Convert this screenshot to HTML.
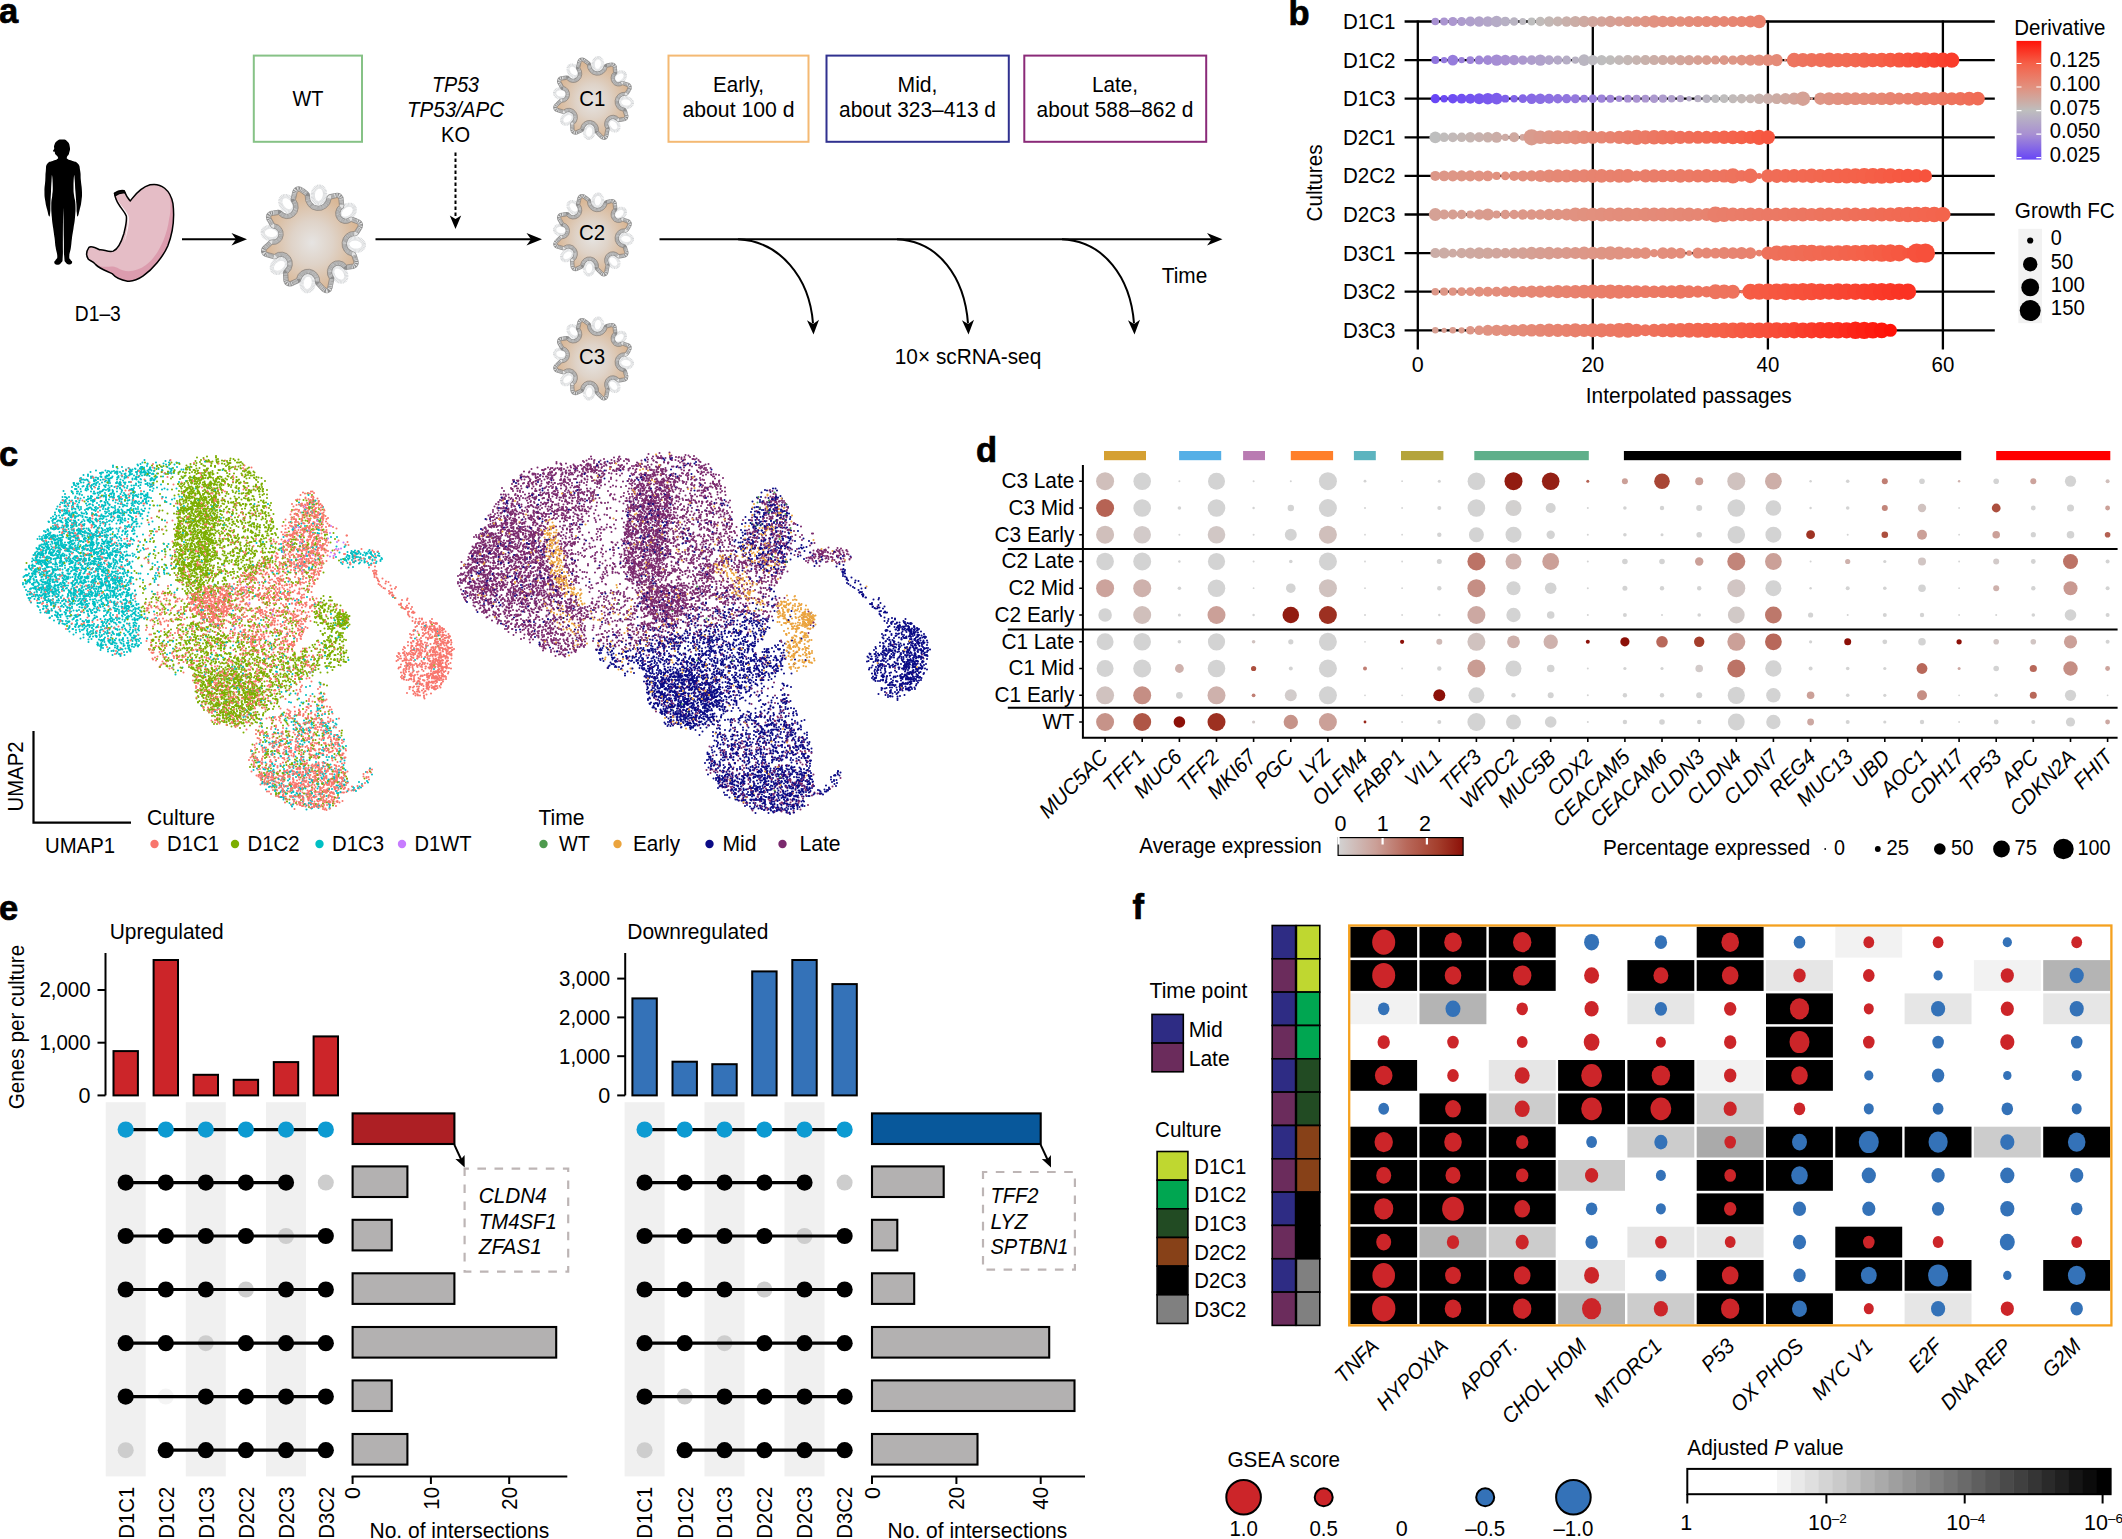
<!DOCTYPE html>
<html><head><meta charset="utf-8"><title>Figure</title>
<style>
html,body{margin:0;padding:0;background:#fff;overflow:hidden;}
svg{display:block;font-family:"Liberation Sans",sans-serif;}
text{fill:#000;}
.t{font-size:21px;}
.i{font-style:italic;}
.b{font-weight:bold;}
</style></head><body>
<svg width="2122" height="1539" viewBox="0 0 2122 1539">
<defs>
<radialGradient id="og1" cx="50%" cy="53%" r="50%"><stop offset="0" stop-color="#e6e4e2"/><stop offset="0.45" stop-color="#dfd3c8"/><stop offset="1" stop-color="#d9b796"/></radialGradient>
<linearGradient id="dg" x1="0" y1="0" x2="0" y2="1"><stop offset="0.000" stop-color="#ff1208"/><stop offset="0.190" stop-color="#f56048"/><stop offset="0.389" stop-color="#e2907e"/><stop offset="0.587" stop-color="#bebebe"/><stop offset="0.785" stop-color="#a890d2"/><stop offset="1.000" stop-color="#6846f6"/></linearGradient>
<linearGradient id="eg" x1="0" y1="0" x2="1" y2="0"><stop offset="0.00" stop-color="#d3d3d3"/><stop offset="0.30" stop-color="#cba098"/><stop offset="0.55" stop-color="#b8685a"/><stop offset="0.80" stop-color="#a43e2c"/><stop offset="1.00" stop-color="#8c1008"/></linearGradient>
</defs>
<text x="-1.0" y="22.5" class="b" stroke="#000" stroke-width="0.7" font-size="34.5">a</text>
<path d="M235 70 C254.7 70.5 256.8 67.3 272 82 C287.2 96.7 288.3 101 292 125 C295.7 149 291.3 153.1 286 172 C280.7 190.9 274.7 185.1 272 196 C269.3 206.9 265.3 204.5 276 213 C286.7 221.5 291.7 218.7 312 228 C332.3 237.3 337.1 228.8 352 248 C366.9 267.2 362.4 267.5 368 300 C373.6 332.5 369.5 330 373 370 C376.5 410 379.9 410 381 450 C382.1 490 381.5 484 377 520 C372.5 556 371.2 555.1 364 585 C356.8 614.9 355.6 626.7 350 632 C344.4 637.3 345.7 629.5 343 605 C340.3 580.5 342.7 581.3 340 540 C337.3 498.7 336.2 495.3 333 450 C329.8 404.7 330.7 400.7 328 370 C325.3 339.3 325.4 321.7 323 335 C320.6 348.3 319 381.3 319 420 C319 458.7 319.3 446.7 323 480 C326.7 513.3 331.1 502.3 333 545 C334.9 587.7 333.7 593.3 330 640 C326.3 686.7 324.9 680 319 720 C313.1 760 313.1 752.7 308 790 C302.9 827.3 305.3 824 300 860 C294.7 896 289.1 901 288 925 C286.9 949 290.4 938 296 950 C301.6 962 310.6 960.4 309 970 C307.4 979.6 302.5 985.5 290 986 C277.5 986.5 272.4 986.9 262 972 C251.6 957.1 254.7 975.9 251 930 C247.3 884.1 249.6 884.8 248 800 C246.4 715.2 246.3 662.1 245 612 C243.7 561.9 244.1 561.9 243 612 C241.9 662.1 241.8 715.2 241 800 C240.2 884.8 242.9 884.1 240 930 C237.1 975.9 241.2 956.5 230 972 C218.8 987.5 211.9 988 198 988 C184.1 988 180.1 982.1 178 972 C175.9 961.9 184.1 962.5 190 950 C195.9 937.5 200.5 949 200 925 C199.5 901 193.3 896 188 860 C182.7 824 184.8 827.3 180 790 C175.2 752.7 175.3 760 170 720 C164.7 680 163.7 686.7 160 640 C156.3 593.3 155.2 587.7 156 545 C156.8 502.3 160.1 513.3 163 480 C165.9 446.7 167.3 458.7 167 420 C166.7 381.3 164.4 348.3 162 335 C159.6 321.7 160.1 339.3 158 370 C155.9 400.7 156.1 404.7 154 450 C151.9 495.3 151.6 498.7 150 540 C148.4 581.3 150.7 580.5 148 605 C145.3 629.5 145.9 637.3 140 632 C134.1 626.7 133.5 614.9 126 585 C118.5 555.1 117.3 556 112 520 C106.7 484 106 490 106 450 C106 410 109.3 410 112 370 C114.7 330 112 332.5 116 300 C120 267.5 113.7 267.2 127 248 C140.3 228.8 146.5 237.3 166 228 C185.5 218.7 190.1 221.5 200 213 C209.9 204.5 206.7 205.3 203 196 C199.3 186.7 192.1 187.6 186 178 C179.9 168.4 184.8 166.1 180 160 C175.2 153.9 168.8 160.9 168 155 C167.2 149.1 174.3 149.5 177 138 C179.7 126.5 172.4 127.5 178 112 C183.6 96.5 182.8 91.2 198 80 C213.2 68.8 215.3 69.5 235 70Z" fill="#000" transform="translate(30,130) scale(0.13641)"/>
<g transform="translate(30,130) scale(0.13641)">
<path d="M620,462 C640,448 670,442 690,445 C700,470 715,500 735,520 C760,490 800,425 880,402 C960,385 1030,440 1048,540 C1060,640 1045,760 1010,850 C975,930 900,1020 830,1070 C790,1098 750,1112 715,1108 C670,1100 630,1085 605,1055 C570,1035 520,1025 480,985 C460,960 440,960 428,948 C412,925 412,890 432,860 C450,848 480,862 510,878 C540,872 570,898 610,888 C650,870 670,820 688,760 C700,710 712,670 706,630 C690,590 650,560 632,510 C625,495 620,478 620,462 Z" fill="#e5bdc6" stroke="none"/>
<path d="M428,948 C460,960 470,985 520,1000 C570,1010 600,990 640,1010 C700,1050 780,1040 850,990 C930,930 1000,800 1020,650 C1040,560 1030,480 1005,440 C1040,470 1055,560 1050,680 C1040,800 1000,900 930,980 C860,1060 770,1115 700,1105 C660,1100 625,1080 605,1055 C570,1035 520,1025 480,985 C460,960 440,960 428,948 Z" fill="#dc9cae"/>
<path d="M640,500 C660,560 715,590 725,640 C730,700 705,780 690,830 C705,760 722,690 712,640 C700,600 655,560 640,500 Z" fill="#fff" opacity="0.85"/>
<path d="M620,462 C640,448 670,442 690,445 C700,470 715,500 735,520 C760,490 800,425 880,402 C960,385 1030,440 1048,540 C1060,640 1045,760 1010,850 C975,930 900,1020 830,1070 C790,1098 750,1112 715,1108 C670,1100 630,1085 605,1055 C570,1035 520,1025 480,985 C460,960 440,960 428,948 C412,925 412,890 432,860 C450,848 480,862 510,878 C540,872 570,898 610,888 C650,870 670,820 688,760 C700,710 712,670 706,630 C690,590 650,560 632,510 C625,495 620,478 620,462 Z" fill="none" stroke="#000" stroke-width="11" stroke-linejoin="round"/>
<path d="M618,466 C640,450 668,444 692,447 L697,462 C672,458 646,466 626,482 Z" fill="#111" stroke="#000" stroke-width="8"/>
</g>
<text x="97.8" y="321.0" text-anchor="middle" textLength="46.0" lengthAdjust="spacingAndGlyphs" font-size="21.5">D1–3</text>
<path d="M182 239.3 H241" stroke="#000" stroke-width="2" fill="none"/><path d="M247 239.3 L231.5 245.6 L236 239.3 L231.5 233.1 Z" fill="#000"/>
<path d="M375.5 239.3 H536" stroke="#000" stroke-width="2" fill="none"/><path d="M542 239.3 L526.5 245.6 L531 239.3 L526.5 233.1 Z" fill="#000"/>
<path d="M659.5 239.3 H1216.5" stroke="#000" stroke-width="2" fill="none"/><path d="M1222.5 239.3 L1207 245.6 L1211.5 239.3 L1207 233.1 Z" fill="#000"/>
<rect x="253.8" y="55.6" width="108.2" height="86.2" fill="none" stroke="#86c286" stroke-width="2"/>
<text x="308.0" y="106.2" text-anchor="middle" textLength="31.0" lengthAdjust="spacingAndGlyphs" font-size="21.5">WT</text>
<rect x="668.5" y="55.6" width="140" height="86.2" fill="none" stroke="#f4b973" stroke-width="2"/>
<rect x="826.5" y="55.6" width="182.3" height="86.2" fill="none" stroke="#30318f" stroke-width="2"/>
<rect x="1024.3" y="55.6" width="181.9" height="86.2" fill="none" stroke="#8a2a78" stroke-width="2"/>
<text x="738.5" y="91.5" text-anchor="middle" textLength="51.0" lengthAdjust="spacingAndGlyphs" font-size="21.5">Early,</text>
<text x="738.5" y="116.6" text-anchor="middle" textLength="112.0" lengthAdjust="spacingAndGlyphs" font-size="21.5">about 100 d</text>
<text x="917.5" y="91.5" text-anchor="middle" textLength="40.0" lengthAdjust="spacingAndGlyphs" font-size="21.5">Mid,</text>
<text x="917.5" y="116.6" text-anchor="middle" textLength="157.0" lengthAdjust="spacingAndGlyphs" font-size="21.5">about 323–413 d</text>
<text x="1115.0" y="91.5" text-anchor="middle" textLength="46.0" lengthAdjust="spacingAndGlyphs" font-size="21.5">Late,</text>
<text x="1115.0" y="116.6" text-anchor="middle" textLength="157.0" lengthAdjust="spacingAndGlyphs" font-size="21.5">about 588–862 d</text>
<text x="455.5" y="91.5" text-anchor="middle" textLength="47.0" lengthAdjust="spacingAndGlyphs" class="i" font-size="21.5">TP53</text>
<text x="455.5" y="116.6" text-anchor="middle" textLength="97.0" lengthAdjust="spacingAndGlyphs" class="i" font-size="21.5">TP53/APC</text>
<text x="455.5" y="141.8" text-anchor="middle" textLength="29.0" lengthAdjust="spacingAndGlyphs" font-size="21.5">KO</text>
<path d="M455.5 152.5 V218" stroke="#000" stroke-width="2" stroke-dasharray="3.6 2.4" fill="none"/>
<path d="M455.5 229 L449.8 215.5 L455.5 219 L461.2 215.5 Z" fill="#000"/>
<ellipse cx="355.6" cy="244.6" rx="8.3" ry="6.1" transform="rotate(7.5 355.6 244.6)" fill="#fff" stroke="#d6d8da" stroke-width="4.3" stroke-dasharray="0.8 0.45"/>
<ellipse cx="339.3" cy="274" rx="8.3" ry="6.1" transform="rotate(52.5 339.3 274)" fill="#fff" stroke="#d6d8da" stroke-width="4.3" stroke-dasharray="0.8 0.45"/>
<ellipse cx="307.7" cy="282.8" rx="8.3" ry="6.1" transform="rotate(97.5 307.7 282.8)" fill="#fff" stroke="#d6d8da" stroke-width="4.3" stroke-dasharray="0.8 0.45"/>
<ellipse cx="279.4" cy="265.8" rx="8.3" ry="6.1" transform="rotate(142.5 279.4 265.8)" fill="#fff" stroke="#d6d8da" stroke-width="4.3" stroke-dasharray="0.8 0.45"/>
<ellipse cx="271" cy="233" rx="8.3" ry="6.1" transform="rotate(187.5 271 233)" fill="#fff" stroke="#d6d8da" stroke-width="4.3" stroke-dasharray="0.8 0.45"/>
<ellipse cx="287.3" cy="203.6" rx="8.3" ry="6.1" transform="rotate(232.5 287.3 203.6)" fill="#fff" stroke="#d6d8da" stroke-width="4.3" stroke-dasharray="0.8 0.45"/>
<ellipse cx="318.9" cy="194.8" rx="8.3" ry="6.1" transform="rotate(277.5 318.9 194.8)" fill="#fff" stroke="#d6d8da" stroke-width="4.3" stroke-dasharray="0.8 0.45"/>
<ellipse cx="347.2" cy="211.8" rx="8.3" ry="6.1" transform="rotate(322.5 347.2 211.8)" fill="#fff" stroke="#d6d8da" stroke-width="4.3" stroke-dasharray="0.8 0.45"/>
<path d="M357 227.6 L354.6 231.4 A11.9 12.4 0 0 0 351.9 256 L353.3 260.3 Q355.2 264.3 350.9 264.3 L346.5 265 A10.8 11.3 0 0 0 329.4 278.8 L328.1 285.3 Q327.6 290.8 324.2 286.5 L319.8 281.9 A11.8 12.2 0 0 0 296.5 278.7 L292 280.7 Q287.9 283.2 288.1 278.2 L287.8 273.2 A11.3 11.7 0 0 0 274.3 254.4 L268.8 252.8 Q263.5 251.8 267.8 248.5 L272.2 244.4 A9.9 10.3 0 0 0 274.4 223.8 L271.9 219.4 Q269 215.4 273.8 215.3 L278.6 214.6 A11.1 11.5 0 0 0 295.5 199.6 L296.7 194.3 Q297.4 189.1 301.1 192.5 L305.2 195.6 A13.1 13.6 0 0 0 331.2 198.9 L335.3 198 Q339.1 196.4 338.9 200.9 L339.4 205.3 A9.9 10.2 0 0 0 351.3 221.6 L355.5 223.2 Q359.9 224.1 357 227.6Z" fill="none" stroke="#8e8e8e" stroke-width="9.8" stroke-linejoin="round"/>
<path d="M357 227.6 L354.6 231.4 A11.9 12.4 0 0 0 351.9 256 L353.3 260.3 Q355.2 264.3 350.9 264.3 L346.5 265 A10.8 11.3 0 0 0 329.4 278.8 L328.1 285.3 Q327.6 290.8 324.2 286.5 L319.8 281.9 A11.8 12.2 0 0 0 296.5 278.7 L292 280.7 Q287.9 283.2 288.1 278.2 L287.8 273.2 A11.3 11.7 0 0 0 274.3 254.4 L268.8 252.8 Q263.5 251.8 267.8 248.5 L272.2 244.4 A9.9 10.3 0 0 0 274.4 223.8 L271.9 219.4 Q269 215.4 273.8 215.3 L278.6 214.6 A11.1 11.5 0 0 0 295.5 199.6 L296.7 194.3 Q297.4 189.1 301.1 192.5 L305.2 195.6 A13.1 13.6 0 0 0 331.2 198.9 L335.3 198 Q339.1 196.4 338.9 200.9 L339.4 205.3 A9.9 10.2 0 0 0 351.3 221.6 L355.5 223.2 Q359.9 224.1 357 227.6Z" fill="none" stroke="#e2e2e2" stroke-width="8.5" stroke-dasharray="0.5 0.6" stroke-linejoin="round"/>
<path d="M357 227.6 L354.6 231.4 A11.9 12.4 0 0 0 351.9 256 L353.3 260.3 Q355.2 264.3 350.9 264.3 L346.5 265 A10.8 11.3 0 0 0 329.4 278.8 L328.1 285.3 Q327.6 290.8 324.2 286.5 L319.8 281.9 A11.8 12.2 0 0 0 296.5 278.7 L292 280.7 Q287.9 283.2 288.1 278.2 L287.8 273.2 A11.3 11.7 0 0 0 274.3 254.4 L268.8 252.8 Q263.5 251.8 267.8 248.5 L272.2 244.4 A9.9 10.3 0 0 0 274.4 223.8 L271.9 219.4 Q269 215.4 273.8 215.3 L278.6 214.6 A11.1 11.5 0 0 0 295.5 199.6 L296.7 194.3 Q297.4 189.1 301.1 192.5 L305.2 195.6 A13.1 13.6 0 0 0 331.2 198.9 L335.3 198 Q339.1 196.4 338.9 200.9 L339.4 205.3 A9.9 10.2 0 0 0 351.3 221.6 L355.5 223.2 Q359.9 224.1 357 227.6Z" fill="url(#og1)" stroke="#8f857c" stroke-width="0.8" stroke-linejoin="round"/>
<ellipse cx="626" cy="102.5" rx="6.4" ry="4.7" transform="rotate(7.5 626 102.5)" fill="#fff" stroke="#d6d8da" stroke-width="3.3" stroke-dasharray="0.8 0.45"/>
<ellipse cx="613.5" cy="125.1" rx="6.4" ry="4.7" transform="rotate(52.5 613.5 125.1)" fill="#fff" stroke="#d6d8da" stroke-width="3.3" stroke-dasharray="0.8 0.45"/>
<ellipse cx="589.2" cy="131.9" rx="6.4" ry="4.7" transform="rotate(97.5 589.2 131.9)" fill="#fff" stroke="#d6d8da" stroke-width="3.3" stroke-dasharray="0.8 0.45"/>
<ellipse cx="567.5" cy="118.8" rx="6.4" ry="4.7" transform="rotate(142.5 567.5 118.8)" fill="#fff" stroke="#d6d8da" stroke-width="3.3" stroke-dasharray="0.8 0.45"/>
<ellipse cx="561" cy="93.5" rx="6.4" ry="4.7" transform="rotate(187.5 561 93.5)" fill="#fff" stroke="#d6d8da" stroke-width="3.3" stroke-dasharray="0.8 0.45"/>
<ellipse cx="573.5" cy="70.9" rx="6.4" ry="4.7" transform="rotate(232.5 573.5 70.9)" fill="#fff" stroke="#d6d8da" stroke-width="3.3" stroke-dasharray="0.8 0.45"/>
<ellipse cx="597.8" cy="64.1" rx="6.4" ry="4.7" transform="rotate(277.5 597.8 64.1)" fill="#fff" stroke="#d6d8da" stroke-width="3.3" stroke-dasharray="0.8 0.45"/>
<ellipse cx="619.5" cy="77.2" rx="6.4" ry="4.7" transform="rotate(322.5 619.5 77.2)" fill="#fff" stroke="#d6d8da" stroke-width="3.3" stroke-dasharray="0.8 0.45"/>
<path d="M627.1 89.4 L625.3 92.3 A9.2 9.5 0 0 0 623.2 111.2 L624.2 114.5 Q625.8 117.6 622.4 117.6 L619 118.1 A8.3 8.7 0 0 0 605.9 128.7 L604.9 133.8 Q604.5 138 601.9 134.7 L598.5 131.1 A9 9.4 0 0 0 580.5 128.7 L577.1 130.2 Q574 132.1 574.1 128.3 L573.9 124.5 A8.7 9 0 0 0 563.5 110 L559.3 108.8 Q555.2 108 558.5 105.5 L561.9 102.3 A7.6 8 0 0 0 563.6 86.5 L561.7 83.1 Q559.4 80 563.1 79.9 L566.8 79.4 A8.5 8.9 0 0 0 579.8 67.8 L580.7 63.8 Q581.3 59.7 584.1 62.4 L587.3 64.8 A10.1 10.5 0 0 0 607.2 67.3 L610.4 66.6 Q613.4 65.4 613.2 68.8 L613.5 72.3 A7.6 7.9 0 0 0 622.7 84.8 L626 86 Q629.4 86.7 627.1 89.4Z" fill="none" stroke="#8e8e8e" stroke-width="7.7" stroke-linejoin="round"/>
<path d="M627.1 89.4 L625.3 92.3 A9.2 9.5 0 0 0 623.2 111.2 L624.2 114.5 Q625.8 117.6 622.4 117.6 L619 118.1 A8.3 8.7 0 0 0 605.9 128.7 L604.9 133.8 Q604.5 138 601.9 134.7 L598.5 131.1 A9 9.4 0 0 0 580.5 128.7 L577.1 130.2 Q574 132.1 574.1 128.3 L573.9 124.5 A8.7 9 0 0 0 563.5 110 L559.3 108.8 Q555.2 108 558.5 105.5 L561.9 102.3 A7.6 8 0 0 0 563.6 86.5 L561.7 83.1 Q559.4 80 563.1 79.9 L566.8 79.4 A8.5 8.9 0 0 0 579.8 67.8 L580.7 63.8 Q581.3 59.7 584.1 62.4 L587.3 64.8 A10.1 10.5 0 0 0 607.2 67.3 L610.4 66.6 Q613.4 65.4 613.2 68.8 L613.5 72.3 A7.6 7.9 0 0 0 622.7 84.8 L626 86 Q629.4 86.7 627.1 89.4Z" fill="none" stroke="#e2e2e2" stroke-width="6.4" stroke-dasharray="0.5 0.6" stroke-linejoin="round"/>
<path d="M627.1 89.4 L625.3 92.3 A9.2 9.5 0 0 0 623.2 111.2 L624.2 114.5 Q625.8 117.6 622.4 117.6 L619 118.1 A8.3 8.7 0 0 0 605.9 128.7 L604.9 133.8 Q604.5 138 601.9 134.7 L598.5 131.1 A9 9.4 0 0 0 580.5 128.7 L577.1 130.2 Q574 132.1 574.1 128.3 L573.9 124.5 A8.7 9 0 0 0 563.5 110 L559.3 108.8 Q555.2 108 558.5 105.5 L561.9 102.3 A7.6 8 0 0 0 563.6 86.5 L561.7 83.1 Q559.4 80 563.1 79.9 L566.8 79.4 A8.5 8.9 0 0 0 579.8 67.8 L580.7 63.8 Q581.3 59.7 584.1 62.4 L587.3 64.8 A10.1 10.5 0 0 0 607.2 67.3 L610.4 66.6 Q613.4 65.4 613.2 68.8 L613.5 72.3 A7.6 7.9 0 0 0 622.7 84.8 L626 86 Q629.4 86.7 627.1 89.4Z" fill="url(#og1)" stroke="#8f857c" stroke-width="0.8" stroke-linejoin="round"/>
<text x="592.2" y="106.2" text-anchor="middle" textLength="26.1" lengthAdjust="spacingAndGlyphs" font-size="21.5">C1</text>
<ellipse cx="626" cy="239" rx="6.4" ry="4.7" transform="rotate(7.5 626 239)" fill="#fff" stroke="#d6d8da" stroke-width="3.3" stroke-dasharray="0.8 0.45"/>
<ellipse cx="613.5" cy="261.6" rx="6.4" ry="4.7" transform="rotate(52.5 613.5 261.6)" fill="#fff" stroke="#d6d8da" stroke-width="3.3" stroke-dasharray="0.8 0.45"/>
<ellipse cx="589.2" cy="268.4" rx="6.4" ry="4.7" transform="rotate(97.5 589.2 268.4)" fill="#fff" stroke="#d6d8da" stroke-width="3.3" stroke-dasharray="0.8 0.45"/>
<ellipse cx="567.5" cy="255.3" rx="6.4" ry="4.7" transform="rotate(142.5 567.5 255.3)" fill="#fff" stroke="#d6d8da" stroke-width="3.3" stroke-dasharray="0.8 0.45"/>
<ellipse cx="561" cy="230" rx="6.4" ry="4.7" transform="rotate(187.5 561 230)" fill="#fff" stroke="#d6d8da" stroke-width="3.3" stroke-dasharray="0.8 0.45"/>
<ellipse cx="573.5" cy="207.4" rx="6.4" ry="4.7" transform="rotate(232.5 573.5 207.4)" fill="#fff" stroke="#d6d8da" stroke-width="3.3" stroke-dasharray="0.8 0.45"/>
<ellipse cx="597.8" cy="200.6" rx="6.4" ry="4.7" transform="rotate(277.5 597.8 200.6)" fill="#fff" stroke="#d6d8da" stroke-width="3.3" stroke-dasharray="0.8 0.45"/>
<ellipse cx="619.5" cy="213.7" rx="6.4" ry="4.7" transform="rotate(322.5 619.5 213.7)" fill="#fff" stroke="#d6d8da" stroke-width="3.3" stroke-dasharray="0.8 0.45"/>
<path d="M627.1 225.9 L625.3 228.8 A9.2 9.5 0 0 0 623.2 247.7 L624.2 251 Q625.8 254.1 622.4 254.1 L619 254.6 A8.3 8.7 0 0 0 605.9 265.2 L604.9 270.3 Q604.5 274.5 601.9 271.2 L598.5 267.6 A9 9.4 0 0 0 580.5 265.2 L577.1 266.7 Q574 268.6 574.1 264.8 L573.9 261 A8.7 9 0 0 0 563.5 246.5 L559.3 245.3 Q555.2 244.5 558.5 242 L561.9 238.8 A7.6 8 0 0 0 563.6 223 L561.7 219.6 Q559.4 216.5 563.1 216.4 L566.8 215.9 A8.5 8.9 0 0 0 579.8 204.3 L580.7 200.3 Q581.3 196.2 584.1 198.9 L587.3 201.3 A10.1 10.5 0 0 0 607.2 203.8 L610.4 203.1 Q613.4 201.9 613.2 205.3 L613.5 208.8 A7.6 7.9 0 0 0 622.7 221.3 L626 222.5 Q629.4 223.2 627.1 225.9Z" fill="none" stroke="#8e8e8e" stroke-width="7.7" stroke-linejoin="round"/>
<path d="M627.1 225.9 L625.3 228.8 A9.2 9.5 0 0 0 623.2 247.7 L624.2 251 Q625.8 254.1 622.4 254.1 L619 254.6 A8.3 8.7 0 0 0 605.9 265.2 L604.9 270.3 Q604.5 274.5 601.9 271.2 L598.5 267.6 A9 9.4 0 0 0 580.5 265.2 L577.1 266.7 Q574 268.6 574.1 264.8 L573.9 261 A8.7 9 0 0 0 563.5 246.5 L559.3 245.3 Q555.2 244.5 558.5 242 L561.9 238.8 A7.6 8 0 0 0 563.6 223 L561.7 219.6 Q559.4 216.5 563.1 216.4 L566.8 215.9 A8.5 8.9 0 0 0 579.8 204.3 L580.7 200.3 Q581.3 196.2 584.1 198.9 L587.3 201.3 A10.1 10.5 0 0 0 607.2 203.8 L610.4 203.1 Q613.4 201.9 613.2 205.3 L613.5 208.8 A7.6 7.9 0 0 0 622.7 221.3 L626 222.5 Q629.4 223.2 627.1 225.9Z" fill="none" stroke="#e2e2e2" stroke-width="6.4" stroke-dasharray="0.5 0.6" stroke-linejoin="round"/>
<path d="M627.1 225.9 L625.3 228.8 A9.2 9.5 0 0 0 623.2 247.7 L624.2 251 Q625.8 254.1 622.4 254.1 L619 254.6 A8.3 8.7 0 0 0 605.9 265.2 L604.9 270.3 Q604.5 274.5 601.9 271.2 L598.5 267.6 A9 9.4 0 0 0 580.5 265.2 L577.1 266.7 Q574 268.6 574.1 264.8 L573.9 261 A8.7 9 0 0 0 563.5 246.5 L559.3 245.3 Q555.2 244.5 558.5 242 L561.9 238.8 A7.6 8 0 0 0 563.6 223 L561.7 219.6 Q559.4 216.5 563.1 216.4 L566.8 215.9 A8.5 8.9 0 0 0 579.8 204.3 L580.7 200.3 Q581.3 196.2 584.1 198.9 L587.3 201.3 A10.1 10.5 0 0 0 607.2 203.8 L610.4 203.1 Q613.4 201.9 613.2 205.3 L613.5 208.8 A7.6 7.9 0 0 0 622.7 221.3 L626 222.5 Q629.4 223.2 627.1 225.9Z" fill="url(#og1)" stroke="#8f857c" stroke-width="0.8" stroke-linejoin="round"/>
<text x="592.0" y="240.3" text-anchor="middle" textLength="26.1" lengthAdjust="spacingAndGlyphs" font-size="21.5">C2</text>
<ellipse cx="626" cy="363" rx="6.4" ry="4.7" transform="rotate(7.5 626 363)" fill="#fff" stroke="#d6d8da" stroke-width="3.3" stroke-dasharray="0.8 0.45"/>
<ellipse cx="613.5" cy="385.6" rx="6.4" ry="4.7" transform="rotate(52.5 613.5 385.6)" fill="#fff" stroke="#d6d8da" stroke-width="3.3" stroke-dasharray="0.8 0.45"/>
<ellipse cx="589.2" cy="392.4" rx="6.4" ry="4.7" transform="rotate(97.5 589.2 392.4)" fill="#fff" stroke="#d6d8da" stroke-width="3.3" stroke-dasharray="0.8 0.45"/>
<ellipse cx="567.5" cy="379.3" rx="6.4" ry="4.7" transform="rotate(142.5 567.5 379.3)" fill="#fff" stroke="#d6d8da" stroke-width="3.3" stroke-dasharray="0.8 0.45"/>
<ellipse cx="561" cy="354" rx="6.4" ry="4.7" transform="rotate(187.5 561 354)" fill="#fff" stroke="#d6d8da" stroke-width="3.3" stroke-dasharray="0.8 0.45"/>
<ellipse cx="573.5" cy="331.4" rx="6.4" ry="4.7" transform="rotate(232.5 573.5 331.4)" fill="#fff" stroke="#d6d8da" stroke-width="3.3" stroke-dasharray="0.8 0.45"/>
<ellipse cx="597.8" cy="324.6" rx="6.4" ry="4.7" transform="rotate(277.5 597.8 324.6)" fill="#fff" stroke="#d6d8da" stroke-width="3.3" stroke-dasharray="0.8 0.45"/>
<ellipse cx="619.5" cy="337.7" rx="6.4" ry="4.7" transform="rotate(322.5 619.5 337.7)" fill="#fff" stroke="#d6d8da" stroke-width="3.3" stroke-dasharray="0.8 0.45"/>
<path d="M627.1 349.9 L625.3 352.8 A9.2 9.5 0 0 0 623.2 371.7 L624.2 375 Q625.8 378.1 622.4 378.1 L619 378.6 A8.3 8.7 0 0 0 605.9 389.2 L604.9 394.3 Q604.5 398.5 601.9 395.2 L598.5 391.6 A9 9.4 0 0 0 580.5 389.2 L577.1 390.7 Q574 392.6 574.1 388.8 L573.9 385 A8.7 9 0 0 0 563.5 370.5 L559.3 369.3 Q555.2 368.5 558.5 366 L561.9 362.8 A7.6 8 0 0 0 563.6 347 L561.7 343.6 Q559.4 340.5 563.1 340.4 L566.8 339.9 A8.5 8.9 0 0 0 579.8 328.3 L580.7 324.3 Q581.3 320.2 584.1 322.9 L587.3 325.3 A10.1 10.5 0 0 0 607.2 327.8 L610.4 327.1 Q613.4 325.9 613.2 329.3 L613.5 332.8 A7.6 7.9 0 0 0 622.7 345.3 L626 346.5 Q629.4 347.2 627.1 349.9Z" fill="none" stroke="#8e8e8e" stroke-width="7.7" stroke-linejoin="round"/>
<path d="M627.1 349.9 L625.3 352.8 A9.2 9.5 0 0 0 623.2 371.7 L624.2 375 Q625.8 378.1 622.4 378.1 L619 378.6 A8.3 8.7 0 0 0 605.9 389.2 L604.9 394.3 Q604.5 398.5 601.9 395.2 L598.5 391.6 A9 9.4 0 0 0 580.5 389.2 L577.1 390.7 Q574 392.6 574.1 388.8 L573.9 385 A8.7 9 0 0 0 563.5 370.5 L559.3 369.3 Q555.2 368.5 558.5 366 L561.9 362.8 A7.6 8 0 0 0 563.6 347 L561.7 343.6 Q559.4 340.5 563.1 340.4 L566.8 339.9 A8.5 8.9 0 0 0 579.8 328.3 L580.7 324.3 Q581.3 320.2 584.1 322.9 L587.3 325.3 A10.1 10.5 0 0 0 607.2 327.8 L610.4 327.1 Q613.4 325.9 613.2 329.3 L613.5 332.8 A7.6 7.9 0 0 0 622.7 345.3 L626 346.5 Q629.4 347.2 627.1 349.9Z" fill="none" stroke="#e2e2e2" stroke-width="6.4" stroke-dasharray="0.5 0.6" stroke-linejoin="round"/>
<path d="M627.1 349.9 L625.3 352.8 A9.2 9.5 0 0 0 623.2 371.7 L624.2 375 Q625.8 378.1 622.4 378.1 L619 378.6 A8.3 8.7 0 0 0 605.9 389.2 L604.9 394.3 Q604.5 398.5 601.9 395.2 L598.5 391.6 A9 9.4 0 0 0 580.5 389.2 L577.1 390.7 Q574 392.6 574.1 388.8 L573.9 385 A8.7 9 0 0 0 563.5 370.5 L559.3 369.3 Q555.2 368.5 558.5 366 L561.9 362.8 A7.6 8 0 0 0 563.6 347 L561.7 343.6 Q559.4 340.5 563.1 340.4 L566.8 339.9 A8.5 8.9 0 0 0 579.8 328.3 L580.7 324.3 Q581.3 320.2 584.1 322.9 L587.3 325.3 A10.1 10.5 0 0 0 607.2 327.8 L610.4 327.1 Q613.4 325.9 613.2 329.3 L613.5 332.8 A7.6 7.9 0 0 0 622.7 345.3 L626 346.5 Q629.4 347.2 627.1 349.9Z" fill="url(#og1)" stroke="#8f857c" stroke-width="0.8" stroke-linejoin="round"/>
<text x="592.0" y="363.8" text-anchor="middle" textLength="26.1" lengthAdjust="spacingAndGlyphs" font-size="21.5">C3</text>
<path d="M738 239.3 C780 241.3 809.5 277.3 813 323.3" stroke="#000" stroke-width="2" fill="none"/>
<path d="M813.5 334.5 L807 320.2 L813.1 324 L819 319.8 Z" fill="#000"/>
<path d="M897 239.3 C939 241.3 964.5 277.3 968 323.3" stroke="#000" stroke-width="2" fill="none"/>
<path d="M968.5 334.5 L962 320.2 L968.1 324 L974 319.8 Z" fill="#000"/>
<path d="M1062 239.3 C1104 241.3 1130.5 277.3 1134 323.3" stroke="#000" stroke-width="2" fill="none"/>
<path d="M1134.5 334.5 L1128 320.2 L1134.1 324 L1140 319.8 Z" fill="#000"/>
<text x="1184.5" y="282.8" text-anchor="middle" textLength="45.5" lengthAdjust="spacingAndGlyphs" font-size="21.5">Time</text>
<text x="968.0" y="364.0" text-anchor="middle" textLength="146.5" lengthAdjust="spacingAndGlyphs" font-size="21.5">10× scRNA-seq</text>
<text x="1288.5" y="24.5" class="b" stroke="#000" stroke-width="0.7" font-size="34.5">b</text>
<path d="M1404.6 21.5 H1994.8" stroke="#000" stroke-width="2.3"/>
<text x="1395.5" y="28.9" text-anchor="end" textLength="52.5" lengthAdjust="spacingAndGlyphs" font-size="21.5">D1C1</text>
<path d="M1404.6 60.1 H1994.8" stroke="#000" stroke-width="2.3"/>
<text x="1395.5" y="67.5" text-anchor="end" textLength="52.5" lengthAdjust="spacingAndGlyphs" font-size="21.5">D1C2</text>
<path d="M1404.6 98.7 H1994.8" stroke="#000" stroke-width="2.3"/>
<text x="1395.5" y="106.1" text-anchor="end" textLength="52.5" lengthAdjust="spacingAndGlyphs" font-size="21.5">D1C3</text>
<path d="M1404.6 137.3 H1994.8" stroke="#000" stroke-width="2.3"/>
<text x="1395.5" y="144.7" text-anchor="end" textLength="52.5" lengthAdjust="spacingAndGlyphs" font-size="21.5">D2C1</text>
<path d="M1404.6 175.9 H1994.8" stroke="#000" stroke-width="2.3"/>
<text x="1395.5" y="183.3" text-anchor="end" textLength="52.5" lengthAdjust="spacingAndGlyphs" font-size="21.5">D2C2</text>
<path d="M1404.6 214.5 H1994.8" stroke="#000" stroke-width="2.3"/>
<text x="1395.5" y="221.9" text-anchor="end" textLength="52.5" lengthAdjust="spacingAndGlyphs" font-size="21.5">D2C3</text>
<path d="M1404.6 253.1 H1994.8" stroke="#000" stroke-width="2.3"/>
<text x="1395.5" y="260.5" text-anchor="end" textLength="52.5" lengthAdjust="spacingAndGlyphs" font-size="21.5">D3C1</text>
<path d="M1404.6 291.7 H1994.8" stroke="#000" stroke-width="2.3"/>
<text x="1395.5" y="299.1" text-anchor="end" textLength="52.5" lengthAdjust="spacingAndGlyphs" font-size="21.5">D3C2</text>
<path d="M1404.6 330.3 H1994.8" stroke="#000" stroke-width="2.3"/>
<text x="1395.5" y="337.7" text-anchor="end" textLength="52.5" lengthAdjust="spacingAndGlyphs" font-size="21.5">D3C3</text>
<path d="M1417.8 20.4 V349.6" stroke="#000" stroke-width="2.3"/>
<text x="1417.8" y="371.8" text-anchor="middle" font-size="21.5">0</text>
<path d="M1592.8 20.4 V349.6" stroke="#000" stroke-width="2.3"/>
<text x="1592.8" y="371.8" text-anchor="middle" textLength="22.7" lengthAdjust="spacingAndGlyphs" font-size="21.5">20</text>
<path d="M1767.9 20.4 V349.6" stroke="#000" stroke-width="2.3"/>
<text x="1767.9" y="371.8" text-anchor="middle" textLength="22.7" lengthAdjust="spacingAndGlyphs" font-size="21.5">40</text>
<path d="M1942.9 20.4 V349.6" stroke="#000" stroke-width="2.3"/>
<text x="1942.9" y="371.8" text-anchor="middle" textLength="22.7" lengthAdjust="spacingAndGlyphs" font-size="21.5">60</text>
<circle cx="1435.3" cy="21.5" r="3.8" fill="#a890d2"/>
<circle cx="1444.1" cy="21.5" r="4" fill="#aa94d0"/>
<circle cx="1452.8" cy="21.5" r="4.6" fill="#ac97cf"/>
<circle cx="1461.6" cy="21.5" r="4.5" fill="#ad9bcd"/>
<circle cx="1470.3" cy="21.5" r="5.1" fill="#af9fcc"/>
<circle cx="1479.1" cy="21.5" r="5.2" fill="#b1a2ca"/>
<circle cx="1487.8" cy="21.5" r="5.3" fill="#b3a6c8"/>
<circle cx="1496.6" cy="21.5" r="5.8" fill="#b5abc6"/>
<circle cx="1505.3" cy="21.5" r="4.8" fill="#b7b0c4"/>
<circle cx="1514.1" cy="21.5" r="4.3" fill="#b9b4c2"/>
<circle cx="1522.8" cy="21.5" r="3.5" fill="#bcb9c0"/>
<circle cx="1531.6" cy="21.5" r="4" fill="#bebebe"/>
<circle cx="1540.3" cy="21.5" r="4.7" fill="#c1bbb9"/>
<circle cx="1549.1" cy="21.5" r="5.2" fill="#c3b7b4"/>
<circle cx="1557.8" cy="21.5" r="5" fill="#c6b4b0"/>
<circle cx="1566.6" cy="21.5" r="5.2" fill="#c9b0ab"/>
<circle cx="1575.3" cy="21.5" r="5.5" fill="#cbada6"/>
<circle cx="1584.1" cy="21.5" r="5.7" fill="#cea9a1"/>
<circle cx="1592.8" cy="21.5" r="5.5" fill="#d1a69d"/>
<circle cx="1601.6" cy="21.5" r="5.3" fill="#d3a399"/>
<circle cx="1610.3" cy="21.5" r="5.7" fill="#d5a095"/>
<circle cx="1619.1" cy="21.5" r="5.1" fill="#d89d91"/>
<circle cx="1627.8" cy="21.5" r="5.6" fill="#da9b8d"/>
<circle cx="1636.6" cy="21.5" r="5.3" fill="#dc9889"/>
<circle cx="1645.4" cy="21.5" r="5.7" fill="#de9585"/>
<circle cx="1654.1" cy="21.5" r="6.2" fill="#e19281"/>
<circle cx="1662.9" cy="21.5" r="5.8" fill="#e2907f"/>
<circle cx="1671.6" cy="21.5" r="5.6" fill="#e28f7d"/>
<circle cx="1680.4" cy="21.5" r="5.3" fill="#e38e7b"/>
<circle cx="1689.1" cy="21.5" r="5.5" fill="#e48c7a"/>
<circle cx="1697.9" cy="21.5" r="5.6" fill="#e48b78"/>
<circle cx="1706.6" cy="21.5" r="5.5" fill="#e58976"/>
<circle cx="1715.4" cy="21.5" r="5.7" fill="#e58875"/>
<circle cx="1724.1" cy="21.5" r="5.4" fill="#e68673"/>
<circle cx="1732.9" cy="21.5" r="5.5" fill="#e68572"/>
<circle cx="1741.6" cy="21.5" r="5.6" fill="#e78470"/>
<circle cx="1750.4" cy="21.5" r="5.9" fill="#e8826e"/>
<circle cx="1759.1" cy="21.5" r="6.8" fill="#e8816d"/>
<circle cx="1435.3" cy="60.1" r="4" fill="#9075df"/>
<circle cx="1444.1" cy="60.1" r="3.2" fill="#9378de"/>
<circle cx="1452.8" cy="60.1" r="5.4" fill="#967cdc"/>
<circle cx="1461.6" cy="60.1" r="3.2" fill="#997fda"/>
<circle cx="1470.3" cy="60.1" r="3.9" fill="#9c82d9"/>
<circle cx="1479.1" cy="60.1" r="4.5" fill="#9f86d7"/>
<circle cx="1487.8" cy="60.1" r="4.8" fill="#a289d5"/>
<circle cx="1496.6" cy="60.1" r="5.7" fill="#a58dd4"/>
<circle cx="1505.3" cy="60.1" r="5.3" fill="#a890d2"/>
<circle cx="1514.1" cy="60.1" r="5.1" fill="#aa94d0"/>
<circle cx="1522.8" cy="60.1" r="4.7" fill="#ac98ce"/>
<circle cx="1531.6" cy="60.1" r="4.9" fill="#ae9dcc"/>
<circle cx="1540.3" cy="60.1" r="5.7" fill="#b0a1cb"/>
<circle cx="1549.1" cy="60.1" r="4.8" fill="#b2a5c9"/>
<circle cx="1557.8" cy="60.1" r="4.6" fill="#b4a9c7"/>
<circle cx="1566.6" cy="60.1" r="4.5" fill="#b6aec5"/>
<circle cx="1575.3" cy="60.1" r="3.7" fill="#b8b2c3"/>
<circle cx="1584.1" cy="60.1" r="5.8" fill="#bab6c1"/>
<circle cx="1592.8" cy="60.1" r="5.2" fill="#bcbac0"/>
<circle cx="1601.6" cy="60.1" r="5.2" fill="#bebdbe"/>
<circle cx="1610.3" cy="60.1" r="4.9" fill="#bfbcbb"/>
<circle cx="1619.1" cy="60.1" r="4.9" fill="#c2b9b8"/>
<circle cx="1627.8" cy="60.1" r="5.1" fill="#c4b7b4"/>
<circle cx="1636.6" cy="60.1" r="4.8" fill="#c6b4b0"/>
<circle cx="1645.4" cy="60.1" r="5" fill="#c8b1ab"/>
<circle cx="1654.1" cy="60.1" r="5" fill="#cbaea7"/>
<circle cx="1662.9" cy="60.1" r="5" fill="#cdaba3"/>
<circle cx="1671.6" cy="60.1" r="4.9" fill="#cfa89f"/>
<circle cx="1680.4" cy="60.1" r="5.2" fill="#d2a59b"/>
<circle cx="1689.1" cy="60.1" r="5.2" fill="#d4a297"/>
<circle cx="1697.9" cy="60.1" r="4.8" fill="#d69f92"/>
<circle cx="1706.6" cy="60.1" r="4.9" fill="#d89d8f"/>
<circle cx="1715.4" cy="60.1" r="4.5" fill="#da9a8c"/>
<circle cx="1724.1" cy="60.1" r="4.8" fill="#dc9889"/>
<circle cx="1732.9" cy="60.1" r="4.7" fill="#dd9686"/>
<circle cx="1741.6" cy="60.1" r="5.3" fill="#df9483"/>
<circle cx="1750.4" cy="60.1" r="5.6" fill="#e19180"/>
<circle cx="1759.1" cy="60.1" r="5.7" fill="#e28f7d"/>
<circle cx="1767.9" cy="60.1" r="5.9" fill="#e38d7b"/>
<circle cx="1776.6" cy="60.1" r="6.1" fill="#e48b78"/>
<circle cx="1785.4" cy="60.1" r="1.4" fill="#e58875"/>
<circle cx="1794.1" cy="60.1" r="7.3" fill="#ed7560"/>
<circle cx="1802.9" cy="60.1" r="7.1" fill="#ed735e"/>
<circle cx="1811.6" cy="60.1" r="7.1" fill="#ee715b"/>
<circle cx="1820.4" cy="60.1" r="7.1" fill="#ef6f59"/>
<circle cx="1829.1" cy="60.1" r="7.6" fill="#f06d57"/>
<circle cx="1837.9" cy="60.1" r="7.2" fill="#f06c55"/>
<circle cx="1846.6" cy="60.1" r="7.3" fill="#f16a53"/>
<circle cx="1855.4" cy="60.1" r="7.4" fill="#f26851"/>
<circle cx="1864.2" cy="60.1" r="7.7" fill="#f3654e"/>
<circle cx="1872.9" cy="60.1" r="7.2" fill="#f4624b"/>
<circle cx="1881.7" cy="60.1" r="7.4" fill="#f56048"/>
<circle cx="1890.4" cy="60.1" r="7.4" fill="#f65b44"/>
<circle cx="1899.2" cy="60.1" r="7.5" fill="#f65740"/>
<circle cx="1907.9" cy="60.1" r="7.5" fill="#f7523d"/>
<circle cx="1916.7" cy="60.1" r="7.8" fill="#f74e39"/>
<circle cx="1925.4" cy="60.1" r="7.8" fill="#f84a36"/>
<circle cx="1934.2" cy="60.1" r="7.7" fill="#f84532"/>
<circle cx="1942.9" cy="60.1" r="7.5" fill="#f9412e"/>
<circle cx="1951.7" cy="60.1" r="7.7" fill="#fa3c2b"/>
<circle cx="1435.3" cy="98.7" r="4.6" fill="#6846f6"/>
<circle cx="1444.1" cy="98.7" r="3.7" fill="#6b49f4"/>
<circle cx="1452.8" cy="98.7" r="4.8" fill="#6e4df3"/>
<circle cx="1461.6" cy="98.7" r="4.9" fill="#7150f1"/>
<circle cx="1470.3" cy="98.7" r="5" fill="#7353f0"/>
<circle cx="1479.1" cy="98.7" r="5.5" fill="#7656ee"/>
<circle cx="1487.8" cy="98.7" r="5.8" fill="#7959ed"/>
<circle cx="1496.6" cy="98.7" r="5.9" fill="#7c5deb"/>
<circle cx="1505.3" cy="98.7" r="3.9" fill="#7e60e9"/>
<circle cx="1514.1" cy="98.7" r="3.7" fill="#8163e8"/>
<circle cx="1522.8" cy="98.7" r="4.4" fill="#8466e6"/>
<circle cx="1531.6" cy="98.7" r="5.2" fill="#8769e5"/>
<circle cx="1540.3" cy="98.7" r="5.3" fill="#896de3"/>
<circle cx="1549.1" cy="98.7" r="5" fill="#8c70e2"/>
<circle cx="1557.8" cy="98.7" r="4.7" fill="#8f73e0"/>
<circle cx="1566.6" cy="98.7" r="4.6" fill="#9176df"/>
<circle cx="1575.3" cy="98.7" r="4.5" fill="#9479dd"/>
<circle cx="1584.1" cy="98.7" r="3.9" fill="#977cdc"/>
<circle cx="1592.8" cy="98.7" r="4.3" fill="#997fda"/>
<circle cx="1601.6" cy="98.7" r="4.1" fill="#9c82d9"/>
<circle cx="1610.3" cy="98.7" r="4" fill="#9f85d7"/>
<circle cx="1619.1" cy="98.7" r="3.3" fill="#a38ad5"/>
<circle cx="1627.8" cy="98.7" r="3.9" fill="#a78fd3"/>
<circle cx="1636.6" cy="98.7" r="4" fill="#a992d1"/>
<circle cx="1645.4" cy="98.7" r="3.9" fill="#ab96d0"/>
<circle cx="1654.1" cy="98.7" r="4.3" fill="#ac99ce"/>
<circle cx="1662.9" cy="98.7" r="4.1" fill="#ae9ccd"/>
<circle cx="1671.6" cy="98.7" r="3.8" fill="#af9fcb"/>
<circle cx="1680.4" cy="98.7" r="3.6" fill="#b1a2ca"/>
<circle cx="1689.1" cy="98.7" r="2.7" fill="#b4a9c7"/>
<circle cx="1697.9" cy="98.7" r="3.6" fill="#b7afc4"/>
<circle cx="1706.6" cy="98.7" r="4.3" fill="#bab6c2"/>
<circle cx="1715.4" cy="98.7" r="4.3" fill="#bdbcbf"/>
<circle cx="1724.1" cy="98.7" r="4.4" fill="#bfbdbd"/>
<circle cx="1732.9" cy="98.7" r="4.5" fill="#c1bab9"/>
<circle cx="1741.6" cy="98.7" r="4.7" fill="#c3b8b5"/>
<circle cx="1750.4" cy="98.7" r="4.5" fill="#c5b5b1"/>
<circle cx="1759.1" cy="98.7" r="5.3" fill="#c7b2ad"/>
<circle cx="1767.9" cy="98.7" r="5.4" fill="#caafaa"/>
<circle cx="1776.6" cy="98.7" r="5.4" fill="#ccaca4"/>
<circle cx="1785.4" cy="98.7" r="5.7" fill="#cfa89f"/>
<circle cx="1794.1" cy="98.7" r="6.1" fill="#d2a49a"/>
<circle cx="1802.9" cy="98.7" r="7.2" fill="#d5a195"/>
<circle cx="1811.6" cy="98.7" r="1.4" fill="#d99b8d"/>
<circle cx="1820.4" cy="98.7" r="6.2" fill="#de9686"/>
<circle cx="1829.1" cy="98.7" r="6.5" fill="#df9383"/>
<circle cx="1837.9" cy="98.7" r="6.3" fill="#e19180"/>
<circle cx="1846.6" cy="98.7" r="6.5" fill="#e28f7d"/>
<circle cx="1855.4" cy="98.7" r="6.4" fill="#e38d7b"/>
<circle cx="1864.2" cy="98.7" r="6.3" fill="#e48b78"/>
<circle cx="1872.9" cy="98.7" r="6.4" fill="#e58976"/>
<circle cx="1881.7" cy="98.7" r="6.3" fill="#e68773"/>
<circle cx="1890.4" cy="98.7" r="6.6" fill="#e78471"/>
<circle cx="1899.2" cy="98.7" r="6.1" fill="#e8826e"/>
<circle cx="1907.9" cy="98.7" r="6" fill="#e97f6b"/>
<circle cx="1916.7" cy="98.7" r="6.7" fill="#ea7d69"/>
<circle cx="1925.4" cy="98.7" r="6.6" fill="#eb7a66"/>
<circle cx="1934.2" cy="98.7" r="6.5" fill="#ec7863"/>
<circle cx="1942.9" cy="98.7" r="6.9" fill="#ec7660"/>
<circle cx="1951.7" cy="98.7" r="6.5" fill="#ed735d"/>
<circle cx="1960.4" cy="98.7" r="6.8" fill="#ee715b"/>
<circle cx="1969.2" cy="98.7" r="7" fill="#ef6e58"/>
<circle cx="1977.9" cy="98.7" r="6.9" fill="#f06c55"/>
<circle cx="1435.3" cy="137.3" r="5.9" fill="#bebebe"/>
<circle cx="1444.1" cy="137.3" r="4.8" fill="#c0bcbb"/>
<circle cx="1452.8" cy="137.3" r="4.9" fill="#c2b9b8"/>
<circle cx="1461.6" cy="137.3" r="4.8" fill="#c3b7b4"/>
<circle cx="1470.3" cy="137.3" r="5.2" fill="#c5b5b1"/>
<circle cx="1479.1" cy="137.3" r="5" fill="#c7b2ae"/>
<circle cx="1487.8" cy="137.3" r="5.2" fill="#c9b0aa"/>
<circle cx="1496.6" cy="137.3" r="5.5" fill="#cbada7"/>
<circle cx="1505.3" cy="137.3" r="3.6" fill="#cdaba4"/>
<circle cx="1514.1" cy="137.3" r="5" fill="#cfa9a0"/>
<circle cx="1522.8" cy="137.3" r="3.4" fill="#d1a69d"/>
<circle cx="1531.6" cy="137.3" r="8.1" fill="#d99b8d"/>
<circle cx="1540.3" cy="137.3" r="6.8" fill="#db988a"/>
<circle cx="1549.1" cy="137.3" r="7" fill="#dd9686"/>
<circle cx="1557.8" cy="137.3" r="7" fill="#e09382"/>
<circle cx="1566.6" cy="137.3" r="6.8" fill="#e2917f"/>
<circle cx="1575.3" cy="137.3" r="7.1" fill="#e38e7c"/>
<circle cx="1584.1" cy="137.3" r="6.8" fill="#e48b78"/>
<circle cx="1592.8" cy="137.3" r="6.5" fill="#e58875"/>
<circle cx="1601.6" cy="137.3" r="6.3" fill="#e68673"/>
<circle cx="1610.3" cy="137.3" r="6.3" fill="#e78370"/>
<circle cx="1619.1" cy="137.3" r="6.6" fill="#e8816d"/>
<circle cx="1627.8" cy="137.3" r="7.1" fill="#e97e6a"/>
<circle cx="1636.6" cy="137.3" r="7.6" fill="#ea7c67"/>
<circle cx="1645.4" cy="137.3" r="7.1" fill="#eb7a65"/>
<circle cx="1654.1" cy="137.3" r="7.3" fill="#ec7762"/>
<circle cx="1662.9" cy="137.3" r="7.2" fill="#ed755f"/>
<circle cx="1671.6" cy="137.3" r="7.1" fill="#ee735d"/>
<circle cx="1680.4" cy="137.3" r="6.6" fill="#ee705b"/>
<circle cx="1689.1" cy="137.3" r="6.5" fill="#ef6e58"/>
<circle cx="1697.9" cy="137.3" r="6.5" fill="#f06c56"/>
<circle cx="1706.6" cy="137.3" r="6.5" fill="#f16a53"/>
<circle cx="1715.4" cy="137.3" r="6.5" fill="#f26851"/>
<circle cx="1724.1" cy="137.3" r="6.7" fill="#f3654e"/>
<circle cx="1732.9" cy="137.3" r="6.9" fill="#f4634c"/>
<circle cx="1741.6" cy="137.3" r="6.9" fill="#f56149"/>
<circle cx="1750.4" cy="137.3" r="6.6" fill="#f55e46"/>
<circle cx="1759.1" cy="137.3" r="7.6" fill="#f65a43"/>
<circle cx="1767.9" cy="137.3" r="7" fill="#f65640"/>
<circle cx="1435.3" cy="175.9" r="5" fill="#dc9788"/>
<circle cx="1444.1" cy="175.9" r="5.4" fill="#dd9687"/>
<circle cx="1452.8" cy="175.9" r="5.6" fill="#de9686"/>
<circle cx="1461.6" cy="175.9" r="5.6" fill="#de9584"/>
<circle cx="1470.3" cy="175.9" r="5.6" fill="#df9483"/>
<circle cx="1479.1" cy="175.9" r="5.5" fill="#e09382"/>
<circle cx="1487.8" cy="175.9" r="5.4" fill="#e19281"/>
<circle cx="1496.6" cy="175.9" r="4.1" fill="#e1917f"/>
<circle cx="1505.3" cy="175.9" r="4.3" fill="#e2907e"/>
<circle cx="1514.1" cy="175.9" r="5" fill="#e28f7d"/>
<circle cx="1522.8" cy="175.9" r="5.5" fill="#e38e7c"/>
<circle cx="1531.6" cy="175.9" r="5.6" fill="#e38d7a"/>
<circle cx="1540.3" cy="175.9" r="6" fill="#e48b79"/>
<circle cx="1549.1" cy="175.9" r="6.5" fill="#e48a77"/>
<circle cx="1557.8" cy="175.9" r="6.6" fill="#e58875"/>
<circle cx="1566.6" cy="175.9" r="6.5" fill="#e68774"/>
<circle cx="1575.3" cy="175.9" r="6.6" fill="#e68572"/>
<circle cx="1584.1" cy="175.9" r="6.6" fill="#e78471"/>
<circle cx="1592.8" cy="175.9" r="7" fill="#e7836f"/>
<circle cx="1601.6" cy="175.9" r="6.9" fill="#e8826e"/>
<circle cx="1610.3" cy="175.9" r="6.5" fill="#e8816d"/>
<circle cx="1619.1" cy="175.9" r="6.9" fill="#e8806c"/>
<circle cx="1627.8" cy="175.9" r="6.9" fill="#e97f6b"/>
<circle cx="1636.6" cy="175.9" r="5.5" fill="#e97f6b"/>
<circle cx="1645.4" cy="175.9" r="6.6" fill="#e97e6a"/>
<circle cx="1654.1" cy="175.9" r="6.7" fill="#e97d69"/>
<circle cx="1662.9" cy="175.9" r="6.4" fill="#ea7c68"/>
<circle cx="1671.6" cy="175.9" r="6.3" fill="#ea7c67"/>
<circle cx="1680.4" cy="175.9" r="6.8" fill="#ea7b66"/>
<circle cx="1689.1" cy="175.9" r="6.6" fill="#eb7a65"/>
<circle cx="1697.9" cy="175.9" r="6.5" fill="#eb7863"/>
<circle cx="1706.6" cy="175.9" r="6.8" fill="#ec7762"/>
<circle cx="1715.4" cy="175.9" r="6.4" fill="#ec7660"/>
<circle cx="1724.1" cy="175.9" r="6.7" fill="#ed745f"/>
<circle cx="1732.9" cy="175.9" r="7.7" fill="#ee735d"/>
<circle cx="1741.6" cy="175.9" r="5.9" fill="#ee715c"/>
<circle cx="1750.4" cy="175.9" r="7.3" fill="#ef705a"/>
<circle cx="1759.1" cy="175.9" r="3" fill="#ef6f59"/>
<circle cx="1767.9" cy="175.9" r="6.7" fill="#f06d57"/>
<circle cx="1776.6" cy="175.9" r="7" fill="#f06c56"/>
<circle cx="1785.4" cy="175.9" r="6.8" fill="#f16b55"/>
<circle cx="1794.1" cy="175.9" r="6.9" fill="#f16a53"/>
<circle cx="1802.9" cy="175.9" r="6.8" fill="#f26952"/>
<circle cx="1811.6" cy="175.9" r="7.3" fill="#f26851"/>
<circle cx="1820.4" cy="175.9" r="7" fill="#f2674f"/>
<circle cx="1829.1" cy="175.9" r="7.2" fill="#f3654e"/>
<circle cx="1837.9" cy="175.9" r="7.4" fill="#f3644d"/>
<circle cx="1846.6" cy="175.9" r="7.7" fill="#f4634b"/>
<circle cx="1855.4" cy="175.9" r="7.6" fill="#f4624a"/>
<circle cx="1864.2" cy="175.9" r="8" fill="#f56149"/>
<circle cx="1872.9" cy="175.9" r="7.9" fill="#f55f47"/>
<circle cx="1881.7" cy="175.9" r="7.8" fill="#f55d46"/>
<circle cx="1890.4" cy="175.9" r="7.6" fill="#f65b44"/>
<circle cx="1899.2" cy="175.9" r="7.1" fill="#f65942"/>
<circle cx="1907.9" cy="175.9" r="7.2" fill="#f65741"/>
<circle cx="1916.7" cy="175.9" r="6.9" fill="#f6553f"/>
<circle cx="1925.4" cy="175.9" r="6.6" fill="#f7533d"/>
<circle cx="1435.3" cy="214.5" r="6.4" fill="#d5a195"/>
<circle cx="1444.1" cy="214.5" r="5" fill="#d6a094"/>
<circle cx="1452.8" cy="214.5" r="4.9" fill="#d69f92"/>
<circle cx="1461.6" cy="214.5" r="4.7" fill="#d79e91"/>
<circle cx="1470.3" cy="214.5" r="4" fill="#d89d90"/>
<circle cx="1479.1" cy="214.5" r="5.3" fill="#d99c8f"/>
<circle cx="1487.8" cy="214.5" r="6" fill="#d99b8d"/>
<circle cx="1496.6" cy="214.5" r="4" fill="#da9a8c"/>
<circle cx="1505.3" cy="214.5" r="4.7" fill="#db998b"/>
<circle cx="1514.1" cy="214.5" r="4.7" fill="#dc988a"/>
<circle cx="1522.8" cy="214.5" r="5.2" fill="#dc9788"/>
<circle cx="1531.6" cy="214.5" r="5.2" fill="#dd9687"/>
<circle cx="1540.3" cy="214.5" r="5.3" fill="#de9686"/>
<circle cx="1549.1" cy="214.5" r="5.7" fill="#de9584"/>
<circle cx="1557.8" cy="214.5" r="5.7" fill="#df9483"/>
<circle cx="1566.6" cy="214.5" r="5.9" fill="#e09382"/>
<circle cx="1575.3" cy="214.5" r="7" fill="#e19281"/>
<circle cx="1584.1" cy="214.5" r="7.1" fill="#e1917f"/>
<circle cx="1592.8" cy="214.5" r="6.8" fill="#e2907e"/>
<circle cx="1601.6" cy="214.5" r="6.9" fill="#e28f7d"/>
<circle cx="1610.3" cy="214.5" r="6.9" fill="#e38e7c"/>
<circle cx="1619.1" cy="214.5" r="6.9" fill="#e38d7b"/>
<circle cx="1627.8" cy="214.5" r="7" fill="#e38d7a"/>
<circle cx="1636.6" cy="214.5" r="6.8" fill="#e48c79"/>
<circle cx="1645.4" cy="214.5" r="6.9" fill="#e48b78"/>
<circle cx="1654.1" cy="214.5" r="6.9" fill="#e48a78"/>
<circle cx="1662.9" cy="214.5" r="7.1" fill="#e58977"/>
<circle cx="1671.6" cy="214.5" r="7" fill="#e58976"/>
<circle cx="1680.4" cy="214.5" r="7.1" fill="#e58875"/>
<circle cx="1689.1" cy="214.5" r="7" fill="#e58774"/>
<circle cx="1697.9" cy="214.5" r="6.4" fill="#e68673"/>
<circle cx="1706.6" cy="214.5" r="6.5" fill="#e7836f"/>
<circle cx="1715.4" cy="214.5" r="8" fill="#e97f6b"/>
<circle cx="1724.1" cy="214.5" r="7.6" fill="#e97e6a"/>
<circle cx="1732.9" cy="214.5" r="6.9" fill="#ea7d69"/>
<circle cx="1741.6" cy="214.5" r="6.8" fill="#ea7c68"/>
<circle cx="1750.4" cy="214.5" r="7" fill="#ea7b67"/>
<circle cx="1759.1" cy="214.5" r="6.7" fill="#eb7a66"/>
<circle cx="1767.9" cy="214.5" r="6.8" fill="#eb7965"/>
<circle cx="1776.6" cy="214.5" r="6.7" fill="#eb7964"/>
<circle cx="1785.4" cy="214.5" r="7" fill="#ec7863"/>
<circle cx="1794.1" cy="214.5" r="7.1" fill="#ec7762"/>
<circle cx="1802.9" cy="214.5" r="7.1" fill="#ec7661"/>
<circle cx="1811.6" cy="214.5" r="6.6" fill="#ed7560"/>
<circle cx="1820.4" cy="214.5" r="6.9" fill="#ed745e"/>
<circle cx="1829.1" cy="214.5" r="6.9" fill="#ee735d"/>
<circle cx="1837.9" cy="214.5" r="6.5" fill="#ee725c"/>
<circle cx="1846.6" cy="214.5" r="6.9" fill="#ee715b"/>
<circle cx="1855.4" cy="214.5" r="6.9" fill="#ef6f59"/>
<circle cx="1864.2" cy="214.5" r="6.6" fill="#ef6e58"/>
<circle cx="1872.9" cy="214.5" r="7.2" fill="#f06d57"/>
<circle cx="1881.7" cy="214.5" r="7" fill="#f06c55"/>
<circle cx="1890.4" cy="214.5" r="7.1" fill="#f16b54"/>
<circle cx="1899.2" cy="214.5" r="7.6" fill="#f16a53"/>
<circle cx="1907.9" cy="214.5" r="7.8" fill="#f26852"/>
<circle cx="1916.7" cy="214.5" r="7.7" fill="#f26750"/>
<circle cx="1925.4" cy="214.5" r="7.8" fill="#f3664f"/>
<circle cx="1934.2" cy="214.5" r="7.8" fill="#f3654e"/>
<circle cx="1942.9" cy="214.5" r="7.6" fill="#f3644c"/>
<circle cx="1435.3" cy="253.1" r="5" fill="#cbada7"/>
<circle cx="1444.1" cy="253.1" r="5.5" fill="#ccaca5"/>
<circle cx="1452.8" cy="253.1" r="4.3" fill="#cdaba4"/>
<circle cx="1461.6" cy="253.1" r="5.1" fill="#ceaaa2"/>
<circle cx="1470.3" cy="253.1" r="5.6" fill="#cfa9a1"/>
<circle cx="1479.1" cy="253.1" r="5.8" fill="#cfa89f"/>
<circle cx="1487.8" cy="253.1" r="5.7" fill="#d0a79d"/>
<circle cx="1496.6" cy="253.1" r="5.4" fill="#d1a59c"/>
<circle cx="1505.3" cy="253.1" r="5.1" fill="#d2a49a"/>
<circle cx="1514.1" cy="253.1" r="5.5" fill="#d3a398"/>
<circle cx="1522.8" cy="253.1" r="5.8" fill="#d4a196"/>
<circle cx="1531.6" cy="253.1" r="6.3" fill="#d6a094"/>
<circle cx="1540.3" cy="253.1" r="6.2" fill="#d79e92"/>
<circle cx="1549.1" cy="253.1" r="6.3" fill="#d89d90"/>
<circle cx="1557.8" cy="253.1" r="5.8" fill="#d99b8e"/>
<circle cx="1566.6" cy="253.1" r="6" fill="#da9a8c"/>
<circle cx="1575.3" cy="253.1" r="6" fill="#db988a"/>
<circle cx="1584.1" cy="253.1" r="6.5" fill="#dd9788"/>
<circle cx="1592.8" cy="253.1" r="6.3" fill="#de9686"/>
<circle cx="1601.6" cy="253.1" r="6.4" fill="#de9584"/>
<circle cx="1610.3" cy="253.1" r="6.8" fill="#df9483"/>
<circle cx="1619.1" cy="253.1" r="6.5" fill="#e09382"/>
<circle cx="1627.8" cy="253.1" r="5.8" fill="#e19281"/>
<circle cx="1636.6" cy="253.1" r="5.7" fill="#e1917f"/>
<circle cx="1645.4" cy="253.1" r="5.8" fill="#e2907e"/>
<circle cx="1654.1" cy="253.1" r="4.2" fill="#e28f7d"/>
<circle cx="1662.9" cy="253.1" r="5.9" fill="#e38e7c"/>
<circle cx="1671.6" cy="253.1" r="5.8" fill="#e38d7b"/>
<circle cx="1680.4" cy="253.1" r="5.4" fill="#e48c7a"/>
<circle cx="1689.1" cy="253.1" r="2.9" fill="#e48b78"/>
<circle cx="1697.9" cy="253.1" r="5.5" fill="#e58a77"/>
<circle cx="1706.6" cy="253.1" r="5.5" fill="#e58875"/>
<circle cx="1715.4" cy="253.1" r="5.4" fill="#e68774"/>
<circle cx="1724.1" cy="253.1" r="6" fill="#e68672"/>
<circle cx="1732.9" cy="253.1" r="5.9" fill="#e78471"/>
<circle cx="1741.6" cy="253.1" r="6.1" fill="#e78370"/>
<circle cx="1750.4" cy="253.1" r="5.8" fill="#e8826e"/>
<circle cx="1759.1" cy="253.1" r="3.3" fill="#e8816d"/>
<circle cx="1767.9" cy="253.1" r="6.6" fill="#ee715b"/>
<circle cx="1776.6" cy="253.1" r="7.6" fill="#ef705a"/>
<circle cx="1785.4" cy="253.1" r="7.8" fill="#ef6e58"/>
<circle cx="1794.1" cy="253.1" r="8.2" fill="#f06d57"/>
<circle cx="1802.9" cy="253.1" r="8.3" fill="#f06c55"/>
<circle cx="1811.6" cy="253.1" r="8.4" fill="#f16a53"/>
<circle cx="1820.4" cy="253.1" r="7.9" fill="#f26952"/>
<circle cx="1829.1" cy="253.1" r="7.8" fill="#f26750"/>
<circle cx="1837.9" cy="253.1" r="7.9" fill="#f3664e"/>
<circle cx="1846.6" cy="253.1" r="8" fill="#f3644d"/>
<circle cx="1855.4" cy="253.1" r="8.1" fill="#f4634b"/>
<circle cx="1864.2" cy="253.1" r="8.3" fill="#f56149"/>
<circle cx="1872.9" cy="253.1" r="8.5" fill="#f55f47"/>
<circle cx="1881.7" cy="253.1" r="8.7" fill="#f55d45"/>
<circle cx="1890.4" cy="253.1" r="8.8" fill="#f65a43"/>
<circle cx="1899.2" cy="253.1" r="8.4" fill="#f65841"/>
<circle cx="1907.9" cy="253.1" r="5.4" fill="#f6553f"/>
<circle cx="1916.7" cy="253.1" r="9.6" fill="#f7523d"/>
<circle cx="1925.4" cy="253.1" r="9.6" fill="#f7503b"/>
<circle cx="1435.3" cy="291.7" r="3.8" fill="#dc9788"/>
<circle cx="1444.1" cy="291.7" r="4.1" fill="#dd9686"/>
<circle cx="1452.8" cy="291.7" r="4.1" fill="#df9484"/>
<circle cx="1461.6" cy="291.7" r="4.4" fill="#e09382"/>
<circle cx="1470.3" cy="291.7" r="4.4" fill="#e19180"/>
<circle cx="1479.1" cy="291.7" r="5" fill="#e2907e"/>
<circle cx="1487.8" cy="291.7" r="5" fill="#e38e7c"/>
<circle cx="1496.6" cy="291.7" r="5" fill="#e38d7b"/>
<circle cx="1505.3" cy="291.7" r="5.4" fill="#e48b79"/>
<circle cx="1514.1" cy="291.7" r="5.9" fill="#e48a77"/>
<circle cx="1522.8" cy="291.7" r="5.6" fill="#e58875"/>
<circle cx="1531.6" cy="291.7" r="6.2" fill="#e58774"/>
<circle cx="1540.3" cy="291.7" r="6.1" fill="#e68673"/>
<circle cx="1549.1" cy="291.7" r="6.2" fill="#e68571"/>
<circle cx="1557.8" cy="291.7" r="6.6" fill="#e78470"/>
<circle cx="1566.6" cy="291.7" r="6.5" fill="#e7836f"/>
<circle cx="1575.3" cy="291.7" r="6.7" fill="#e8816e"/>
<circle cx="1584.1" cy="291.7" r="6.9" fill="#e8806c"/>
<circle cx="1592.8" cy="291.7" r="7.2" fill="#e97f6b"/>
<circle cx="1601.6" cy="291.7" r="6.9" fill="#e97e6a"/>
<circle cx="1610.3" cy="291.7" r="7.3" fill="#ea7d68"/>
<circle cx="1619.1" cy="291.7" r="7" fill="#ea7c68"/>
<circle cx="1627.8" cy="291.7" r="6.8" fill="#ea7b67"/>
<circle cx="1636.6" cy="291.7" r="6.5" fill="#eb7a66"/>
<circle cx="1645.4" cy="291.7" r="6.4" fill="#eb7a65"/>
<circle cx="1654.1" cy="291.7" r="6.3" fill="#eb7964"/>
<circle cx="1662.9" cy="291.7" r="6.4" fill="#eb7863"/>
<circle cx="1671.6" cy="291.7" r="6.5" fill="#ec7762"/>
<circle cx="1680.4" cy="291.7" r="7" fill="#ec7761"/>
<circle cx="1689.1" cy="291.7" r="6.4" fill="#ec7661"/>
<circle cx="1697.9" cy="291.7" r="6.1" fill="#ed7560"/>
<circle cx="1706.6" cy="291.7" r="5.8" fill="#ed745f"/>
<circle cx="1715.4" cy="291.7" r="7.5" fill="#ed745e"/>
<circle cx="1724.1" cy="291.7" r="7.3" fill="#ee735d"/>
<circle cx="1732.9" cy="291.7" r="7" fill="#ee725c"/>
<circle cx="1741.6" cy="291.7" r="1.7" fill="#ee715b"/>
<circle cx="1750.4" cy="291.7" r="8" fill="#f55d45"/>
<circle cx="1759.1" cy="291.7" r="8.1" fill="#f65b44"/>
<circle cx="1767.9" cy="291.7" r="8.3" fill="#f65942"/>
<circle cx="1776.6" cy="291.7" r="8.2" fill="#f65740"/>
<circle cx="1785.4" cy="291.7" r="8.5" fill="#f6553f"/>
<circle cx="1794.1" cy="291.7" r="8.3" fill="#f7533d"/>
<circle cx="1802.9" cy="291.7" r="8.7" fill="#f7513b"/>
<circle cx="1811.6" cy="291.7" r="8.6" fill="#f74f3a"/>
<circle cx="1820.4" cy="291.7" r="8.3" fill="#f84c38"/>
<circle cx="1829.1" cy="291.7" r="8" fill="#f84a36"/>
<circle cx="1837.9" cy="291.7" r="8.4" fill="#f84734"/>
<circle cx="1846.6" cy="291.7" r="8.2" fill="#f84532"/>
<circle cx="1855.4" cy="291.7" r="8.3" fill="#f9422f"/>
<circle cx="1864.2" cy="291.7" r="8.3" fill="#f93f2d"/>
<circle cx="1872.9" cy="291.7" r="8.7" fill="#fa3d2b"/>
<circle cx="1881.7" cy="291.7" r="8.7" fill="#fa3a29"/>
<circle cx="1890.4" cy="291.7" r="8.6" fill="#fa3827"/>
<circle cx="1899.2" cy="291.7" r="8.3" fill="#fa3525"/>
<circle cx="1907.9" cy="291.7" r="8.3" fill="#fb3223"/>
<circle cx="1435.3" cy="330.3" r="3.2" fill="#d69f92"/>
<circle cx="1444.1" cy="330.3" r="2.6" fill="#d89d90"/>
<circle cx="1452.8" cy="330.3" r="3.3" fill="#da9b8d"/>
<circle cx="1461.6" cy="330.3" r="3.1" fill="#db998a"/>
<circle cx="1470.3" cy="330.3" r="4.3" fill="#dd9687"/>
<circle cx="1479.1" cy="330.3" r="4.8" fill="#df9484"/>
<circle cx="1487.8" cy="330.3" r="5.5" fill="#e09281"/>
<circle cx="1496.6" cy="330.3" r="5.6" fill="#e2907e"/>
<circle cx="1505.3" cy="330.3" r="5.9" fill="#e38e7c"/>
<circle cx="1514.1" cy="330.3" r="5.9" fill="#e38c7a"/>
<circle cx="1522.8" cy="330.3" r="6.2" fill="#e48b78"/>
<circle cx="1531.6" cy="330.3" r="6.3" fill="#e58976"/>
<circle cx="1540.3" cy="330.3" r="6.5" fill="#e58774"/>
<circle cx="1549.1" cy="330.3" r="6.7" fill="#e68572"/>
<circle cx="1557.8" cy="330.3" r="6.6" fill="#e78470"/>
<circle cx="1566.6" cy="330.3" r="6.6" fill="#e8826e"/>
<circle cx="1575.3" cy="330.3" r="7.1" fill="#e8806c"/>
<circle cx="1584.1" cy="330.3" r="6.6" fill="#e97f6a"/>
<circle cx="1592.8" cy="330.3" r="7" fill="#ea7d68"/>
<circle cx="1601.6" cy="330.3" r="7.1" fill="#ea7b66"/>
<circle cx="1610.3" cy="330.3" r="6.8" fill="#eb7965"/>
<circle cx="1619.1" cy="330.3" r="7.4" fill="#ec7863"/>
<circle cx="1627.8" cy="330.3" r="7.5" fill="#ec7661"/>
<circle cx="1636.6" cy="330.3" r="6.6" fill="#ed745f"/>
<circle cx="1645.4" cy="330.3" r="6" fill="#ee725d"/>
<circle cx="1654.1" cy="330.3" r="6.6" fill="#ee715b"/>
<circle cx="1662.9" cy="330.3" r="6.9" fill="#ef6f59"/>
<circle cx="1671.6" cy="330.3" r="7.2" fill="#f06d57"/>
<circle cx="1680.4" cy="330.3" r="7.2" fill="#f06c55"/>
<circle cx="1689.1" cy="330.3" r="7.5" fill="#f16953"/>
<circle cx="1697.9" cy="330.3" r="7.5" fill="#f26750"/>
<circle cx="1706.6" cy="330.3" r="7.6" fill="#f3654e"/>
<circle cx="1715.4" cy="330.3" r="7.5" fill="#f4634b"/>
<circle cx="1724.1" cy="330.3" r="7.9" fill="#f56149"/>
<circle cx="1732.9" cy="330.3" r="7.9" fill="#f55e46"/>
<circle cx="1741.6" cy="330.3" r="8.1" fill="#f65a43"/>
<circle cx="1750.4" cy="330.3" r="7.9" fill="#f65741"/>
<circle cx="1759.1" cy="330.3" r="7.9" fill="#f7533e"/>
<circle cx="1767.9" cy="330.3" r="8.1" fill="#f7503b"/>
<circle cx="1776.6" cy="330.3" r="8.1" fill="#f84c37"/>
<circle cx="1785.4" cy="330.3" r="7.9" fill="#f84834"/>
<circle cx="1794.1" cy="330.3" r="8.2" fill="#f94431"/>
<circle cx="1802.9" cy="330.3" r="7.9" fill="#f93f2d"/>
<circle cx="1811.6" cy="330.3" r="8.1" fill="#fa3b2a"/>
<circle cx="1820.4" cy="330.3" r="8.2" fill="#fa3727"/>
<circle cx="1829.1" cy="330.3" r="8.3" fill="#fb3323"/>
<circle cx="1837.9" cy="330.3" r="8.3" fill="#fb2f20"/>
<circle cx="1846.6" cy="330.3" r="8.1" fill="#fc2a1c"/>
<circle cx="1855.4" cy="330.3" r="8.7" fill="#fc2518"/>
<circle cx="1864.2" cy="330.3" r="8.6" fill="#fd2114"/>
<circle cx="1872.9" cy="330.3" r="8.3" fill="#fe1c10"/>
<circle cx="1881.7" cy="330.3" r="7.9" fill="#fe170c"/>
<circle cx="1890.4" cy="330.3" r="6.5" fill="#ff1208"/>
<text x="1688.8" y="402.6" text-anchor="middle" textLength="206.0" lengthAdjust="spacingAndGlyphs" font-size="21.5">Interpolated passages</text>
<text text-anchor="middle" textLength="77.0" lengthAdjust="spacingAndGlyphs" font-size="21.5" transform="translate(1321.5,183.0) rotate(-90)">Cultures</text>
<text x="2014.3" y="35.4" textLength="91.0" lengthAdjust="spacingAndGlyphs" font-size="21.5">Derivative</text>
<rect x="2016.5" y="40.9" width="24.8" height="118.7" fill="url(#dg)"/>
<path d="M2016.5 63.5 h5 M2036.3 63.5 h5" stroke="#fff" stroke-width="1.2"/>
<text x="2049.7" y="67.4" textLength="50.5" lengthAdjust="spacingAndGlyphs" font-size="21.5">0.125</text>
<path d="M2016.5 87 h5 M2036.3 87 h5" stroke="#fff" stroke-width="1.2"/>
<text x="2049.7" y="91.0" textLength="50.5" lengthAdjust="spacingAndGlyphs" font-size="21.5">0.100</text>
<path d="M2016.5 110.6 h5 M2036.3 110.6 h5" stroke="#fff" stroke-width="1.2"/>
<text x="2049.7" y="114.5" textLength="50.5" lengthAdjust="spacingAndGlyphs" font-size="21.5">0.075</text>
<path d="M2016.5 134.1 h5 M2036.3 134.1 h5" stroke="#fff" stroke-width="1.2"/>
<text x="2049.7" y="138.0" textLength="50.5" lengthAdjust="spacingAndGlyphs" font-size="21.5">0.050</text>
<path d="M2016.5 157.7 h5 M2036.3 157.7 h5" stroke="#fff" stroke-width="1.2"/>
<text x="2049.7" y="161.6" textLength="50.5" lengthAdjust="spacingAndGlyphs" font-size="21.5">0.025</text>
<text x="2014.8" y="218.4" textLength="100.0" lengthAdjust="spacingAndGlyphs" font-size="21.5">Growth FC</text>
<rect x="2018.3" y="228.8" width="23.7" height="94.4" fill="#f2f2f2"/>
<circle cx="2030.2" cy="240.5" r="3.1" fill="#000"/>
<text x="2050.8" y="244.8" textLength="11.0" lengthAdjust="spacingAndGlyphs" font-size="21.5">0</text>
<circle cx="2030.2" cy="264.2" r="7.2" fill="#000"/>
<text x="2050.8" y="268.5" textLength="22.5" lengthAdjust="spacingAndGlyphs" font-size="21.5">50</text>
<circle cx="2030.2" cy="287.4" r="8.9" fill="#000"/>
<text x="2050.8" y="291.7" textLength="34.0" lengthAdjust="spacingAndGlyphs" font-size="21.5">100</text>
<circle cx="2030.2" cy="310.6" r="10.5" fill="#000"/>
<text x="2050.8" y="314.9" textLength="34.0" lengthAdjust="spacingAndGlyphs" font-size="21.5">150</text>
<text x="-1.0" y="466.0" class="b" stroke="#000" stroke-width="0.7" font-size="34.5">c</text>
<g transform="scale(0.5)" fill="none" stroke-width="4.1" stroke-linecap="round">
<path stroke="#00bfc4" d="M71 1105h0m-1 5h0m1 6h0m-4 4h0m-3 3h0m1 6h0m-1 2h0m-5 0h0m9 1h0m-15 7h0m-2 0h0m16 4h0m-2 4h0m6 6h0m-11 0h0m1 2h0m-5 7h0m-4 1h0m18 2h0m-19 2h0m0 0h0m15 2h0m1 1h0m-18 4h0m21 1h0m-4 1h0m2 1h0m-6 0h0m-2 1h0m-8 2h0m10 6h0m-3 2h0m5 0h0m-10 1h0m17 1h0m10 35h0m-1-5h0m6-2h0m5-6h0m-4 0h0m-12-6h0m1 0h0m5-1h0m5-2h0m4-3h0m-2-4h0m-10-1h0m15-1h0m-11-2h0m-7-1h0m15-1h0m-16-1h0m19 0h0m-1-1h0m-5-1h0m-4-3h0m12-1h0m-2-1h0m1-1h0m-22-3h0m15-2h0m-8 0h0m7 0h0m-4-1h0m4-5h0m-7-1h0m15-2h0m-21-5h0m20-7h0m-4-4h0m-9-2h0m9 0h0m-5 0h0m0-5h0m5-1h0m-12-3h0m14 0h0m-19-2h0m18-1h0m4-2h0m-12-8h0m-6 0h0m18 0h0m-19-2h0m17 0h0m-13-1h0m1 0h0m1-2h0m-7 0h0m16 0h0m-8-1h0m9-1h0m-13 0h0m15-3h0m0-1h0m-13-1h0m-3-6h0m-1-2h0m8-1h0m-6 0h0m14-1h0m-1-4h0m-15-2h0m5 0h0m-6-1h0m20-1h0m-8-1h0m-8-3h0m12-1h0m-8-3h0m9 0h0m-12-11h0m4 0h0m7-1h0m2-1h0m-9-2h0m-5-1h0m11 0h0m1-10h0m19-38h0m-4 8h0m2 5h0m3 0h0m7 3h0m-13 1h0m-8 1h0m18 6h0m-3 2h0m4 2h0m-1 1h0m-4 2h0m1 1h0m5 0h0m-6 1h0m5 0h0m1 0h0m-9 1h0m11 5h0m-22 3h0m1 4h0m6 0h0m5 0h0m6 1h0m-11 1h0m2 0h0m5 1h0m-11 4h0m15 1h0m-6 2h0m-6 2h0m-6 1h0m19 1h0m-5 2h0m-1 0h0m-9 2h0m16 3h0m-19 4h0m8 4h0m-1 5h0m-7 1h0m3 1h0m11 0h0m-10 3h0m13 2h0m-18 5h0m10 1h0m-7 4h0m11 2h0m-13 2h0m12 3h0m0 9h0m-4 0h0m11 1h0m-4 1h0m-17 3h0m8 5h0m-3 2h0m15 0h0m-7 3h0m3 1h0m-11 2h0m-2 3h0m2 0h0m4 2h0m-5 2h0m-1 0h0m11 7h0m-1 1h0m7 0h0m-15 0h0m-2 1h0m10 1h0m-6 0h0m4 2h0m9 0h0m-19 2h0m12 0h0m-9 1h0m5 1h0m-4 2h0m13 0h0m2 0h0m-4 1h0m-2 0h0m9 3h0m-12 0h0m5 1h0m-7 0h0m2 3h0m10 0h0m-7 1h0m7 0h0m-18 2h0m7 6h0m0 1h0m-4 1h0m12 1h0m-8 3h0m10 1h0m-4 0h0m-11 0h0m7 1h0m-6 2h0m9 1h0m8 10h0m-21 7h0m18 1h0m-6 3h0m3 2h0m-9 0h0m12 3h0m-16 0h0m8 6h0m10 6h0m21 16h0m-1-7h0m5-8h0m-23-8h0m15-3h0m-2-4h0m3-1h0m-12-3h0m7 0h0m1-3h0m3-5h0m-3 0h0m8-5h0m-18-3h0m18-3h0m-1-1h0m1-1h0m-8-5h0m-5-3h0m1-2h0m-6-2h0m13-2h0m2-3h0m-1-3h0m2-6h0m2 0h0m-14-5h0m4-5h0m-7-3h0m6-2h0m-8 0h0m8-1h0m-4-1h0m6-6h0m-3 0h0m7-1h0m0-1h0m6-2h0m-11-4h0m0 0h0m-10-1h0m0 0h0m18-2h0m-13-2h0m17-3h0m1-1h0m-6-4h0m-17 0h0m4-6h0m-4-1h0m4-2h0m1 0h0m14-1h0m-12-1h0m16-1h0m-17 0h0m-1-1h0m-4-1h0m7 0h0m5-1h0m10 0h0m-23-1h0m3 0h0m11-1h0m-12-4h0m-1-2h0m7-3h0m-7-1h0m19-1h0m-14-3h0m12-4h0m-3-1h0m-2-1h0m-3 0h0m0 0h0m8 0h0m-18-1h0m18 0h0m4-3h0m-12-1h0m-3 0h0m16 0h0m-3-1h0m-11 0h0m1-1h0m12 0h0m-17 0h0m14-2h0m-12 0h0m-3-1h0m9-1h0m8 0h0m-17-2h0m0-2h0m6-1h0m9-1h0m3 0h0m-1-3h0m-20-2h0m19-1h0m-3 0h0m-4-3h0m5-4h0m1-3h0m1-1h0m-15-1h0m12-2h0m-7-1h0m-3-1h0m16-3h0m-6-1h0m-10-3h0m0-1h0m8-1h0m-7-1h0m4-1h0m10 0h0m-6 0h0m-13-7h0m-2-1h0m11-1h0m0-3h0m4-1h0m-11-7h0m13-1h0m-11 0h0m5-3h0m-3-5h0m4 0h0m-1-1h0m-11 0h0m8-2h0m6-2h0m-3-4h0m5-1h0m-1-2h0m-7-7h0m-2-2h0m4-1h0m3-3h0m28-41h0m5 3h0m-6 2h0m-4 6h0m-9 3h0m-4 4h0m6 4h0m1 0h0m2 0h0m-7 9h0m9 9h0m-5 0h0m9 5h0m-7 1h0m6 3h0m-12 4h0m0 4h0m16 1h0m-3 6h0m-13 6h0m6 0h0m1 7h0m-3 1h0m15 0h0m2 5h0m-18 3h0m15 1h0m-2 2h0m-18 1h0m8 1h0m-7 5h0m19 0h0m-20 3h0m16 3h0m-16 2h0m13 1h0m4 3h0m5 0h0m-22 1h0m3 2h0m1 0h0m7 1h0m-1 1h0m2 5h0m-1 0h0m-7 0h0m2 1h0m-4 6h0m14 1h0m3 0h0m-2 1h0m-12 3h0m16 8h0m-10 0h0m-10 1h0m19 1h0m-19 0h0m21 0h0m-19 3h0m5 1h0m1 2h0m7 5h0m7 2h0m-13 3h0m13 0h0m-6 0h0m-10 1h0m-1 0h0m-3 3h0m9 1h0m-10 0h0m17 1h0m-19 4h0m23 0h0m-2 0h0m-11 1h0m-3 6h0m1 6h0m5 1h0m-7 3h0m12 2h0m-8 2h0m7 2h0m-10 2h0m-3 2h0m14 5h0m-6 0h0m8 0h0m-10 6h0m13 1h0m-13 1h0m-8 8h0m-1 3h0m18 3h0m-5 3h0m-10 1h0m3 1h0m6 1h0m8 1h0m-2 1h0m-11 0h0m-4 2h0m13 1h0m-15 1h0m7 3h0m-6 0h0m-3 5h0m0 2h0m21 0h0m-6 0h0m-1 2h0m-10 0h0m-2 1h0m21 0h0m-11 1h0m0 0h0m9 5h0m-5 0h0m-3 1h0m-12 0h0m22 1h0m-3 1h0m-20 6h0m10 6h0m8 2h0m-2 6h0m-6 3h0m-7 5h0m14 0h0m-16 1h0m9 1h0m-2 2h0m15 2h0m-13 2h0m12 4h0m-21 8h0m7 2h0m0 5h0m15 10h0m10 9h0m9-11h0m-12-5h0m3 0h0m10-2h0m-1-4h0m-4 0h0m2-6h0m-5-2h0m-7-1h0m3-2h0m4-1h0m-7-10h0m15-2h0m2-2h0m1 0h0m-12-4h0m11-1h0m-5-5h0m-2-3h0m-7-2h0m10-1h0m-6-2h0m9-1h0m-18 0h0m1 0h0m-1-2h0m20-6h0m-4-2h0m3-3h0m-3-1h0m-16-1h0m0-2h0m2-2h0m12-6h0m-14-4h0m4 0h0m8-3h0m0-1h0m9 0h0m-1-2h0m1-5h0m-16-4h0m11-7h0m-17-1h0m20 0h0m-2-1h0m-15 0h0m5-8h0m-2-2h0m16 0h0m-11-5h0m-1-3h0m9-2h0m-16-4h0m-4-2h0m2 0h0m5-6h0m0-1h0m13-2h0m-8 0h0m2-1h0m6-1h0m3 0h0m-10-2h0m9-5h0m-2-3h0m-5-5h0m-5-1h0m1 0h0m-5-1h0m8-1h0m6 0h0m-11-1h0m14-2h0m-2 0h0m0-2h0m-15-4h0m-5-1h0m7-1h0m15 0h0m-20-1h0m13 0h0m1-3h0m-10-2h0m1-1h0m-4-1h0m9-2h0m6-3h0m-2-2h0m-14-1h0m-1-7h0m7 0h0m9-3h0m-11 0h0m11-1h0m-6-1h0m10-1h0m-5 0h0m-5 0h0m8-1h0m-12-1h0m-6-1h0m13 0h0m-3-3h0m0-2h0m-7-4h0m-5 0h0m20-8h0m-11-7h0m4-1h0m-6-1h0m16-1h0m-7-10h0m-10-2h0m-6 0h0m4-3h0m19-2h0m-18-4h0m10-1h0m8-1h0m-1-1h0m-16-4h0m4-2h0m-6-2h0m10-6h0m4-1h0m-4-3h0m-4 0h0m3-1h0m-13-1h0m14-2h0m0-1h0m8-5h0m-8-4h0m-11-3h0m5-1h0m-1-3h0m-1-3h0m8-1h0m-4-4h0m-1 0h0m10 0h0m1-6h0m0-2h0m3 0h0m-6-7h0m-9-1h0m0-3h0m24-3h0m1 7h0m2 1h0m-7 3h0m16 4h0m-2 2h0m-14 1h0m19 1h0m-3 5h0m0 0h0m-4 1h0m3 3h0m-13 3h0m-2 1h0m16 2h0m-7 2h0m-5 1h0m-5 3h0m17 4h0m-10 3h0m10 6h0m-18 7h0m17 4h0m-2 1h0m-3 0h0m-14 3h0m15 0h0m-11 2h0m-3 3h0m7 2h0m12 12h0m-18 8h0m-2 0h0m8 2h0m-6 0h0m11 2h0m6 1h0m-14 9h0m1 0h0m5 1h0m-8 0h0m20 2h0m-5 2h0m-6 6h0m1 0h0m-5 2h0m0 2h0m-1 1h0m13 1h0m-19 1h0m12 9h0m3 2h0m1 0h0m-1 2h0m-11 0h0m-2 4h0m20 3h0m-11 1h0m-10 0h0m20 1h0m1 1h0m-15 0h0m3 3h0m-3 3h0m-7 2h0m2 1h0m20 1h0m-18 1h0m7 1h0m-10 1h0m6 3h0m-5 1h0m13 2h0m-8 5h0m0 6h0m-5 3h0m4 2h0m4 2h0m-7 0h0m15 3h0m-1 1h0m-17 0h0m4 2h0m7 1h0m9 0h0m2 2h0m-19 1h0m8 7h0m-7 4h0m5 5h0m8 0h0m4 1h0m-2 3h0m-12 1h0m1 1h0m2 1h0m8 0h0m-5 4h0m9 1h0m-9 0h0m8 1h0m-12 1h0m1 0h0m-3 1h0m1 1h0m1 2h0m-9 1h0m21 2h0m-4 1h0m-7 1h0m-1 0h0m-7 5h0m19 1h0m-6 0h0m2 3h0m-1 4h0m3 4h0m1 2h0m2 0h0m-12 2h0m3 3h0m-6 6h0m1 2h0m14 9h0m-1 3h0m-6 6h0m-15 1h0m8 5h0m10 1h0m-6 11h0m1 2h0m-12 2h0m20 0h0m-22 1h0m21 1h0m-11 3h0m3 0h0m10 2h0m-23 2h0m18 1h0m-10 1h0m-8 1h0m1 0h0m20 1h0m-20 5h0m17 3h0m-2 3h0m-6 3h0m-1 0h0m4 1h0m-9 6h0m15 1h0m-10 0h0m11 1h0m-6 0h0m-3 1h0m3 5h0m-4 0h0m23 14h0m13-2h0m-3-4h0m-19-5h0m3-3h0m11-5h0m3-4h0m-8-1h0m0-2h0m-8-3h0m13 0h0m-5-1h0m-8 0h0m6-10h0m5-2h0m6 0h0m-8-2h0m9-6h0m-6-5h0m4-6h0m6-4h0m-16-2h0m-2-1h0m16-5h0m2 0h0m-16-1h0m12-1h0m-9-5h0m5-9h0m7-1h0m-18-1h0m9-2h0m8-4h0m-20-1h0m14-4h0m3 0h0m-18-1h0m12-1h0m7-1h0m-12-1h0m13-6h0m-4-3h0m-15 0h0m1-1h0m7-3h0m-4-5h0m-1-4h0m6-1h0m-7-4h0m6-1h0m1-1h0m-6-3h0m15-1h0m-5-4h0m1 0h0m-5 0h0m6-2h0m6-1h0m-7-3h0m-5-1h0m0 0h0m-4 0h0m4-1h0m1-1h0m0 0h0m7-1h0m-3-2h0m-1 0h0m-5-1h0m10-1h0m-12-5h0m5-4h0m-4-1h0m11 0h0m-4 0h0m4-2h0m-13-8h0m-4-2h0m2 0h0m0-1h0m-1-1h0m10 0h0m6-2h0m-18-2h0m17-1h0m-1-2h0m-6-1h0m4-1h0m-4 0h0m0-3h0m-8-2h0m1-1h0m12 0h0m-16-3h0m8-1h0m8 0h0m-15-1h0m7-3h0m8-1h0m0-1h0m-2-2h0m5-1h0m-2-1h0m1-1h0m1-1h0m-9 0h0m-5-6h0m3-1h0m9-5h0m-17-3h0m7-1h0m1-2h0m-3-1h0m0 0h0m4-4h0m0 0h0m8-1h0m6 0h0m-10-1h0m0-2h0m-3-7h0m-4-5h0m-1-2h0m15-16h0m1-1h0m-15-5h0m13-1h0m-12-1h0m-3-4h0m7-1h0m3-2h0m-3-1h0m7 0h0m-5-2h0m2-3h0m-1-4h0m0-4h0m-11-3h0m20-7h0m-21-3h0m20-1h0m-15-5h0m15-1h0m-4-9h0m-8 0h0m0-1h0m-7-1h0m0-2h0m16-6h0m1 0h0m-13-1h0m-3-6h0m14 0h0m-2 0h0m-13-4h0m-1-1h0m16-2h0m-18-2h0m4 0h0m2-1h0m13-1h0m2-3h0m-16-6h0m1 0h0m-6-4h0m17-8h0m-7-3h0m26 8h0m11 3h0m-23 2h0m20 1h0m1 4h0m-20 10h0m5 2h0m15 3h0m-10 1h0m-3 0h0m-6 5h0m13 2h0m-8 0h0m-7 3h0m0 2h0m8 9h0m3 5h0m1 5h0m-8 2h0m-1 1h0m13 2h0m-6 1h0m-7 2h0m5 6h0m6 2h0m4 8h0m-3 1h0m-3 4h0m1 0h0m7 0h0m-15 6h0m-5 4h0m10 2h0m7 1h0m-16 1h0m8 2h0m-7 1h0m0 2h0m21 6h0m-13 2h0m4 1h0m1 1h0m-4 3h0m4 5h0m0 0h0m-10 1h0m7 1h0m2 9h0m8 3h0m0 3h0m-11 8h0m6 2h0m-3 1h0m2 1h0m-5 2h0m-7 0h0m10 2h0m-14 4h0m9 5h0m-7 2h0m3 3h0m1 1h0m6 1h0m-1 1h0m-6 2h0m-2 0h0m11 5h0m-2 1h0m7 4h0m-15 0h0m14 5h0m-8 2h0m-5 7h0m11 5h0m-14 11h0m1 0h0m-2 1h0m0 1h0m-1 2h0m19 3h0m-19 1h0m21 1h0m-17 1h0m17 3h0m-15 4h0m1 3h0m-6 0h0m-1 6h0m8 5h0m5 5h0m1 2h0m-12 2h0m9 4h0m1 2h0m7 3h0m-1 2h0m-15 0h0m7 2h0m3 5h0m4 0h0m-8 2h0m3 0h0m6 1h0m-7 0h0m-2 1h0m0 1h0m4 3h0m-8 1h0m15 0h0m-5 1h0m-4 0h0m-8 1h0m5 1h0m4 12h0m4 0h0m-1 1h0m0 1h0m-10 1h0m-4 6h0m18 6h0m-15 4h0m16 4h0m-4 5h0m-8 3h0m15 12h0m-18 0h0m2 4h0m-4 4h0m16 4h0m-10 0h0m-2 1h0m11 3h0m-1 1h0m-6 1h0m-8 1h0m6 12h0m-8 2h0m35-19h0m-5-2h0m-1-2h0m-6 0h0m9-2h0m9-1h0m-9-3h0m-8-1h0m8-3h0m7-2h0m-8-5h0m1-7h0m-2-4h0m-4-7h0m5-2h0m-3-2h0m4-3h0m-3-2h0m8-8h0m2-3h0m-4-2h0m-4-1h0m8-1h0m-9-1h0m-6-1h0m2-2h0m-3-4h0m16-1h0m-14-9h0m7-2h0m-8-23h0m16-40h0m-9-33h0m-3-5h0m-4-2h0m16-6h0m-15-22h0m20-10h0m-17-2h0m-5-5h0m1 0h0m2-4h0m-1 0h0m-1-11h0m3-3h0m2-18h0m2-8h0m-1-1h0m16-6h0m-9-3h0m4-2h0m3-3h0m-7 0h0m-7-1h0m4-9h0m-1-1h0m-8-1h0m0 0h0m6-1h0m-6 0h0m16-1h0m0-2h0m-14-1h0m-3-7h0m15-3h0m-12-5h0m4-1h0m5-7h0m-7-5h0m1-1h0m-3-6h0m-4-3h0m10 0h0m10-3h0m-7-4h0m-6-3h0m13-1h0m-14 0h0m14-3h0m-2 0h0m-1-6h0m14-1h0m-7 8h0m21 1h0m-8 3h0m-3 0h0m-10 4h0m2 2h0m-2 0h0m9 1h0m9 1h0m-2 1h0m-8 0h0m0 1h0m3 3h0m6 5h0m3 4h0m-7 0h0m-2 6h0m2 2h0m2 0h0m4 8h0m-7 3h0m-12 3h0m3 9h0m1 5h0m-3 1h0m8 4h0m-5 3h0m8 5h0m-1 7h0m7 46h0m-5 15h0m10 16h0m-14 19h0m0 7h0m13 10h0m-14 18h0m-2 129h0m22-107h0m-4-24h0m16-1h0m0-4h0m-12-3h0m2-4h0m12-31h0m0-62h0m-5-47h0m4-47h0m-15 0h0m10-13h0m11 0h0m-21-3h0m-2-6h0m28-4h0m13 4h0m-15 5h0m1 7h0m3 1h0m7 2h0m-6 1h0m16 3h0m-19 2h0m-4 0h0m5 62h0m15 10h0m-5 86h0m-5 178h0m-6 24h0m5 29h0m30-16h0m6-65h0m-11-134h0m7-18h0m-17-57h0m7-21h0m9-4h0m6-3h0m-15-62h0m12-20h0m11 126h0m-3 40h0m1 108h0m30 150h0m-9-9h0m2-17h0m15-14h0m-11-33h0m7-37h0m-8-38h0m-4-25h0m13-154h0m-14-37h0m9-19h0m14 34h0m15 120h0m-12 80h0m14 80h0m0 5h0m-10 15h0m-3 8h0m-2 22h0m19 62h0m-2 0h0m-17 8h0m25 22h0m15-25h0m-8-3h0m7-50h0m-11-4h0m11-13h0m-9-3h0m5-1h0m-8-27h0m1-47h0m16-20h0m-15-11h0m3-7h0m-2-39h0m0-9h0m23-134h0m10 142h0m-9 4h0m-6 52h0m5 33h0m11 6h0m-10 90h0m6 12h0m9 4h0m-11 38h0m32 147h0m2-2h0m-2-10h0m-1-3h0m-14-35h0m5-1h0m-9-8h0m18-70h0m-10-352h0m-8-39h0m31-39h0m-8 124h0m4 103h0m0 46h0m12 18h0m-16 18h0m9 0h0m4 87h0m8 61h0m-1 0h0m-20 5h0m8 2h0m15 11h0m-20 1h0m15 2h0m-5 1h0m-8 20h0m2 1h0m9 18h0m-6 9h0m9 4h0m-17 0h0m16 3h0m1 7h0m0 13h0m3 1h0m-10 3h0m5 4h0m6 9h0m9 15h0m4 0h0m-1 0h0m-10-7h0m8-3h0m2-3h0m-10-7h0m15-15h0m-5 0h0m2-2h0m0-1h0m2-9h0m7-2h0m-3-1h0m-3-6h0m3-35h0m-9-21h0m11-25h0m-8-30h0m-4-56h0m8-60h0m-3-199h0m-2-8h0m3-30h0m31-69h0m-17 39h0m6 11h0m1 33h0m8 15h0m-3 27h0m-2 7h0m6 63h0m-15 169h0m-1 18h0m1 18h0m16 23h0m-8 10h0m-1 0h0m5 6h0m-18 65h0m15 4h0m-14 2h0m22 17h0m-4 5h0m4 12h0m-23 12h0m3 6h0m-3 10h0m10 6h0m8 4h0m3 3h0m-7 0h0m9 15h0m-16 5h0m1 3h0m29 6h0m0-8h0m9-2h0m0-3h0m-22-1h0m6-2h0m1-26h0m-4 0h0m-3 0h0m10-4h0m-4-21h0m10-2h0m1-1h0m-5-1h0m-6-4h0m-5-20h0m-1-4h0m7-6h0m8-12h0m-12-33h0m3-6h0m11-7h0m6-1h0m-21-1h0m21-8h0m-9 0h0m-6-5h0m14-19h0m-22-11h0m7-6h0m13-33h0m-18-26h0m17-1h0m-18-187h0m4-27h0m8-37h0m-9-7h0m4-4h0m11-11h0m-5-11h0m-14-7h0m22-31h0m-21-12h0m34 28h0m4 4h0m-5 7h0m1 8h0m3 2h0m-12 6h0m5 54h0m10 84h0m-2 27h0m4 55h0m-18 102h0m20 12h0m-11 9h0m10 2h0m-9 5h0m3 2h0m-2 9h0m8 3h0m-3 9h0m-17 10h0m22 3h0m1 10h0m-1 33h0m-19 3h0m17 2h0m-12 10h0m4 4h0m11 33h0m0 5h0m-23 11h0m13 5h0m9 16h0m-5 15h0m-4 17h0m-13 0h0m35 1h0m-1-9h0m10-48h0m-16-5h0m17-6h0m-18-2h0m12-8h0m-9-9h0m-5-31h0m18-9h0m2-20h0m-7-2h0m7-16h0m-14 0h0m-3-3h0m19-2h0m-22-1h0m8 0h0m-7-18h0m13-156h0m-1-44h0m0-154h0m-14-10h0m43 27h0m-2 3h0m-10 11h0m14 9h0m-7 4h0m3 2h0m4 2h0m2 4h0m-1 129h0m-22 23h0m1 160h0m2 32h0m4 27h0m-1 6h0m7 14h0m-4 6h0m6 7h0m-8 11h0m-2 7h0m10 8h0m-9 8h0m5 3h0m-10 4h0m4 5h0m29-2h0m12-10h0m-21-244h0m0-185h0m3-6h0m6-5h0m1-7h0m-8-1h0m14-2h0m-14-2h0m7-1h0m7-2h0m-8-1h0m11-1h0m-6-6h0m27 2h0m-17 12h0m0 10h0m23 2h0m-1 1h0m-10 416h0m-10 31h0m22-26h0m9-426h0m-1-8h0m-3 0h0m-3-3h0m40 82h0m23 160h0m21-93h0m0 59h0m-3 21h0m53-63h0m-4 13h0m-5 64h0m25-71h0m1-10h0"/>
<path stroke="#7cae00" d="M73 1112h0m29-57h0m0 23h0m10 13h0m22 161h0m0-182h0m10-86h0m9 68h0m11 197h0m12-112h0m11-10h0m-1-99h0m16-26h0m-5 55h0m2 17h0m10 136h0m30-42h0m-14-100h0m16 197h0m42-35h0m0-15h0m3-2h0m-6-40h0m6-8h0m-13-6h0m10-28h0m-7-14h0m2-2h0m0-11h0m-4-5h0m16-174h0m19 16h0m-18 8h0m4 91h0m9 22h0m-14 19h0m18 1h0m2 34h0m-5 18h0m-4 5h0m5 18h0m-18 22h0m15 18h0m-11 1h0m-1 7h0m-1 2h0m8 18h0m-4 14h0m12 2h0m-13 10h0m15 16h0m2 0h0m-5 15h0m5 13h0m-12 3h0m37 35h0m-5-18h0m-9-7h0m1-9h0m11-11h0m-15-9h0m3-7h0m14-7h0m-19-18h0m4-18h0m9-5h0m2-7h0m-3-3h0m-15 0h0m0 0h0m10-5h0m-7-8h0m12-14h0m2-1h0m5 0h0m-1-39h0m-3-38h0m3-17h0m-1-31h0m-9-2h0m7-6h0m-17-20h0m11-12h0m5-17h0m-10-16h0m6-26h0m-4-9h0m3-12h0m-12-3h0m4-2h0m26-11h0m14 20h0m-21 3h0m6 9h0m17 15h0m-15 7h0m14 3h0m-1 7h0m-8 2h0m10 11h0m-4 4h0m0 1h0m-1 16h0m-1 5h0m4 1h0m0 13h0m-1 5h0m1 6h0m-1 1h0m-3 2h0m5 1h0m-3 0h0m-7 1h0m9 6h0m2 2h0m-5 1h0m-3 4h0m1 1h0m-1 2h0m6 3h0m-1 1h0m-5 7h0m0 0h0m-2 2h0m0 3h0m-1 1h0m5 8h0m-13 0h0m18 1h0m-13 12h0m-2 6h0m10 1h0m6 2h0m-11 3h0m4 6h0m7 0h0m-11 5h0m2 1h0m8 0h0m-1 1h0m2 2h0m0 1h0m-3 6h0m1 2h0m2 11h0m-4 1h0m2 2h0m-21 15h0m15 18h0m-12 6h0m12 10h0m-3 3h0m10 17h0m-17 8h0m14 0h0m-4 0h0m3 17h0m5 14h0m-6 10h0m5 6h0m-1 15h0m-4 2h0m-6 0h0m7 8h0m1 3h0m2 0h0m-20 2h0m-1 6h0m9 0h0m13 4h0m24 10h0m-21-1h0m13-9h0m1-3h0m-11-3h0m-2 0h0m10-1h0m2-18h0m1-3h0m-10-1h0m9-1h0m-13-6h0m12-1h0m1-1h0m-2-2h0m8-7h0m-8-9h0m-5-7h0m5-3h0m-12-1h0m12-3h0m-7-1h0m16-1h0m-6-3h0m-13-3h0m20-1h0m-8-12h0m-12-7h0m0-1h0m7-5h0m10-14h0m-16-6h0m12-15h0m0-1h0m-10-8h0m17-9h0m-15 0h0m6-3h0m9 0h0m-3-3h0m-13-1h0m12-3h0m-12-1h0m9 0h0m-4-1h0m12-5h0m-11-1h0m-2-1h0m-6 0h0m4-1h0m14-1h0m-17-2h0m2-1h0m-6-4h0m5-1h0m16-1h0m-15-1h0m-5-1h0m6-1h0m-8-1h0m7-1h0m15 0h0m-13-4h0m3 0h0m5-2h0m-11-2h0m13 0h0m-11-3h0m-1-5h0m-2-2h0m6-1h0m4-1h0m-12-2h0m7-4h0m10-1h0m1-2h0m-16-2h0m5 0h0m-5-1h0m-1 0h0m-2 0h0m0-2h0m1-1h0m14 0h0m-4 0h0m-3 0h0m2-1h0m0-2h0m-12-2h0m9-1h0m6-1h0m-12-1h0m19-1h0m-1-1h0m-20 0h0m14-1h0m7-1h0m-18-5h0m-1-3h0m16-1h0m2-2h0m-18 0h0m6-1h0m5-4h0m-3 0h0m-7-1h0m17-1h0m2 0h0m-12 0h0m2-1h0m-2-1h0m4 0h0m7-3h0m-21 0h0m18-2h0m-9-1h0m-3 0h0m-1 0h0m11-4h0m1 0h0m-17-5h0m7 0h0m-8-2h0m5-2h0m-5-3h0m16 0h0m6-2h0m-22-1h0m22 0h0m-4-3h0m-1 0h0m-2-4h0m5-1h0m-11 0h0m7-6h0m-9-1h0m12-1h0m-18-1h0m22-2h0m-16-1h0m2-1h0m-9-1h0m17-1h0m-15-1h0m20 0h0m-15-1h0m3 0h0m6 0h0m-12-2h0m2-1h0m-5-4h0m15-2h0m-3-4h0m-2-4h0m-11-1h0m12-3h0m6 0h0m-9-3h0m12 0h0m-3-2h0m-10-2h0m8-4h0m4-2h0m-12-1h0m3-1h0m12-1h0m-1-1h0m-9-1h0m4-3h0m-7-1h0m-8 0h0m2-7h0m10-5h0m9-1h0m-18-5h0m15-3h0m-8-8h0m0-6h0m7-1h0m-4-3h0m1-1h0m5-1h0m13-18h0m8 5h0m-2 4h0m-7 2h0m-5 2h0m15 0h0m4 3h0m-20 9h0m17 6h0m-8 0h0m2 0h0m-5 2h0m-4 4h0m16 1h0m-4 2h0m6 2h0m-19 0h0m16 0h0m-7 1h0m0 0h0m-4 0h0m9 2h0m-3 0h0m-9 2h0m10 4h0m-11 2h0m10 5h0m-7 0h0m2 1h0m-1 1h0m2 4h0m1 2h0m0 1h0m-12 4h0m2 0h0m5 1h0m9 2h0m-10 2h0m-6 2h0m17 2h0m-17 1h0m10 1h0m11 0h0m-14 2h0m16 0h0m-19 5h0m3 1h0m7 0h0m-1 2h0m8 1h0m-17 0h0m18 2h0m-10 2h0m4 0h0m-16 1h0m1 3h0m0 1h0m21 2h0m1 1h0m0 0h0m-23 1h0m12 1h0m-12 0h0m9 1h0m0 1h0m9 0h0m-2 1h0m7 3h0m-19 1h0m7 0h0m1 3h0m7 0h0m0 6h0m-5 2h0m3 0h0m-3 1h0m-11 0h0m10 1h0m9 0h0m-8 1h0m-12 1h0m7 0h0m5 1h0m-6 2h0m0 2h0m-5 2h0m7 0h0m7 3h0m4 3h0m-15 0h0m5 3h0m7 3h0m-11 1h0m9 0h0m-15 1h0m21 0h0m-10 0h0m2 1h0m-8 2h0m13 0h0m-15 1h0m7 5h0m-10 0h0m21 1h0m0 0h0m-20 1h0m13 1h0m1 2h0m-16 2h0m3 1h0m9 1h0m7 1h0m-6 3h0m2 2h0m-4 0h0m4 0h0m-1 3h0m-8 0h0m17 0h0m-10 1h0m-5 1h0m-2 1h0m17 0h0m-3 1h0m-3 1h0m-3 0h0m7 1h0m-17 2h0m2 1h0m-3 4h0m14 1h0m-5 0h0m9 1h0m2 2h0m-9 1h0m-1 1h0m2 2h0m-9 0h0m3 0h0m-7 5h0m8 1h0m-10 3h0m12 0h0m4 2h0m-16 1h0m7 2h0m-1 1h0m3 0h0m14 2h0m-11 0h0m11 0h0m-17 1h0m7 1h0m8 3h0m-5 1h0m6 2h0m-18 0h0m18 0h0m-14 1h0m-8 2h0m16 3h0m4 0h0m-12 1h0m1 2h0m14 2h0m-14 0h0m8 5h0m-7 1h0m2 0h0m5 4h0m-10 1h0m13 0h0m-5 1h0m8 4h0m-9 4h0m5 0h0m4 0h0m-18 2h0m-2 1h0m6 6h0m10 1h0m-19 1h0m12 2h0m-1 4h0m-4 2h0m2 0h0m-6 1h0m13 1h0m-16 1h0m3 2h0m12 3h0m-5 4h0m1 15h0m9 3h0m-1 6h0m-18 4h0m21 6h0m-2 22h0m-3 0h0m-12 13h0m18 1h0m-12 2h0m-7 2h0m4 1h0m14 0h0m-14 2h0m5 1h0m-6 2h0m-6 0h0m0 1h0m-1 17h0m18 3h0m4 1h0m-13 11h0m6 3h0m-15 2h0m16 3h0m-2 1h0m7 3h0m2 3h0m-14 3h0m-9 6h0m12 0h0m6 4h0m-5 3h0m7 2h0m-18 5h0m13 1h0m-9 1h0m-1 0h0m15 2h0m-14 6h0m13 4h0m-11 0h0m-1 1h0m13 7h0m-1 7h0m0 1h0m-8 0h0m-4 2h0m3 1h0m13 6h0m-2 0h0m-9 2h0m-3 5h0m14 5h0m-11 2h0m11 10h0m18 30h0m-7-19h0m7-5h0m2-8h0m0-2h0m4-1h0m-10 0h0m-10 0h0m20-1h0m-14-1h0m6-1h0m-4-1h0m5-4h0m-10-2h0m0 0h0m14 0h0m-9 0h0m-11-9h0m1 0h0m20-3h0m0-1h0m-10-3h0m-4 0h0m-6-1h0m4-3h0m16-1h0m-6-2h0m2-1h0m-14 0h0m3 0h0m1-1h0m-4-2h0m7-1h0m13-1h0m-10-1h0m-5-2h0m6 0h0m-4-6h0m2 0h0m-8-1h0m6-2h0m1-5h0m-2-8h0m6 0h0m-10-1h0m-4 0h0m17-2h0m-9-2h0m-7-1h0m13-3h0m-11-6h0m9-3h0m9 0h0m-15-5h0m8-1h0m-11-1h0m16-3h0m-14-12h0m-2 0h0m3-12h0m11 0h0m-5-2h0m-1 0h0m-7-1h0m9-1h0m-4-2h0m12-1h0m1-8h0m-7-1h0m-5-2h0m4 0h0m5-1h0m-6-1h0m-14-4h0m2-9h0m11-1h0m-12-2h0m22-7h0m-1-1h0m-16-7h0m6-4h0m-2-4h0m2-6h0m2-7h0m3-8h0m-5-12h0m11-8h0m-22-4h0m13-3h0m6-2h0m2-3h0m-4-1h0m-3-1h0m3 0h0m-15-2h0m16-3h0m0-1h0m-12-7h0m10-3h0m1-2h0m-15-9h0m19 0h0m-6-1h0m-13-1h0m7-1h0m-3 0h0m14-1h0m-11-1h0m4-1h0m-8-5h0m1-2h0m0-3h0m-6-10h0m0-1h0m4-3h0m12-2h0m4-2h0m-8 0h0m-7-2h0m8-3h0m-12 0h0m9-3h0m-5 0h0m4-1h0m-1 0h0m3-2h0m-4-3h0m-8-1h0m21-2h0m-9 0h0m-8-1h0m7 0h0m-9-1h0m15-2h0m5-1h0m-1 0h0m-13 0h0m-1-2h0m3-2h0m7-6h0m-4 0h0m10 0h0m-21-2h0m0 0h0m0-1h0m8-1h0m6-1h0m-10-2h0m-3-1h0m6 0h0m-9-4h0m20-4h0m-17-1h0m12 0h0m-2-1h0m6 0h0m4-2h0m-22-2h0m4-2h0m8-1h0m1-3h0m4-3h0m0 0h0m-14-1h0m8-5h0m-1-1h0m5-1h0m-15-1h0m4-2h0m0-1h0m-5-1h0m14-1h0m3-1h0m-15-2h0m19 0h0m-18 0h0m0-1h0m15-1h0m4-1h0m-14-1h0m-2-3h0m15-1h0m-16-1h0m15-1h0m-8-1h0m6 0h0m2 0h0m-1-2h0m-14-2h0m10 0h0m8-1h0m0-1h0m-6 0h0m-12-3h0m9 0h0m-12-1h0m6 0h0m-1 0h0m9-1h0m-9 0h0m12-1h0m-17-3h0m5-4h0m2-4h0m7-2h0m-5-2h0m8 0h0m-17-1h0m0-1h0m13-1h0m7-1h0m-6-1h0m-14 0h0m12-3h0m9-2h0m-11-3h0m4-1h0m-11-3h0m15 0h0m2-1h0m-5-1h0m-15-1h0m14-1h0m-15 0h0m18-2h0m-13-5h0m7 0h0m-4-1h0m4-1h0m-9 0h0m16 0h0m-12-1h0m13-2h0m-7-2h0m-1-1h0m-10-8h0m11-1h0m-13-6h0m12-4h0m-10-1h0m14-2h0m-16-1h0m4 0h0m-5-1h0m6-3h0m8-13h0m-8-1h0m-3 0h0m6-3h0m-3-7h0m19 6h0m11 2h0m10 1h0m-19 3h0m11 14h0m6 3h0m3 10h0m-19 2h0m18 5h0m-10 3h0m5 1h0m-11 1h0m5 4h0m-11 1h0m11 2h0m-9 6h0m8 2h0m-6 2h0m0 2h0m-4 2h0m7 5h0m12 2h0m-15 7h0m-4 2h0m5 2h0m13 0h0m-15 1h0m10 3h0m-3 5h0m-8 2h0m0 6h0m6 2h0m1 6h0m-7 2h0m-1 3h0m2 1h0m12 1h0m6 3h0m-1 2h0m-12 1h0m-8 0h0m6 1h0m-6 4h0m15 3h0m5 1h0m-17 1h0m17 8h0m-9 4h0m11 5h0m-15 9h0m8 1h0m-2 0h0m-5 4h0m3 3h0m1 11h0m5 7h0m-4 6h0m-12 0h0m6 8h0m5 12h0m-4 6h0m-4 4h0m6 1h0m-7 8h0m13 7h0m2 0h0m0 5h0m-5 2h0m-11 12h0m2 1h0m3 0h0m14 6h0m-5 14h0m-8 5h0m7 3h0m-14 4h0m5 12h0m-3 1h0m6 1h0m0 12h0m-2 7h0m3 3h0m2 7h0m0 2h0m5 18h0m-3 2h0m-8 5h0m-5 0h0m4 2h0m8 4h0m3 2h0m-7 7h0m9 0h0m-11 5h0m3 0h0m8 10h0m-1 11h0m0 1h0m-1 1h0m7 0h0m-17 4h0m15 1h0m-1 1h0m-13 7h0m-1 4h0m15 2h0m-4 2h0m-6 2h0m-5 2h0m14 1h0m-10 3h0m-7 1h0m15 0h0m2 0h0m1 0h0m-21 3h0m4 4h0m7 3h0m-5 6h0m5 5h0m7 0h0m-11 1h0m-3 3h0m17 0h0m-12 4h0m10 0h0m-17 0h0m-1 3h0m11 0h0m-1 1h0m6 1h0m-4 0h0m6 5h0m3 0h0m-6 7h0m-16 1h0m20 6h0m3 1h0m-12 2h0m-8 0h0m-2 2h0m17 1h0m-3 0h0m-8 1h0m-6 1h0m2 5h0m1 1h0m1 0h0m9 1h0m6 5h0m-6 1h0m-4 0h0m5 1h0m-6 1h0m13 0h0m-2 0h0m-18 4h0m1 0h0m18 3h0m-7 1h0m8 2h0m-15 1h0m10 0h0m0 7h0m-9 0h0m13 1h0m-19 3h0m39 1h0m-9-4h0m15-1h0m-8-1h0m-1-2h0m4-5h0m0-3h0m4 0h0m-2-2h0m-9-1h0m-3-2h0m-4-1h0m-2-3h0m16-1h0m-12-5h0m16-1h0m-20 0h0m0 0h0m19-6h0m-7 0h0m2-2h0m1-1h0m-8-1h0m-6-1h0m4-2h0m11 0h0m-13 0h0m9 0h0m-11-1h0m3 0h0m10 0h0m-3-4h0m8 0h0m-11-3h0m11-7h0m-16-1h0m-3-3h0m15-7h0m6-2h0m-6 0h0m-4 0h0m-7-2h0m5-2h0m12-2h0m-19-3h0m-1 0h0m0-1h0m-3-1h0m16 0h0m6-2h0m0-1h0m-11-2h0m0-1h0m6-1h0m-17-1h0m14-1h0m4-1h0m4-1h0m-4-1h0m-2-3h0m6-2h0m-19 0h0m9-3h0m1-2h0m-13 0h0m11-2h0m9-7h0m3-2h0m-1-2h0m-5-1h0m0-1h0m4-1h0m-4-2h0m-3 0h0m0 0h0m-5-2h0m1 0h0m-2-2h0m-6-2h0m19-1h0m-9-2h0m2-3h0m-9-5h0m9-10h0m-9-2h0m0-1h0m14-3h0m3-3h0m-19-8h0m16-4h0m-9-6h0m0-5h0m6-18h0m7-1h0m-18-1h0m0-1h0m2-15h0m4 0h0m-9-1h0m17-11h0m-6-3h0m4-3h0m-11 0h0m0-1h0m-4-12h0m2-6h0m15-2h0m-9-2h0m-9-12h0m3-4h0m-3 0h0m18-3h0m-10-13h0m-5-12h0m1-1h0m4 0h0m14-5h0m-6-10h0m4-8h0m-13-1h0m9-2h0m-13-11h0m-4 0h0m20-1h0m-10-7h0m9-2h0m-19-6h0m13-3h0m-3-3h0m-9-3h0m7-3h0m13-1h0m-21-1h0m15-1h0m-2-1h0m1-3h0m5 0h0m-14-1h0m-2-1h0m0 0h0m17-1h0m-10-4h0m-8-4h0m10-1h0m5-8h0m-6-5h0m-8 0h0m15-5h0m-16-6h0m7-8h0m-1 0h0m5-20h0m2 0h0m5-2h0m-13-1h0m3 0h0m6-3h0m0-2h0m2-2h0m4-11h0m-7-1h0m-5-2h0m7-8h0m-11-2h0m-5-2h0m16 0h0m-15-2h0m-2-2h0m23-1h0m-7-2h0m1-5h0m-7-1h0m-9-6h0m17-14h0m-16-1h0m8-4h0m-7-1h0m17-8h0m-16-4h0m17-2h0m-16-2h0m24 10h0m-4 4h0m17 4h0m-3 2h0m-4 2h0m-1 2h0m-1 2h0m6 2h0m3 1h0m3 0h0m-11 7h0m-1 1h0m10 2h0m-7 10h0m-5 6h0m4 3h0m-2 1h0m8 4h0m6 1h0m-6 3h0m4 0h0m1 1h0m-7 1h0m-11 1h0m11 0h0m3 1h0m-7 4h0m5 8h0m3 1h0m-3 0h0m5 7h0m-1 1h0m-19 1h0m9 7h0m-8 8h0m10 4h0m9 5h0m-20 7h0m15 4h0m2 6h0m-11 4h0m9 3h0m-5 2h0m11 1h0m-14 2h0m13 1h0m-15 11h0m10 1h0m-1 0h0m-15 12h0m14 4h0m4 5h0m-1 8h0m-7 3h0m3 12h0m-7 1h0m-3 4h0m18 1h0m-12 4h0m11 4h0m-10 1h0m8 1h0m-16 1h0m21 2h0m-8 0h0m4 10h0m-7 4h0m-1 6h0m-5 4h0m-4 2h0m12 3h0m4 9h0m-18 4h0m19 4h0m-13 17h0m5 6h0m-7 7h0m3 1h0m-7 7h0m0 23h0m21 7h0m-2 7h0m0 1h0m-14 11h0m3 19h0m10 3h0m-2 12h0m-4 0h0m-5 2h0m3 5h0m0 7h0m7 6h0m4 2h0m-8 4h0m2 0h0m-13 12h0m17 3h0m3 1h0m-11 1h0m0 4h0m12 1h0m-10 3h0m8 2h0m-1 3h0m-2 0h0m2 1h0m1 0h0m2 1h0m-6 0h0m6 1h0m-21 6h0m0 0h0m14 1h0m5 5h0m0 4h0m-3 2h0m-6 1h0m3 0h0m-2 1h0m5 0h0m-9 1h0m2 2h0m-9 2h0m1 0h0m7 0h0m5 1h0m-2 3h0m-5 0h0m-2 1h0m15 0h0m-17 1h0m15 1h0m-2 1h0m1 2h0m-14 2h0m10 2h0m3 1h0m3 0h0m1 3h0m-17 2h0m14 1h0m-4 2h0m-10 1h0m17 0h0m-13 2h0m-4 1h0m13 0h0m-12 1h0m1 0h0m-6 3h0m14 2h0m8 5h0m-14 1h0m-1 2h0m-6 3h0m15 1h0m7 1h0m-22 0h0m1 2h0m5 1h0m13 0h0m-14 1h0m-4 4h0m5 1h0m-3 2h0m16 4h0m-11 1h0m-9 4h0m42 92h0m-3-4h0m-9-23h0m-3-14h0m-2-18h0m16-42h0m-10-3h0m-2-4h0m10-2h0m-5-1h0m-10-5h0m8 0h0m-3-2h0m17-1h0m1-3h0m-16-2h0m-5-13h0m6-1h0m-8 0h0m8-1h0m0-2h0m1 0h0m-2 0h0m1-2h0m3-3h0m1-4h0m-10-2h0m-2-3h0m13-2h0m-11-2h0m14 0h0m-10-1h0m5 0h0m-11-1h0m3-1h0m18-2h0m-19 0h0m14-1h0m-7-4h0m11-2h0m-8 0h0m-11-3h0m19-2h0m-11 0h0m-7-1h0m-1-1h0m6-1h0m-7-1h0m3-1h0m-3-3h0m16-1h0m-2-3h0m-6-2h0m6 0h0m-4-3h0m-4-9h0m11-1h0m2-3h0m-18-5h0m16-2h0m-12-5h0m17-5h0m-12-1h0m-8-6h0m11-3h0m-1-6h0m-8-11h0m-1-3h0m-2 0h0m7-30h0m15-1h0m-21-30h0m-2-1h0m6-1h0m1-5h0m-6-30h0m3-4h0m4-2h0m15-36h0m-16-7h0m11-1h0m-13-1h0m17-20h0m-10-1h0m3-4h0m8-3h0m-3-4h0m-16-1h0m2-2h0m0-4h0m-5-2h0m20-1h0m-13-3h0m-7-7h0m15-1h0m2-5h0m3 0h0m-2-9h0m-16-1h0m15 0h0m2-6h0m-7-1h0m-3-1h0m5-5h0m0-4h0m-6-2h0m1-3h0m-6-3h0m0-5h0m4-9h0m14-2h0m-18-7h0m17-7h0m-10-1h0m-7-2h0m15 0h0m-14-7h0m-2 0h0m19-1h0m-9-8h0m9 0h0m1 0h0m-18-4h0m-1-2h0m12-4h0m5-4h0m0-8h0m-14-1h0m7-5h0m-2-1h0m8-1h0m-5 0h0m-12-1h0m9-9h0m-3-4h0m-1-1h0m11-3h0m-15-1h0m5-1h0m-9-3h0m38 55h0m0 14h0m-12 6h0m17 2h0m-15 2h0m5 1h0m2 0h0m5 7h0m2 5h0m-2 1h0m-11 2h0m8 3h0m-11 6h0m8 0h0m-2 5h0m5 2h0m-6 5h0m10 1h0m-13 8h0m10 0h0m-14 1h0m13 6h0m-8 1h0m18 3h0m-5 7h0m-3 10h0m-6 0h0m8 0h0m-6 1h0m-10 12h0m1 3h0m21 3h0m-20 2h0m0 4h0m-1 3h0m0 31h0m15 9h0m-7 4h0m6 0h0m-5 1h0m-6 1h0m4 7h0m-8 2h0m-1 8h0m17 1h0m-5 10h0m2 13h0m1 10h0m6 2h0m-12 19h0m-2 2h0m-2 9h0m8 2h0m2 1h0m7 0h0m-19 20h0m19 0h0m-3 4h0m-4 4h0m-12 17h0m13 3h0m0 10h0m-14 5h0m14 8h0m-4 5h0m-7 8h0m1 4h0m14 1h0m-9 10h0m12 0h0m-2 6h0m-20 3h0m12 2h0m-2 5h0m11 1h0m-19 3h0m12 6h0m3 8h0m-4 10h0m1 0h0m-11 4h0m-4 0h0m9 7h0m6 18h0m3 5h0m-12 15h0m-4 10h0m4 3h0m2 30h0m8 3h0m-8 1h0m13 11h0m-8 16h0m1 7h0m-14 9h0m6 17h0m2 1h0m-5 3h0m41 30h0m2-10h0m-22-1h0m6-20h0m11-10h0m-3-22h0m7-4h0m-1-5h0m-13-18h0m14-21h0m-18-10h0m17-14h0m-11-30h0m7-7h0m-13-23h0m11-9h0m-6-5h0m2-13h0m2-1h0m-2 0h0m-2-1h0m-4-1h0m8-5h0m-6 0h0m14-4h0m-15-3h0m9-6h0m-5 0h0m-8-18h0m15 0h0m6 0h0m-6-4h0m-2-3h0m-9-11h0m8-4h0m-9-10h0m5-5h0m-2-10h0m-7-9h0m19-2h0m-13-7h0m1-1h0m2-8h0m0 0h0m12-4h0m1-18h0m-2-4h0m-4-1h0m2-11h0m1-1h0m-1-8h0m-12-15h0m17-13h0m-15-1h0m-2-18h0m12-4h0m3-8h0m-16-9h0m-1-10h0m17-7h0m-8-13h0m5-2h0m-1-13h0m-7-5h0m8-13h0m-14-9h0m18-5h0m-20-12h0m40-30h0m-11 55h0m-1 1h0m8 2h0m-2 2h0m-4 7h0m-1 31h0m-5 19h0m5 19h0m-2 21h0m9 57h0m7 0h0m-15 0h0m12 2h0m-14 0h0m6 1h0m5 4h0m1 2h0m-8 0h0m1 6h0m-1 6h0m1 28h0m6 26h0m-11 1h0m5 0h0m-4 2h0m16 1h0m-20 5h0m14 2h0m0 9h0m4 2h0m-9 1h0m12 2h0m-20 6h0m6 5h0m14 2h0m-22 6h0m17 8h0m-14 3h0m0 0h0m3 2h0m-3 16h0m16 9h0m-2 32h0m-8 6h0m11 10h0m-20 16h0m1 5h0m1 25h0m21 9h0m-23 20h0m8 6h0m8 5h0m-13 1h0m17 17h0m-16 32h0m-1 16h0m23 1h0m18-12h0m-12-33h0m11-12h0m-15-16h0m5-4h0m11-6h0m-1-8h0m-15-9h0m4-21h0m-2-2h0m4-11h0m-2-6h0m2-11h0m7-5h0m-5-7h0m-6-30h0m15-73h0m-4-10h0m-2-1h0m-6-1h0m-3-4h0m-6-1h0m1-2h0m4-7h0m18-6h0m-13-3h0m9-4h0m-12-57h0m5 0h0m1-3h0m-8-11h0m11-40h0m-2-5h0m1-7h0m5-12h0m-2-8h0m-18-12h0m7-16h0m0-13h0m7-12h0m-5-3h0m6-11h0m-9-26h0m12-2h0m-17-3h0m13-2h0m4-7h0m-3-3h0m-4-1h0m10-4h0m-8-36h0m-6-1h0m17-10h0m1 25h0m-1 1h0m14 2h0m-13 3h0m22 9h0m-11 11h0m4 2h0m-1 0h0m-6 15h0m7 23h0m-9 5h0m15 2h0m-20 8h0m1 11h0m9 4h0m1 7h0m9 9h0m1 0h0m-8 2h0m-9 31h0m7 48h0m0 2h0m-5 3h0m1 9h0m1 2h0m6 1h0m-6 2h0m9 9h0m-14 8h0m17 24h0m-10 13h0m-2 1h0m11 5h0m-15 2h0m-3 5h0m14 5h0m5 2h0m-11 9h0m4 3h0m-9 5h0m7 2h0m-3 2h0m1 4h0m-7 1h0m8 4h0m-5 4h0m11 50h0m-13 8h0m4 44h0m9 9h0m0 0h0m-13 19h0m-3 16h0m17 9h0m-18 0h0m1 7h0m12 2h0m-10 12h0m-3 25h0m19 1h0m-20 3h0m10 21h0m-3 0h0m-5 4h0m5 17h0m-7 4h0m18 12h0m24 13h0m-9-20h0m-1-9h0m-8-13h0m11-6h0m-1-3h0m10-3h0m-9-20h0m5-21h0m-7-18h0m8-2h0m-8-30h0m-7-14h0m8-24h0m-10-41h0m7-42h0m10-5h0m-7-8h0m-4 0h0m8-14h0m-3-5h0m-5 0h0m12-10h0m-2 0h0m5-7h0m-11-2h0m4-1h0m-10-2h0m8 0h0m-11-1h0m16-1h0m-14 0h0m20-3h0m-10-7h0m-4-2h0m-1-3h0m4-3h0m3-7h0m-1-6h0m-6-5h0m8 0h0m2-2h0m-4-4h0m-10-3h0m-2-4h0m21-7h0m-1-9h0m-15-1h0m-7 0h0m9-7h0m13-4h0m-20-3h0m14-8h0m-3 0h0m-7-124h0m-5 0h0m39 41h0m-14 91h0m6 11h0m1 8h0m3 0h0m-6 1h0m2 0h0m-1 1h0m10 3h0m-8 1h0m2 0h0m10 0h0m-15 1h0m-4 0h0m4 0h0m-3 1h0m17 1h0m-17 0h0m12 1h0m-3 1h0m-9 0h0m14 3h0m-1 0h0m-12 1h0m1 0h0m-1 1h0m19 1h0m-15 2h0m13 0h0m-6 1h0m-1 1h0m-4 4h0m-2 1h0m6 3h0m-11 6h0m7 3h0m-3 5h0m6 3h0m-7 1h0m6 8h0m3 8h0m-7 3h0m-4 3h0m6 3h0m10 5h0m-4 2h0m-13 11h0m12 5h0m4 1h0m-13 0h0m6 137h0m-1 10h0m2 63h0m-2 11h0m-8 19h0m13 7h0m-6 6h0m14-332h0m1-6h0m93-43h0"/>
<path stroke="#f8766d" d="M66 1136h0m18 72h0m7-19h0m-1-13h0m-7-22h0m-6-9h0m3-6h0m-8-26h0m10-13h0m4-18h0m6 0h0m24-28h0m-9 21h0m12 25h0m-18 16h0m1 9h0m1 22h0m8 46h0m-3 14h0m32 26h0m0-10h0m-1-12h0m-11-14h0m9 0h0m-13-15h0m18-3h0m-5-13h0m2-52h0m-13-41h0m15-6h0m-17-1h0m18-26h0m-12-4h0m-10-22h0m12-10h0m21 67h0m3 1h0m-8 2h0m19 50h0m-21 38h0m8 11h0m11 50h0m-21 24h0m27-58h0m10-9h0m-6-8h0m15-6h0m-15-18h0m6-9h0m-8-30h0m-2-12h0m5-12h0m13-15h0m-6-15h0m2-18h0m5-7h0m1-1h0m-11-57h0m29-13h0m-9 36h0m-4 29h0m0 17h0m16 32h0m-9 30h0m-3 9h0m13 9h0m-16 133h0m-3 8h0m13 0h0m30-9h0m-19-6h0m16-13h0m-12-15h0m-5-6h0m13-58h0m-12 0h0m18-14h0m-2-41h0m-4-15h0m-6-7h0m17-113h0m4 7h0m17 8h0m-1 7h0m-4 2h0m-1 55h0m-4 13h0m8 25h0m0 6h0m-3 0h0m-14 44h0m2 2h0m12 88h0m-16 74h0m29-19h0m12-281h0m0-14h0m24-54h0m-5 44h0m-4 73h0m12 144h0m-7 23h0m-8 4h0m10 23h0m5 10h0m-10 20h0m4 11h0m-10 2h0m9 3h0m0 6h0m-3 9h0m11 15h0m9 19h0m2-3h0m2-2h0m2-6h0m2-9h0m-12-1h0m4-9h0m5-1h0m4-3h0m-3-12h0m9-13h0m-13-30h0m12-4h0m0-15h0m-9-1h0m-12-10h0m3-2h0m15-22h0m-6-4h0m-9-2h0m-1-122h0m4-40h0m17-69h0m-5-8h0m-6-2h0m18 2h0m5 23h0m10 57h0m-1 36h0m-7 39h0m-5 15h0m-2 74h0m13 8h0m-15 3h0m5 15h0m11 8h0m-3 12h0m-17 14h0m21 0h0m-21 2h0m20 14h0m-16 5h0m11 31h0m8 10h0m-12 0h0m1 1h0m-8 7h0m17 7h0m10 18h0m5-24h0m-4-7h0m-3-2h0m11-7h0m2-2h0m3-23h0m-17-6h0m0-24h0m17-15h0m-17 0h0m1-7h0m16-6h0m-9-1h0m8-4h0m1-2h0m-6-1h0m7-9h0m-17-6h0m15-13h0m-11-46h0m6-21h0m-11-5h0m9-17h0m4-45h0m-2-5h0m5-2h0m-11-55h0m25 29h0m5 16h0m-12 4h0m20 58h0m-15 4h0m14 45h0m-5 3h0m-6 9h0m-1 6h0m4 13h0m-2 3h0m0 0h0m10 5h0m-7 0h0m-7 0h0m-7 5h0m4 7h0m-4 2h0m15 1h0m-5 1h0m2 0h0m9 2h0m-6 1h0m1 3h0m-1 2h0m4 3h0m-4 1h0m-6 2h0m1 9h0m-1 0h0m12 1h0m-11 0h0m-2 1h0m1 1h0m-7 4h0m18 6h0m-10 13h0m8 5h0m-6 5h0m4 18h0m5 21h0m-19 1h0m9 0h0m9 31h0m-10 8h0m1 13h0m-4 14h0m1 8h0m0 21h0m12 10h0m-2 4h0m4 7h0m23 29h0m-12-21h0m7-6h0m3-23h0m-7-1h0m-7-4h0m-5-10h0m21-11h0m-14-3h0m6-9h0m1-26h0m-6-15h0m-8-2h0m7-4h0m0-4h0m5-20h0m-6-9h0m-3-8h0m3-6h0m4-12h0m11-3h0m-8-5h0m5-1h0m-4-2h0m-9-2h0m13 0h0m-1-1h0m4-1h0m-1-2h0m-6 0h0m3-1h0m-16-2h0m0-2h0m-1-1h0m17-3h0m-3 0h0m-2-2h0m-13-1h0m15 0h0m-13-1h0m20 0h0m-11-2h0m12-2h0m-3-2h0m-14 0h0m15-1h0m-11-1h0m9 0h0m1-2h0m-10 0h0m-10-4h0m21-1h0m-20 0h0m20-1h0m2-2h0m-7 0h0m-16-1h0m4-1h0m19-4h0m-17-1h0m13-1h0m-18-2h0m18-3h0m-19-1h0m3-3h0m5-1h0m12-1h0m-1-1h0m-6-1h0m-6-4h0m9-1h0m-4-1h0m-11-3h0m13-1h0m-3-1h0m-2-16h0m5-1h0m1-12h0m-11-32h0m14 0h0m-18-52h0m2-9h0m3-28h0m6-97h0m-11-5h0m26 37h0m15 6h0m1 5h0m-17 20h0m15 12h0m6 26h0m-5 37h0m-1 15h0m5 94h0m-1 0h0m-5 2h0m-15 0h0m10 1h0m-4 2h0m4 1h0m4 3h0m-1 1h0m5 1h0m-10 2h0m4 3h0m10 0h0m-22 0h0m15 3h0m-6 1h0m-3 4h0m13 2h0m-15 1h0m12 0h0m2 0h0m-8 3h0m13 1h0m-23 1h0m12 2h0m-7 1h0m12 2h0m-14 3h0m18 3h0m-17 0h0m-2 0h0m10 0h0m-11 0h0m14 3h0m7 1h0m1 1h0m-8 0h0m6 3h0m-2 0h0m-3 0h0m-3 1h0m-1 1h0m0 1h0m0 0h0m3 0h0m-5 1h0m1 2h0m-5 0h0m15 3h0m-8 2h0m-8 4h0m1 2h0m8 0h0m-5 1h0m12 1h0m-10 6h0m-7 0h0m0 1h0m-4 0h0m3 3h0m3 1h0m0 7h0m4 13h0m10 3h0m-3 1h0m-14 3h0m-1 4h0m18 8h0m-4 12h0m7 42h0m-7 0h0m-8 1h0m-6 6h0m-2 14h0m3 0h0m7 3h0m-1 25h0m-7 4h0m15 1h0m-9 12h0m13 0h0m-19 9h0m10 2h0m-10 16h0m33 5h0m-5-10h0m1-1h0m2-2h0m3-6h0m-10-14h0m8-10h0m12-29h0m-7-4h0m-15 0h0m22-7h0m-3-3h0m-12-16h0m15-8h0m-19-13h0m-1-3h0m9-17h0m0-17h0m9-8h0m-10 0h0m12-7h0m-17-6h0m7-13h0m-2-3h0m2-2h0m-11-1h0m19-6h0m3-3h0m-4-1h0m-16-15h0m5-1h0m11 0h0m2-2h0m-16-2h0m18-3h0m-19-3h0m-2-3h0m3-2h0m2-5h0m-2-3h0m1 0h0m-1-1h0m-3-1h0m0 0h0m12-4h0m-10-3h0m10-6h0m-11-11h0m20-7h0m-12-32h0m5-35h0m-4-23h0m-6-38h0m-3-91h0m26 9h0m4 15h0m-3 63h0m4 5h0m0 42h0m1 28h0m-4 0h0m12 17h0m-4 18h0m3 8h0m4 0h0m-20 3h0m4 1h0m12 5h0m-18 1h0m21 5h0m-21 2h0m15 5h0m-1 6h0m-12 3h0m6 2h0m-5 2h0m19 3h0m-8 1h0m-2 2h0m6 2h0m0 2h0m-11 10h0m-3 1h0m-3 0h0m12 3h0m-13 3h0m7 8h0m13 0h0m-7 3h0m-3 14h0m-6 5h0m15 5h0m-15 8h0m-4 3h0m8 9h0m-5 5h0m13 3h0m-5 3h0m11 4h0m-13 0h0m-6 1h0m19 4h0m0 4h0m-15 13h0m4 0h0m-5 6h0m2 11h0m5 23h0m1 10h0m-2 4h0m9 3h0m-20 5h0m19 3h0m-20 8h0m11 2h0m7 4h0m0 5h0m-18 5h0m20 3h0m3 0h0m0 2h0m-2 12h0m-17 16h0m10 1h0m3 0h0m-16 6h0m8 10h0m9 4h0m27 120h0m-12-13h0m5 0h0m2-13h0m5-3h0m-8-1h0m-9-1h0m-1-1h0m9-10h0m-11-1h0m19-4h0m-16-1h0m17-16h0m1-4h0m-1 0h0m-2-4h0m-14-2h0m12-9h0m-6-5h0m11-12h0m-10-1h0m9-2h0m-6-8h0m-15-45h0m13 0h0m5-6h0m-5-5h0m1-6h0m-4-1h0m-9-7h0m1-1h0m9-2h0m-4-11h0m-7-2h0m13-3h0m-6-1h0m12-3h0m-5-14h0m9-1h0m-10-16h0m-7-2h0m0-27h0m17-7h0m-19 0h0m0-1h0m4 0h0m-7-5h0m1-3h0m8-4h0m8-2h0m-2-1h0m-15 0h0m3-5h0m14-3h0m5 0h0m-10-5h0m-11-1h0m9-3h0m6-1h0m-2-5h0m8-1h0m-20-1h0m10-3h0m-9 0h0m-4-9h0m18-9h0m-2-4h0m3-2h0m2-1h0m-5-1h0m-9-6h0m9-1h0m3-20h0m-6-5h0m-2-2h0m5-3h0m-14-5h0m12-2h0m7-2h0m-6-7h0m-11-10h0m5 0h0m-4-5h0m4-8h0m7-7h0m-9 0h0m-5-4h0m-2-1h0m9-3h0m-5 0h0m9-1h0m6-1h0m-5-4h0m4-22h0m-7-93h0m-7-32h0m25 36h0m9 21h0m-3 43h0m5 32h0m7 1h0m-22 15h0m11 2h0m-7 4h0m-1 3h0m10 5h0m-8 4h0m15 4h0m1 3h0m-6 7h0m7 5h0m-12 2h0m8 6h0m-9 5h0m-1 4h0m5 1h0m-2 8h0m10 1h0m-14 1h0m6 2h0m-6 1h0m14 0h0m1 0h0m-4 3h0m-17 10h0m3 16h0m7 2h0m4 3h0m6 13h0m-8 9h0m-14 2h0m8 2h0m4 11h0m-12 9h0m8 8h0m7 5h0m6 9h0m0 0h0m-6 12h0m-10 8h0m14 2h0m-17 3h0m-1 1h0m17 3h0m-8 44h0m-3 2h0m16 9h0m-11 3h0m-11 24h0m2 11h0m19 15h0m-2 2h0m-3 9h0m-2 9h0m-4 23h0m11 10h0m-5 0h0m-6 2h0m10 4h0m-19 8h0m13 8h0m2 1h0m-9 0h0m-3 18h0m17 1h0m-9 1h0m0 2h0m-10 4h0m2 1h0m9 7h0m-9 2h0m14 2h0m-9 1h0m-1 4h0m1 0h0m-6 2h0m15 3h0m-1 3h0m-12 2h0m-6 1h0m17 3h0m-13 0h0m15 0h0m-13 2h0m38 30h0m-4-2h0m0-4h0m-16-1h0m14-2h0m-7-3h0m6-3h0m3-2h0m-14-1h0m0 0h0m11-4h0m-3-3h0m-8-9h0m4-6h0m11-2h0m-13-1h0m-4-1h0m15-1h0m-1-7h0m4-3h0m-11-1h0m11-1h0m-2 0h0m-13-10h0m7 0h0m11-9h0m-4-4h0m0 0h0m0-10h0m-15-8h0m1 0h0m17-5h0m-14-2h0m2-6h0m-3-4h0m18-11h0m-23-6h0m10-22h0m-3-4h0m14-14h0m2-8h0m-23-19h0m12-7h0m8-12h0m-14-2h0m11-7h0m-15-10h0m-1-4h0m1-10h0m-1-16h0m9-9h0m-4-1h0m5-1h0m2-9h0m10-8h0m-6-1h0m5-6h0m-8-2h0m1-9h0m7-3h0m1-2h0m-4-7h0m3-2h0m-16-6h0m17-1h0m-15-4h0m-6-1h0m17-2h0m-9-5h0m-7-4h0m6-1h0m14-9h0m-21-7h0m9-2h0m4-5h0m-4-1h0m1 0h0m9-1h0m1-1h0m-17-1h0m-4 0h0m15-1h0m0-7h0m4 0h0m-6-3h0m4-15h0m2-2h0m-4-8h0m-9-9h0m6-1h0m-7-6h0m2-1h0m-7-1h0m3-6h0m5-2h0m-1-1h0m15-15h0m-18-2h0m11-2h0m-10-1h0m7-7h0m1-3h0m6 0h0m-13-4h0m-5-8h0m2-1h0m11-14h0m0-9h0m6-2h0m-7-3h0m9-2h0m-22-1h0m18-1h0m0-44h0m24-40h0m-4 20h0m-4 19h0m3 6h0m-12 1h0m15 5h0m-13 1h0m2 1h0m12 12h0m1 1h0m-9 2h0m1 0h0m1 1h0m-3 6h0m2 0h0m-6 4h0m6 1h0m-9 3h0m3 8h0m18 3h0m-10 1h0m-12 0h0m5 5h0m15 2h0m1 0h0m-19 3h0m17 6h0m-13 0h0m-4 2h0m19 0h0m-7 3h0m5 5h0m3 4h0m-20 0h0m4 2h0m-3 0h0m15 1h0m-6 2h0m-6 1h0m15 1h0m-6 2h0m-4 2h0m2 6h0m0 4h0m-14 11h0m2 1h0m7 9h0m6 4h0m8 7h0m-1 10h0m-22 1h0m1 1h0m-1 1h0m0 9h0m9 0h0m11 5h0m-3 1h0m3 1h0m-5 2h0m-1 9h0m5 3h0m-7 3h0m-1 4h0m0 5h0m0 3h0m-1 3h0m-8 5h0m5 4h0m6 17h0m-4 2h0m9 16h0m-10 3h0m-2 3h0m-2 1h0m2 1h0m7 0h0m-13 1h0m10 2h0m-10 4h0m9 23h0m11 10h0m-8 6h0m7 3h0m-4 12h0m-12 6h0m11 1h0m2 9h0m4 20h0m-1 3h0m-5 33h0m-8 13h0m12 7h0m-5 0h0m10 19h0m-20 1h0m17 1h0m-9 1h0m-9 6h0m18 1h0m-16 8h0m4 0h0m9 3h0m-11 5h0m15 3h0m-6 3h0m0 3h0m-12 6h0m3 2h0m6 5h0m-5 1h0m4 2h0m3 11h0m-2 6h0m-9 6h0m16 3h0m-10 4h0m-8 1h0m12 4h0m-10 1h0m18 3h0m-21 2h0m10 2h0m0 2h0m8 3h0m-7 4h0m11 1h0m-5 3h0m-4 1h0m0 1h0m0 0h0m3 1h0m-2 4h0m7 1h0m-16 0h0m1 3h0m-3 3h0m20 4h0m-1 3h0m-18 2h0m0 1h0m16 0h0m-14 1h0m4 5h0m13 10h0m-5 0h0m17 4h0m-10-3h0m10-2h0m6 0h0m-10-6h0m11-4h0m1-2h0m-13-1h0m12-1h0m2-2h0m-7-1h0m2-2h0m8-1h0m-13-1h0m5 0h0m0-6h0m7 0h0m-9-8h0m10-2h0m-16-4h0m16-5h0m-1-4h0m-17 0h0m4-1h0m4-2h0m-9-2h0m13-3h0m-2-2h0m-14-2h0m13-1h0m-8 0h0m7-3h0m-1 0h0m6-1h0m-2-3h0m-9-1h0m16 0h0m-1-1h0m-5-1h0m-7-4h0m3-3h0m-4-1h0m-3-5h0m-1-8h0m1 0h0m15 0h0m-18-5h0m16-2h0m0-5h0m3 0h0m0-4h0m-5-1h0m-6-3h0m-10 0h0m4-1h0m16-6h0m-17-7h0m7-4h0m5 0h0m0-8h0m-1-1h0m-4 0h0m-5-2h0m11-3h0m-4-3h0m9-3h0m-3-1h0m-19-5h0m7-3h0m2-1h0m7-11h0m6 0h0m-22-6h0m22-2h0m-11-3h0m-11-1h0m17-7h0m-2-2h0m6-2h0m-4-3h0m1-11h0m3-6h0m-20-9h0m-1-4h0m4-8h0m9-14h0m6-1h0m-9-25h0m-8 0h0m16-1h0m-14-14h0m6-3h0m-8-35h0m-1-1h0m-1-6h0m6-6h0m2-7h0m7-2h0m-4-2h0m0-11h0m-8-6h0m16-4h0m-2-9h0m-13-9h0m17 0h0m-10-2h0m-8-5h0m-2-6h0m1-8h0m2-4h0m4-1h0m9-9h0m2-8h0m-1-9h0m-6-7h0m2-8h0m-9-1h0m0-1h0m7-2h0m10-4h0m-17 0h0m-1-6h0m11-1h0m-6-1h0m-2-2h0m13-5h0m1 0h0m-15-1h0m-3 0h0m4-1h0m10 0h0m-4-5h0m3-7h0m-15 0h0m17-1h0m-6-2h0m1-2h0m-9-3h0m9 0h0m6 0h0m-16-1h0m3-4h0m2-1h0m4-2h0m-12-4h0m6-1h0m-6-6h0m6-1h0m8-2h0m2-1h0m4-1h0m-15 0h0m-3 0h0m20-4h0m-4-1h0m-11-2h0m12-5h0m2-3h0m-3-7h0m-6-1h0m6-1h0m1 0h0m-2-9h0m1-4h0m2-1h0m0-3h0m-17 0h0m11-8h0m5-1h0m-9-8h0m8-2h0m-9-1h0m11-2h0m-18-4h0m4-1h0m5 0h0m-7-1h0m6-1h0m5 0h0m3 0h0m-16-1h0m12-2h0m1 0h0m7-2h0m-2 0h0m-1-1h0m-2-5h0m6-4h0m-13-7h0m10 0h0m8-1h0m7 11h0m-9 3h0m12 2h0m-8 1h0m2 5h0m-1 9h0m11 3h0m-1 1h0m-14 0h0m1 1h0m8 2h0m-7 3h0m-5 0h0m18 0h0m-4 3h0m-6 1h0m0 1h0m-5 1h0m17 0h0m-8 2h0m-7 1h0m-2 8h0m0 2h0m2 1h0m5 1h0m12 1h0m-6 1h0m-11 0h0m7 4h0m8 7h0m-9 7h0m-1 4h0m-1 1h0m-3 1h0m13 1h0m-5 2h0m7 1h0m-12 0h0m7 6h0m-16 2h0m10 2h0m-9 0h0m22 1h0m-6 2h0m5 0h0m-18 0h0m13 1h0m-7 0h0m-1 0h0m5 4h0m5 0h0m-8 3h0m1 2h0m-3 5h0m9 5h0m-11 2h0m10 1h0m-12 4h0m6 1h0m-9 3h0m15 2h0m-7 1h0m6 0h0m6 1h0m-17 0h0m1 1h0m-5 2h0m17 7h0m-5 1h0m-6 2h0m-5 1h0m2 1h0m1 3h0m-2 4h0m1 17h0m1 3h0m-5 5h0m1 21h0m8 3h0m3 7h0m-12 6h0m6 7h0m8 12h0m-3 3h0m2 52h0m-6 14h0m15 2h0m-7 10h0m-13 1h0m4 22h0m-6 9h0m16 32h0m-1 13h0m5 18h0m-7 16h0m-4 2h0m-3 6h0m1 2h0m7 5h0m-5 0h0m14 11h0m-7 2h0m-8 1h0m7 4h0m-8 1h0m15 17h0m-3 8h0m-18 5h0m10 1h0m-5 0h0m10 12h0m-2 7h0m8 2h0m-16 7h0m5 0h0m2 11h0m0 2h0m1 3h0m-2 0h0m10 1h0m-13 1h0m0 1h0m-2 3h0m6 2h0m2 0h0m4 5h0m-17 0h0m13 1h0m-11 3h0m8 3h0m-4 5h0m5 1h0m8 2h0m-12 2h0m-8 8h0m15 6h0m0 2h0m1 2h0m-12 0h0m11 2h0m4 5h0m-13 4h0m-5 5h0m3 1h0m17 1h0m-9 2h0m-3 2h0m1 2h0m-6 5h0m-5 0h0m13 1h0m6 2h0m-12 0h0m-2 3h0m12 0h0m-4 1h0m9 4h0m5-1h0m-3-7h0m12-5h0m6-2h0m-14-1h0m1-4h0m16-2h0m-12-1h0m11-1h0m-11 0h0m0-1h0m-9-3h0m12-5h0m2 0h0m5 0h0m-13-3h0m-1-3h0m15-5h0m2 0h0m-7-2h0m3-3h0m-8-1h0m10-1h0m-4-1h0m-6-2h0m-7 0h0m9-4h0m11 0h0m-7-1h0m-15-2h0m-1-1h0m21-1h0m2 0h0m-11-7h0m-12 0h0m5-4h0m-1-1h0m15 0h0m-1-3h0m-10-2h0m-6-5h0m5-1h0m14-2h0m-14-2h0m10-7h0m-11-11h0m7-6h0m5-3h0m-3-6h0m0-5h0m-14-3h0m-1-1h0m13-11h0m-2-4h0m-10-2h0m5-2h0m-1-7h0m7-5h0m1-13h0m0-4h0m4-11h0m-15-3h0m10-10h0m-11-26h0m-1-94h0m20-10h0m-17-42h0m1-12h0m-1-125h0m18-5h0m-21-3h0m2-17h0m3 0h0m-1-16h0m-2-1h0m2-9h0m6-2h0m-9-31h0m24 36h0m21 14h0m-17 10h0m13 27h0m-4 16h0m-13 93h0m13 6h0m-4 10h0m-4 204h0m1 25h0m-1 13h0m-6 5h0m12 0h0m3 3h0m-13 16h0m7 1h0m11 1h0m-18 1h0m11 5h0m-6 4h0m10 15h0m-5 1h0m-6 5h0m4 3h0m-7 5h0m11 4h0m-12 2h0m4 3h0m-4 5h0m9 0h0m-9 1h0m12 1h0m-6 0h0m14 2h0m-15 7h0m4 5h0m-2 3h0m-7 1h0m1 1h0m2 4h0m-3 3h0m19 2h0m-11 1h0m3 17h0m-10 2h0m32-23h0m0-1h0m3 0h0m-13-2h0m21-1h0m-14-4h0m-8-8h0m4-440h0m11-3h0m4-19h0m0 0h0m7 14h0m18 1h0m2 427h0m-15 3h0m10 6h0m-4 0h0m5 5h0m25-386h0m-6-5h0m1-5h0m7-6h0m-16-3h0m-1-7h0m3-1h0m-3 0h0m4 0h0m-3-5h0m2-29h0m21 51h0m9 8h0m3 14h0m-5 2h0m35 199h0m-6-27h0m-1-3h0m-5-2h0m6-7h0m-6-2h0m9-4h0m-1-9h0m3-6h0m-20-4h0m17-3h0m3-1h0m-17-4h0m16 0h0m-2-4h0m-12-2h0m8-9h0m4-3h0m-2-2h0m5-79h0m-1-1h0m-10-7h0m-10-33h0m24 42h0m6 2h0m4 5h0m3 2h0m-12 5h0m11 30h0m-1 1h0m10 6h0m-14 3h0m0 6h0m3 6h0m-4 3h0m11 2h0m2 3h0m-19 1h0m7 0h0m2 1h0m7 0h0m-10 4h0m14 3h0m-9 1h0m2 1h0m-7 0h0m9 4h0m-13 1h0m12 2h0m5 9h0m-4 10h0m-15 1h0m5 2h0m14 1h0m2 12h0m-19 0h0m12 7h0m-9 1h0m8 0h0m8 5h0m-18 2h0m9 1h0m-11 1h0m12 2h0m9 1h0m-3 0h0m4 0h0m-6 4h0m-12 7h0m5 1h0m9 4h0m0 10h0m1 2h0m12 3h0m1-11h0m-5-2h0m9-4h0m-6-5h0m16-1h0m-20-1h0m14 0h0m-17-3h0m20-2h0m-3-1h0m-8-3h0m-3-1h0m9-1h0m-15-1h0m14-4h0m4-1h0m-17 0h0m4-2h0m4-1h0m4 0h0m1 0h0m8-1h0m-8-1h0m8-1h0m-5 0h0m-13-8h0m19-1h0m-6-3h0m-13-1h0m-3-1h0m10 0h0m1 0h0m10 0h0m0-1h0m-13-4h0m1-2h0m11-3h0m-18-1h0m18 0h0m-2 0h0m-2-2h0m2-3h0m-9-3h0m-10-4h0m0 0h0m5-8h0m14-1h0m-8-4h0m-10-1h0m11 0h0m-10-4h0m14-1h0m-4-1h0m-8-3h0m-1-5h0m13-6h0m7-1h0m-11 0h0m-7-3h0m12-9h0m-6-3h0m-6-1h0m16 0h0m-10-1h0m7-1h0m2-3h0m1-1h0m-9-1h0m1-1h0m-1-6h0m9 0h0m0 0h0m-1-3h0m-16-3h0m0-2h0m20 1h0m10 9h0m5 5h0m-11 0h0m11 2h0m-10 1h0m11 3h0m-14 1h0m12 1h0m-7 0h0m2 2h0m-8 2h0m8 0h0m6 1h0m-1 0h0m7 0h0m-10 3h0m1 0h0m11 2h0m-2 0h0m-14 1h0m3 1h0m9 2h0m-18 1h0m15 3h0m-4 5h0m-4 0h0m12 1h0m-14 2h0m-2 1h0m13 1h0m-1 2h0m5 6h0m-15 3h0m0 0h0m9 1h0m-11 2h0m17 0h0m1 1h0m-13 0h0m-1 1h0m9 1h0m-15 0h0m15 1h0m-2 1h0m1 0h0m1 2h0m-2 2h0m3 1h0m2 1h0m3 0h0m-10 2h0m-10 5h0m15 1h0m-15 0h0m13 3h0m-3 1h0m0 2h0m5 0h0m-10 1h0m4 1h0m-12 0h0m14 3h0m3 0h0m-10 1h0m-6 1h0m0 1h0m18 2h0m-5 1h0m7 0h0m0 2h0m-12 3h0m1 1h0m5 0h0m-8 0h0m6 0h0m-2 2h0m0 1h0m10 1h0m-9 0h0m9 1h0m1 0h0m-2 3h0m-5 0h0m8 1h0m-18 1h0m12 2h0m2 0h0m-6 1h0m-5 4h0m-8 2h0m22 0h0m-12 1h0m9 2h0m-12 1h0m8 5h0m-7 0h0m-2 1h0m5 3h0m17-18h0m10-21h0m-5-9h0m-6-2h0m2-3h0m1 0h0m2-2h0m-8-10h0m15 0h0m-2-2h0m2-1h0m-10-8h0m11 0h0m-16-2h0m20 0h0m-11-1h0m-4-6h0m9-2h0m1-4h0m-5-1h0m4-3h0m0-1h0m-13-4h0m11-3h0m-3-5h0m-9-10h0"/>
<path stroke="#c77cff" d="M470 1256h0m3-43h0m25-58h0m-6 18h0m51 47h0m21-32h0m34-133h0m-12 2h0m-10 162h0m32-154h0m54 40h0m-6-28h0m6-25h0"/>
<path stroke="#00bfc4" d="M46 1166h0m1-12h0m20-44h0m-2 7h0m-7 15h0m0 1h0m3 5h0m9 2h0m-7 0h0m6 1h0m2 2h0m0 2h0m-7 2h0m-10 3h0m-2 0h0m4 0h0m9 0h0m-11 1h0m-1 0h0m-4 1h0m11 6h0m-3 2h0m2 2h0m-2 0h0m-2 2h0m5 1h0m-7 2h0m11 1h0m5 6h0m-7 3h0m-6 6h0m4 6h0m-5 1h0m2 6h0m4 0h0m8 2h0m18 19h0m5-4h0m-17-1h0m20 0h0m-16-6h0m15-1h0m0-4h0m-16-2h0m-2-1h0m15-4h0m-2-2h0m-12 0h0m7-1h0m6 0h0m-11-1h0m3-5h0m-8-1h0m-1-2h0m0 0h0m10-2h0m7-1h0m-18-5h0m21 0h0m-21-1h0m14 0h0m8-1h0m-11-3h0m-5 0h0m17-3h0m-19-1h0m-1 0h0m8-6h0m9-2h0m-20-3h0m11 0h0m10-3h0m0 0h0m0-4h0m-19-4h0m14-1h0m-8-2h0m6-2h0m-11-2h0m19-5h0m-2-2h0m-10 0h0m13 0h0m-13 0h0m8-2h0m-2-2h0m-3 0h0m-4-2h0m-3-1h0m4 0h0m-8-1h0m11 0h0m-13-3h0m18-3h0m3 0h0m-21 0h0m9 0h0m-7 0h0m12-1h0m-11-1h0m11-2h0m1 0h0m-13 0h0m11-1h0m2-3h0m5-3h0m-10 0h0m-4-8h0m-5 0h0m20-2h0m2-1h0m-16-2h0m13-3h0m2-1h0m0-1h0m-5 0h0m4-2h0m-9-4h0m8-5h0m3-1h0m-2-1h0m-6-2h0m1-9h0m7-2h0m20-47h0m-2 5h0m-3 11h0m8 2h0m-13 10h0m9 2h0m-4 3h0m-4 0h0m13 10h0m-17 1h0m-6 2h0m1 3h0m4 3h0m-1 1h0m0 2h0m7 2h0m8 1h0m-5 0h0m0 0h0m-8 1h0m2 3h0m-3 0h0m-1 1h0m19 1h0m-5 1h0m-7 1h0m2 0h0m2 1h0m-7 4h0m9 1h0m-3 0h0m-5 2h0m11 2h0m-20 1h0m23 1h0m-16 2h0m-7 0h0m15 0h0m-15 1h0m2 1h0m16 0h0m5 1h0m-8 1h0m-8 1h0m-3 2h0m9 1h0m5 2h0m-15 0h0m16 0h0m3 2h0m-15 0h0m-5 2h0m6 1h0m0 0h0m15 0h0m-3 2h0m-2 0h0m0 0h0m-9 1h0m-7 3h0m19 0h0m-3 2h0m-4 1h0m-8 0h0m10 0h0m-10 2h0m-6 4h0m16 3h0m-6 2h0m8 1h0m-3 4h0m-9 1h0m-4 0h0m-2 0h0m10 6h0m13 9h0m-17 0h0m9 1h0m-2 1h0m-5 2h0m9 4h0m1 1h0m-17 1h0m11 5h0m7 0h0m-17 2h0m1 2h0m18 2h0m-3 1h0m-17 0h0m1 1h0m-2 0h0m5 4h0m10 1h0m-1 1h0m7 1h0m-18 0h0m3 1h0m1 3h0m3 0h0m-7 1h0m-3 2h0m12 0h0m6 2h0m-9 4h0m12 0h0m-3 2h0m3 4h0m1 3h0m-11 6h0m-4 1h0m7 3h0m-14 8h0m0 3h0m2 1h0m13 0h0m4 2h0m-1 7h0m-15 4h0m20 8h0m20 8h0m-9-3h0m9-6h0m-7-1h0m-11-8h0m22-3h0m-22-1h0m10-4h0m9 0h0m-19-4h0m19-4h0m-5-2h0m-4-5h0m-3-3h0m13 0h0m1-1h0m-13 0h0m11-4h0m-2-3h0m4-8h0m-17-1h0m17-3h0m1-2h0m-5-1h0m-10-4h0m-4-2h0m8-2h0m2-1h0m-10-2h0m4-3h0m1-1h0m14-4h0m-12-7h0m-3 0h0m9-2h0m-1-2h0m-7-1h0m4-1h0m-10-2h0m1 0h0m2-1h0m11-3h0m-1-5h0m-11-3h0m5-3h0m13-2h0m-23-2h0m10-1h0m-5-4h0m13-4h0m4-1h0m-3-2h0m-17 0h0m-2-3h0m15 0h0m-5 0h0m8-3h0m-15-2h0m10-1h0m6-3h0m3-4h0m-1-1h0m-3-6h0m5-2h0m-16 0h0m-1-2h0m-3 0h0m7 0h0m-7-2h0m5-2h0m-7-5h0m2-1h0m20-1h0m-22-1h0m20-5h0m-1 0h0m-19 0h0m3-1h0m0-5h0m4-3h0m10-1h0m2 0h0m-8-3h0m-5-3h0m4-1h0m-4-1h0m6-4h0m2-1h0m-2-1h0m-8-1h0m10-2h0m-3-2h0m-7-2h0m11 0h0m-2-2h0m-12-2h0m0 0h0m3-4h0m12-1h0m6-1h0m-2-2h0m-1-2h0m-16 0h0m19-1h0m-6-1h0m-9-2h0m6-1h0m3-3h0m-12-2h0m5-10h0m-10-2h0m0 0h0m15-2h0m-10-1h0m14 0h0m-8-3h0m8-2h0m-14-1h0m0-6h0m2-12h0m16 0h0m24-32h0m-7 7h0m-12 9h0m13 12h0m-7 5h0m8 0h0m-3 4h0m0 2h0m-3 8h0m-10 8h0m0 2h0m9 2h0m-11 3h0m10 1h0m3 0h0m-12 1h0m-1 2h0m4 1h0m3 1h0m0 5h0m-2 2h0m-4 0h0m18 0h0m-9 2h0m7 4h0m-11 1h0m15 0h0m-15 4h0m7 4h0m-6 3h0m2 2h0m-4 1h0m10 2h0m-7 1h0m-8 2h0m3 2h0m19 5h0m-18 4h0m17 2h0m-8 1h0m-12 1h0m15 1h0m-12 4h0m1 1h0m16 1h0m0 0h0m-10 3h0m2 2h0m-2 2h0m-9 1h0m13 1h0m-15 6h0m17 2h0m-10 1h0m-1 1h0m8 3h0m-4 1h0m0 3h0m2 5h0m7 1h0m-2 1h0m-12 7h0m14 0h0m-11 0h0m3 2h0m-3 0h0m0 1h0m7 2h0m-3 3h0m-5 0h0m3 1h0m-9 4h0m17 3h0m3 3h0m-16 2h0m14 1h0m-10 1h0m1 0h0m-2 1h0m14 0h0m-10 0h0m-2 1h0m-5 1h0m0 1h0m10 7h0m8 0h0m-7 2h0m-1 1h0m5 3h0m-13 1h0m11 1h0m-5 2h0m-6 1h0m9 0h0m-13 4h0m15 3h0m2 1h0m3 1h0m-10 1h0m-7 0h0m-1 2h0m15 2h0m-10 2h0m11 1h0m-5 5h0m3 1h0m-14 0h0m1 0h0m2 1h0m14 3h0m-8 3h0m-8 0h0m1 0h0m10 0h0m-12 3h0m18 0h0m-12 2h0m-10 6h0m18 2h0m-12 1h0m-5 1h0m15 1h0m2 1h0m-1 1h0m1 3h0m-9 1h0m9 5h0m2 0h0m-7 5h0m-11 1h0m5 9h0m8 0h0m-11 1h0m3 3h0m3 7h0m6 10h0m-3 1h0m-8 1h0m8 0h0m-1 1h0m-6 0h0m16 15h0m-6 8h0m16 2h0m6-1h0m-4-4h0m1-1h0m11-2h0m-10-2h0m-4-2h0m3-3h0m-6-3h0m13-9h0m-11-1h0m-7 0h0m7-2h0m-8 0h0m20-1h0m-14-4h0m-6-1h0m17-2h0m-7 0h0m13-16h0m-23 0h0m6-3h0m16-9h0m-1-2h0m-1 0h0m-1-2h0m-14-1h0m17 0h0m-16-6h0m16-4h0m-10-4h0m-9-1h0m0 0h0m-1 0h0m3-1h0m0-1h0m4 0h0m5-1h0m2-1h0m-6-1h0m13 0h0m-5-2h0m-3-1h0m-15 0h0m15-2h0m-3-4h0m-8-1h0m4-2h0m7 0h0m-5-1h0m1-1h0m-10-1h0m14 0h0m0-1h0m-8-1h0m13-1h0m-5 0h0m-5 0h0m5-5h0m-1-1h0m9-1h0m-14 0h0m7-1h0m3-1h0m-17 0h0m-1-2h0m22-1h0m-16-1h0m-3-1h0m-1-1h0m13-1h0m-7-1h0m8-1h0m-10 0h0m-6-6h0m10-2h0m-9-1h0m21-1h0m-20 0h0m15-6h0m-7-1h0m-3-5h0m13-2h0m-15-1h0m-4 0h0m7-1h0m11-2h0m-19-1h0m15-1h0m3 0h0m-19-1h0m4 0h0m6 0h0m2-2h0m-11-1h0m9-1h0m13 0h0m-1-1h0m-11-1h0m-6-5h0m5-2h0m10-2h0m-1-2h0m1-4h0m-13-1h0m-3-7h0m-4 0h0m18-1h0m-7 0h0m3-1h0m-10-1h0m13-1h0m-2-6h0m0-1h0m-7-1h0m-8-1h0m10-1h0m7 0h0m-17-1h0m13-2h0m-1-2h0m4 0h0m-15-2h0m18 0h0m1 0h0m-11-4h0m0-7h0m11-5h0m2-2h0m1-2h0m-6-2h0m-16-1h0m17 0h0m0-3h0m1 0h0m-7 0h0m-1-1h0m5-1h0m-8-2h0m15-2h0m-11-1h0m1-1h0m-2-1h0m0 0h0m-5-1h0m15-5h0m-16-2h0m16-8h0m-11-4h0m8-5h0m-1-2h0m1-5h0m0 0h0m-1-2h0m4 0h0m0-1h0m-16-1h0m3-2h0m0 0h0m8-5h0m5-6h0m-16-6h0m11-3h0m-2-3h0m6-2h0m-4-3h0m5-3h0m0-5h0m-19-2h0m17-4h0m24-15h0m-19 0h0m22 4h0m-12 3h0m9 7h0m1 1h0m-16 0h0m0 2h0m10 1h0m-5 1h0m3 5h0m-11 1h0m-1 4h0m6 3h0m12 0h0m-2 6h0m-2 1h0m-10 5h0m4 1h0m-3 4h0m11 1h0m4 3h0m-18 1h0m2 0h0m-2 1h0m18 5h0m3 3h0m-4 2h0m-13 4h0m5 3h0m7 10h0m-18 5h0m11 1h0m0 2h0m4 1h0m-1 1h0m3 0h0m-9 0h0m2 4h0m-3 1h0m14 1h0m-20 1h0m13 4h0m-5 3h0m13 10h0m-21 3h0m4 4h0m-5 6h0m13 2h0m6 0h0m-13 0h0m12 2h0m-15 5h0m9 0h0m-7 7h0m-2 4h0m19 1h0m-11 1h0m2 5h0m0 1h0m3 2h0m-6 1h0m-1 0h0m7 1h0m6 2h0m-17 0h0m15 2h0m-8 1h0m-6 6h0m15 3h0m-16 1h0m4 0h0m-7 1h0m5 2h0m12 1h0m-9 4h0m6 0h0m1 2h0m-12 1h0m10 6h0m-13 3h0m-2 1h0m1 1h0m22 0h0m-21 1h0m11 1h0m3 1h0m-11 6h0m-2 2h0m16 1h0m-6 0h0m-9 1h0m2 1h0m15 0h0m-21 0h0m5 3h0m14 0h0m-1 1h0m4 0h0m-16 2h0m17 3h0m-5 3h0m-8 3h0m9 1h0m1 2h0m-12 2h0m14 3h0m-17 2h0m2 9h0m15 4h0m-22 0h0m11 1h0m9 2h0m0 2h0m-9 2h0m-8 7h0m8 3h0m4 0h0m-4 0h0m10 2h0m1 0h0m-8 3h0m-11 1h0m-2 3h0m2 2h0m4 2h0m9 1h0m-15 2h0m19 6h0m-18 4h0m15 10h0m5 0h0m-8 3h0m-10 3h0m18 1h0m-6 1h0m-6 2h0m-8 0h0m6 7h0m0 4h0m4 5h0m-1 2h0m-10 2h0m11 6h0m-1 0h0m5 0h0m-13 9h0m7 0h0m1 5h0m-2 6h0m32 7h0m-6-5h0m8-6h0m0-4h0m-16-7h0m-2-3h0m22-1h0m-10-1h0m-9-1h0m14-9h0m-17-4h0m2 0h0m6-3h0m-6-4h0m0-11h0m9-3h0m-3-3h0m-9-1h0m18-1h0m-9-1h0m-5-1h0m3-2h0m-2-3h0m17-9h0m-21-1h0m16-1h0m-3 0h0m4-4h0m-14-1h0m9-7h0m0-4h0m-2-1h0m-6-4h0m-4-5h0m4-2h0m14-2h0m-19-1h0m12 0h0m-7-1h0m17-1h0m-10-1h0m5-1h0m-6-2h0m2-1h0m-1-2h0m-3 0h0m11 0h0m-12 0h0m-6-1h0m12-5h0m3-1h0m-2 0h0m-11 0h0m0-2h0m-1-3h0m12-1h0m-3-3h0m-10 0h0m-1-3h0m1 0h0m12-1h0m6 0h0m2-1h0m-8-2h0m-6-2h0m12-1h0m-20-2h0m6-2h0m-2-3h0m16-1h0m-20-1h0m0-1h0m15-9h0m-4-2h0m-10-1h0m3-4h0m2-2h0m9-3h0m-4-1h0m12-3h0m-12-2h0m12 0h0m-21-7h0m16-2h0m-2 0h0m-15-1h0m5 0h0m-1-4h0m17-1h0m-9-1h0m0-7h0m-11-1h0m10-7h0m11-1h0m-18-2h0m-2 0h0m-3-1h0m5-8h0m9-6h0m-14-7h0m0-2h0m21-1h0m-4-3h0m-8 0h0m14-1h0m-19-1h0m13-8h0m-15-5h0m2-1h0m7-1h0m-3-7h0m12-2h0m-14-2h0m-4-2h0m5-1h0m13-3h0m-18-1h0m20 0h0m-1-3h0m-20-3h0m9-1h0m13-1h0m-23-7h0m15-2h0m-5-4h0m1-5h0m12 0h0m-14-1h0m-5-1h0m3-6h0m2-3h0m-8-3h0m8-2h0m9-3h0m-5-3h0m-6-2h0m-6-10h0m0-1h0m1-3h0m0-7h0m12-5h0m5 0h0m0-3h0m-2 0h0m-9 0h0m11-6h0m9-3h0m13 2h0m4 4h0m-3 3h0m-15 4h0m8 0h0m-8 4h0m1 2h0m5 1h0m3 1h0m6 9h0m-18 0h0m1 2h0m9 2h0m-1 7h0m11 4h0m2 8h0m-12 2h0m-4 2h0m7 0h0m6 9h0m-16 6h0m11 1h0m9 0h0m-8 0h0m-14 1h0m4 1h0m17 7h0m-2 2h0m-5 2h0m-13 7h0m15 3h0m3 2h0m3 2h0m-12 7h0m7 9h0m-1 2h0m-6 11h0m-9 14h0m13 5h0m-7 5h0m1 1h0m4 2h0m-7 2h0m13 0h0m-15 2h0m9 9h0m-12 1h0m1 2h0m12 3h0m6 2h0m-20 0h0m16 0h0m-15 4h0m6 1h0m-1 2h0m-6 1h0m19 7h0m-4 4h0m7 3h0m1 3h0m-23 0h0m7 1h0m2 3h0m0 3h0m5 7h0m-6 3h0m15 1h0m-3 1h0m3 0h0m-19 2h0m-4 2h0m21 0h0m-17 2h0m17 1h0m-3 2h0m-5 8h0m-2 0h0m7 4h0m-7 1h0m8 1h0m-18 1h0m13 5h0m-10 2h0m-4 2h0m22 1h0m-17 0h0m-4 1h0m17 0h0m-1 1h0m-5 2h0m10 1h0m-15 6h0m1 0h0m5 1h0m-12 2h0m22 3h0m-11 1h0m-7 1h0m17 1h0m-7 3h0m-12 1h0m16 1h0m-14 0h0m9 3h0m3 1h0m-12 5h0m5 7h0m-6 1h0m11 2h0m8 0h0m-18 0h0m13 0h0m-8 7h0m-3 10h0m-2 5h0m13 8h0m-8 8h0m5 5h0m-14 9h0m13 1h0m-9 13h0m-4 0h0m18 2h0m-11 3h0m-8 4h0m35-17h0m3-1h0m-7-10h0m5-1h0m-6-5h0m7-4h0m-11-10h0m5-1h0m5 0h0m2-7h0m-10-1h0m-1 0h0m3-10h0m5-1h0m-6 0h0m0-13h0m2-4h0m11 0h0m-11 0h0m0-4h0m6-1h0m-7-2h0m-6-3h0m3-1h0m-1-1h0m5-8h0m-2-11h0m1-11h0m16-21h0m-9-13h0m-12-24h0m11-19h0m-11-16h0m3-7h0m1-20h0m4-8h0m2-6h0m-3-8h0m-8 0h0m9-1h0m12-1h0m-19-1h0m-2-1h0m17-3h0m3-4h0m-16-2h0m5 0h0m-6-3h0m0-5h0m8-12h0m-5-3h0m3 0h0m13-2h0m-20-4h0m10-3h0m-3-3h0m-3 0h0m7-2h0m8-1h0m-20-3h0m5-1h0m-3-3h0m-2-1h0m0 0h0m-1-2h0m4-2h0m4-9h0m10-2h0m-4 0h0m-13-6h0m17 0h0m-1-1h0m-16-1h0m7-3h0m1-1h0m6-1h0m2-4h0m6-4h0m-15 0h0m2 0h0m0 0h0m8-1h0m-6-2h0m7-1h0m-18-1h0m15-2h0m4-3h0m-8-3h0m-1-2h0m10-4h0m15 10h0m-12 2h0m7 4h0m8 0h0m-14 1h0m19 0h0m-17 2h0m0 1h0m9 1h0m-9 1h0m16 1h0m-18 2h0m12 8h0m8 1h0m-19 2h0m1 1h0m4 4h0m-4 2h0m13 5h0m1 9h0m-13 7h0m1 1h0m9 6h0m-10 4h0m1 4h0m1 3h0m-6 15h0m9 3h0m-2 7h0m14 26h0m-1 12h0m-8 37h0m5 20h0m4 33h0m0 4h0m1 24h0m-21 49h0m19 62h0m18-16h0m-14-47h0m4-96h0m13-11h0m1-31h0m5-4h0m-11-54h0m6-38h0m-6-23h0m11 0h0m-13-10h0m-8-15h0m-2 0h0m5-16h0m15-9h0m-5-2h0m11-2h0m20 1h0m-4 8h0m-13 9h0m-5 1h0m12 2h0m-5 1h0m15 17h0m1 29h0m-15 6h0m14 23h0m-21 66h0m0 59h0m17 33h0m-18 40h0m21 4h0m-11 59h0m0 14h0m10 44h0m22-58h0m-5-24h0m8-63h0m-13-112h0m0-72h0m4-50h0m-5-23h0m19 16h0m5 22h0m-5 63h0m4 122h0m16 25h0m-14 66h0m10 158h0m23-34h0m-1-68h0m-9-52h0m12-32h0m-5-37h0m7-19h0m-18-136h0m17-15h0m-18-95h0m30 97h0m3 126h0m-5 39h0m10 15h0m-11 22h0m-3 48h0m0 18h0m12 27h0m3 30h0m-3 29h0m-9 43h0m21-21h0m20-17h0m-3-4h0m-19-16h0m16-21h0m-4 0h0m5-140h0m-13-8h0m22-88h0m3 85h0m-4 76h0m4 60h0m10 31h0m6 65h0m0 8h0m-3 2h0m27 135h0m-2-8h0m-9-31h0m11 0h0m-1-34h0m-5-3h0m5-34h0m-2-52h0m5-2h0m-9-18h0m-11-1h0m8-78h0m-5-18h0m0-4h0m12-41h0m-4-75h0m8-81h0m10 35h0m13 213h0m-7 59h0m-10 81h0m6 13h0m-9 10h0m21 7h0m-5 4h0m4 2h0m-6 1h0m-12 16h0m14 3h0m2 13h0m-9 1h0m-8 7h0m16 2h0m-10 3h0m2 20h0m12 8h0m19 2h0m-1-1h0m1-10h0m-17-1h0m20 0h0m-13-2h0m7-7h0m-9-5h0m11-27h0m-7-19h0m11-11h0m-19-12h0m21-6h0m-9-1h0m-2-98h0m-7-9h0m-2-41h0m8-20h0m-2-118h0m1-12h0m-7-37h0m6-50h0m4-2h0m-2-7h0m34-37h0m-11 8h0m1 1h0m13 12h0m-16 48h0m-3 1h0m-4 22h0m16 3h0m-15 17h0m2 45h0m-3 115h0m3 15h0m8 105h0m5 2h0m6 5h0m-5 6h0m5 11h0m-2 4h0m-3 6h0m2 6h0m-14 1h0m15 10h0m-14 2h0m8 8h0m-1 21h0m5 19h0m-7 3h0m-9 3h0m8 0h0m6 4h0m-10 16h0m11 4h0m6 1h0m-14 6h0m0 2h0m8 3h0m-10 0h0m8 6h0m-5 2h0m3 5h0m-10 7h0m44 11h0m-14-9h0m-2-12h0m6-8h0m-13-1h0m22-4h0m-11-6h0m8-5h0m-17-6h0m7-4h0m-3-1h0m13-3h0m-3-11h0m5-3h0m-10-4h0m-3-3h0m15-2h0m-15-31h0m10-20h0m-15-2h0m11-1h0m5-3h0m-1-17h0m1-1h0m-19-8h0m23-3h0m-12-2h0m1-2h0m7-4h0m-16-36h0m9-15h0m0-16h0m9-29h0m1-26h0m-18-63h0m10-62h0m4-56h0m0-3h0m-18-3h0m8-35h0m-8-5h0m1-17h0m7-13h0m-4-37h0m7-6h0m6-3h0m4-2h0m-2-6h0m-2-18h0m9 15h0m20 9h0m-21 11h0m15 3h0m1 9h0m0 6h0m-3 24h0m-6 10h0m1 17h0m-2 5h0m6 10h0m-12 24h0m3 207h0m11 25h0m3 22h0m5 12h0m-2 1h0m-20 38h0m-1 7h0m17 1h0m4 4h0m-19 5h0m12 16h0m9 9h0m-9 6h0m-1 22h0m8 2h0m-14 19h0m5 2h0m7 5h0m2 12h0m-11 0h0m10 9h0m2 9h0m-1 2h0m-10 9h0m-11 10h0m20 1h0m9 4h0m11-14h0m-10-12h0m-4-24h0m7-8h0m4-5h0m-12-3h0m9-12h0m-6-21h0m16-20h0m-14-10h0m8-1h0m-4-1h0m-8 0h0m6-4h0m11-2h0m-14-1h0m2-1h0m11-9h0m-6-119h0m-10-14h0m20-61h0m25-140h0m-5 7h0m2 3h0m-18 157h0m-1 172h0m1 21h0m3 4h0m3 1h0m8 4h0m-12 7h0m9 7h0m-5 9h0m-4 5h0m13 14h0m-1 16h0m-10 2h0m13 1h0m-3 22h0m7 1h0m-7 6h0m-12 2h0m19 11h0m11-2h0m0-446h0m12-7h0m-22-10h0m9-2h0m11-1h0m-9-1h0m-2-1h0m5 0h0m-12 0h0m10-1h0m5-3h0m-1-2h0m-3-1h0m9-1h0m-12 0h0m33-4h0m-10 5h0m13 1h0m-21 1h0m14 0h0m0 0h0m7 1h0m-10 0h0m-11 0h0m0 7h0m7 2h0m2 1h0m-7 3h0m13 5h0m2 4h0m-14 438h0m28-442h0m9-4h0m0-2h0m-16-1h0m18-3h0m-13-8h0m8-1h0m-3-3h0m82 143h0m-7 30h0m23 16h0m-4-38h0m19 83h0"/>
<path stroke="#7cae00" d="M88 1150h0m41-24h0m6-54h0m26 34h0m-14 96h0m38 65h0m-14-158h0m7-25h0m-9-81h0m27 164h0m24 89h0m-2-265h0m16-57h0m18 60h0m-2 6h0m-2 27h0m8 114h0m-6 31h0m36 4h0m-17-34h0m8-51h0m-13-71h0m3-36h0m19-46h0m19 64h0m2 9h0m1 0h0m-6 56h0m3 9h0m2 8h0m1 16h0m-1 8h0m-10 16h0m10 64h0m-4 16h0m-4 5h0m10 3h0m0 32h0m-3 13h0m2 42h0m-3 1h0m15 34h0m9-16h0m-3-10h0m4-2h0m-10-8h0m10-2h0m-1-5h0m-5-5h0m-5-12h0m10-4h0m-14-8h0m-1-36h0m6-6h0m13-19h0m-20-2h0m4-3h0m15-65h0m-8-12h0m-7-13h0m14-3h0m-4-16h0m-9-52h0m17-8h0m-16-6h0m1-10h0m-6-48h0m18-15h0m-16-1h0m7-3h0m-9-11h0m8 0h0m5-1h0m-8-2h0m35-4h0m5 2h0m-19 0h0m6 8h0m-1 18h0m11 14h0m-2 34h0m-6 10h0m10 9h0m0 1h0m-10 5h0m7 9h0m2 2h0m2 8h0m0 0h0m-9 3h0m4 6h0m5 4h0m-5 4h0m4 3h0m-1 3h0m-7 0h0m8 2h0m1 5h0m-4 2h0m-5 2h0m-3 6h0m7 2h0m2 2h0m-2 8h0m4 9h0m-8 2h0m8 3h0m-8 1h0m3 0h0m-1 6h0m3 5h0m3 0h0m-5 4h0m5 14h0m-9 4h0m3 4h0m3 11h0m-15 22h0m-2 3h0m5 1h0m-4 20h0m1 2h0m17 29h0m1 1h0m-2 12h0m-14 8h0m-4 3h0m-1 2h0m7 17h0m9 7h0m-2 5h0m-2 6h0m4 12h0m1 6h0m-3 28h0m32-11h0m0-6h0m-3-7h0m0-9h0m-15-1h0m16-2h0m-20-9h0m9-3h0m-2-2h0m-8-9h0m1 0h0m11-4h0m-9-3h0m13-16h0m-15-3h0m18-9h0m-19-2h0m20-29h0m-12-2h0m4-4h0m0-28h0m5-4h0m4-7h0m-7-4h0m3 0h0m-3-2h0m-9 0h0m14-2h0m3-1h0m-2-1h0m-3-3h0m-15-1h0m16 0h0m-18-1h0m18-1h0m-12-3h0m-1-1h0m5 0h0m-9-2h0m15 0h0m-2-1h0m5-1h0m-12-4h0m-5 0h0m1-1h0m4-3h0m0-3h0m-3 0h0m15 0h0m-14-4h0m13-3h0m-3-1h0m1-1h0m4-1h0m-8 0h0m-8 0h0m14-1h0m-10 0h0m1-1h0m-6 0h0m13-2h0m-9-1h0m-4-1h0m19-1h0m-22-5h0m4-3h0m16 0h0m-19-5h0m18 0h0m-19 0h0m5-1h0m4-1h0m-5 0h0m7-2h0m11-2h0m-17-3h0m17-3h0m-8-4h0m-14-1h0m0 0h0m21-1h0m-8-3h0m6-8h0m-8-1h0m4 0h0m-10-2h0m4-4h0m-3-4h0m-2-1h0m10-4h0m9 0h0m-17-1h0m6 0h0m9-3h0m-15-2h0m-6-2h0m11 0h0m-8-1h0m9-1h0m-5-1h0m11-1h0m3 0h0m-1-3h0m3-1h0m-7-4h0m-3-2h0m5 0h0m-11-3h0m2 0h0m8-2h0m-10 0h0m7 0h0m2-3h0m7-4h0m-2-1h0m-21-1h0m8-2h0m-8-1h0m13-2h0m-8-2h0m-3-1h0m3 0h0m-1 0h0m4-2h0m11-1h0m-4 0h0m-2 0h0m-9-2h0m6 0h0m8-1h0m3-1h0m-6-2h0m7-5h0m-15 0h0m15-4h0m-14-2h0m-4-2h0m1-1h0m13-4h0m1-5h0m-15-2h0m5-3h0m-2 0h0m16-2h0m-10-3h0m1-3h0m6-2h0m-3-4h0m6-3h0m-7-1h0m3-5h0m-19-3h0m18-2h0m-12-1h0m-3-2h0m8-2h0m-1-5h0m-10-3h0m20-3h0m-6-1h0m-2-2h0m0-1h0m11-2h0m-10-3h0m8-3h0m8 12h0m7 1h0m-1 1h0m9 12h0m3 2h0m-20 0h0m10 1h0m8 0h0m-15 2h0m6 3h0m-1 1h0m5 1h0m-6 2h0m0 0h0m-4 1h0m15 2h0m2 1h0m-14 5h0m4 0h0m-4 1h0m-7 1h0m-1 1h0m3 3h0m-1 3h0m12 2h0m-9 1h0m10 2h0m2 3h0m-16 2h0m17 1h0m-6 3h0m2 0h0m0 2h0m6 1h0m-8 0h0m-8 0h0m7 0h0m-6 0h0m1 2h0m7 2h0m-6 1h0m-7 0h0m13 1h0m8 0h0m-12 0h0m11 1h0m-9 1h0m1 0h0m7 0h0m-5 1h0m-14 0h0m10 1h0m-3 1h0m10 1h0m-1 0h0m-7 0h0m7 0h0m3 0h0m-8 1h0m-11 2h0m15 1h0m-4 0h0m-12 2h0m17 2h0m-2 2h0m3 2h0m-18 1h0m1 0h0m13 0h0m6 5h0m-11 3h0m12 2h0m-3 0h0m5 1h0m-22 1h0m4 0h0m12 3h0m-10 1h0m4 0h0m4 0h0m-15 5h0m17 0h0m5 2h0m-17 0h0m5 0h0m4 2h0m-4 1h0m-1 0h0m-6 1h0m8 1h0m9 0h0m2 1h0m-9 4h0m-8 1h0m13 1h0m-2 2h0m-10 0h0m6 2h0m7 0h0m-17 0h0m21 1h0m-9 0h0m-6 7h0m11 1h0m-16 1h0m11 1h0m8 1h0m-11 0h0m-6 1h0m10 2h0m-4 5h0m-11 0h0m9 1h0m-9 1h0m21 2h0m-3 1h0m-13 0h0m18 1h0m-2 1h0m-21 1h0m10 1h0m11 0h0m-5 2h0m-9 2h0m6 0h0m4 3h0m-17 1h0m13 0h0m7 3h0m-20 0h0m17 0h0m-4 0h0m-6 2h0m14 2h0m-2 1h0m-14 3h0m9 0h0m-9 2h0m-5 0h0m1 1h0m18 4h0m-16 1h0m-2 3h0m19 1h0m-13 7h0m9 0h0m-6 0h0m4 1h0m3 0h0m-5 1h0m6 0h0m-12 1h0m10 1h0m-10 1h0m5 0h0m5 1h0m-7 1h0m-8 2h0m21 0h0m-4 1h0m-12 4h0m0 6h0m3 4h0m9 1h0m-8 5h0m-5 0h0m12 1h0m-15 1h0m12 2h0m-12 0h0m19 0h0m-4 3h0m-15 3h0m11 3h0m-3 0h0m8 0h0m-6 1h0m-2 0h0m-3 1h0m2 1h0m9 1h0m-6 4h0m11 2h0m-17 1h0m5 3h0m10 1h0m-15 2h0m-4 2h0m9 2h0m8 7h0m-1 1h0m-10 28h0m7 13h0m6 1h0m-13 2h0m1 1h0m4 2h0m1 3h0m8 3h0m-13 1h0m9 1h0m3 1h0m-16 2h0m-5 0h0m6 3h0m-6 3h0m1 1h0m21 1h0m-16 0h0m1 5h0m1 9h0m7 2h0m-9 5h0m11 1h0m1 5h0m-17 10h0m18 5h0m-11 3h0m13 4h0m-5 8h0m0 5h0m3 1h0m-6 1h0m-11 1h0m15 3h0m-12 1h0m0 8h0m8 3h0m4 1h0m5 1h0m1 1h0m-14 2h0m13 2h0m-6 3h0m-8 0h0m5 0h0m9 3h0m-17 2h0m16 3h0m1 1h0m1 7h0m-11 4h0m-1 1h0m2 0h0m9 4h0m-12 0h0m7 3h0m-4 6h0m2 8h0m-3 3h0m8 7h0m24 36h0m2-15h0m-3-2h0m-8-10h0m-4 0h0m11-1h0m2 0h0m-20 0h0m21-1h0m-6 0h0m1 0h0m-7-1h0m5-3h0m-11-8h0m14 0h0m-14-2h0m3-2h0m-4 0h0m12 0h0m0-1h0m0-5h0m-10-1h0m5-2h0m0-1h0m-4-1h0m10-3h0m-7-1h0m10 0h0m4-2h0m-12 0h0m2 0h0m2-1h0m2-2h0m-9-1h0m-2 0h0m-2-2h0m17-4h0m-10-4h0m1 0h0m-9-1h0m7 0h0m3-2h0m-10 0h0m8-2h0m0-3h0m-10 0h0m15-1h0m3-1h0m-6 0h0m-5-1h0m9 0h0m7-1h0m-2-2h0m-10-1h0m-11-2h0m22 0h0m-19-1h0m10 0h0m8-4h0m-7-1h0m0-2h0m-5-1h0m7-1h0m1-6h0m-4-11h0m6-5h0m4-4h0m0-8h0m-9-4h0m-9-4h0m9-4h0m1-4h0m-1 0h0m2-3h0m-11-5h0m17-2h0m-1-3h0m-19-1h0m8 0h0m-9-1h0m6-6h0m2-4h0m12-6h0m-17-3h0m15-8h0m-7-4h0m7-4h0m-18-9h0m20-5h0m-13-4h0m10-2h0m-3 0h0m0-1h0m-7-5h0m3-5h0m12-7h0m-20-2h0m5-12h0m8-2h0m2-1h0m4-1h0m-10-5h0m3-1h0m0-4h0m2-1h0m-15-1h0m-2-7h0m0-6h0m4-3h0m0 0h0m6-1h0m2-3h0m7-1h0m-12-2h0m-4-2h0m2 0h0m11-5h0m-10 0h0m-1-1h0m1-1h0m10 0h0m-12-1h0m-1-3h0m15-4h0m2-6h0m-5 0h0m-15-2h0m11-1h0m-5-6h0m-3 0h0m3-2h0m-3-1h0m-3 0h0m2 0h0m5-5h0m9 0h0m2-1h0m1 0h0m-19-1h0m17-1h0m5 0h0m-11-1h0m-7-6h0m3-1h0m0-3h0m-5-4h0m0-4h0m15-1h0m-7-1h0m-5-2h0m4 0h0m11-1h0m-16 0h0m17 0h0m-2-2h0m-7-1h0m-3-1h0m7 0h0m3-2h0m-13-1h0m10 0h0m-14-1h0m12-1h0m-3 0h0m-5-1h0m-1-3h0m-3-2h0m19-1h0m-1 0h0m-20-1h0m12 0h0m-6-2h0m-6-1h0m2-2h0m5 0h0m-3-1h0m-1-1h0m20-2h0m-16-5h0m7 0h0m-6 0h0m-7 0h0m8-1h0m12 0h0m-2-1h0m0-3h0m3 0h0m-3-2h0m2-1h0m-1 0h0m-11-1h0m1 0h0m-5 0h0m3-4h0m-2-2h0m12-1h0m-7-1h0m-5 0h0m4-6h0m-2-1h0m-2 0h0m7-2h0m-8-1h0m-3 0h0m6 0h0m-3-3h0m18-5h0m-23 0h0m12-3h0m9-1h0m-21 0h0m20-1h0m-1-2h0m-11-1h0m10-1h0m2-1h0m-18 0h0m12-1h0m6-1h0m0-3h0m-4-1h0m3-1h0m1-5h0m-18 0h0m3-2h0m16-1h0m-19 0h0m20-1h0m-3 0h0m2 0h0m-1-4h0m-10-3h0m-3-1h0m-3-3h0m3 0h0m-1 0h0m17-1h0m-8-2h0m4-2h0m-7-2h0m-1 0h0m4-2h0m-2-4h0m1-2h0m-14 0h0m14 0h0m6-1h0m-18-1h0m14 0h0m-5-1h0m-10-2h0m22-1h0m-22 0h0m22-1h0m-15-5h0m10-1h0m-10 0h0m3-2h0m0-3h0m1-1h0m-1-1h0m0 0h0m6 0h0m2-1h0m-8-2h0m6 0h0m-15-3h0m1-2h0m2-2h0m3-2h0m14-5h0m-8-1h0m1-4h0m-7-4h0m18 2h0m2 2h0m8 0h0m5 1h0m3 4h0m-12 8h0m-3 0h0m13 1h0m4 5h0m-19 0h0m1 8h0m0 1h0m15 2h0m-19 1h0m1 1h0m13 0h0m2 2h0m-5 8h0m-4 1h0m8 0h0m-13 0h0m1 5h0m9 6h0m10 3h0m-6 16h0m-15 1h0m12 0h0m-2 0h0m-10 2h0m4 3h0m-1 1h0m18 6h0m-22 0h0m20 2h0m-5 8h0m-12 2h0m4 9h0m-6 3h0m9 4h0m4 1h0m3 4h0m-8 2h0m5 2h0m-7 0h0m5 6h0m2 10h0m-2 1h0m11 1h0m-15 1h0m10 2h0m2 7h0m-11 3h0m-3 0h0m-6 1h0m9 4h0m8 6h0m-2 1h0m2 1h0m-3 8h0m6 9h0m-19 0h0m1 0h0m20 4h0m-19 1h0m3 1h0m14 1h0m2 4h0m-4 0h0m5 1h0m-19 4h0m12 0h0m-4 1h0m-8 6h0m13 4h0m3 5h0m-9 0h0m-10 6h0m-1 2h0m17 7h0m3 3h0m2 7h0m-17 9h0m-1 3h0m-4 7h0m19 9h0m0 2h0m-12 6h0m7 5h0m-13 6h0m5 6h0m5 6h0m-5 6h0m-4 0h0m15 7h0m-2 2h0m0 5h0m-11 9h0m5 6h0m-5 4h0m12 2h0m-6 3h0m9 3h0m-15 2h0m15 1h0m-16 2h0m4 2h0m14 3h0m2 0h0m-19 1h0m14 0h0m-13 6h0m5 0h0m0 4h0m7 2h0m-7 13h0m-7 3h0m12 6h0m-15 4h0m0 2h0m16 2h0m-5 7h0m-10 3h0m7 6h0m9 1h0m-13 3h0m-1 0h0m-1 4h0m5 0h0m10 1h0m5 0h0m-15 0h0m9 2h0m4 0h0m3 9h0m-8 3h0m-4 3h0m-9 1h0m16 1h0m-6 1h0m2 1h0m-11 2h0m1 3h0m17 1h0m-21 1h0m22 0h0m-14 1h0m0 0h0m14 4h0m-4 0h0m-3 2h0m-3 1h0m-4 0h0m8 1h0m0 2h0m3 2h0m-8 1h0m1 1h0m-12 1h0m0 0h0m12 1h0m-1 1h0m-7 0h0m0 2h0m1 1h0m0 3h0m-4 1h0m16 2h0m-2 0h0m3 1h0m-13 0h0m16 1h0m-20 2h0m22 0h0m-8 3h0m6 4h0m1 2h0m-6 2h0m-8 0h0m9 2h0m-5 1h0m8 1h0m2 4h0m-9 0h0m-5 1h0m13 5h0m-7 0h0m3 5h0m-14 0h0m28 12h0m12-2h0m-6 0h0m7-3h0m-6-1h0m-3-5h0m-10-2h0m4-1h0m4 0h0m3-1h0m-8-1h0m-3-2h0m19-1h0m-3-2h0m2-1h0m4-1h0m-22-1h0m9-1h0m-10-1h0m14-1h0m-7-1h0m5-2h0m6-1h0m-18-1h0m6-3h0m6-3h0m-2-1h0m8-1h0m-16-5h0m9-3h0m9-2h0m-4 0h0m-10-1h0m-1-1h0m7-3h0m-9-1h0m4-2h0m12 0h0m-10 0h0m-4-3h0m8-3h0m-2 0h0m11-2h0m-22-2h0m10-1h0m-7 0h0m19-1h0m-16 0h0m14 0h0m-18 0h0m3 0h0m-2-4h0m9-2h0m5-5h0m3-1h0m-7-3h0m-10-2h0m9 0h0m3-1h0m6-1h0m-8-5h0m1-1h0m-1-1h0m5-1h0m-3-1h0m-5-2h0m-10-2h0m18 0h0m3-1h0m-17-1h0m2 0h0m2-1h0m-2 0h0m11-1h0m-2 0h0m3-3h0m-9-5h0m14-4h0m-9-1h0m-12-3h0m7-1h0m14-7h0m-14-1h0m12 0h0m-2-5h0m-1 0h0m-1 0h0m2 0h0m-6-2h0m-7-1h0m-3-6h0m17-13h0m-4-10h0m3-2h0m2-1h0m-1-8h0m-20-3h0m16-31h0m-9-6h0m6-3h0m-9-1h0m19-9h0m-10-20h0m2-1h0m1-44h0m-16-4h0m19 0h0m-13-2h0m6-3h0m2-18h0m-12-2h0m14-2h0m4-2h0m-9-11h0m1-2h0m6-4h0m-13-2h0m5-1h0m1-1h0m3-5h0m4-1h0m-17-6h0m7-5h0m13-1h0m-5-1h0m3-2h0m-2-5h0m5 0h0m-22-5h0m1-3h0m4-5h0m0-7h0m16-2h0m-13-4h0m6-2h0m-5-4h0m11 0h0m-9-1h0m-10-2h0m7-2h0m-7-2h0m0-1h0m16-16h0m-15-2h0m1 0h0m20-12h0m-12-2h0m-11-1h0m5-6h0m10 0h0m7-2h0m-9-2h0m-12-5h0m16-5h0m-8-2h0m6-6h0m-8-5h0m3-5h0m7-2h0m-11-7h0m11-2h0m-5-7h0m0 0h0m-5-12h0m-5-1h0m13-1h0m-12-7h0m2 0h0m13-1h0m-4-4h0m-3-3h0m14 18h0m1 1h0m9 12h0m-7 1h0m12 0h0m-4 1h0m-4 12h0m-7 2h0m7 8h0m11 7h0m-7 0h0m8 2h0m-13 4h0m8 0h0m-7 10h0m3 1h0m4 1h0m8 1h0m-1 9h0m-16 0h0m5 0h0m-11 1h0m13 0h0m-2 3h0m12 3h0m-19 3h0m17 3h0m-16 4h0m15 2h0m0 6h0m1 4h0m1 13h0m-2 1h0m-14 6h0m4 6h0m-3 10h0m8 0h0m8 1h0m-19 1h0m19 9h0m-3 0h0m-1 1h0m-7 4h0m7 2h0m-18 0h0m8 1h0m-7 4h0m11 1h0m5 1h0m-5 0h0m-11 0h0m-2 1h0m12 2h0m11 1h0m-18 0h0m7 6h0m1 0h0m9 0h0m-12 2h0m-4 3h0m14 3h0m-18 3h0m13 1h0m6 3h0m-8 6h0m-7 4h0m10 1h0m7 3h0m-13 3h0m3 1h0m8 4h0m1 5h0m-1 1h0m-18 1h0m6 0h0m14 10h0m-4 4h0m-4 17h0m6 1h0m-16 2h0m-1 8h0m3 5h0m13 21h0m-14 9h0m-2 1h0m12 12h0m1 2h0m0 7h0m-8 10h0m8 9h0m0 0h0m-12 1h0m9 3h0m2 11h0m-2 1h0m-10 2h0m2 4h0m6 5h0m9 4h0m-3 5h0m-4 3h0m-13 0h0m22 5h0m-18 1h0m0 1h0m3 0h0m11 2h0m-8 3h0m6 1h0m-13 1h0m15 3h0m-6 4h0m0 1h0m-7 2h0m-2 3h0m7 5h0m9 5h0m1 3h0m-7 0h0m-9 1h0m2 2h0m-6 6h0m2 1h0m17 0h0m-15 1h0m-4 0h0m10 3h0m-4 3h0m-1 0h0m3 1h0m2 1h0m-4 4h0m3 1h0m5 2h0m3 4h0m-13 1h0m16 1h0m-14 2h0m8 0h0m8 2h0m-7 2h0m6 1h0m-7 1h0m-8 6h0m8 1h0m2 1h0m-7 2h0m-7 5h0m7 1h0m7 2h0m-13 0h0m9 3h0m5 1h0m-1 3h0m5 1h0m-19 0h0m14 3h0m0 0h0m3 2h0m-11 1h0m-5 2h0m-4 2h0m18 1h0m-8 0h0m-10 0h0m1 4h0m10 9h0m12 7h0m-16 19h0m15 37h0m22 57h0m-6-25h0m-11 0h0m10-2h0m3-1h0m-13-18h0m4-8h0m3-7h0m6-28h0m-3-9h0m7-14h0m-10-2h0m-7-6h0m6-3h0m-6-5h0m6-2h0m-7-12h0m18-2h0m-18-3h0m20-3h0m-14-2h0m-6-2h0m1 0h0m16-1h0m-5-5h0m4-1h0m-14-1h0m2-2h0m-1 0h0m1-2h0m2-1h0m-1 0h0m3-1h0m-3 0h0m3 0h0m-4-4h0m0-4h0m17-1h0m-17-1h0m10-1h0m-4-3h0m3 0h0m-14-1h0m18-3h0m1-1h0m-19-6h0m11-6h0m3-2h0m5-1h0m-16-2h0m10-3h0m-8 0h0m16-1h0m-11-2h0m8-3h0m-1-2h0m-10-1h0m7-3h0m5-3h0m-7-3h0m0-3h0m-4-1h0m-8-4h0m4-5h0m16-1h0m-15-3h0m4-4h0m-8-3h0m21-2h0m-3-5h0m-8-2h0m-3-1h0m11-1h0m3 0h0m-2 0h0m-19-5h0m0-14h0m-1-7h0m-1-11h0m10-8h0m4-3h0m9-11h0m-11-4h0m11-31h0m0-7h0m-5-2h0m-5-7h0m-11-15h0m21-8h0m-17 0h0m-1-1h0m-4-6h0m2-7h0m11-15h0m-6-2h0m-7-4h0m10 0h0m-1-2h0m8-1h0m-12-20h0m-1 0h0m17-2h0m-17-4h0m14-11h0m-1-1h0m-3-8h0m1 0h0m-15-6h0m7-3h0m6-3h0m-14-4h0m2-1h0m-1-1h0m15-9h0m-1-2h0m-3 0h0m-3-1h0m-8-5h0m20-13h0m-7-2h0m-13-1h0m13-4h0m7-1h0m-2-5h0m-9-3h0m12-4h0m-12-1h0m-7-2h0m20-10h0m-8-12h0m7-6h0m-8-2h0m-11-2h0m19-1h0m-13-5h0m-1-4h0m11-1h0m-14-23h0m-2-2h0m23 19h0m4 34h0m-6 10h0m0 10h0m1 11h0m0 0h0m14 12h0m-9 3h0m9 1h0m-10 1h0m4 6h0m-9 0h0m10 2h0m-7 2h0m12 3h0m2 0h0m-3 4h0m-8 2h0m9 5h0m-6 3h0m-8 18h0m13 3h0m-13 1h0m22 2h0m0 2h0m-19 0h0m17 6h0m-2 2h0m-18 11h0m5 4h0m5 5h0m6 0h0m-16 9h0m6 3h0m14 41h0m-11 7h0m-4 3h0m14 12h0m-17 8h0m4 2h0m-4 20h0m12 15h0m-10 4h0m4 5h0m12 5h0m-3 7h0m-1 5h0m5 8h0m-10 6h0m8 6h0m3 3h0m-11 3h0m-9 12h0m16 5h0m-6 0h0m6 6h0m-18 3h0m-1 2h0m6 2h0m6 2h0m2 0h0m-4 2h0m5 9h0m-3 3h0m1 1h0m-6 4h0m11 0h0m-6 13h0m-11 2h0m17 2h0m-1 7h0m-12 7h0m-5 6h0m6 5h0m10 0h0m7 3h0m-20 4h0m19 1h0m-20 1h0m3 11h0m1 0h0m12 8h0m-8 0h0m-3 2h0m9 27h0m5 5h0m-16 12h0m17 2h0m-3 7h0m-14 9h0m15 2h0m1 18h0m-13 6h0m-1 35h0m12 1h0m3 13h0m1 23h0m7 6h0m13 0h0m-2-26h0m-14-11h0m10-3h0m-9-41h0m14-17h0m-11-15h0m14-2h0m-1-7h0m3-16h0m-4-6h0m-2-2h0m-15-33h0m1-3h0m0-5h0m-3-1h0m9-3h0m-8-7h0m2-1h0m4-4h0m12-7h0m-2-4h0m-8-3h0m-3-3h0m10-14h0m7 0h0m-3 0h0m-15-1h0m16-2h0m-6 0h0m1-8h0m4-14h0m-5-2h0m-12-8h0m18 0h0m-13-3h0m12-1h0m-4-23h0m-6-5h0m4-3h0m-12-22h0m12-31h0m6-1h0m3-3h0m-23-17h0m20-9h0m1-29h0m-10-9h0m0-2h0m11-10h0m-1-12h0m-18-3h0m11 0h0m-14-3h0m11-4h0m5-2h0m7-7h0m-9-2h0m-8-16h0m16-1h0m-17 0h0m11-5h0m-16-24h0m31-25h0m15 3h0m-7 4h0m-13 11h0m15 4h0m-4 7h0m-5 5h0m4 0h0m-12 8h0m5 3h0m0 2h0m7 4h0m-8 7h0m8 9h0m4 7h0m-11 26h0m17 13h0m-18 1h0m17 4h0m-5 1h0m-16 52h0m19 16h0m-14 5h0m-3 56h0m11 12h0m1 9h0m-9 1h0m15 3h0m1 1h0m2 2h0m-23 7h0m11 3h0m5 2h0m-5 1h0m7 1h0m-15 0h0m17 4h0m-17 2h0m1 1h0m15 3h0m1 6h0m-19 7h0m21 0h0m1 1h0m-19 5h0m10 0h0m-11 13h0m19 49h0m-1 37h0m2 38h0m-15 25h0m11 2h0m-15 1h0m-1 40h0m6 8h0m14 13h0m19 24h0m-11-4h0m-2-31h0m-4-24h0m9-18h0m-10-3h0m3-6h0m16-13h0m4-1h0m-14-11h0m8-3h0m1-28h0m-15-12h0m19-18h0m-9-4h0m0-36h0m-13-44h0m7-9h0m7-1h0m-11-2h0m3-1h0m7 0h0m5-1h0m5-6h0m-14-5h0m14-2h0m-16-4h0m3-7h0m-3-4h0m3-12h0m-5-1h0m2-81h0m-5-18h0m15-24h0m6-26h0m-16-1h0m9-8h0m-8-5h0m3-14h0m2-4h0m-11-9h0m20-7h0m-6-9h0m-3-4h0m-7-1h0m9-2h0m-7-15h0m-5-6h0m12-6h0m5-1h0m-1-30h0m2-2h0m-13 0h0m4-4h0m-5-1h0m13-20h0m6-4h0m-1 0h0m3 8h0m18 10h0m-14 4h0m-1 0h0m14 37h0m-15 6h0m3 8h0m-1 15h0m-3 0h0m-3 16h0m16 21h0m-11 8h0m-2 11h0m13 52h0m-4 8h0m9 4h0m-2 3h0m-3 2h0m1 1h0m-5 2h0m-9 7h0m13 2h0m-11 2h0m8 5h0m4 1h0m-10 0h0m-2 2h0m9 1h0m3 0h0m4 3h0m-2 7h0m0 21h0m-20 22h0m9 7h0m-4 0h0m10 7h0m-3 1h0m-13 9h0m4 1h0m15 1h0m-5 1h0m-12 11h0m7 2h0m4 8h0m-6 2h0m-5 4h0m15 22h0m2 29h0m3 5h0m-3 0h0m-13 4h0m11 18h0m-3 9h0m5 7h0m-16 8h0m8 18h0m-4 16h0m-4 12h0m12 22h0m-3 28h0m-6 11h0m1 7h0m5 4h0m4 24h0m-2 10h0m9 3h0m-2 12h0m21-6h0m-12-2h0m13-2h0m-16-18h0m7-8h0m6-20h0m-12-66h0m8-34h0m-3-34h0m10-89h0m-5 0h0m-11-1h0m1 0h0m-2-7h0m20-6h0m-2 0h0m-14-2h0m5-6h0m-3-2h0m4-1h0m1-3h0m-11 0h0m13-1h0m2-3h0m4-3h0m-15-3h0m-5-1h0m10-2h0m6-1h0m-1-5h0m-5-2h0m-9-2h0m12 0h0m-14-1h0m14 0h0m-6-1h0m-2-1h0m4-6h0m6-1h0m-14-7h0m14-5h0m-5-4h0m-10 0h0m20-1h0m-3 0h0m-9-9h0m-9-3h0m22-3h0m-14-4h0m12-1h0m-6-1h0m-9-2h0m9-12h0m3 0h0m2-2h0m-10-1h0m4-5h0m-11-2h0m19-3h0m-16-1h0m5-6h0m7-100h0m-16-2h0m12-14h0m9-7h0m-3-12h0m25 159h0m-12 2h0m-5 0h0m12 3h0m-12 1h0m11 0h0m-12 0h0m4 3h0m5 1h0m10 0h0m-5 1h0m-3 3h0m10 0h0m-17 0h0m8 1h0m-9 0h0m9 2h0m-8 1h0m13 1h0m-2 0h0m5 1h0m-13 2h0m-4 0h0m-4 4h0m12 6h0m4 1h0m-17 8h0m14 0h0m-5 1h0m-1 2h0m-3 2h0m4 4h0m7 4h0m4 1h0m-20 0h0m1 1h0m13 2h0m0 13h0m-5 1h0m12 4h0m-6 2h0m-7 1h0m9 2h0m-2 0h0m1 7h0m-1 6h0m-5 1h0m-7 2h0m14 1h0m-11 1h0m14 0h0m-11 7h0m1 184h0m1 1h0m6 34h0m3 3h0m-16 37h0m21-357h0m2-1h0m41 311h0m-11 14h0m109-287h0m17 38h0m9-59h0m15 29h0m-3 15h0"/>
<path stroke="#f8766d" d="M95 1219h0m-9-13h0m-12-5h0m15-3h0m-6-2h0m-6-20h0m13-25h0m-2-9h0m4-61h0m18-31h0m4 1h0m-5 5h0m-7 22h0m0 102h0m8 33h0m-7 8h0m29 37h0m1-142h0m3-50h0m-11-2h0m10-54h0m-9-9h0m35-42h0m4 42h0m-20 13h0m4 31h0m0 2h0m12 2h0m3 2h0m-16 7h0m15 0h0m-18 1h0m6 8h0m14 3h0m2 37h0m0 12h0m-16 56h0m4 9h0m-5 10h0m13 54h0m5-2h0m7-11h0m1-54h0m8-8h0m-6-25h0m13-5h0m-7-5h0m-13-10h0m12-78h0m7-52h0m-6-43h0m13 101h0m12 14h0m-6 26h0m1 18h0m11 36h0m-3 15h0m-14 2h0m0 23h0m-1 26h0m-2 24h0m9 2h0m10 52h0m18 8h0m-9-15h0m-7-10h0m12-21h0m4-21h0m2-5h0m-3-21h0m4-4h0m0-27h0m-18-23h0m1-11h0m17-54h0m-11-2h0m3-55h0m2-9h0m-2-26h0m31-61h0m-14 14h0m14 44h0m-16 12h0m3 18h0m18 29h0m-9 23h0m-13 57h0m21 33h0m-18 1h0m3 9h0m-3 30h0m13 41h0m19 21h0m-5-12h0m6-230h0m10-20h0m-10-55h0m12 7h0m17 11h0m-17 37h0m7 90h0m-4 1h0m-3 19h0m7 2h0m1 7h0m2 43h0m-8 39h0m12 7h0m-6 2h0m-4 4h0m-2 14h0m18 2h0m-8 4h0m-7 14h0m9 37h0m-3 6h0m6 2h0m1 5h0m-4 0h0m28 23h0m-2-1h0m4-4h0m-16-30h0m16-1h0m-21 0h0m13 0h0m-7-10h0m-5-8h0m9-12h0m7-4h0m-11-20h0m8-1h0m-4-8h0m3-10h0m-12-14h0m8-2h0m-6-14h0m15-4h0m-13-15h0m-2-33h0m15-23h0m4-69h0m11-4h0m7 20h0m2 10h0m-4 34h0m8 19h0m-9 65h0m-1 4h0m1 37h0m-6 8h0m3 5h0m11 15h0m0 2h0m-7 6h0m-14 8h0m11 2h0m-8 5h0m20 16h0m-14 8h0m-1 2h0m13 7h0m-9 2h0m-4 20h0m-5 1h0m39-7h0m-11-6h0m-2-9h0m15-20h0m-13-5h0m-4-12h0m-1-3h0m5-7h0m0-19h0m-7-15h0m5-6h0m-3-9h0m0-5h0m21-6h0m-9-10h0m7 0h0m-6-7h0m3-42h0m-12-44h0m16-4h0m-19-26h0m0-28h0m-1-11h0m12-1h0m-14-27h0m6-23h0m-3-20h0m25-39h0m12 20h0m4 29h0m-15 16h0m15 25h0m-9 13h0m-3 48h0m13 17h0m-5 90h0m-5 4h0m-5 2h0m6 2h0m6 2h0m-12 1h0m-3 0h0m3 2h0m-2 1h0m11 1h0m3 1h0m-12 1h0m9 1h0m-11 0h0m-2 2h0m5 6h0m9 1h0m0 1h0m-6 2h0m-2 0h0m-3 1h0m15 0h0m0 3h0m-19 1h0m12 0h0m-7 1h0m11 1h0m-3 1h0m-3 1h0m5 5h0m5 1h0m-2 2h0m0 3h0m3 6h0m-19 3h0m16 4h0m-9 0h0m8 0h0m-17 5h0m1 1h0m6 38h0m-8 10h0m11 1h0m7 13h0m-7 20h0m5 1h0m-13 14h0m13 13h0m-4 4h0m-1 15h0m28 59h0m7-1h0m-7-16h0m3-3h0m5-1h0m-15-5h0m8-15h0m2-2h0m-15-1h0m13-14h0m-13-2h0m13-6h0m-2-10h0m-3-11h0m-5-15h0m-3-3h0m19-3h0m-11-15h0m4-29h0m-4-3h0m-2-5h0m11-26h0m-3-6h0m-6-5h0m5-1h0m-16-1h0m0-1h0m17 0h0m-2 0h0m3-2h0m5-3h0m-21-1h0m21-8h0m-3 0h0m-2-4h0m-1-5h0m-10-2h0m10 0h0m-1-1h0m-8-3h0m5-1h0m3-1h0m2-1h0m-4-2h0m-8-2h0m-6-1h0m14-1h0m-7-1h0m5-5h0m11 0h0m-3-2h0m-18-2h0m17-1h0m-19-1h0m13-2h0m6-1h0m-10-3h0m-5-2h0m-3-2h0m2-1h0m12-2h0m-10-1h0m3-4h0m-4-19h0m18-1h0m-4-19h0m-15-9h0m-2-19h0m4-19h0m11-33h0m-12-3h0m1-3h0m0-12h0m12-49h0m-4 0h0m7-10h0m-12-6h0m-3-29h0m37-21h0m-13 6h0m0 52h0m1 9h0m7 11h0m-13 2h0m4 42h0m-2 47h0m11 7h0m4 35h0m-17 15h0m19 26h0m-10 4h0m2 2h0m1 0h0m1 0h0m-5 5h0m-1 2h0m5 3h0m-12 0h0m16 1h0m2 0h0m1 2h0m-3 1h0m-11 1h0m8 2h0m2 0h0m3 0h0m3 1h0m-16 2h0m14 1h0m0 2h0m-9 0h0m3 1h0m4 0h0m-3 2h0m3 2h0m-13 1h0m12 2h0m-5 2h0m5 0h0m1 3h0m-11 1h0m2 4h0m-3 2h0m-5 0h0m11 0h0m0 1h0m9 0h0m-5 1h0m-15 5h0m2 3h0m1 2h0m0 4h0m1 2h0m12 7h0m-5 0h0m-5 2h0m3 0h0m-6 1h0m-2 2h0m13 3h0m0 10h0m-13 5h0m7 8h0m-8 6h0m13 2h0m-4 0h0m-8 32h0m11 7h0m-9 7h0m11 6h0m-1 6h0m-12 3h0m15 3h0m-5 2h0m-3 15h0m8 6h0m6 4h0m-16 3h0m0 1h0m-5 7h0m13 2h0m-8 18h0m11 2h0m4 15h0m-15 3h0m14 7h0m-19 5h0m3 4h0m3 3h0m32 7h0m4-3h0m4-4h0m-16-2h0m1-1h0m6-2h0m6-1h0m0-7h0m-15-3h0m-4-15h0m-1-7h0m21-3h0m-13 0h0m-6 0h0m7-1h0m-4-1h0m14 0h0m-13-3h0m12-5h0m-10-1h0m-3 0h0m6-1h0m1-4h0m-11-5h0m1-10h0m13-1h0m-14-1h0m9-4h0m-6-10h0m-1-1h0m4-8h0m0-9h0m-5-2h0m8-2h0m-3-14h0m-6-1h0m-1-44h0m1-2h0m5 0h0m-2-9h0m17-1h0m-19-22h0m16-1h0m-9-5h0m3-2h0m2 0h0m-10-9h0m-4-4h0m6-7h0m8-1h0m-5-6h0m8 0h0m1-11h0m-2-2h0m-15-2h0m-1-5h0m18 0h0m5-1h0m-23-1h0m4 0h0m17 0h0m-6-2h0m5-2h0m-1 0h0m-14-6h0m11-1h0m-7-1h0m11-4h0m-9-16h0m-11-9h0m10-41h0m0-20h0m-5 0h0m14-1h0m-18-13h0m21-40h0m-5-25h0m-7-43h0m0-11h0m4-17h0m19 4h0m5 37h0m-1 15h0m-3 117h0m7 42h0m-13 2h0m9 0h0m9 4h0m-14 3h0m3 4h0m12 15h0m-14 6h0m-7 3h0m7 4h0m-2 1h0m8 2h0m-2 1h0m6 13h0m-8 1h0m6 3h0m-5 5h0m-10 4h0m7 4h0m-2 9h0m-7 2h0m16 4h0m-11 10h0m18 3h0m-13 6h0m-2 3h0m3 4h0m0 4h0m-2 6h0m14 1h0m-16 17h0m-5 5h0m3 8h0m-5 1h0m19 1h0m-6 1h0m-1 0h0m-6 0h0m-4 10h0m20 14h0m-15 1h0m10 4h0m3 0h0m0 1h0m-14 7h0m2 3h0m-7 4h0m19 6h0m-20 3h0m13 1h0m5 0h0m0 4h0m-13 4h0m-1 19h0m13 4h0m-9 2h0m13 1h0m-21 15h0m1 3h0m-1 1h0m2 11h0m13 1h0m-15 7h0m12 8h0m11 3h0m-10 12h0m9 41h0m-1 15h0m20 54h0m0-13h0m2-1h0m0-3h0m1-1h0m-7-1h0m-7-17h0m13-7h0m1-1h0m-16-1h0m12-1h0m-9-7h0m15-3h0m-21-3h0m2-2h0m11-4h0m-5-17h0m7-2h0m-2-8h0m-6-9h0m8-1h0m3-3h0m-2-24h0m-11-11h0m1-4h0m15-27h0m-7-8h0m-2-6h0m-4-2h0m4-3h0m-9-16h0m2 0h0m7-7h0m-6-5h0m16-12h0m-13-1h0m-1-17h0m13-15h0m-18-3h0m4-1h0m-5-10h0m7-2h0m5-6h0m-11-4h0m2-1h0m0-5h0m14-2h0m-10-3h0m-9-1h0m22 0h0m-12-9h0m-8-2h0m-1-7h0m6-11h0m14-5h0m-19-3h0m9-7h0m-3 0h0m11-4h0m-10-4h0m4-16h0m6-1h0m-7-5h0m-3-2h0m-2-3h0m7 0h0m-14-7h0m1-2h0m4-4h0m16-4h0m-20-1h0m18-7h0m-14-7h0m-6-2h0m21-2h0m-6-5h0m-13-3h0m16-4h0m-15 0h0m5 0h0m7-1h0m1-6h0m-1-2h0m8-8h0m-2-9h0m-18-23h0m5-14h0m-3-48h0m2-6h0m37 59h0m-6 34h0m-5 11h0m13 0h0m-10 4h0m0 3h0m-1 0h0m11 3h0m-4 4h0m-3 0h0m-5 13h0m-8 5h0m18 3h0m-11 2h0m4 7h0m5 2h0m2 3h0m-12 5h0m-1 2h0m13 3h0m-19 0h0m18 1h0m4 6h0m-18 1h0m1 9h0m-1 2h0m18 0h0m-17 1h0m13 0h0m-14 17h0m-2 4h0m-3 7h0m22 2h0m-16 0h0m11 4h0m-9 3h0m8 2h0m-4 2h0m9 2h0m-20 3h0m21 4h0m1 8h0m-2 0h0m-20 8h0m0 5h0m20 8h0m-13 3h0m10 10h0m-13 2h0m-1 11h0m5 2h0m9 8h0m-15 8h0m9 1h0m1 3h0m-11 9h0m21 15h0m-9 0h0m-8 4h0m8 3h0m6 16h0m-11 0h0m12 6h0m-16 3h0m3 11h0m3 34h0m4 5h0m-1 18h0m5 10h0m-12 0h0m10 7h0m1 9h0m-14 11h0m15 1h0m-16 1h0m14 11h0m-11 2h0m7 10h0m-1 3h0m-10 12h0m17 7h0m-9 6h0m-4 2h0m-1 2h0m-5 1h0m14 2h0m-11 2h0m-2 2h0m17 1h0m-2 0h0m-15 2h0m22 1h0m-13 3h0m-2 2h0m6 20h0m33 11h0m-17-5h0m-2-2h0m10-1h0m-9-3h0m12-5h0m-3-4h0m-8-3h0m2-2h0m8-1h0m5 0h0m-20-2h0m9 0h0m5-1h0m-3-3h0m4-5h0m-4-3h0m0-1h0m3-6h0m1-2h0m2-1h0m4-8h0m1-24h0m-4-14h0m-13-1h0m-2-2h0m-2-1h0m14 0h0m6-5h0m-17 0h0m2-3h0m8-2h0m5-4h0m-13-5h0m12-2h0m-3 0h0m-15-2h0m13-8h0m-9-1h0m8-1h0m0-3h0m1-7h0m-14-2h0m0-3h0m0-12h0m8-2h0m-2-3h0m9-94h0m-3-1h0m8-13h0m-7-20h0m-1-7h0m1-2h0m-3-2h0m-2 0h0m15-6h0m-12-2h0m-1-3h0m10-1h0m-2-1h0m-17-2h0m2-1h0m10-3h0m4-2h0m-14-10h0m9-1h0m9-9h0m-4-4h0m2-6h0m0-2h0m-1-9h0m-11-2h0m-4 0h0m3-7h0m1 0h0m7-2h0m0-1h0m6-13h0m-10-1h0m-9-6h0m3-2h0m17-3h0m-3-4h0m-13 0h0m-2-2h0m13-1h0m-4-1h0m2-2h0m-13-1h0m5-1h0m1-4h0m-4-2h0m14-7h0m5-1h0m-1-2h0m-12-7h0m4-1h0m2-2h0m-12-1h0m2-1h0m4-3h0m4-2h0m6-5h0m-2-1h0m-9-8h0m10-8h0m-9-3h0m5-14h0m5-1h0m0-2h0m0 0h0m-16-1h0m19-8h0m-3-1h0m-5 0h0m9-8h0m-8-8h0m3-2h0m4-8h0m-3-2h0m-5-2h0m4-4h0m-7-1h0m8-6h0m21-58h0m2 19h0m-6 1h0m10 0h0m-10 14h0m4 5h0m0 2h0m0 3h0m-2 5h0m-5 4h0m-8 3h0m12 1h0m8 3h0m-8 1h0m2 0h0m-2 5h0m4 3h0m-9 1h0m-5 0h0m1 1h0m1 1h0m12 5h0m-15 2h0m14 1h0m4 0h0m-18 9h0m7 2h0m-1 1h0m5 3h0m-7 0h0m17 3h0m-11 0h0m10 1h0m-10 0h0m-4 2h0m1 0h0m8 7h0m-7 1h0m12 1h0m-2 4h0m-18 6h0m-1 2h0m18 5h0m1 5h0m-17 0h0m11 2h0m9 3h0m-2 6h0m-18 15h0m0 2h0m20 2h0m-4 5h0m-11 3h0m-5 11h0m7 3h0m1 13h0m-9 0h0m16 2h0m-18 3h0m8 5h0m15 3h0m-4 12h0m-16 1h0m-2 4h0m5 1h0m8 1h0m7 2h0m-4 2h0m-3 2h0m-10 2h0m18 4h0m-6 0h0m5 5h0m-3 1h0m4 4h0m-6 2h0m4 4h0m2 2h0m-19 0h0m-3 9h0m22 0h0m0 2h0m-12 1h0m3 3h0m1 1h0m4 3h0m-10 6h0m4 2h0m-9 2h0m7 2h0m-2 7h0m-8 1h0m0 3h0m14 11h0m-11 29h0m16 7h0m-4 4h0m-9 22h0m16 45h0m-17 4h0m-1 3h0m19 1h0m-21 3h0m18 0h0m-17 1h0m1 1h0m-2 5h0m9 0h0m-10 14h0m15 4h0m-3 5h0m5 14h0m4 4h0m-7 5h0m5 3h0m-5 13h0m8 1h0m-5 1h0m-11 0h0m4 6h0m5 21h0m-15 4h0m3 3h0m18 2h0m-10 6h0m-9 0h0m6 5h0m13 7h0m-11 4h0m3 7h0m7 1h0m-2 1h0m-10 1h0m8 1h0m-17 2h0m17 2h0m-10 1h0m6 0h0m9 3h0m-1 3h0m2 10h0m-16 1h0m9 1h0m0 0h0m7 2h0m-6 8h0m-5 0h0m-1 4h0m-5 2h0m39 7h0m-15-4h0m-2 0h0m13-1h0m-16-5h0m5 0h0m-1-8h0m11 0h0m-10-1h0m0-4h0m-2-1h0m18-1h0m-3 0h0m-5-4h0m-9-2h0m12-1h0m-13-6h0m-3-6h0m18-1h0m-1 0h0m-2-3h0m1-4h0m-7-1h0m-6-11h0m17-2h0m-15-1h0m-2 0h0m11 0h0m7-6h0m-15-11h0m16-1h0m-17-2h0m8-8h0m-11-1h0m-1-1h0m8-16h0m6-7h0m6-1h0m-8-3h0m-9-2h0m5-9h0m4-1h0m9-4h0m-5 0h0m-14-12h0m9-4h0m-12-1h0m12-2h0m-10-3h0m9-7h0m6-1h0m-5-1h0m3-13h0m-16-2h0m7-2h0m6-8h0m0-6h0m10-51h0m-22-9h0m3-2h0m16-7h0m0 0h0m-13-2h0m9-12h0m-2-2h0m-10-4h0m7 0h0m4-4h0m-1-7h0m-12 0h0m11-12h0m-7-5h0m-4-24h0m-2-8h0m7-3h0m-2-1h0m-5-1h0m1-7h0m1-5h0m8-10h0m-10-17h0m20-5h0m0-3h0m-9-5h0m-1-2h0m3-1h0m7-5h0m-16-5h0m14-16h0m-10-13h0m-8 0h0m20-6h0m-14-2h0m0-5h0m14-1h0m-16-4h0m19-1h0m-14-3h0m-6-1h0m16-2h0m4-4h0m-20-1h0m9-2h0m-3-5h0m-7 0h0m4-1h0m2 0h0m9-1h0m-15 0h0m9-1h0m11 0h0m-13-1h0m4-3h0m-9-2h0m9-1h0m-11 0h0m2-1h0m5 0h0m-3-3h0m5-3h0m12-5h0m-4-3h0m3-1h0m-22-3h0m6 0h0m-5 0h0m19-4h0m-7-5h0m-7-7h0m9-5h0m-13-6h0m19 0h0m-1-3h0m-14-2h0m14-2h0m-9-3h0m6-1h0m-5-4h0m7-2h0m-4-2h0m8-6h0m-20-10h0m12-1h0m-7-6h0m-2-1h0m5-1h0m3-4h0m-13 0h0m21-1h0m-6-2h0m-2-5h0m2-1h0m-4-1h0m-5-1h0m8-4h0m-11-3h0m12 0h0m5-7h0m-10-3h0m0-2h0m11-12h0m4 15h0m1 2h0m10 2h0m4 6h0m-9 1h0m7 1h0m5 1h0m1 2h0m-8 2h0m-5 1h0m-2 3h0m-1 1h0m7 6h0m2 0h0m9 4h0m-2 4h0m-17 0h0m5 1h0m14 1h0m-1 2h0m0 2h0m-12 1h0m11 3h0m-16 1h0m14 0h0m-12 9h0m5 4h0m-7 1h0m14 8h0m-6 3h0m0 2h0m-9 3h0m16 1h0m-15 1h0m4 5h0m-9 3h0m2 2h0m10 1h0m11 2h0m-23 0h0m21 4h0m-11 6h0m-8 1h0m0 4h0m8 2h0m2 2h0m10 1h0m-15 1h0m12 6h0m2 5h0m-21 1h0m6 0h0m14 2h0m-12 1h0m5 2h0m-4 2h0m-5 1h0m16 4h0m-5 7h0m2 0h0m-13 4h0m-1 0h0m11 2h0m-9 2h0m-2 4h0m-2 4h0m10 0h0m-7 8h0m2 40h0m1 2h0m-7 14h0m19 88h0m1 6h0m-16 4h0m19 49h0m-11 9h0m6 17h0m-6 2h0m1 3h0m-12 3h0m21 0h0m-7 0h0m-5 9h0m11 16h0m-16 10h0m-4 0h0m18 2h0m2 1h0m-17 2h0m8 2h0m8 4h0m-9 5h0m-6 3h0m3 1h0m4 2h0m6 0h0m5 1h0m0 5h0m-20 2h0m4 1h0m-7 5h0m21 3h0m-6 1h0m-6 9h0m5 2h0m0 10h0m-9 1h0m2 1h0m16 9h0m-15 7h0m3 17h0m-10 0h0m19 2h0m0 8h0m-7 5h0m-2 1h0m-2 0h0m-2 1h0m-5 3h0m5 2h0m-1 0h0m7 1h0m-10 3h0m4 0h0m-3 1h0m0 2h0m16 1h0m-15 6h0m18 4h0m-16 0h0m-6 1h0m-1 5h0m19 1h0m-14 2h0m1 2h0m12 3h0m-5 1h0m4 3h0m2 3h0m0 5h0m-6 3h0m-8 0h0m-2 5h0m5 4h0m-8 2h0m36 3h0m-6-7h0m5 0h0m10-3h0m-19-2h0m8-3h0m7-1h0m3-2h0m-19-6h0m10-3h0m9-2h0m-2-1h0m0 0h0m-2-2h0m-11 0h0m10-1h0m-13 0h0m3-3h0m2-1h0m15-1h0m-1-1h0m2-1h0m-15 0h0m-1-7h0m3-2h0m5 0h0m1-3h0m3-2h0m3 0h0m-9 0h0m7-4h0m-7-1h0m-8-1h0m0-2h0m13-1h0m-16 0h0m15-5h0m-13-6h0m18 0h0m1-1h0m-17-1h0m6-6h0m3-1h0m-12-8h0m19-11h0m-12-10h0m6-2h0m-15-3h0m-1-2h0m9-9h0m7-1h0m-13 0h0m11-9h0m7-2h0m-1-1h0m-12 0h0m0 0h0m2-2h0m12-4h0m-22-5h0m14-1h0m6-11h0m-10-9h0m-2-1h0m-8-30h0m2-12h0m3-2h0m-4-155h0m4-122h0m14-6h0m2-9h0m-16-6h0m1-10h0m3-6h0m-4-4h0m-1-1h0m2-15h0m-6-1h0m18-10h0m-7-4h0m-4-3h0m1-11h0m-8-17h0m45 52h0m-1 171h0m-8 53h0m-12 160h0m2 22h0m4 2h0m-6 6h0m12 1h0m-4 6h0m-6 10h0m10 8h0m1 0h0m-12 1h0m18 4h0m-2 1h0m-14 8h0m-2 9h0m9 7h0m13 3h0m-23 0h0m3 1h0m11 0h0m-9 1h0m10 2h0m-13 3h0m14 1h0m2 1h0m-16 5h0m0 3h0m-2 2h0m17 0h0m-5 1h0m-2 4h0m10 3h0m-10 3h0m3 1h0m4 3h0m-14 25h0m-2 1h0m6 2h0m30-25h0m-1-457h0m9-3h0m-15-14h0m21-8h0m19 16h0m-4 21h0m2 402h0m-5 8h0m-8 8h0m6 3h0m-9 15h0m20-32h0m23-363h0m-11-15h0m0-1h0m-3-5h0m-4-5h0m4-1h0m0-7h0m-3-9h0m-2-29h0m-3-3h0m26 66h0m19 10h0m-20 0h0m11 8h0m26 169h0m2-1h0m1-4h0m-3-9h0m6-2h0m-5 0h0m-7-4h0m1-5h0m10-8h0m2-1h0m-5-3h0m-10 0h0m10-6h0m6-3h0m-16-1h0m9 0h0m-11-1h0m9 0h0m3-3h0m2-85h0m-9-8h0m-4-1h0m3 0h0m13-9h0m-10 0h0m20 14h0m-8 10h0m8 1h0m3 1h0m-11 2h0m9 7h0m7 3h0m-7 4h0m12 4h0m1 2h0m-4 4h0m-3 2h0m-11 14h0m1 7h0m18 4h0m-5 1h0m0 0h0m-7 2h0m0 1h0m-11 1h0m23 5h0m-3 0h0m3 2h0m-16 2h0m2 7h0m12 1h0m0 0h0m-13 4h0m2 1h0m11 1h0m-8 1h0m-9 0h0m17 5h0m-15 0h0m13 0h0m-1 4h0m-12 3h0m1 0h0m-5 1h0m3 5h0m-3 0h0m15 2h0m-5 2h0m-11 1h0m17 1h0m1 2h0m-16 1h0m-1 3h0m3 9h0m1 2h0m13 0h0m-13 3h0m6 0h0m-6 0h0m6 4h0m9 5h0m-10 2h0m5 5h0m7 0h0m-5 5h0m-15 1h0m0 4h0m15 5h0m5 1h0m-8 3h0m-4 1h0m8 1h0m14 8h0m-9-6h0m22-4h0m-15-1h0m10-7h0m-3-2h0m3-1h0m-3-2h0m5 0h0m-6-1h0m3-2h0m-3-3h0m-8 0h0m8 0h0m3-2h0m-3-1h0m5-9h0m-2-1h0m-11-3h0m14 0h0m-2 0h0m3-1h0m-18 0h0m5-9h0m15 0h0m-2-7h0m0-1h0m1-4h0m-18 0h0m2-1h0m18-2h0m-8 0h0m-9-1h0m11-7h0m-9 0h0m7-3h0m1-4h0m-2-5h0m-12 0h0m-2-3h0m20 0h0m0-2h0m2-3h0m1-4h0m0 0h0m-19-2h0m8-1h0m-11-4h0m9-3h0m-8-1h0m20-8h0m-1-7h0m-15-3h0m10-1h0m7-4h0m-18-2h0m3-4h0m11-2h0m-10-1h0m3-2h0m10-3h0m2 5h0m20 4h0m-9 1h0m-4 1h0m-3 0h0m-1 1h0m7 0h0m5 0h0m1 1h0m4 1h0m-13 2h0m7 1h0m-6 1h0m7 1h0m-3 2h0m-5 0h0m9 2h0m5 0h0m1 2h0m-2 1h0m-10 5h0m-4 3h0m0 1h0m16 1h0m0 1h0m0 2h0m-4 4h0m-6 2h0m-10 2h0m16 1h0m-16 0h0m1 0h0m15 1h0m-15 2h0m19 1h0m-19 3h0m2 2h0m6 1h0m-4 1h0m10 3h0m-13 0h0m-2 1h0m21 0h0m-22 0h0m6 2h0m12 2h0m-16 3h0m5 0h0m0 1h0m-2 1h0m15 1h0m-7 1h0m6 0h0m-4 1h0m-13 2h0m-2 1h0m20 1h0m-9 4h0m5 1h0m-4 0h0m-9 2h0m15 1h0m-7 0h0m11 1h0m-17 0h0m16 1h0m-1 1h0m-8 3h0m5 2h0m5 1h0m-13 0h0m-7 0h0m-2 7h0m0 0h0m12 1h0m-10 0h0m18 1h0m-16 2h0m-5 0h0m15 1h0m-7 0h0m1 0h0m-9 0h0m8 1h0m0 1h0m-3 0h0m-5 0h0m20 3h0m-11 3h0m-7 3h0m16 3h0m-1 6h0m-17 0h0m3 0h0m-3 1h0m6 3h0m22-25h0m1-18h0m-2-2h0m-3 0h0m6-2h0m-1-1h0m-1-2h0m11-12h0m-11-2h0m-1-2h0m-2 0h0m1-1h0m10-3h0m-2-1h0m-4 0h0m-1-2h0m4 0h0m2-2h0m-6-1h0m2-1h0m0-1h0m-4-2h0m6-2h0m1-1h0m-9-5h0m4-3h0m-1-2h0m4 0h0m0 0h0m-6-5h0m1-5h0m3-1h0m-6-5h0"/>
<path stroke="#c77cff" d="M414 1237h0m177-182h0m-15 26h0m9 5h0m-5 36h0m25 19h0m7-31h0m-9-2h0m-3-22h0m18-25h0m23 33h0m19 19h0m14-29h0m8 13h0"/>
<path stroke="#00bfc4" d="M46 1169h0m24-62h0m0 14h0m0 11h0m-5 0h0m-7 3h0m6 1h0m-4 1h0m10 2h0m-1 5h0m-11 3h0m8 0h0m5 1h0m-2 0h0m2 1h0m-17 2h0m11 1h0m-3 2h0m9 0h0m-4 3h0m-6 1h0m6 0h0m1 2h0m-12 1h0m-5 0h0m8 0h0m9 4h0m-2 2h0m-1 2h0m6 9h0m-11 5h0m9 2h0m-2 7h0m-3 1h0m7 0h0m-13 3h0m1 4h0m3 5h0m32 21h0m-4-1h0m3-2h0m0-7h0m-16-2h0m14-14h0m-15-3h0m14 0h0m-8-6h0m9-1h0m-5-1h0m4-2h0m-1-4h0m-1-3h0m-9 0h0m12-1h0m-15 0h0m8 0h0m9 0h0m-14-2h0m16-1h0m-13 0h0m1-1h0m-7-3h0m14-4h0m4-1h0m-17-1h0m9-1h0m6 0h0m-1-1h0m-3 0h0m-14-1h0m10 0h0m11-1h0m-14-1h0m-8-1h0m14-1h0m5-6h0m-7 0h0m-5-3h0m2-2h0m5-2h0m8 0h0m-1 0h0m-15-1h0m15-1h0m-2-1h0m-20-3h0m4-2h0m14-1h0m-9-1h0m13-2h0m-10-2h0m8-1h0m-8 0h0m-6-3h0m16 0h0m-5 0h0m2 0h0m-18-1h0m17-1h0m-13-1h0m9-3h0m9 0h0m-13 0h0m7-1h0m-1 0h0m-14-1h0m20-6h0m0-1h0m1 0h0m-21-1h0m7-1h0m3-1h0m-9-1h0m7 0h0m-4-1h0m5-1h0m-4 0h0m12 0h0m-7-1h0m-6-1h0m7-2h0m-11 0h0m13-2h0m6 0h0m-7-1h0m7-1h0m-14-1h0m10-2h0m-3-1h0m-2-1h0m-3-3h0m7-2h0m-2 0h0m2-7h0m-13-4h0m10 0h0m4-2h0m2-6h0m2 0h0m-2-6h0m4-5h0m23-39h0m0 2h0m-5 10h0m-11 4h0m10 0h0m-5 3h0m-1 0h0m10 2h0m-18 3h0m8 8h0m5 1h0m-3 3h0m4 0h0m-7 1h0m0 1h0m-9 10h0m11 3h0m1 2h0m9 3h0m-12 1h0m-7 0h0m10 1h0m3 1h0m6 2h0m-1 3h0m-4 2h0m4 1h0m-4 2h0m-6 6h0m11 1h0m-20 2h0m19 3h0m1 0h0m-9 2h0m-7 2h0m5 0h0m-3 5h0m7 0h0m-3 1h0m8 1h0m1 4h0m-16 0h0m11 4h0m-9 5h0m17 0h0m-8 3h0m4 6h0m-11 1h0m11 3h0m-7 1h0m-3 0h0m5 1h0m0 1h0m-11 1h0m7 1h0m1 2h0m-2 1h0m6 2h0m-15 3h0m3 0h0m-2 1h0m3 1h0m12 2h0m6 3h0m-13 1h0m2 0h0m-10 0h0m15 3h0m2 0h0m0 1h0m-9 1h0m4 1h0m-9 2h0m-2 2h0m21 0h0m-2 1h0m-17 1h0m11 0h0m-1 1h0m-11 3h0m18 0h0m-20 3h0m0 2h0m15 0h0m-8 3h0m14 1h0m0 0h0m-20 3h0m-1 1h0m-1 5h0m17 1h0m-16 4h0m3 3h0m1 1h0m-4 0h0m3 1h0m3 3h0m-1 4h0m7 3h0m-1 3h0m-5 2h0m1 3h0m-5 1h0m-2 3h0m15 0h0m3 4h0m4 1h0m-5 4h0m2 5h0m20 19h0m3-4h0m-11-6h0m6-1h0m-9 0h0m8 0h0m4-3h0m-1-1h0m2 0h0m-13-1h0m-3-1h0m18-9h0m-11-8h0m13-1h0m-10-3h0m6-5h0m-11-1h0m7 0h0m-10-3h0m-3-5h0m16-3h0m-12-1h0m-1 0h0m7-2h0m-9-6h0m14-4h0m5-4h0m0-3h0m-13-2h0m9-1h0m6-3h0m-21-4h0m4-1h0m6-1h0m4 0h0m-7-4h0m-8-1h0m6 0h0m16 0h0m-10-3h0m-7-1h0m0-5h0m-1-1h0m8 0h0m3-1h0m1-2h0m-8-1h0m-1 0h0m12-5h0m-5 0h0m-10-2h0m0 0h0m8-4h0m2-1h0m2-2h0m3-4h0m-1-6h0m2-2h0m-21 0h0m12-6h0m9-2h0m-4-1h0m-15-1h0m-1-4h0m8-1h0m-4 0h0m-1-2h0m5 0h0m-9-5h0m12-3h0m4-2h0m-14 0h0m-2-2h0m14 0h0m-1 0h0m6-3h0m-14-2h0m6-2h0m-10-2h0m18-1h0m-1 0h0m-2-2h0m-15-4h0m3-1h0m13-4h0m-11-2h0m0 0h0m17-1h0m-3-2h0m-16-1h0m-4 0h0m19-4h0m0-3h0m3-8h0m-19 0h0m11-5h0m-2-3h0m1-1h0m0-3h0m8-1h0m-1 0h0m-18 0h0m9-1h0m6-2h0m-17-4h0m22-1h0m1-6h0m-4 0h0m-8-1h0m3-1h0m-3 0h0m-11-1h0m14 0h0m5-1h0m-14-3h0m9 0h0m-5-9h0m0-6h0m-7-1h0m9-3h0m2-7h0m5-1h0m-8 0h0m0-6h0m34-29h0m-4 3h0m2 3h0m5 0h0m-20 1h0m7 1h0m2 2h0m-7 0h0m18 3h0m-15 0h0m13 1h0m-8 1h0m-1 9h0m-11 1h0m9 3h0m10 3h0m-13 3h0m10 4h0m-17 4h0m9 2h0m4 13h0m5 2h0m-18 1h0m20 8h0m-17 1h0m11 2h0m-2 2h0m-11 1h0m2 8h0m3 0h0m0 2h0m-3 3h0m19 3h0m-8 1h0m-10 0h0m5 2h0m4 5h0m3 3h0m-6 0h0m-7 0h0m9 1h0m-2 0h0m5 1h0m4 0h0m-6 5h0m5 1h0m3 2h0m-14 1h0m-5 2h0m11 3h0m-4 1h0m-1 0h0m-1 4h0m8 1h0m8 2h0m-1 0h0m-9 2h0m-13 1h0m3 1h0m-2 1h0m11 1h0m10 4h0m-15 2h0m-3 1h0m10 1h0m-12 0h0m21 0h0m-18 2h0m16 1h0m-19 4h0m12 1h0m9 0h0m0 1h0m-12 7h0m-8 3h0m14 1h0m-12 1h0m11 2h0m-2 0h0m-12 3h0m5 2h0m9 0h0m-2 0h0m-1 2h0m4 2h0m-11 1h0m-1 0h0m-4 5h0m22 1h0m-3 0h0m-13 2h0m-5 1h0m6 2h0m8 4h0m-11 1h0m9 2h0m-5 0h0m5 2h0m-7 1h0m7 0h0m-13 2h0m12 1h0m6 2h0m-13 0h0m0 3h0m11 2h0m2 1h0m-18 2h0m14 0h0m-5 0h0m-3 1h0m15 1h0m-21 2h0m3 7h0m0 1h0m11 1h0m-8 2h0m16 0h0m-19 4h0m13 0h0m-14 1h0m17 1h0m-3 0h0m3 2h0m-4 4h0m7 1h0m-20 2h0m14 2h0m-8 0h0m-6 1h0m-3 7h0m5 2h0m13 0h0m-18 6h0m15 1h0m-6 7h0m5 10h0m-3 2h0m-3 0h0m-4 3h0m17 6h0m-11 6h0m-3 1h0m1 1h0m13 3h0m-19 5h0m13 1h0m8 0h0m-3 1h0m-4 3h0m-13 6h0m29 1h0m8-3h0m-9-3h0m12-5h0m-12-1h0m-6-2h0m15-1h0m-4-4h0m4-1h0m-6-6h0m-3 0h0m0-2h0m2 0h0m0-11h0m-1-3h0m7-2h0m6-2h0m-13-1h0m5-3h0m-7-6h0m2-2h0m-1-1h0m-4-1h0m3-2h0m14-1h0m-10 0h0m11-2h0m-20 0h0m1 0h0m18-1h0m-17-2h0m10-3h0m-1 0h0m6 0h0m-18-2h0m1-4h0m7-1h0m-6 0h0m20 0h0m-1-1h0m-6-2h0m-4-1h0m-1-4h0m4-1h0m6-5h0m-3-3h0m3-2h0m1-4h0m-20-5h0m16-4h0m4 0h0m0-3h0m-16-3h0m-4 0h0m20-3h0m-6-5h0m1-7h0m-13-1h0m-1-1h0m2-2h0m17-7h0m-19 0h0m13-1h0m2 0h0m3 0h0m0-4h0m-10-5h0m-10 0h0m4 0h0m17-2h0m-20 0h0m14-6h0m-4-1h0m0-1h0m-11-1h0m20-2h0m-6-3h0m1 0h0m-4-1h0m2 0h0m4-1h0m4 0h0m-20-3h0m13 0h0m-1-2h0m-1-4h0m3-1h0m5-1h0m-6-2h0m4-1h0m-1-1h0m-3 0h0m-13-6h0m13-1h0m-10-1h0m11-1h0m4-1h0m-2-5h0m0-1h0m-6-1h0m-4-1h0m-7-2h0m5 0h0m18-1h0m-21-2h0m8-2h0m-1-3h0m-9-6h0m1-9h0m8-3h0m3-3h0m-9-2h0m13-8h0m-14-6h0m18 0h0m-4-1h0m-8 0h0m-1-2h0m4-2h0m2 0h0m-1-7h0m-4-5h0m12-3h0m-11-2h0m-1-5h0m6 0h0m5-6h0m1-4h0m-16-6h0m3-4h0m8-2h0m-8-1h0m2-7h0m-2-3h0m-2-1h0m9-3h0m0-3h0m-1-9h0m23 1h0m2 0h0m-5 1h0m13 5h0m1 1h0m-13 1h0m9 0h0m1 0h0m-20 2h0m0 6h0m1 5h0m6 2h0m-3 9h0m7 6h0m7 3h0m1 7h0m-4 0h0m5 3h0m-15 0h0m6 6h0m-2 1h0m8 1h0m1 1h0m-6 5h0m7 8h0m-5 0h0m9 1h0m-1 5h0m-2 2h0m-1 1h0m-18 3h0m10 1h0m-9 0h0m13 5h0m-15 1h0m13 1h0m-12 1h0m21 5h0m-6 1h0m3 4h0m-11 2h0m10 1h0m-18 0h0m4 4h0m9 2h0m-10 3h0m11 0h0m-3 2h0m-10 0h0m20 0h0m-3 2h0m-16 1h0m6 1h0m13 2h0m-4 2h0m-7 1h0m-8 0h0m3 0h0m-4 1h0m21 2h0m-20 3h0m19 1h0m-2 3h0m-18 0h0m22 1h0m-7 1h0m6 2h0m-21 0h0m16 0h0m0 1h0m-12 0h0m7 0h0m3 1h0m-5 3h0m8 2h0m-13 4h0m-4 1h0m16 1h0m4 2h0m-10 4h0m4 1h0m1 2h0m-6 1h0m9 7h0m4 0h0m-1 1h0m-14 0h0m4 1h0m-7 0h0m-5 5h0m5 1h0m4 4h0m3 1h0m-10 1h0m4 2h0m1 0h0m-1 0h0m-2 0h0m5 1h0m-3 3h0m9 2h0m-6 0h0m11 3h0m-8 2h0m5 1h0m-1 0h0m1 1h0m-2 0h0m-11 2h0m16 0h0m-7 4h0m-7 3h0m-2 3h0m7 1h0m-3 0h0m4 4h0m6 1h0m5 0h0m-23 0h0m13 3h0m-2 1h0m4 2h0m-3 1h0m-1 1h0m-10 2h0m4 1h0m3 1h0m15 5h0m-19 2h0m2 1h0m-3 1h0m-3 4h0m23 1h0m-20 1h0m9 1h0m-11 1h0m-1 1h0m9 1h0m12 2h0m-7 0h0m-4 4h0m-4 1h0m-5 0h0m12 8h0m-6 1h0m10 7h0m-14 3h0m16 1h0m4 4h0m-7 8h0m2 6h0m5 1h0m-10 4h0m-2 0h0m9 3h0m-18 6h0m16 4h0m5 7h0m-1 3h0m-6 1h0m-9 2h0m-6 3h0m7 1h0m-2 5h0m7 2h0m4 3h0m-14 1h0m8 1h0m-8 3h0m1 2h0m4 1h0m16 11h0m7-1h0m4-1h0m10-1h0m1 0h0m-4-3h0m-4-2h0m5-2h0m-10-5h0m-3 0h0m8-2h0m-11-1h0m8-1h0m-7-3h0m1-1h0m18-1h0m-7-2h0m-10-2h0m-6-3h0m22-1h0m0-2h0m0-2h0m-13-2h0m14-6h0m-5-1h0m-3 0h0m-8-5h0m8-7h0m7-2h0m-16-1h0m6-4h0m-9-1h0m20-1h0m-7-1h0m-12-6h0m18-3h0m-17-1h0m14-8h0m-5-1h0m-3-2h0m5-3h0m-3-2h0m-1-5h0m-12-1h0m13-1h0m3-8h0m-6-1h0m7-1h0m-2-2h0m-2-3h0m-4-5h0m-3-2h0m8-2h0m4-2h0m-8-3h0m9 0h0m-18-1h0m18-2h0m-17-1h0m2-1h0m11-3h0m-2 0h0m8-1h0m-1-2h0m-10-1h0m8-2h0m-11-3h0m1 0h0m15-2h0m-8-3h0m-13 0h0m10-1h0m4-4h0m-7-2h0m1-8h0m-7-2h0m19 0h0m-5-2h0m-5-1h0m-12 0h0m14-4h0m-7-1h0m-5 0h0m2-10h0m-3-5h0m13 0h0m-10-2h0m5-1h0m-5-3h0m16-1h0m-9-2h0m-2-1h0m9-1h0m-16-2h0m-1-3h0m4-4h0m14 0h0m-3-1h0m-14-1h0m8 0h0m-9-2h0m4-4h0m-1 0h0m-2-1h0m19-2h0m-3-5h0m-3-4h0m-15-1h0m5-2h0m14-1h0m2-5h0m-17-3h0m-3-3h0m2-8h0m5-6h0m5-7h0m8-1h0m2-3h0m-23 0h0m6-4h0m16-3h0m-7 0h0m-3-1h0m9-2h0m-1-3h0m-20-1h0m1-3h0m6-1h0m-4-4h0m17-3h0m-4-7h0m-4-5h0m11 0h0m-12-2h0m9 0h0m-8-3h0m-8-2h0m2-1h0m6 0h0m-12-9h0m3-3h0m-2-4h0m22-1h0m-1-3h0m-21-1h0m22-1h0m-5-1h0m-10-9h0m12 0h0m1 0h0m-2 0h0m-10-2h0m-7-4h0m16-1h0m-2-4h0m-13-1h0m9-1h0m-2-8h0m34 5h0m-14 3h0m16 0h0m1 1h0m-14 5h0m11 0h0m-2 3h0m-7 0h0m3 2h0m-5 4h0m-8 12h0m22 2h0m-9 5h0m9 2h0m-20 1h0m1 2h0m-1 3h0m-2 4h0m18 4h0m-8 2h0m3 2h0m-14 1h0m15 4h0m-5 10h0m-4 2h0m-3 6h0m14 1h0m-12 1h0m15 1h0m-15 2h0m4 0h0m13 2h0m-22 0h0m6 2h0m2 2h0m-4 6h0m1 3h0m-4 3h0m4 3h0m-5 2h0m20 7h0m-10 3h0m-4 4h0m5 4h0m-1 3h0m5 1h0m-11 1h0m-1 11h0m-1 7h0m0 2h0m18 0h0m-19 1h0m13 4h0m0 0h0m-13 1h0m13 26h0m-14 1h0m19 4h0m-4 1h0m-12 2h0m-2 7h0m16 7h0m-2 1h0m-4 1h0m-11 0h0m23 0h0m-17 0h0m-1 1h0m2 1h0m8 4h0m-15 4h0m12 4h0m-12 2h0m9 2h0m6 2h0m-15 1h0m17 3h0m-4 0h0m-13 2h0m4 1h0m7 5h0m4 2h0m3 0h0m-11 4h0m6 1h0m4 1h0m-2 2h0m7 3h0m0 6h0m-8 5h0m7 0h0m-8 3h0m-3 5h0m-6 6h0m9 1h0m-8 8h0m9 2h0m-7 1h0m15 2h0m-5 2h0m-3 2h0m0 2h0m-5 7h0m10 4h0m-5 0h0m-6 5h0m13 3h0m-11 2h0m2 3h0m1 1h0m9 6h0m-3 1h0m-8 2h0m-11 0h0m21 1h0m-15 5h0m0 2h0m-2 2h0m12 1h0m1 4h0m-1 2h0m-9 1h0m9 3h0m0 1h0m1 5h0m1 1h0m3 1h0m0 1h0m0 3h0m-7 1h0m-13 6h0m27-16h0m-4-1h0m12-1h0m-11-4h0m13-6h0m-11-5h0m1-2h0m-4 0h0m4-4h0m-3-6h0m1-2h0m12-2h0m-1-5h0m-10-10h0m-2-7h0m7 0h0m-3-1h0m6 0h0m-6-2h0m13-1h0m2-1h0m-7-8h0m-8-1h0m-2-6h0m7-2h0m4-2h0m-1-7h0m-4 0h0m-7-8h0m6-11h0m-2-8h0m-3-13h0m13-11h0m-14-1h0m18-23h0m-18-21h0m20-16h0m-10-3h0m4-9h0m-6-11h0m-7-5h0m1-14h0m11-1h0m-6-5h0m10-1h0m-10-4h0m-3 0h0m-5-2h0m16-13h0m-2-2h0m-5-3h0m4 0h0m-11-1h0m19 0h0m-3-3h0m-7-1h0m0-4h0m-8-2h0m-4-1h0m2-3h0m4-2h0m-5-2h0m4 0h0m17-2h0m-21-2h0m17-5h0m-16 0h0m1-2h0m-1-14h0m11-7h0m4-2h0m-8-11h0m0-4h0m4-1h0m0 0h0m7-3h0m-1-6h0m-3-1h0m0-7h0m4-2h0m5-15h0m6 8h0m-1 4h0m7 3h0m-1 2h0m-11 3h0m8 3h0m-5 3h0m5 0h0m-3 5h0m9 5h0m8 1h0m-8 3h0m4 0h0m-2 6h0m-11 2h0m13 2h0m-11 1h0m5 2h0m-1 1h0m-5 12h0m0 3h0m-7 2h0m7 1h0m-6 1h0m5 2h0m4 0h0m-6 9h0m-2 13h0m15 26h0m-7 6h0m-5 35h0m-5 15h0m21 3h0m-5 36h0m6 13h0m1 4h0m-20 22h0m13 6h0m4 40h0m-19 5h0m6 8h0m-7 1h0m46 72h0m-16-45h0m-6-106h0m3-7h0m14-3h0m0-8h0m5-4h0m-1-1h0m-18-11h0m9-22h0m4-14h0m-13-77h0m18-7h0m-1-9h0m-7-1h0m4-17h0m-15-2h0m12-22h0m-2-13h0m7-18h0m18 7h0m-5 8h0m9 40h0m-4 20h0m6 18h0m-14 96h0m1 20h0m10 2h0m-10 37h0m7 15h0m-13 99h0m7 36h0m8 29h0m14-14h0m15-61h0m-11-46h0m-3-162h0m6-23h0m-8-49h0m-1-55h0m34 61h0m1 112h0m6 10h0m2 98h0m-4 0h0m-3 7h0m8 12h0m-6 41h0m-7 22h0m-10 17h0m46 104h0m-6-59h0m-13-17h0m10-33h0m-9-41h0m7-9h0m-1-117h0m6-134h0m6-33h0m15-40h0m-3 96h0m6 14h0m-12 201h0m17 34h0m1 73h0m22 25h0m-8-11h0m-2-15h0m0-66h0m11-6h0m-10-33h0m0-75h0m-3-147h0m14-48h0m19 124h0m-15 225h0m4 3h0m0 13h0m-5 16h0m10 70h0m-4 1h0m35 115h0m-15-9h0m20-2h0m-13-1h0m4-13h0m-14-22h0m17-56h0m1-71h0m-3-128h0m-9-55h0m-4-62h0m3-122h0m34 83h0m1 25h0m1 29h0m-14 18h0m10 124h0m2 8h0m3 139h0m5 24h0m-21 22h0m15 3h0m3 9h0m-3 2h0m-13 6h0m-1 6h0m17 26h0m-1 0h0m-6 10h0m7 3h0m-12 12h0m7 4h0m-14 5h0m6 2h0m12 4h0m1 0h0m-8 1h0m4 1h0m-12 5h0m19 2h0m16 18h0m0-4h0m5-7h0m2-7h0m-12-9h0m1-5h0m4-21h0m-6-14h0m-9-10h0m10-9h0m11-5h0m0-4h0m-14-18h0m16-11h0m-12-8h0m-7-1h0m0-6h0m17-19h0m-2-4h0m-5-7h0m6-47h0m-18-39h0m21-1h0m-23 0h0m1-71h0m21-4h0m-8-24h0m6-113h0m-9-30h0m23-42h0m-1 30h0m9 10h0m-1 20h0m-17 65h0m14 17h0m-2 76h0m4 57h0m-7 14h0m6 39h0m7 10h0m-20 7h0m13 26h0m-2 2h0m-6 12h0m4 6h0m0 8h0m5 2h0m-14 26h0m-2 1h0m3 32h0m16 4h0m-8 9h0m0 4h0m-4 5h0m-2 2h0m-1 1h0m13 2h0m5 4h0m-19 8h0m3 15h0m5 11h0m-1 25h0m32-3h0m3-5h0m-20-10h0m0-13h0m19-13h0m-13-8h0m3-6h0m9-11h0m-11-7h0m11-13h0m-12-1h0m-4-6h0m2-24h0m-5-1h0m9-3h0m-3-4h0m17-6h0m-3-10h0m-13-1h0m13-2h0m-14-1h0m-6-3h0m6-1h0m11-49h0m-15-50h0m6-39h0m3-175h0m-2-20h0m5-12h0m3-8h0m6-10h0m-13-36h0m0-6h0m-7-5h0m12-21h0m16-25h0m-4 3h0m0 5h0m-1 38h0m10 12h0m-1 7h0m-10 28h0m12 23h0m-13 19h0m5 73h0m12 160h0m5 24h0m-6 24h0m-5 3h0m0 12h0m11 13h0m1 25h0m0 32h0m-14 5h0m13 3h0m1 14h0m-15 0h0m15 9h0m-17 8h0m11 3h0m0 2h0m2 9h0m-6 3h0m-13 2h0m0 1h0m10 6h0m3 6h0m2 14h0m-11 5h0m9 6h0m-13 4h0m14 9h0m-4 2h0m25 1h0m1-4h0m-2-31h0m-2-17h0m1-3h0m12-2h0m-1-3h0m2-17h0m-15-17h0m13-5h0m-15-1h0m11-2h0m-8-13h0m9-11h0m-3-5h0m-10-18h0m12-41h0m-10-88h0m-3-40h0m18-56h0m5-166h0m-1 19h0m22 11h0m0 7h0m-23 3h0m10 5h0m0 6h0m3 3h0m0 113h0m-2 7h0m-6 26h0m5 35h0m-5 179h0m1 2h0m14 2h0m-5 5h0m-9 6h0m0 42h0m11 15h0m0 10h0m-9 3h0m-8 9h0m9 2h0m-4 2h0m-3 0h0m4 10h0m34-14h0m4-6h0m-8 0h0m11-3h0m-11-448h0m3-3h0m-7-2h0m15-1h0m-22 0h0m14-4h0m-7-7h0m7-1h0m-9-1h0m6-2h0m9-2h0m-14 0h0m39 2h0m-9 2h0m7 0h0m-14 4h0m5 1h0m7 3h0m2 1h0m-1 0h0m-1 1h0m-9 6h0m1 2h0m-1 1h0m11 412h0m-6 25h0m2 3h0m9-444h0m19-3h0m-5-6h0m-3-1h0m-12-1h0m70 221h0m14-33h0m7 69h0m13-50h0m2-65h0m24 11h0m3 8h0"/>
<path stroke="#7cae00" d="M53 1126h0m-3 34h0m27-23h0m17-17h0m13 92h0m35 18h0m5-200h0m13 63h0m7 127h0m17-107h0m-7-38h0m38-110h0m-11 26h0m2 193h0m19 93h0m-8-21h0m0-36h0m0-79h0m43 64h0m-5 34h0m28-16h0m3-37h0m-13-40h0m14-56h0m17-159h0m-9 17h0m16 3h0m-2 2h0m-2 13h0m-7 96h0m-10 17h0m10 4h0m-2 26h0m13 2h0m-19 4h0m12 23h0m-3 30h0m-11 4h0m16 22h0m-17 23h0m-1 5h0m1 1h0m22 51h0m-5 5h0m1 1h0m0 1h0m-3 0h0m-1 9h0m4 6h0m26 36h0m1-1h0m-7-4h0m5-6h0m3-1h0m-21-2h0m13-17h0m-7-4h0m-2-2h0m5-4h0m-3-4h0m-8-1h0m16-5h0m7-9h0m-2-3h0m-2-1h0m-2-4h0m-14-23h0m15-13h0m-1-9h0m-3-8h0m-3-4h0m-11-12h0m18-9h0m-11-33h0m-1-6h0m10-9h0m-4-4h0m7-4h0m-2-31h0m-2-31h0m-9-9h0m0-5h0m6-15h0m2-75h0m7-31h0m-19-1h0m35 9h0m-1 2h0m-12 0h0m11 2h0m10 3h0m-21 20h0m21 0h0m1 66h0m-3 1h0m2 14h0m-1 2h0m-2 3h0m2 3h0m-3 6h0m2 0h0m1 4h0m-4 2h0m-1 3h0m2 0h0m3 2h0m2 2h0m-3 2h0m-1 1h0m1 6h0m2 2h0m-4 2h0m5 0h0m-6 3h0m-6 2h0m9 10h0m4 2h0m0 3h0m-2 7h0m0 1h0m-2 4h0m-5 0h0m6 3h0m-13 2h0m13 1h0m1 1h0m-2 0h0m-7 9h0m-4 1h0m-4 12h0m15 5h0m-3 5h0m3 17h0m-6 18h0m-7 31h0m13 1h0m-16 2h0m10 1h0m6 9h0m-12 3h0m15 28h0m-13 0h0m14 5h0m-19 6h0m0 9h0m13 5h0m1 7h0m-7 27h0m0 2h0m-7 1h0m7 7h0m15 3h0m2-6h0m14-2h0m4-9h0m-1-5h0m-5-5h0m-11-4h0m6-3h0m7-3h0m4-5h0m-4-4h0m2-9h0m-9-2h0m7 0h0m-2-4h0m-7 0h0m11-1h0m-17-5h0m12-1h0m0-7h0m-10-4h0m18-14h0m-1-1h0m1-2h0m-21-6h0m5-14h0m1-12h0m6-2h0m2-4h0m-7-1h0m4-19h0m8-3h0m-11-3h0m5-4h0m7-1h0m-9-4h0m4-1h0m-4-7h0m4-1h0m5-5h0m0 0h0m-7-2h0m-5 0h0m6-1h0m-12-1h0m17-1h0m-15-7h0m5-2h0m9-2h0m-13 0h0m-5 0h0m16-5h0m-15 0h0m5 0h0m7-3h0m0 0h0m-6-1h0m5-1h0m9 0h0m-1-2h0m-15-1h0m14-1h0m1-1h0m-3-2h0m-10-1h0m-4-3h0m-4-4h0m16-1h0m-14-5h0m2-2h0m-4-1h0m18 0h0m-8-1h0m-2-1h0m13-2h0m-7-3h0m5-3h0m1 0h0m-5 0h0m-5-1h0m-10 0h0m6-2h0m13-1h0m-20-1h0m21-1h0m-10-1h0m-8 0h0m20-1h0m-15-2h0m9-2h0m-5-2h0m11-6h0m-21-3h0m7-3h0m-5 0h0m-4 0h0m14-4h0m2 0h0m-14 0h0m7-7h0m-2-2h0m11-4h0m2 0h0m0-1h0m-8 0h0m8 0h0m0-2h0m2-2h0m-10-6h0m8 0h0m-13-2h0m-6-1h0m2 0h0m2-5h0m16 0h0m2 0h0m-23-3h0m20-1h0m-8-1h0m8-3h0m-1-2h0m-13-2h0m17-2h0m-22-2h0m10 0h0m3 0h0m8-2h0m-20-4h0m9 0h0m-8-6h0m-3-3h0m11-1h0m-4-2h0m6-2h0m5 0h0m-5-2h0m7-2h0m-4-1h0m-2-2h0m-1-2h0m-5-1h0m0-2h0m15-1h0m-6-1h0m3-1h0m-17-3h0m6 0h0m2-1h0m2-2h0m2-1h0m-12-2h0m17 0h0m-4-1h0m7-3h0m-4 0h0m-14-1h0m3-3h0m-6-1h0m7-2h0m13-1h0m-9-2h0m7-2h0m0-2h0m2-4h0m-13-3h0m10-6h0m-13-2h0m41-28h0m-16 6h0m12 6h0m-11 3h0m7 5h0m-6 1h0m-2 5h0m-7 2h0m6 1h0m13 5h0m2 2h0m-17 1h0m2 2h0m3 1h0m5 0h0m-3 1h0m-11 3h0m8 3h0m-2 0h0m-5 1h0m-1 0h0m22 1h0m-22 1h0m9 2h0m5 0h0m-3 4h0m0 3h0m-10 0h0m21 7h0m-21 1h0m13 0h0m-3 0h0m3 3h0m-3 1h0m11 1h0m-15 1h0m0 1h0m15 0h0m-5 4h0m6 0h0m-18 2h0m2 2h0m-1 0h0m13 0h0m-4 1h0m1 3h0m-16 3h0m9 0h0m6 1h0m-11 0h0m-2 1h0m16 1h0m3 1h0m-11 1h0m-7 1h0m12 1h0m7 0h0m-17 0h0m6 1h0m2 4h0m0 0h0m-5 1h0m-5 1h0m4 3h0m16 1h0m-17 1h0m12 2h0m3 1h0m-7 0h0m3 0h0m-14 1h0m9 1h0m3 1h0m2 2h0m-10 0h0m-4 0h0m8 1h0m-4 2h0m9 2h0m-10 0h0m1 2h0m15 1h0m-17 2h0m16 0h0m1 1h0m-18 1h0m19 2h0m-23 0h0m8 2h0m-3 3h0m5 0h0m-6 5h0m-3 2h0m16 2h0m-14 2h0m5 1h0m3 4h0m0 1h0m7 2h0m-9 0h0m-7 0h0m16 0h0m-6 1h0m11 0h0m-20 2h0m9 3h0m-9 1h0m6 0h0m0 0h0m12 1h0m-19 3h0m12 1h0m8 1h0m-5 0h0m2 1h0m-5 1h0m4 1h0m0 0h0m-14 2h0m12 7h0m-14 3h0m15 0h0m0 2h0m1 2h0m-17 1h0m20 0h0m-2 0h0m4 1h0m-4 2h0m-7 0h0m-7 2h0m-5 3h0m2 0h0m10 2h0m2 2h0m-10 1h0m-4 1h0m14 2h0m-5 3h0m-3 1h0m-3 6h0m5 0h0m2 2h0m8 2h0m-6 2h0m-5 1h0m5 2h0m6 1h0m1 0h0m-16 0h0m14 0h0m-13 3h0m1 0h0m-4 4h0m21 1h0m-11 2h0m7 2h0m-17 0h0m19 0h0m-17 1h0m2 2h0m18 1h0m-13 6h0m0 1h0m5 3h0m-9 1h0m7 2h0m-1 2h0m6 2h0m-3 1h0m1 1h0m-14 8h0m15 0h0m-3 1h0m2 1h0m-9 2h0m1 9h0m11 0h0m3 3h0m-22 0h0m7 1h0m-1 2h0m15 6h0m-6 4h0m8 2h0m-11 2h0m3 12h0m-1 2h0m-11 3h0m3 1h0m-2 1h0m-2 0h0m0 11h0m10 2h0m-9 1h0m4 2h0m1 1h0m2 5h0m1 3h0m8 3h0m-8 10h0m6 0h0m-9 4h0m-5 4h0m9 5h0m10 2h0m-17 2h0m5 0h0m-10 7h0m15 0h0m2 1h0m6 1h0m-13 2h0m0 0h0m13 3h0m-5 1h0m-7 5h0m-5 1h0m14 2h0m0 2h0m-20 2h0m22 5h0m-22 1h0m4 4h0m-3 1h0m1 0h0m12 1h0m-3 3h0m7 1h0m-9 3h0m-6 1h0m-1 2h0m5 3h0m4 0h0m3 4h0m3 0h0m-10 4h0m2 1h0m9 3h0m-9 5h0m10 3h0m-7 1h0m1 0h0m10 4h0m-1 2h0m-5 2h0m4 0h0m-3 3h0m-1 5h0m4 1h0m-3 2h0m-1 0h0m3 11h0m1 1h0m2 3h0m-3 8h0m20 28h0m-4-13h0m6 0h0m-1-1h0m0-4h0m4-1h0m1-1h0m-2-10h0m1-1h0m-2-4h0m-3-5h0m-5-2h0m1 0h0m2-3h0m1 0h0m-6-1h0m-1-2h0m1 0h0m8-9h0m6 0h0m-9-4h0m-2-4h0m1-3h0m-7-2h0m9-4h0m-4 0h0m6-1h0m-6-1h0m8-2h0m-10-2h0m7-3h0m-1-2h0m7-4h0m-12 0h0m-5-3h0m16 0h0m-14-2h0m9 0h0m0-2h0m-1-11h0m-7-2h0m-3-12h0m2-1h0m0-2h0m-6-1h0m7-1h0m7-1h0m-12-8h0m1-2h0m-2-1h0m2-9h0m4 0h0m14-2h0m-16 0h0m12-2h0m-2 0h0m4-6h0m-7-1h0m-9-3h0m13-9h0m-12-8h0m3 0h0m15 0h0m-9-2h0m-8-13h0m16-4h0m-20-7h0m13-11h0m-6-4h0m1-1h0m-9-27h0m13-8h0m-4-1h0m-1-3h0m14-1h0m-1-2h0m-13-8h0m9-2h0m5-7h0m-22-2h0m5-1h0m0-2h0m-4-1h0m0 0h0m4-1h0m12-4h0m-6-1h0m-4-1h0m5 0h0m0-1h0m-10-3h0m5 0h0m11-1h0m-19 0h0m4-2h0m8-1h0m-8-2h0m3-1h0m-1-5h0m3-1h0m-7 0h0m11 0h0m0-2h0m-5 0h0m-5-1h0m11 0h0m-3-2h0m3 0h0m-12-2h0m21-1h0m-22-2h0m5-1h0m4-1h0m11-1h0m-13-1h0m1-1h0m-3-1h0m16-1h0m-1-1h0m-1 0h0m-4-1h0m7-1h0m-18 0h0m3-1h0m1-1h0m3-1h0m7 0h0m-16-1h0m8 0h0m-5-1h0m13-2h0m-1-1h0m3 0h0m-15-1h0m-4-1h0m0-5h0m11 0h0m3-3h0m-1-1h0m-6-1h0m-1 0h0m0-3h0m5 0h0m-1-2h0m10-1h0m-20-1h0m14-1h0m-8 0h0m3-2h0m-10 0h0m1-1h0m7-2h0m4-1h0m-9 0h0m12-2h0m-14 0h0m1 0h0m-3-1h0m12 0h0m-10-2h0m8-2h0m-6-1h0m8 0h0m5-1h0m-9 0h0m13-1h0m-5 0h0m-13-6h0m1 0h0m-2-1h0m19-6h0m-10 0h0m-6-1h0m13-3h0m-9-3h0m7-3h0m-13 0h0m8 0h0m1 0h0m11-1h0m-7-1h0m-12-1h0m-3-1h0m2-1h0m0-1h0m0-2h0m19-1h0m-9-1h0m-10-2h0m0 0h0m0-1h0m7-1h0m1-1h0m6-1h0m-13-1h0m12 0h0m6-11h0m-22-2h0m10 0h0m-5-1h0m3-1h0m8 0h0m0-1h0m-16-1h0m5-1h0m13 0h0m-14-1h0m9-1h0m9-1h0m-5 0h0m-13-3h0m16 0h0m-11-1h0m1 0h0m10 0h0m-17 0h0m6-1h0m2-5h0m-11 0h0m2-3h0m6-1h0m-1-7h0m15 0h0m-16-2h0m3-1h0m-7-1h0m-2 0h0m10-2h0m-8-2h0m8 0h0m4-2h0m8-3h0m-1-1h0m-8 0h0m6-3h0m-10-5h0m4-1h0m-9-3h0m-3-1h0m8-3h0m-9-1h0m13-1h0m-4 0h0m-3-5h0m16-6h0m0-2h0m-20 0h0m12 0h0m3-9h0m-7-1h0m-6-1h0m20-9h0m0 3h0m4 3h0m12 4h0m-15 0h0m4 1h0m18 2h0m0 5h0m-8 8h0m-7 15h0m3 1h0m-7 2h0m3 2h0m-6 0h0m11 1h0m3 3h0m-15 0h0m18 2h0m-15 1h0m6 2h0m1 0h0m-2 7h0m1 2h0m1 1h0m3 3h0m-1 5h0m-6 1h0m15 1h0m-21 0h0m1 0h0m-1 6h0m0 1h0m13 2h0m-13 0h0m17 4h0m-13 4h0m12 4h0m-12 3h0m-2 1h0m14 7h0m-5 3h0m-2 0h0m3 8h0m-11 6h0m-1 1h0m6 2h0m-2 9h0m19 5h0m-7 2h0m-2 3h0m-9 3h0m-3 2h0m4 3h0m17 1h0m-9 15h0m-13 3h0m3 4h0m4 1h0m0 5h0m9 11h0m-15 0h0m14 5h0m7 4h0m-3 1h0m-11 3h0m8 2h0m0 3h0m-13 2h0m15 15h0m-12 1h0m15 1h0m-16 2h0m3 0h0m10 3h0m-15 1h0m11 7h0m-11 8h0m0 3h0m13 1h0m-2 1h0m-15 2h0m20 2h0m-11 3h0m-5 7h0m15 7h0m-1 6h0m-1 7h0m-16 27h0m5 38h0m-2 0h0m9 5h0m8 0h0m0 1h0m-11 4h0m-2 3h0m3 3h0m3 2h0m-4 3h0m-6 8h0m12 1h0m-6 3h0m9 5h0m3 2h0m-20 1h0m0 2h0m2 0h0m7 1h0m7 5h0m-5 9h0m-4 1h0m14 5h0m-4 3h0m-4 3h0m0 8h0m2 1h0m1 2h0m-11 2h0m6 0h0m-4 1h0m1 5h0m8 1h0m-18 0h0m18 0h0m-4 0h0m8 0h0m-5 3h0m-12 1h0m16 1h0m-12 1h0m13 1h0m-17 2h0m7 0h0m10 4h0m1 0h0m-14 0h0m-9 1h0m12 0h0m9 0h0m-16 1h0m14 0h0m2 0h0m-9 1h0m-2 6h0m8 0h0m-15 1h0m11 0h0m9 4h0m-5 1h0m-6 0h0m3 0h0m-8 1h0m-5 1h0m14 3h0m-16 2h0m12 1h0m-8 5h0m17 0h0m-4 0h0m-14 1h0m13 4h0m4 2h0m-15 1h0m4 2h0m-3 0h0m-2 2h0m-3 1h0m5 0h0m11 2h0m-3 0h0m6 2h0m-9 4h0m-3 4h0m-6 1h0m12 0h0m0 4h0m5 1h0m-13 0h0m9 1h0m6 6h0m-18 1h0m-1 0h0m19 0h0m-14 1h0m5 3h0m1 0h0m8 1h0m-6 1h0m7 6h0m17 1h0m6-4h0m-17 0h0m6-1h0m2-3h0m-10-1h0m17-3h0m0-1h0m-1-1h0m4-3h0m-8-1h0m-9 0h0m11-2h0m-14-3h0m14 0h0m-15 0h0m3-1h0m7-2h0m-5-2h0m4-2h0m2-2h0m-5 0h0m10-1h0m6-4h0m-1 0h0m-11 0h0m-3 0h0m8-2h0m-13-1h0m17 0h0m-3 0h0m-14-5h0m4-4h0m3-1h0m13-1h0m-22-1h0m9-1h0m-9-1h0m20-1h0m-5-1h0m3-1h0m-3-1h0m-15 0h0m10-6h0m-6-3h0m18 0h0m-1-1h0m-18-7h0m11 0h0m-7-3h0m14-2h0m-13 0h0m12-4h0m-7-1h0m9 0h0m-11-3h0m7-1h0m-12-1h0m-4 0h0m17-1h0m1-1h0m2 0h0m-8-1h0m-10-1h0m-3-1h0m19-5h0m-13 0h0m0-2h0m3-1h0m4-5h0m-9 0h0m2-2h0m9-2h0m-17-1h0m22 0h0m-17-2h0m-3-3h0m-2-5h0m17-1h0m2-6h0m-1-2h0m2-4h0m-16-2h0m-2-7h0m14-3h0m7-8h0m-18-12h0m-3-2h0m17 0h0m1-4h0m1-8h0m-12-19h0m8-38h0m-15-1h0m-2-6h0m8-3h0m-6-1h0m-1-2h0m4-12h0m-3 0h0m18-4h0m-1-19h0m2-10h0m-2-10h0m-7-1h0m-2-5h0m0 0h0m11-2h0m-1-5h0m-6-2h0m7-1h0m-14-4h0m7-2h0m-11-1h0m13 0h0m4-5h0m-1-3h0m4 0h0m-13-1h0m-4-1h0m16-4h0m-11-3h0m-2-2h0m14-2h0m-17-11h0m8-4h0m-5-3h0m-9-2h0m2 0h0m4-6h0m6-11h0m-8-1h0m-4-21h0m18-1h0m-15-2h0m11-3h0m6-1h0m-11-6h0m8-1h0m-7-1h0m-7-1h0m-3-2h0m9 0h0m6-7h0m-4-2h0m2-3h0m4 0h0m-1 0h0m-15-5h0m5-1h0m15-27h0m1-2h0m-20-6h0m20-4h0m-3-4h0m0-1h0m3-2h0m-14-5h0m-5-6h0m11-10h0m-10-1h0m17-4h0m-20-5h0m2-2h0m20-1h0m3-1h0m5 6h0m5 11h0m-6 1h0m13 1h0m-2 0h0m-14 4h0m18 4h0m-8 6h0m-12 8h0m14 1h0m2 6h0m-14 15h0m9 0h0m5 9h0m-14 3h0m15 1h0m-12 8h0m-5 3h0m1 0h0m16 14h0m-12 1h0m11 0h0m-10 10h0m2 1h0m0 4h0m-7 2h0m18 0h0m-15 2h0m13 0h0m-7 1h0m-7 2h0m4 4h0m15 1h0m-7 8h0m7 1h0m-10 19h0m-12 4h0m13 1h0m2 0h0m4 15h0m-20 1h0m0 1h0m15 3h0m-6 4h0m0 1h0m2 1h0m-3 4h0m-2 0h0m13 2h0m-1 12h0m5 1h0m-3 1h0m-11 4h0m-8 2h0m11 5h0m-6 3h0m16 4h0m-6 4h0m-3 4h0m3 11h0m5 15h0m-19 5h0m21 28h0m-20 2h0m13 2h0m-13 21h0m19 1h0m-12 8h0m9 1h0m-9 17h0m-2 7h0m8 3h0m-9 5h0m-4 0h0m0 4h0m-3 6h0m0 1h0m1 5h0m6 7h0m16 2h0m-3 0h0m-15 7h0m0 1h0m5 4h0m0 2h0m-3 2h0m5 3h0m1 0h0m6 1h0m-3 0h0m-14 0h0m7 9h0m-6 1h0m5 1h0m-4 0h0m8 2h0m10 9h0m-19 1h0m15 1h0m-2 2h0m-13 0h0m17 1h0m-19 5h0m16 3h0m-1 1h0m-8 3h0m-6 5h0m14 1h0m-11 1h0m-2 0h0m12 1h0m-4 0h0m-5 2h0m1 0h0m0 2h0m2 1h0m11 4h0m-13 1h0m11 1h0m5 2h0m-19 1h0m16 0h0m-9 1h0m0 4h0m12 1h0m-11 2h0m4 1h0m-5 0h0m-2 0h0m12 3h0m-11 0h0m4 2h0m-8 5h0m-5 3h0m22 3h0m-19 1h0m17 1h0m-11 1h0m13 1h0m-8 3h0m-1 1h0m-7 0h0m-6 4h0m20 3h0m1 2h0m-7 2h0m1 1h0m1 7h0m-10 5h0m16 82h0m-3 5h0m12-9h0m14-41h0m-3-32h0m-18-5h0m13-9h0m-5-3h0m13-4h0m-15-1h0m7-1h0m-11-4h0m8-1h0m4-13h0m1-1h0m-7 0h0m11-1h0m-3-4h0m-10-1h0m-5 0h0m-1-3h0m14 0h0m-4-1h0m4-1h0m4-1h0m1-1h0m-11-5h0m-4-2h0m16 0h0m-16-1h0m14-2h0m-19 0h0m10-2h0m11 0h0m0-1h0m-19-3h0m12-4h0m-10 0h0m12-2h0m-11-1h0m5-1h0m-9 0h0m0-2h0m18 0h0m-14-1h0m15-3h0m-9-7h0m5-1h0m-4-1h0m5 0h0m-7-5h0m12-5h0m-2-3h0m-5 0h0m0-5h0m-13-1h0m15-3h0m-4-11h0m3-3h0m0-1h0m-6-2h0m6-3h0m-5-2h0m-9-7h0m-1-5h0m6-1h0m-7-1h0m5-4h0m13-4h0m-16-8h0m5 0h0m10-4h0m-11-6h0m6-11h0m8-13h0m-13-1h0m-2-3h0m6-29h0m4-3h0m-13-28h0m12-10h0m-13-32h0m9 0h0m-3-1h0m16-2h0m0-1h0m-14-3h0m0-2h0m-6-1h0m16-1h0m4-7h0m-3 0h0m-19-3h0m0-7h0m2-9h0m7-4h0m11-2h0m-21-3h0m21-1h0m-9-5h0m5-8h0m-13-2h0m3 0h0m9-1h0m6-8h0m-16-1h0m1 0h0m-1-1h0m15-1h0m-14-3h0m-2-12h0m11-5h0m-12-1h0m7-1h0m-7-2h0m15-7h0m-10-6h0m-1-2h0m-6-3h0m15-1h0m-10-1h0m-2-5h0m-1-1h0m-2-4h0m12-5h0m4-10h0m-15-8h0m-2-1h0m14-9h0m-1 0h0m8-5h0m-11 0h0m6 0h0m-10-5h0m1-2h0m11-1h0m1-3h0m-15-11h0m8-1h0m-9-5h0m26 30h0m-6 8h0m6 1h0m-2 16h0m8 6h0m-9 1h0m-2 0h0m9 4h0m-7 8h0m6 2h0m-5 7h0m-1 5h0m15 7h0m1 7h0m0 2h0m-14 1h0m9 2h0m-5 1h0m-6 5h0m19 3h0m1 1h0m-17 4h0m8 10h0m-14 7h0m15 0h0m-3 9h0m-10 8h0m4 8h0m-4 1h0m14 0h0m-8 3h0m5 0h0m-1 4h0m0 1h0m5 0h0m-9 3h0m-7 0h0m2 3h0m16 20h0m-9 5h0m11 17h0m-1 16h0m0 8h0m-14 11h0m-1 0h0m16 5h0m-8 16h0m-8 10h0m5 4h0m-5 23h0m-3 23h0m7 3h0m-8 9h0m9 6h0m-9 2h0m20 4h0m-9 5h0m-10 4h0m17 0h0m3 1h0m-22 2h0m20 5h0m0 5h0m-12 0h0m13 1h0m-18 5h0m-3 6h0m1 2h0m-1 3h0m10 3h0m-7 0h0m4 2h0m16 0h0m-12 2h0m4 8h0m2 2h0m0 4h0m0 3h0m-9 6h0m7 1h0m-2 5h0m3 4h0m-7 3h0m4 0h0m-4 10h0m-7 2h0m18 9h0m-15 2h0m-2 8h0m-3 52h0m14 28h0m-8 1h0m-1 4h0m-3 2h0m3 4h0m-3 2h0m2 15h0m4 7h0m-6 13h0m20 18h0m-1 6h0m25 28h0m-22-14h0m5-2h0m-1-40h0m19 0h0m-9 0h0m-13-1h0m7-5h0m12-33h0m-12-17h0m14-9h0m-12-2h0m4-29h0m7-6h0m2-10h0m-12-6h0m-5-16h0m-5-15h0m21-17h0m-1-10h0m-20-1h0m5-7h0m8-1h0m4-1h0m0 0h0m-15-4h0m20-2h0m-1-2h0m-22 0h0m9-4h0m9-2h0m-9 0h0m-1-8h0m6-1h0m-9-8h0m6-1h0m9-3h0m3-1h0m-15-1h0m2-2h0m0-2h0m4-4h0m-7-8h0m8 0h0m-3-1h0m6-8h0m-12-21h0m4-10h0m-6-2h0m6 0h0m7-10h0m-8-24h0m-6-10h0m4-6h0m15-3h0m-11-15h0m7-16h0m-4-39h0m4-15h0m-2-23h0m-1-61h0m27-42h0m-10 18h0m0 15h0m15 3h0m-8 41h0m2 9h0m-4 6h0m-6 5h0m13 1h0m-4 21h0m-16 2h0m4 8h0m12 16h0m4 19h0m-10 0h0m-9 20h0m5 11h0m-6 1h0m22 8h0m-11 17h0m-6 13h0m-4 11h0m15 20h0m-12 5h0m8 11h0m-12 15h0m8 1h0m5 8h0m1 1h0m-3 1h0m-1 1h0m1 1h0m12 4h0m-2 0h0m-10 3h0m-4 2h0m10 1h0m-6 0h0m3 4h0m2 5h0m0 4h0m-16 1h0m1 2h0m5 7h0m9 2h0m3 0h0m4 3h0m-3 0h0m-13 10h0m4 3h0m-7 2h0m10 2h0m-2 16h0m2 60h0m5 16h0m-15 14h0m6 2h0m14 19h0m-1 14h0m-4 9h0m-4 3h0m3 2h0m-9 8h0m14 16h0m-18 25h0m17 21h0m-5 15h0m23-12h0m-7-7h0m2-13h0m7-43h0m-7-1h0m-9-2h0m6-20h0m16-18h0m-15-9h0m-5-9h0m14-44h0m-11-10h0m-2-60h0m11-6h0m-14-9h0m9-1h0m-9-3h0m4 0h0m0-4h0m-1-3h0m7-4h0m-9-2h0m10-1h0m-9-1h0m10-1h0m-8-10h0m3-1h0m3-2h0m3-6h0m-6-2h0m2-1h0m0-4h0m-6-34h0m4-86h0m11-10h0m0-12h0m-6-9h0m-2-3h0m12-5h0m-5-12h0m-14-19h0m-4-14h0m15-2h0m2-3h0m-16-14h0m6-13h0m2-1h0m14-1h0m-18-18h0m4-6h0m4-3h0m-6-2h0m12-13h0m-1-3h0m-3-27h0m12 14h0m7 6h0m-9 2h0m5 25h0m11 6h0m-2 2h0m4 6h0m-10 5h0m-7 5h0m21 1h0m-13 19h0m4 30h0m-7 1h0m16 3h0m-8 7h0m0 1h0m-13 9h0m21 16h0m0 47h0m-21 6h0m19 7h0m-10 5h0m6 2h0m-12 1h0m16 3h0m-5 4h0m-11 4h0m10 5h0m4 2h0m-2 2h0m-3 0h0m-8 1h0m16 5h0m1 3h0m-14 3h0m11 1h0m-3 0h0m-5 4h0m5 12h0m5 8h0m-1 43h0m-8 4h0m-8 2h0m6 4h0m-9 7h0m13 0h0m2 15h0m-16 6h0m15 45h0m-2 2h0m-1 13h0m10 4h0m-23 22h0m4 14h0m17 16h0m-13 1h0m2 3h0m11 1h0m-7 13h0m2 21h0m-3 10h0m-5 27h0m6 0h0m-3 7h0m1 8h0m8 9h0m1 1h0m-10 1h0m-11 6h0m22 8h0m1 10h0m-1 14h0m-14 1h0m38-13h0m-15-13h0m14-17h0m-13-3h0m9-19h0m-6-8h0m-1-5h0m-3-1h0m16-10h0m-2-11h0m-12-8h0m2-9h0m5-4h0m-10-116h0m-6-2h0m21-35h0m-11-7h0m2 0h0m2-2h0m7-7h0m-13-1h0m13-7h0m-13 0h0m3 0h0m12 0h0m-12-2h0m0-1h0m-10-3h0m2 0h0m7-3h0m-4-4h0m14-3h0m-16-1h0m0-2h0m12-1h0m5-6h0m2-1h0m-12-1h0m12-6h0m-6-18h0m-9 0h0m11-1h0m-9-3h0m3-2h0m5-1h0m-11-2h0m-2-1h0m3-1h0m15-1h0m-4 0h0m-19-22h0m13 0h0m-12-2h0m-1-1h0m2-1h0m-1-1h0m18-5h0m-9-2h0m13-1h0m-20-2h0m-3-8h0m12-7h0m1 0h0m-11-123h0m4-2h0m-4 0h0m28 52h0m3 90h0m-9 9h0m8 4h0m-3 1h0m2 0h0m8 2h0m-9 0h0m12 1h0m-1 1h0m5 1h0m-19 1h0m12 2h0m4 0h0m-12 1h0m14 1h0m-3 0h0m4 2h0m-8 1h0m-5 2h0m9 0h0m-2 0h0m5 2h0m-8 3h0m-6 1h0m9 1h0m3 0h0m-4 0h0m-8 0h0m-4 1h0m1 1h0m6 1h0m-3 0h0m4 0h0m7 0h0m-4 1h0m-6 0h0m4 0h0m-1 0h0m5 6h0m2 0h0m-17 7h0m5 2h0m0 4h0m6 1h0m-2 0h0m-9 7h0m7 2h0m-1 8h0m3 7h0m-7 4h0m1 9h0m5 2h0m2 4h0m-2 4h0m-4 12h0m6 136h0m-6 13h0m10 16h0m-9 9h0m0 4h0m2 2h0m6 27h0m4 9h0m-13 4h0m0 3h0m17 4h0m-19 8h0m17 0h0m4-250h0m0-63h0m3-3h0m-3-12h0m107-22h0m67 57h0m-2 58h0"/>
<path stroke="#f8766d" d="M61 1185h0m7 4h0m-7 14h0m31 20h0m2-14h0m-3-25h0m1-43h0m-12-6h0m-8-11h0m16-10h0m20-19h0m-12 60h0m21 4h0m-6 1h0m-6 40h0m12 14h0m4 28h0m18-20h0m-19-4h0m16-14h0m-9-30h0m-7-21h0m4-2h0m-4-11h0m11-41h0m2-39h0m-7-2h0m3-7h0m9-29h0m-14-1h0m18-18h0m14-6h0m-6 10h0m-4 26h0m-2 16h0m19 4h0m-13 13h0m8 13h0m-10 19h0m-4 9h0m11 9h0m2 10h0m2 14h0m2 31h0m2 52h0m-7 6h0m29 15h0m-15-30h0m-1-13h0m3-30h0m-2-60h0m6-4h0m6-1h0m-8-24h0m7-12h0m3-18h0m1-20h0m-1-1h0m6-56h0m-11-10h0m8-10h0m13 59h0m-2 18h0m9 15h0m-9 18h0m2 9h0m5 42h0m5 6h0m4 7h0m-17 1h0m7 56h0m7 70h0m19 52h0m-11-42h0m-3-8h0m4-54h0m19-48h0m-5-156h0m-2-27h0m20-32h0m4 14h0m6 9h0m-11 17h0m7 0h0m-16 13h0m-1 61h0m8 23h0m-8 28h0m14 16h0m3 83h0m-12 12h0m-1 42h0m16 22h0m-18 26h0m27-110h0m0-6h0m7-109h0m-5-49h0m-5-33h0m11-58h0m28-7h0m-3 101h0m-4 35h0m0 134h0m-2 6h0m-2 6h0m0 4h0m14 8h0m-3 24h0m-14 7h0m10 9h0m3 37h0m0 11h0m1 2h0m6 2h0m20-7h0m-6-4h0m-1-17h0m7-2h0m-10-42h0m-1-1h0m-1-5h0m9 0h0m-14-12h0m5-4h0m-3-10h0m8 0h0m6-8h0m-3-11h0m5-1h0m-14-3h0m7-11h0m-9-38h0m-5-82h0m13-4h0m-1-62h0m17-77h0m11 87h0m7 1h0m-14 75h0m8 36h0m-10 9h0m11 23h0m5 13h0m-23 8h0m0 17h0m23 8h0m-7 5h0m3 1h0m-4 1h0m-14 5h0m7 8h0m14 4h0m-17 0h0m14 1h0m-18 20h0m19 20h0m-15 4h0m12 30h0m1 18h0m4 6h0m24 10h0m0-15h0m-11-3h0m1-6h0m10-30h0m-21-5h0m12-6h0m6-8h0m-10-19h0m-4-9h0m7-7h0m11 0h0m-5-17h0m5-2h0m-7-8h0m7-7h0m-8-18h0m6-4h0m-17-1h0m15-11h0m-13-2h0m2-9h0m8 0h0m-7-10h0m-3-28h0m-4-14h0m19-25h0m-4-33h0m24-86h0m1 7h0m-16 8h0m17 44h0m-3 81h0m-4 16h0m-4 0h0m3 21h0m0 3h0m5 2h0m-5 2h0m-9 40h0m21 2h0m-6 11h0m-9 3h0m-5 1h0m11 7h0m-3 2h0m10 3h0m-7 1h0m-13 1h0m6 2h0m10 2h0m-15 1h0m11 1h0m-3 3h0m-1 1h0m10 3h0m1 0h0m-15 1h0m2 1h0m-5 1h0m0 1h0m14 7h0m-6 2h0m9 0h0m3 0h0m-4 2h0m5 5h0m-5 2h0m0 18h0m5 1h0m-22 1h0m-1 1h0m3 5h0m20 5h0m-4 4h0m-12 10h0m7 8h0m-6 9h0m8 1h0m-12 21h0m5 1h0m3 0h0m-11 7h0m12 7h0m8 16h0m-10 2h0m-2 1h0m-7 6h0m10 5h0m-4 6h0m0 4h0m8 1h0m2 8h0m3 1h0m2 29h0m17 11h0m-1-1h0m4-3h0m-11-1h0m9-6h0m-13-9h0m16-5h0m-2-10h0m-6-1h0m-2-10h0m13-4h0m-5-2h0m-9-4h0m11-5h0m3-4h0m-19-2h0m-1-11h0m10-5h0m-8-2h0m-3-16h0m9-7h0m-6-2h0m9-15h0m6 0h0m3-8h0m-15-12h0m15-17h0m-12-1h0m-10-18h0m11-1h0m-2-1h0m2-4h0m10-3h0m-12-1h0m-7-1h0m18-1h0m-19-1h0m18 0h0m-17-1h0m15-1h0m-10-1h0m12 0h0m-4-1h0m0-2h0m-3 0h0m-1-4h0m0-1h0m-5 0h0m4-3h0m11 0h0m-20-2h0m15 0h0m2-1h0m-11 0h0m-6-1h0m13-1h0m-9-1h0m-2-1h0m6-4h0m-6-1h0m-1-1h0m18-1h0m-8-4h0m-3 0h0m11 0h0m1-2h0m-18-2h0m0 0h0m-4 0h0m10-1h0m6 0h0m-5-4h0m-1 0h0m-2 0h0m4-1h0m6-1h0m-14-1h0m19 0h0m-15-1h0m-1-2h0m15-1h0m-15-1h0m11-4h0m-5-1h0m-11 0h0m1-2h0m9-141h0m-10-5h0m2-19h0m17-9h0m0-4h0m-14-16h0m31-1h0m4 2h0m-11 32h0m15 10h0m-14 47h0m-6 31h0m5 37h0m7 2h0m-2 34h0m-10 0h0m3 1h0m11 1h0m7 3h0m-15 2h0m13 2h0m-1 3h0m-11 0h0m10 2h0m0 1h0m4 1h0m-8 1h0m-7 2h0m12 3h0m-15 3h0m2 1h0m-3 1h0m12 0h0m-12 1h0m11 3h0m-8 0h0m11 2h0m-14 1h0m16 3h0m-2 2h0m4 3h0m-7 0h0m-5 0h0m-8 1h0m14 3h0m6 2h0m-7 1h0m7 2h0m-7 2h0m5 1h0m-4 3h0m-11 9h0m15 14h0m-12 0h0m0 0h0m1 30h0m5 5h0m-14 15h0m23 21h0m-23 12h0m13 3h0m0 3h0m-5 0h0m15 4h0m-3 2h0m-3 0h0m-11 6h0m8 1h0m-9 0h0m11 7h0m-7 4h0m7 2h0m-13 0h0m9 9h0m-2 10h0m-9 4h0m2 0h0m4 10h0m-1 14h0m11 0h0m2 6h0m-16 11h0m11 6h0m7 9h0m18 2h0m-6-6h0m11-4h0m-10-7h0m2-16h0m-10-3h0m0-19h0m14-3h0m-15-4h0m11-5h0m5-1h0m-16-5h0m12-9h0m-7-13h0m2 0h0m3-4h0m2-4h0m3-2h0m-14-8h0m6-2h0m1-11h0m-4-3h0m10-12h0m8-24h0m-18-12h0m18-1h0m-10-4h0m1-4h0m-5-3h0m4-4h0m-4-7h0m13-1h0m-7-8h0m-4-10h0m4-5h0m0-8h0m-15-3h0m15-2h0m-10 0h0m-4-3h0m9-3h0m-3 0h0m-4-2h0m17-10h0m1 0h0m-15-5h0m16-3h0m-22-7h0m8-2h0m10-4h0m-18-2h0m3-2h0m9-4h0m11-7h0m-15-100h0m2-41h0m5-9h0m-4-55h0m22-25h0m14 4h0m-17 1h0m1 43h0m-3 45h0m3 15h0m2 15h0m6 31h0m-7 60h0m2 2h0m4 3h0m5 4h0m3 4h0m-6 0h0m5 1h0m1 5h0m-21 5h0m21 5h0m-3 0h0m-16 1h0m5 0h0m-1 0h0m-7 4h0m5 0h0m-4 0h0m4 0h0m7 1h0m3 3h0m0 2h0m-12 10h0m3 2h0m13 2h0m-4 10h0m-14 8h0m22 5h0m-18 7h0m9 3h0m6 6h0m1 17h0m-14 5h0m10 3h0m-13 2h0m13 5h0m-12 1h0m5 2h0m12 0h0m-6 1h0m7 7h0m-3 3h0m-6 0h0m9 8h0m-19 5h0m7 5h0m8 1h0m-2 20h0m-14 4h0m16 4h0m-9 12h0m7 5h0m-15 20h0m11 8h0m-9 1h0m12 11h0m-12 9h0m15 8h0m-3 3h0m-1 2h0m-6 9h0m-2 12h0m16 2h0m-10 0h0m1 12h0m4 75h0m5 23h0m19 17h0m-1-5h0m-4-2h0m9-1h0m-5-3h0m-1-1h0m4 0h0m-1-3h0m-7-6h0m8-11h0m-16 0h0m8-8h0m8 0h0m-10 0h0m0-3h0m-10-4h0m7 0h0m15-9h0m-15-4h0m-1-5h0m11-15h0m6-12h0m-7-3h0m-8-5h0m-6-24h0m4-19h0m15-1h0m-16-2h0m11-4h0m-2-5h0m-10-1h0m1-2h0m9-3h0m9-5h0m-14 0h0m1-14h0m-9-1h0m2-8h0m5-9h0m4-6h0m11-3h0m-13-6h0m0-5h0m4-1h0m8-14h0m-6-2h0m6-16h0m-9-4h0m-3 0h0m-9-4h0m12 0h0m8-6h0m-3 0h0m5-6h0m-8-1h0m-15 0h0m13-9h0m2 0h0m4-2h0m-16-1h0m11-2h0m-6-3h0m1-2h0m-1-5h0m10-2h0m-14-9h0m8-2h0m-8-1h0m9-13h0m-7-2h0m16-7h0m-7-6h0m-13-1h0m15-1h0m2 0h0m-6 0h0m8-15h0m-7-6h0m-13-5h0m19-1h0m3-2h0m-8-1h0m1-2h0m-4-7h0m10-10h0m-10-6h0m-4-8h0m-6-2h0m0-1h0m-2-5h0m21 0h0m-10-4h0m12-20h0m-6-97h0m-17-1h0m10-53h0m26 68h0m7 37h0m-4 8h0m-14 33h0m8 1h0m-9 0h0m18 14h0m-18 8h0m4 4h0m5 2h0m-6 0h0m-1 10h0m10 1h0m-9 15h0m4 2h0m16 5h0m-18 5h0m-3 4h0m3 5h0m14 2h0m-9 0h0m1 2h0m-1 3h0m1 8h0m-6 4h0m15 2h0m-8 3h0m6 0h0m-16 2h0m16 1h0m-9 9h0m-4 0h0m11 2h0m-3 1h0m6 2h0m0 4h0m-16 3h0m18 1h0m-4 4h0m-3 1h0m7 9h0m2 5h0m-18 2h0m4 7h0m-8 18h0m9 1h0m9 13h0m-11 6h0m-8 17h0m23 2h0m-8 2h0m-9 2h0m16 17h0m-10 5h0m2 2h0m0 12h0m-3 4h0m-11 9h0m8 13h0m4 6h0m9 4h0m-20 9h0m4 22h0m12 32h0m-11 6h0m7 12h0m5 4h0m-1 2h0m-14 10h0m8 11h0m10 1h0m2 5h0m-8 4h0m-4 9h0m2 11h0m-7 1h0m4 2h0m6 0h0m-11 0h0m11 4h0m-1 3h0m4 0h0m-11 1h0m7 0h0m3 0h0m-9 1h0m5 4h0m-4 1h0m-10 3h0m1 5h0m15 6h0m2 5h0m-8 3h0m-4 0h0m36 22h0m1-12h0m-5-1h0m1-4h0m-2-7h0m-12-2h0m8-7h0m-4-7h0m9-2h0m-4-2h0m-10-6h0m12-2h0m-4-1h0m-3-1h0m-2-7h0m20-4h0m-20-5h0m6-7h0m5-3h0m-14-5h0m5-4h0m8 0h0m3 0h0m-2-9h0m1-2h0m-13-2h0m16-9h0m-7-3h0m-2-4h0m-9-2h0m0-4h0m13-4h0m-2-5h0m0-7h0m-7-5h0m15-28h0m-8 0h0m-2-15h0m10-19h0m-13-26h0m6-3h0m6-15h0m-17-6h0m11-14h0m3-11h0m-15-11h0m7-7h0m1 0h0m-1-8h0m-4-7h0m11-9h0m7-12h0m-9-6h0m-5-2h0m5-10h0m4-6h0m-12-4h0m0-9h0m-4-7h0m12-3h0m11-21h0m-17-2h0m3-5h0m-8-5h0m2-3h0m20-7h0m-7-1h0m-16-4h0m12-3h0m-5-7h0m-1-1h0m8-1h0m-7-4h0m-5-1h0m5-12h0m0-1h0m-5-2h0m11-4h0m10-4h0m-16-3h0m9-2h0m-8-1h0m11-4h0m-19-5h0m1-4h0m15 0h0m-15-9h0m13-10h0m7-7h0m-15-1h0m13-5h0m-8-4h0m7-8h0m4-6h0m-9-13h0m6-1h0m28-52h0m-15 9h0m14 1h0m-5 1h0m-6 3h0m11 8h0m-15 2h0m14 0h0m0 0h0m-6 4h0m-2 1h0m-8 1h0m14 0h0m1 1h0m-3 0h0m4 3h0m-14 2h0m6 3h0m-6 1h0m9 0h0m4 5h0m-13 2h0m16 1h0m-8 3h0m-8 3h0m0 0h0m10 1h0m-6 9h0m4 3h0m-4 0h0m-3 3h0m-4 0h0m-2 1h0m18 1h0m-10 1h0m1 3h0m-3 12h0m-4 6h0m11 2h0m5 3h0m-9 3h0m-6 4h0m-4 3h0m22 4h0m-19 3h0m8 0h0m-12 4h0m5 4h0m7 1h0m-6 0h0m-2 0h0m0 1h0m16 2h0m-13 0h0m5 1h0m8 3h0m-14 2h0m15 1h0m-1 2h0m-8 4h0m-6 0h0m10 9h0m-2 5h0m7 2h0m2 3h0m-20 10h0m13 2h0m-8 2h0m-4 2h0m19 4h0m-10 2h0m-4 3h0m13 0h0m-21 2h0m18 1h0m-16 0h0m20 0h0m-20 4h0m15 7h0m-17 1h0m7 8h0m8 3h0m-10 17h0m3 3h0m9 1h0m-1 2h0m0 7h0m-7 1h0m10 20h0m-16 2h0m8 9h0m-3 19h0m-8 5h0m8 6h0m-9 13h0m5 5h0m-2 13h0m8 6h0m-11 2h0m14 17h0m3 22h0m-15 0h0m11 34h0m9 7h0m-20 0h0m-1 7h0m13 1h0m-11 3h0m20 16h0m-9 1h0m0 20h0m7 0h0m2 1h0m-7 9h0m0 11h0m2 5h0m4 2h0m-20 0h0m2 4h0m2 1h0m-4 1h0m0 9h0m7 22h0m11 1h0m1 1h0m-4 2h0m2 0h0m-10 3h0m13 4h0m-7 0h0m3 3h0m-5 0h0m-10 3h0m-3 1h0m4 2h0m19 5h0m-12 3h0m-1 2h0m-5 1h0m-1 1h0m13 1h0m-10 1h0m8 2h0m0 1h0m-3 1h0m2 0h0m7 0h0m-12 4h0m-1 5h0m0 0h0m10 1h0m-18 1h0m19 0h0m-8 9h0m3 1h0m8 2h0m-10 5h0m10 4h0m0 2h0m-9 12h0m11-8h0m21-5h0m-20 0h0m16-4h0m-10-2h0m-2 0h0m18-3h0m-7-1h0m-16 0h0m0-4h0m17-3h0m2-5h0m-18-1h0m18 0h0m-14-7h0m11-2h0m-5 0h0m-3-3h0m-3-1h0m-2 0h0m9-5h0m-8-1h0m6 0h0m-2-1h0m5-1h0m-6-4h0m12-1h0m0-3h0m-7-8h0m-6-1h0m-5 0h0m12-2h0m0-1h0m-13-2h0m10-1h0m2-2h0m-11 0h0m7-8h0m4-1h0m2-1h0m-12-10h0m19-6h0m-19 0h0m1-5h0m19-17h0m-4-10h0m-12-5h0m15-9h0m-20-8h0m19-12h0m-4-7h0m-5-1h0m-5-4h0m1-2h0m16-5h0m-23-1h0m22-12h0m-4-10h0m-16-28h0m-2-10h0m2-10h0m18-20h0m-5-3h0m-3-6h0m3-1h0m3-13h0m-16-8h0m11-6h0m-9-28h0m-1-11h0m3-10h0m-3-5h0m18-1h0m-11 0h0m-2-2h0m-8 0h0m13-5h0m1-4h0m-11-3h0m8-3h0m-7-1h0m19-12h0m-17-2h0m7 0h0m7-12h0m-17-1h0m5-2h0m15-11h0m-12-3h0m-7-4h0m11 0h0m-14-8h0m4-4h0m-4 0h0m11-1h0m1-8h0m-4-13h0m-2-12h0m5 0h0m-10-4h0m15-2h0m1-4h0m-18-2h0m17-1h0m4-2h0m-13-2h0m12-1h0m-11 0h0m0-1h0m11-1h0m-17-1h0m15-2h0m5-7h0m-13-1h0m5-1h0m-2-1h0m-4-3h0m7-1h0m-11 0h0m18-1h0m-15-3h0m4-1h0m-8-4h0m1-3h0m11 0h0m1-9h0m6-1h0m-18-1h0m-4-6h0m7 0h0m-8 0h0m22-1h0m-12-2h0m-3 0h0m-5-2h0m5-2h0m-2-1h0m14 0h0m-12 0h0m5 0h0m-2-1h0m10-3h0m-18-1h0m17 0h0m4-2h0m-14-3h0m-1 0h0m-2-1h0m12-4h0m-15 0h0m16-2h0m-15-1h0m13-1h0m-11-3h0m-1-1h0m8-1h0m9-2h0m-17-1h0m6-2h0m0-1h0m6-1h0m-5-3h0m-4-1h0m15-9h0m0-7h0m-4-5h0m-18-11h0m15-4h0m-10-1h0m19-2h0m1 10h0m1 2h0m-2 5h0m1 5h0m11 1h0m1 4h0m-10 2h0m0 1h0m14 2h0m-16 5h0m2 4h0m-1 1h0m20 0h0m-2 2h0m-15 3h0m5 0h0m-3 0h0m-7 1h0m22 1h0m-13 2h0m-3 1h0m-2 1h0m15 0h0m-1 0h0m-5 12h0m2 2h0m-14 3h0m18 0h0m-12 1h0m5 0h0m6 1h0m-5 1h0m4 4h0m-16 1h0m2 7h0m-2 0h0m-2 3h0m16 5h0m-12 4h0m10 1h0m-12 0h0m0 2h0m10 1h0m-2 5h0m6 1h0m2 1h0m1 4h0m-6 1h0m-1 0h0m0 1h0m9 1h0m-17 0h0m15 2h0m-8 1h0m-6 2h0m-5 1h0m10 1h0m4 1h0m-2 1h0m-2 2h0m5 4h0m1 3h0m-16 1h0m15 7h0m5 3h0m-1 4h0m-13 11h0m5 1h0m2 3h0m-4 3h0m5 1h0m-12 5h0m9 2h0m-9 5h0m1 5h0m1 34h0m14 4h0m-16 5h0m13 13h0m0 67h0m-6 8h0m-6 16h0m2 17h0m-3 6h0m1 2h0m16 63h0m1 13h0m-12 24h0m11 4h0m-1 4h0m1 8h0m-16 16h0m19 5h0m-20 3h0m2 12h0m1 7h0m13 9h0m-18 3h0m6 1h0m5 1h0m-7 3h0m17 10h0m1 1h0m-14 2h0m-7 1h0m6 1h0m1 1h0m-4 1h0m10 2h0m4 5h0m-1 1h0m0 3h0m-15 0h0m4 0h0m8 0h0m6 2h0m-13 1h0m8 1h0m2 4h0m-12 1h0m12 9h0m-12 1h0m-1 1h0m7 0h0m9 13h0m-19 1h0m9 7h0m4 0h0m2 1h0m7 8h0m-14 0h0m-3 1h0m17 6h0m-23 0h0m16 1h0m6 3h0m-11 5h0m0 1h0m-7 1h0m0 3h0m19 0h0m-12 0h0m18 6h0m-4-1h0m10-14h0m-2-1h0m8 0h0m-9-1h0m2 0h0m2 0h0m-10-1h0m13-3h0m1-4h0m0 0h0m0-2h0m-3-1h0m0-6h0m-8-1h0m1-1h0m-6-1h0m9-2h0m-5 0h0m-4-1h0m23-3h0m-9-4h0m-14-3h0m10 0h0m-5-1h0m-1-2h0m14-1h0m2 0h0m-20-6h0m5-8h0m-1 0h0m12-4h0m-8-6h0m-6-4h0m14-21h0m-6-13h0m-5-2h0m3-2h0m-1-3h0m16 0h0m-19-1h0m16-3h0m3-4h0m-8-2h0m7-1h0m-19 0h0m12-4h0m5-4h0m-20-1h0m0-2h0m21-5h0m-14-4h0m-1-6h0m-2-3h0m-1-11h0m15-5h0m-10-6h0m3-15h0m4-1h0m-9-6h0m15-115h0m-5-9h0m-1-53h0m-2-27h0m-6-98h0m1-9h0m-7-1h0m2-2h0m-1-11h0m2-4h0m1-24h0m-1-17h0m1-5h0m-2-6h0m44 52h0m-4 5h0m-16 12h0m13 7h0m-15 103h0m12 9h0m9 19h0m-18 13h0m6 55h0m-3 14h0m-3 151h0m-2 8h0m2 5h0m-1 3h0m1 4h0m15 6h0m-4 9h0m-6 4h0m8 4h0m-6 4h0m-11 12h0m12 3h0m-12 3h0m8 3h0m6 5h0m5 0h0m-19 7h0m3 3h0m8 1h0m1 2h0m2 3h0m-13 1h0m21 4h0m-15 3h0m6 2h0m5 4h0m-3 3h0m1 7h0m-2 0h0m-10 9h0m-2 2h0m-2 16h0m31-31h0m-6-1h0m18-8h0m-14-444h0m9-11h0m-1-6h0m1 0h0m-13-21h0m30 27h0m7 6h0m8 7h0m-3 410h0m-5 4h0m-4 22h0m-5 6h0m35-402h0m-5-13h0m-9-15h0m4-1h0m-2-15h0m2-6h0m6-17h0m21 61h0m6 14h0m-5 4h0m1 5h0m6 2h0m-1 2h0m3 0h0m-1 1h0m5 4h0m22 164h0m-9-3h0m0-6h0m3-6h0m0-1h0m5 0h0m1-6h0m-16-1h0m15-1h0m-14-1h0m16-2h0m-1-3h0m-1-5h0m-7-3h0m3-1h0m-12-1h0m6-3h0m-8-5h0m7 0h0m14-2h0m-2-4h0m-4-88h0m-3-2h0m-2-2h0m10-3h0m1-14h0m3 10h0m0 16h0m1 10h0m20 4h0m-8 6h0m6 1h0m-7 2h0m-1 14h0m-2 2h0m8 1h0m-8 6h0m6 6h0m3 8h0m-1 3h0m-12 0h0m5 10h0m5 1h0m3 1h0m-12 2h0m9 0h0m-12 3h0m12 0h0m5 4h0m-12 2h0m-4 0h0m-6 0h0m11 2h0m8 0h0m3 3h0m-14 1h0m3 1h0m-6 2h0m7 4h0m-7 6h0m-2 0h0m5 1h0m14 1h0m-13 2h0m-6 2h0m6 1h0m1 3h0m1 4h0m7 2h0m-9 1h0m-2 4h0m-4 1h0m5 1h0m-1 1h0m-1 5h0m0 1h0m1 1h0m11 7h0m4 7h0m-10 0h0m9 4h0m0 4h0m-11 0h0m10 2h0m-7 1h0m2 7h0m17 0h0m5-2h0m-2-7h0m-4-4h0m6-8h0m3-1h0m-14-1h0m-1-1h0m16-1h0m6-2h0m-5-1h0m-10-2h0m8-8h0m6-5h0m-11-11h0m8 0h0m1-1h0m0-7h0m3-2h0m-23 0h0m5-2h0m-2-11h0m8 0h0m9-2h0m-7-2h0m-11 0h0m0 0h0m20-1h0m-19-3h0m12-1h0m-6-2h0m2-1h0m-11-2h0m4 0h0m0 0h0m6-2h0m-4-3h0m0-6h0m15-1h0m0 0h0m-7-2h0m-13-4h0m15-3h0m0-2h0m-14-1h0m18 0h0m3-1h0m-4-3h0m-12-1h0m2-3h0m8 0h0m-5-2h0m-2-5h0m8-2h0m4-2h0m-10-1h0m-3-1h0m5-1h0m-11 0h0m1-6h0m3-1h0m0-2h0m16-1h0m-23-1h0m27 3h0m5 0h0m2 1h0m-4 0h0m2 1h0m-3 5h0m0 1h0m11 0h0m-11 2h0m16 1h0m-14 2h0m16 0h0m-14 1h0m12 0h0m-15 1h0m2 1h0m9 2h0m-8 1h0m13 0h0m-12 2h0m-4 4h0m-5 2h0m8 0h0m-2 5h0m3 1h0m13 0h0m-2 0h0m-5 1h0m2 2h0m-8 3h0m0 1h0m3 1h0m5 0h0m5 1h0m-14 1h0m5 5h0m-7 0h0m1 0h0m-1 2h0m7 0h0m1 2h0m-10 2h0m11 0h0m-15 2h0m14 7h0m-4 0h0m-3 1h0m-1 0h0m-7 0h0m1 3h0m18 1h0m-4 0h0m3 2h0m-4 2h0m-6 1h0m5 1h0m-3 0h0m9 1h0m3 0h0m-21 1h0m6 0h0m4 1h0m-5 1h0m0 1h0m10 0h0m5 1h0m-8 0h0m-9 1h0m11 1h0m3 1h0m-17 1h0m0 0h0m13 1h0m0 2h0m6 0h0m-20 1h0m19 2h0m-5 3h0m-1 0h0m8 1h0m-9 0h0m6 1h0m-12 2h0m7 0h0m-6 0h0m1 0h0m-6 3h0m4 0h0m13 0h0m-14 0h0m-4 3h0m20 2h0m-2 0h0m-11 1h0m-5 2h0m8 0h0m-8 1h0m8 2h0m-7 0h0m19 2h0m-13 1h0m6 0h0m-2 0h0m-7 2h0m-3 1h0m0 1h0m-4 1h0m18 3h0m-8 4h0m-5 1h0m2 0h0m-5 1h0m2 1h0m1 3h0m3 0h0m-4 0h0m21-25h0m0 0h0m1-1h0m6-5h0m-8-3h0m9 0h0m-6-2h0m2-5h0m5-1h0m-4-1h0m7-9h0m-7-5h0m-3-4h0m5-1h0m-1-2h0m-2-2h0m9-9h0m-7-2h0m0 0h0m10-1h0m-14-1h0m0-2h0m8-1h0m2 0h0m-4-1h0m7 0h0m-9-1h0m-6-9h0m0 0h0m6-1h0m1-3h0m2-5h0m-1-3h0m2-1h0m-7-1h0m-1-8h0"/>
<path stroke="#c77cff" d="M499 1206h0m47 23h0m-14 28h0m35-153h0m34 13h0m8-104h0m26 29h0m-9 68h0m41 2h0m3-3h0m-10-43h0m27 19h0m-10 13h0m-5 0h0"/>
</g>
<g transform="scale(0.5)" fill="none" stroke-width="4.1" stroke-linecap="round">
<path stroke="#7b2a6e" d="M935 1129h0m-6 0h0m-1 3h0m4 4h0m-8 12h0m0 1h0m1 0h0m-5 1h0m8 8h0m3 5h0m3 12h0m0 0h0m-12 4h0m8 7h0m2 9h0m-2 4h0m2 3h0m15 9h0m12-9h0m-18-6h0m15-1h0m-8-5h0m-2-2h0m-6 0h0m17-10h0m-5-3h0m-14 0h0m3-3h0m-3-7h0m4-1h0m7-1h0m8-2h0m-3-2h0m-15-4h0m18-3h0m-13 0h0m14-2h0m-5-2h0m0-1h0m-1-4h0m-2 0h0m-7-1h0m-5-1h0m5-4h0m10-1h0m-6-2h0m-10-1h0m17 0h0m4-3h0m-7-5h0m8-2h0m-14-2h0m10-1h0m-9-1h0m-1-10h0m1 0h0m8-1h0m-12-4h0m7 0h0m8-1h0m-8-7h0m6 0h0m-10-3h0m14-1h0m-7-2h0m0-2h0m4-2h0m2-12h0m-6-4h0m29-41h0m0 5h0m-3 19h0m2 0h0m-8 5h0m-7 2h0m10 4h0m8 2h0m-22 1h0m18 0h0m-15 2h0m17 0h0m-1 2h0m-5 1h0m8 3h0m-12 6h0m-8 1h0m5 1h0m12 1h0m-20 2h0m5 3h0m4 0h0m-2 1h0m4 1h0m2 1h0m-11 1h0m9 2h0m3 4h0m-8 2h0m13 1h0m-7 0h0m-12 2h0m19 1h0m-2 2h0m5 1h0m-13 2h0m-1 0h0m0 4h0m14 2h0m-12 3h0m-5 0h0m10 1h0m-9 3h0m-2 1h0m17 1h0m-18 0h0m4 1h0m2 0h0m-1 0h0m1 2h0m1 4h0m11 3h0m-21 1h0m20 1h0m-18 2h0m8 1h0m4 0h0m-6 2h0m12 1h0m-13 2h0m11 0h0m-16 3h0m9 2h0m-4 1h0m5 6h0m11 5h0m-18 0h0m-5 1h0m13 4h0m-1 2h0m-3 1h0m2 0h0m2 1h0m-12 3h0m15 0h0m-4 1h0m3 1h0m-4 1h0m10 1h0m-14 0h0m2 1h0m11 2h0m1 1h0m-12 0h0m3 3h0m-6 3h0m-2 1h0m9 1h0m-5 3h0m-4 3h0m-2 1h0m13 3h0m1 1h0m-1 1h0m-15 3h0m23 1h0m-4 1h0m-1 10h0m-8 2h0m1 2h0m2 1h0m-2 2h0m2 1h0m6 6h0m-4 3h0m30 14h0m-10-1h0m3-6h0m-1-1h0m-8-9h0m12-3h0m-9-1h0m-4-2h0m3 0h0m2-12h0m12 0h0m-20-1h0m3-8h0m18-8h0m-19-5h0m16-1h0m-9-1h0m-1-1h0m-2-2h0m-3-2h0m18-4h0m-16-1h0m3-6h0m1 0h0m11-1h0m-6-1h0m7-1h0m-20 0h0m7 0h0m2-3h0m3-3h0m6 0h0m2 0h0m-3-1h0m-13-3h0m3-3h0m10-2h0m-15-3h0m-3-2h0m22-1h0m-6 0h0m-14-1h0m9-1h0m-12-10h0m2-1h0m5-1h0m10-6h0m-15-3h0m21-2h0m-11-1h0m-9-2h0m18 0h0m2-7h0m-8 0h0m-9-1h0m9 0h0m-1-1h0m7-3h0m-14 0h0m16-1h0m-5-2h0m-6-2h0m-2-2h0m2-1h0m-12-1h0m15-4h0m8-5h0m-20-1h0m16-1h0m-7-1h0m-3-3h0m0-2h0m-5 0h0m2-1h0m3-1h0m-6-4h0m10-1h0m1-3h0m4-1h0m-15-2h0m17 0h0m0 0h0m-20-1h0m7-1h0m-5 0h0m16-8h0m3-2h0m-17-5h0m8-1h0m9-1h0m-14-1h0m1 0h0m13-2h0m-2-2h0m-12-1h0m2-9h0m-9-2h0m18-1h0m-14-1h0m2-4h0m12-1h0m4-5h0m-20-2h0m9-3h0m5-17h0m26-40h0m5 12h0m-2 1h0m-4 5h0m1 4h0m-15 7h0m-2 6h0m9 0h0m5 1h0m-13 2h0m16 4h0m-3 5h0m-12 1h0m14 1h0m-11 3h0m16 1h0m-7 1h0m-12 3h0m4 1h0m-3 3h0m0 0h0m13 1h0m-15 0h0m14 6h0m-2 2h0m-13 6h0m1 1h0m21 2h0m-21 4h0m1 0h0m13 2h0m-3 1h0m-10 2h0m2 1h0m-1 1h0m3 4h0m-3 1h0m-2 4h0m8 0h0m5 3h0m-4 0h0m-5 0h0m13 1h0m-1 0h0m2 4h0m-3 2h0m2 1h0m2 1h0m-9 1h0m-1 1h0m0 1h0m7 4h0m-18 3h0m6 1h0m9 2h0m-12 2h0m20 2h0m-1 1h0m-22 0h0m11 3h0m12 1h0m-20 1h0m16 1h0m-10 2h0m11 0h0m-8 2h0m-4 1h0m15 10h0m-1 0h0m-3 4h0m4 4h0m-21 0h0m11 1h0m1 1h0m-5 1h0m8 0h0m6 2h0m-6 0h0m-9 13h0m10 2h0m-4 1h0m-6 7h0m-5 5h0m2 5h0m12 4h0m1 0h0m-2 11h0m7 2h0m-15 6h0m2 1h0m10 2h0m-11 2h0m5 0h0m-1 2h0m10 1h0m-8 7h0m0 2h0m-7 0h0m10 1h0m-1 2h0m2 0h0m3 2h0m-11 1h0m2 4h0m8 0h0m-5 1h0m-7 1h0m2 1h0m5 3h0m-11 1h0m10 2h0m-7 0h0m2 2h0m8 3h0m-13 1h0m5 5h0m5 4h0m6 0h0m-11 13h0m-1 0h0m-4 3h0m4 6h0m13 1h0m-5 5h0m-11 0h0m13 12h0m5-5h0m16-6h0m-11-5h0m17-1h0m-20-5h0m15-3h0m-17-4h0m3-1h0m18 0h0m-11-2h0m-7-6h0m3-1h0m3-2h0m2-6h0m8-7h0m-7-2h0m11-7h0m-12-2h0m8-1h0m-7 0h0m7 0h0m-15-3h0m8-1h0m2-3h0m-13-1h0m18-4h0m4-2h0m-7 0h0m-8 0h0m13-2h0m-11-1h0m-10-4h0m14-1h0m-14-1h0m22-5h0m-20-3h0m19-3h0m-8 0h0m5-7h0m-16-3h0m19-7h0m-8-1h0m0-1h0m-6-2h0m1-1h0m-2-1h0m1-2h0m9 0h0m-8-1h0m2-1h0m11-3h0m1-3h0m-1-1h0m-2-1h0m-18-1h0m3 0h0m6-7h0m9-1h0m1 0h0m-15-1h0m4-1h0m8-4h0m-10-1h0m-5 0h0m3-1h0m3 0h0m2-2h0m-2-1h0m4 0h0m-12-2h0m3-2h0m9-1h0m11-4h0m-14-2h0m8 0h0m-7-1h0m2-1h0m-8-1h0m10-3h0m-14-1h0m16-3h0m-2-1h0m-7-1h0m15-3h0m-15-11h0m11-3h0m-1-1h0m-13-2h0m0-2h0m10-1h0m5-2h0m-5-1h0m-12-1h0m8-1h0m8-3h0m-12 0h0m9-1h0m-3-2h0m-7-1h0m-1 0h0m-2-1h0m13-2h0m3-1h0m5 0h0m-11-5h0m1 0h0m-6-2h0m-6-17h0m13-2h0m-4-1h0m-3-1h0m-5-2h0m11-1h0m-13-1h0m11-12h0m-8-5h0m19-3h0m-3-4h0m-18 0h0m22-2h0m-19-3h0m14-3h0m-10-5h0m13-10h0m-5-8h0m-12-3h0m-2-2h0m15-2h0m-7-6h0m33-18h0m-17 10h0m10 2h0m8 1h0m-1 6h0m-3 2h0m1 5h0m-13 1h0m-3 5h0m16 2h0m-2 9h0m-6 9h0m-5 5h0m-2 1h0m7 2h0m7 0h0m-13 3h0m-3 8h0m18 4h0m-11 0h0m11 1h0m-9 1h0m-7 2h0m-2 8h0m13 1h0m-2 1h0m10 2h0m1 0h0m-4 0h0m-6 2h0m0 4h0m-4 1h0m11 2h0m2 0h0m1 3h0m-15 2h0m8 5h0m0 6h0m8 6h0m-16 2h0m12 1h0m3 2h0m-21 1h0m1 0h0m4 1h0m10 2h0m-3 2h0m-3 1h0m-8 0h0m4 0h0m15 1h0m-7 1h0m-11 1h0m9 2h0m-3 0h0m-7 2h0m8 1h0m0 1h0m11 0h0m-21 0h0m9 4h0m12 0h0m-19 0h0m7 2h0m-1 0h0m4 1h0m4 1h0m-6 0h0m13 0h0m0 1h0m-18 0h0m2 1h0m15 3h0m-13 2h0m2 1h0m7 0h0m-16 1h0m-1 0h0m11 2h0m11 5h0m-7 3h0m-6 2h0m-6 1h0m1 0h0m5 1h0m8 4h0m-14 5h0m5 7h0m6 1h0m2 0h0m5 1h0m-20 1h0m19 7h0m-10 1h0m-3 1h0m11 2h0m-14 3h0m-4 4h0m11 4h0m-1 2h0m8 0h0m-18 3h0m18 1h0m-5 3h0m-3 1h0m-8 1h0m12 1h0m-5 1h0m5 5h0m6 3h0m-5 0h0m-5 1h0m2 1h0m-10 6h0m5 0h0m10 1h0m5 3h0m-13 1h0m-1 0h0m4 0h0m-8 2h0m15 0h0m-1 4h0m-8 0h0m6 6h0m-9 2h0m6 0h0m-14 3h0m15 5h0m0 2h0m2 0h0m6 5h0m-8 3h0m-9 1h0m17 2h0m-11 0h0m-11 1h0m-1 1h0m8 2h0m2 2h0m1 1h0m-8 1h0m1 3h0m1 2h0m15 1h0m-5 5h0m8 2h0m-11 0h0m-11 1h0m0 3h0m14 3h0m-10 3h0m-4 1h0m13 8h0m-14 2h0m7 3h0m5 3h0m-12 1h0m21 7h0m-11 4h0m-7 0h0m43 25h0m-16-3h0m16-1h0m-15-3h0m-3-4h0m3-3h0m1-4h0m7-1h0m8-2h0m-17-2h0m8 0h0m-1-2h0m-10 0h0m13-4h0m-11-1h0m15-7h0m-16-6h0m18-3h0m1-2h0m-17-2h0m5-2h0m-1-2h0m2-3h0m2-3h0m2-5h0m-11-1h0m8-5h0m4-12h0m-11-8h0m5-1h0m9-3h0m-1 0h0m-12-2h0m5 0h0m7-7h0m2 0h0m-2-5h0m-5-2h0m-9-1h0m3-1h0m14-1h0m-2 0h0m-4 0h0m-13-1h0m10-2h0m-10-1h0m8-3h0m-3-2h0m7-2h0m-9-3h0m-2-3h0m3-1h0m0 0h0m-2 0h0m18-1h0m-15-2h0m3 0h0m-3-1h0m-1-2h0m3-2h0m6-1h0m-11-1h0m11 0h0m2-1h0m-14-5h0m4 0h0m12-1h0m-20-5h0m10-1h0m0-1h0m-1-1h0m9-2h0m-5-3h0m-13-1h0m10-2h0m11 0h0m-3-1h0m-12-2h0m0-5h0m-4-1h0m-2 0h0m3-1h0m-1 0h0m-1-3h0m4-3h0m2-1h0m2-7h0m-4-1h0m-3-4h0m3-1h0m17-1h0m1-2h0m-14-2h0m-2-2h0m-1-4h0m7-1h0m-5-5h0m11-1h0m2-1h0m-13-2h0m5-3h0m0-5h0m-3-1h0m-8-10h0m2-1h0m1-2h0m-1-1h0m1-2h0m14-4h0m-18-7h0m0 0h0m17-18h0m-6-2h0m-1-4h0m-9-1h0m5 0h0m13-8h0m-9-6h0m6 0h0m5 0h0m0-11h0m-5-1h0m4-3h0m-5-11h0m1-2h0m-1-5h0m-6-4h0m1-1h0m2-2h0m9-1h0m-4-8h0m-18-6h0m15-1h0m8-1h0m-6-1h0m5-5h0m-6-1h0m-10-2h0m11 0h0m0-1h0m4 0h0m-12-7h0m7-4h0m17-11h0m9 4h0m1 2h0m-8 6h0m-10 0h0m20 9h0m-21 0h0m1 11h0m11 12h0m6 3h0m-10 3h0m14 12h0m-12 2h0m13 2h0m-8 5h0m3 0h0m-16 9h0m-2 7h0m19 7h0m-6 3h0m-3 2h0m-6 1h0m16 2h0m3 1h0m-19 4h0m9 1h0m8 4h0m-2 28h0m-5 4h0m3 3h0m-10 14h0m12 4h0m-4 22h0m-14 22h0m4 13h0m-5 7h0m6 2h0m11 0h0m-4 9h0m-4 1h0m1 9h0m-2 0h0m5 0h0m-13 5h0m3 1h0m1 8h0m4 2h0m-4 2h0m12 2h0m3 10h0m-1 0h0m-7 1h0m2 0h0m2 2h0m-12 11h0m11 3h0m-11 9h0m1 2h0m13 1h0m-2 2h0m-9 0h0m-3 2h0m15 2h0m-17 7h0m13 12h0m4 0h0m-9 8h0m-8 0h0m21 1h0m-21 0h0m7 10h0m8 10h0m-3 4h0m0 5h0m5 2h0m5 2h0m1 10h0m6-10h0m-2-1h0m15-2h0m1-1h0m-12-3h0m10 0h0m0-1h0m-10-3h0m-4-1h0m-2-2h0m6-3h0m-8-1h0m5-2h0m2-4h0m4-4h0m2-2h0m-4-3h0m-7-2h0m12-4h0m7-14h0m-4-10h0m-3-2h0m3-2h0m4-1h0m-13-4h0m8-2h0m-7-3h0m8-1h0m1-1h0m-12-1h0m1-4h0m3-2h0m-6-8h0m7 0h0m3-2h0m-12-2h0m12-2h0m1 0h0m-1-1h0m-3-29h0m-1-8h0m-10-2h0m21-1h0m-7-1h0m3-8h0m0-7h0m1-3h0m0-2h0m-8 0h0m-10-5h0m6-2h0m5-2h0m9-2h0m2-4h0m-18-2h0m12-5h0m-13-5h0m10-2h0m10-1h0m-16-1h0m9-1h0m-10 0h0m-3-3h0m0-1h0m7-1h0m6-9h0m-11-1h0m13-3h0m-4-1h0m2 0h0m-14-1h0m-2-2h0m10 0h0m-1 0h0m3-1h0m-9-10h0m12-3h0m-10-4h0m8-6h0m-7-3h0m6-4h0m-1 0h0m12-3h0m-17-9h0m-3-1h0m7-4h0m-4-1h0m-6-5h0m19-5h0m-10-3h0m13-4h0m-5-3h0m6-2h0m-7-6h0m-7-2h0m7-4h0m-12 0h0m14-5h0m-1 0h0m-14-3h0m13-2h0m-2-2h0m-1-3h0m-4-5h0m-5-2h0m1-3h0m15-1h0m-16-2h0m12-2h0m0-5h0m-8 0h0m-5-2h0m9-2h0m-12-3h0m1 0h0m11 0h0m11-1h0m-22 0h0m6-3h0m-5-2h0m8-6h0m-5-2h0m15-8h0m-6-2h0m9-2h0m22-12h0m-5 3h0m1 10h0m1 1h0m-18 1h0m2 1h0m12 1h0m0 4h0m3 6h0m-8 3h0m8 6h0m-10 13h0m-1 5h0m17 8h0m-10 3h0m-9 0h0m1 0h0m0 2h0m17 3h0m-17 1h0m1 2h0m5 3h0m-1 1h0m8 0h0m0 5h0m-18 8h0m11 1h0m-5 5h0m7 1h0m5 1h0m3 8h0m-19 2h0m3 2h0m8 2h0m-1 1h0m-8 3h0m3 2h0m5 0h0m-6 15h0m-3 4h0m0 0h0m3 6h0m7 6h0m-9 14h0m5 22h0m8 38h0m-16 9h0m-1 8h0m9 18h0m-9 16h0m1 13h0m22 6h0m-13 4h0m1 10h0m10 2h0m-19 3h0m6 3h0m10 1h0m-10 1h0m3 14h0m-5 2h0m4 5h0m1 2h0m5 8h0m1 2h0m-10 0h0m9 8h0m-4 9h0m-3 1h0m9 1h0m-15 0h0m13 4h0m-16 7h0m40-2h0m-7-39h0m2-5h0m12-16h0m-23-10h0m5-7h0m8-2h0m-7-3h0m15-2h0m0-3h0m-4-4h0m1-5h0m-9-6h0m-6-13h0m2-7h0m15-11h0m-6-21h0m5-8h0m-19-9h0m14-5h0m1-6h0m-9-3h0m9-8h0m-1-13h0m-11-6h0m8-6h0m-9-16h0m18-2h0m3-5h0m-10-22h0m-11-4h0m3-15h0m-5-3h0m4-9h0m14 0h0m-11-3h0m4-3h0m-9-1h0m7 0h0m7-8h0m-8-4h0m-3-1h0m5-1h0m-5-7h0m14-10h0m0-4h0m4-3h0m-15-4h0m-1-2h0m14 0h0m-21-10h0m8-1h0m14-1h0m-14-1h0m-8-2h0m7 0h0m2-1h0m-4 0h0m9-2h0m-8-3h0m10 0h0m-11-2h0m-4-3h0m11-2h0m1-6h0m-6-2h0m-1-5h0m27 14h0m-6 2h0m10 2h0m7 3h0m0 4h0m-8 3h0m-6 3h0m-2 9h0m18 2h0m0 3h0m-20 2h0m0 4h0m8 5h0m6 13h0m4 9h0m-6 25h0m-11 38h0m4 5h0m16 5h0m-20 33h0m9 6h0m-6 5h0m-6 16h0m11 11h0m-4 9h0m0 12h0m3 28h0m-2 9h0m5 2h0m-5 3h0m4 2h0m-8 11h0m9 5h0m3 13h0m-9 7h0m7 2h0m-14 19h0m18 5h0m-4 3h0m-11 3h0m5 7h0m-6 5h0m13 8h0m5 4h0m-17 8h0m42 32h0m-14-8h0m0-31h0m11-11h0m-5 0h0m1-1h0m8-4h0m-7-11h0m-3-4h0m4-3h0m-15-1h0m0-15h0m5-2h0m10-15h0m-10-1h0m-4-2h0m16-7h0m-8-8h0m2-2h0m1-6h0m-7-4h0m-3-7h0m14-3h0m-15-1h0m1-1h0m9 0h0m2-37h0m-7-2h0m0-12h0m-3-5h0m12 0h0m-14-2h0m15-11h0m1-2h0m-10-23h0m15-3h0m-4-8h0m-12-22h0m-3-8h0m3-50h0m11-5h0m5-2h0m-21-21h0m20-8h0m-6-12h0m4-4h0m-11-5h0m-4 0h0m-2-2h0m13 0h0m-6-3h0m10-7h0m-20-4h0m5-4h0m12-4h0m-13-3h0m29 4h0m-3 0h0m12 18h0m-9 1h0m14 2h0m-13 18h0m5 1h0m-1 3h0m3 4h0m-13 6h0m16 6h0m-12 5h0m13 0h0m-1 0h0m-10 5h0m7 5h0m-12 3h0m14 6h0m-7 1h0m1 2h0m10 7h0m-11 3h0m1 6h0m8 1h0m-9 0h0m3 15h0m4 1h0m-9 4h0m-3 1h0m1 1h0m4 2h0m1 2h0m8 0h0m-16 2h0m0 2h0m3 0h0m1 1h0m3 0h0m6 1h0m0 2h0m2 0h0m0 1h0m-17 0h0m3 2h0m7 1h0m-3 2h0m-3 1h0m3 0h0m-1 2h0m-8 0h0m13 1h0m-9 1h0m-1 1h0m12 1h0m5 1h0m-13 0h0m-2 4h0m9 1h0m-14 2h0m0 4h0m6 0h0m-7 3h0m20 2h0m-8 3h0m3 0h0m-3 1h0m0 1h0m2 5h0m-9 0h0m12 2h0m1 4h0m4 2h0m-1 1h0m-11 1h0m3 0h0m0 1h0m2 2h0m2 4h0m-5 2h0m1 0h0m2 6h0m-6 0h0m10 1h0m-15 3h0m8 7h0m-11 2h0m8 1h0m12 1h0m-2 2h0m-9 2h0m11 1h0m-7 0h0m-14 3h0m19 1h0m-10 0h0m7 2h0m-11 2h0m8 1h0m5 0h0m1 4h0m3 1h0m-11 2h0m4 2h0m-4 3h0m5 1h0m1 4h0m-10 8h0m-2 3h0m18 2h0m-23 4h0m2 9h0m-2 1h0m11 2h0m-4 1h0m-4 4h0m17 12h0m1 5h0m-13 5h0m-1 0h0m7 4h0m3 0h0m0 0h0m0 2h0m-17 0h0m12 4h0m5 2h0m-9 3h0m6 9h0m5 2h0m-11 2h0m1 19h0m4 1h0m4 4h0m-2 1h0m0 3h0m7 2h0m-18 0h0m6 6h0m10 4h0m-9 7h0m-5 20h0m3 9h0m35 40h0m0-12h0m-6-35h0m-8-14h0m2-9h0m1-9h0m-8-1h0m-1-2h0m5-3h0m11-1h0m-4-5h0m3-6h0m-14 0h0m3-3h0m10-5h0m0-4h0m2-6h0m7-1h0m-5-3h0m-5-2h0m3-19h0m-3-5h0m-2-1h0m10-2h0m-11 0h0m5-1h0m2-1h0m3-2h0m-9-1h0m8 0h0m0-6h0m-7-4h0m6-3h0m3-1h0m0-2h0m-7-2h0m3-4h0m4-3h0m-7 0h0m1-1h0m2-1h0m-8-3h0m14 0h0m-18-8h0m7-1h0m-10-4h0m18-2h0m-3 0h0m-5-1h0m-9-1h0m9-2h0m-2-2h0m9-2h0m-7-4h0m-8-2h0m0 0h0m-4 0h0m8-4h0m-2 0h0m11-2h0m-2 0h0m0-5h0m8-1h0m-18-2h0m16-9h0m-16-4h0m12-1h0m-6-1h0m3-6h0m9-1h0m-19-3h0m12-1h0m-9-1h0m8-1h0m4-1h0m-5 0h0m6-1h0m-1-1h0m-3-2h0m-1 0h0m4-3h0m-9-1h0m-10-1h0m12-2h0m2-2h0m-3-1h0m12-1h0m-13-1h0m1-1h0m-10-1h0m15 0h0m-14 0h0m19-3h0m-18 0h0m8-1h0m2-3h0m-11-2h0m12-4h0m4-3h0m-4-1h0m-5 0h0m-9-1h0m20-1h0m-3-2h0m-2-3h0m8-1h0m-5-3h0m-7-4h0m5-1h0m-3 0h0m-9 0h0m19-2h0m-2-2h0m0-4h0m-11-2h0m-3-4h0m6-2h0m7-7h0m-18 0h0m5 0h0m5 0h0m0-1h0m6 0h0m4 0h0m0-3h0m-19 0h0m10-1h0m-2 0h0m4 0h0m-5-3h0m-4 0h0m5-5h0m8-1h0m-11-2h0m0-1h0m13-4h0m-18-1h0m11 0h0m3-2h0m-5-2h0m-7 0h0m10-1h0m-7-1h0m15-3h0m-19-1h0m13 0h0m-1-1h0m7-4h0m-21-5h0m19 0h0m-13 0h0m-8-1h0m21-2h0m-18-4h0m8-1h0m-8-1h0m5-1h0m12 0h0m-11-2h0m7-3h0m-7-4h0m7 0h0m-3-1h0m3-5h0m-8-4h0m11-5h0m-3-4h0m-2 0h0m-13-3h0m12-1h0m-3-2h0m2-3h0m-2-2h0m8-1h0m-17-8h0m19-5h0m-19-1h0m3 0h0m-4-2h0m12-2h0m-7 0h0m0-1h0m6 0h0m-9-2h0m23-17h0m19 6h0m0 2h0m-9 5h0m11 11h0m-6 1h0m-8 7h0m-3 0h0m12 3h0m-8 5h0m0 1h0m-9 1h0m3 1h0m2 1h0m-2 4h0m-1 1h0m6 1h0m6 1h0m-9 3h0m18 4h0m-17 1h0m6 2h0m-12 0h0m23 1h0m-20 4h0m0 2h0m12 1h0m-13 0h0m3 3h0m-3 2h0m13 1h0m-8 1h0m3 5h0m-4 3h0m1 1h0m13 1h0m-20 6h0m6 0h0m11 1h0m-4 2h0m-9 1h0m9 0h0m6 2h0m-1 1h0m-16 1h0m1 1h0m9 2h0m-9 1h0m13 0h0m-12 0h0m18 1h0m-21 1h0m13 0h0m1 1h0m-6 2h0m11 2h0m-11 1h0m0 0h0m10 4h0m2 1h0m-15 1h0m17 1h0m0 1h0m-21 0h0m17 4h0m-11 0h0m2 0h0m1 1h0m12 1h0m-9 1h0m-10 2h0m5 0h0m-6 0h0m13 1h0m-3 0h0m2 0h0m3 10h0m-6 2h0m2 1h0m-1 1h0m6 7h0m2 1h0m-4 0h0m-14 1h0m16 0h0m-8 0h0m0 3h0m-9 0h0m-2 2h0m15 1h0m2 0h0m1 1h0m-1 1h0m-6 1h0m11 0h0m-19 3h0m17 1h0m-12 1h0m-2 4h0m13 0h0m-16 1h0m-3 2h0m7 1h0m-2 0h0m17 1h0m-15 1h0m3 1h0m6 1h0m-3 1h0m6 2h0m-6 1h0m-12 0h0m13 0h0m-2 2h0m3 0h0m8 1h0m-18 0h0m8 1h0m8 1h0m-13 0h0m2 2h0m-1 0h0m-6 1h0m10 0h0m8 2h0m-5 5h0m-5 1h0m10 0h0m2 0h0m0 2h0m-7 0h0m1 1h0m-17 1h0m19 6h0m4 2h0m-1 0h0m-2 1h0m-2 0h0m-10 1h0m5 1h0m4 2h0m-10 2h0m10 1h0m-10 3h0m2 2h0m-5 1h0m-2 1h0m8 2h0m-10 1h0m23 1h0m-9 1h0m6 0h0m-10 1h0m2 1h0m11 2h0m0 0h0m-9 2h0m-14 0h0m19 0h0m4 0h0m-8 1h0m-15 1h0m9 5h0m12 7h0m-20 3h0m14 1h0m-2 1h0m-10 4h0m7 3h0m-8 2h0m18 1h0m-20 2h0m19 0h0m-19 0h0m3 4h0m17 2h0m-12 1h0m12 1h0m-1 0h0m-17 1h0m13 0h0m6 2h0m-19 0h0m0 0h0m15 1h0m-9 0h0m9 2h0m-7 3h0m-3 1h0m16 1h0m-9 2h0m0 5h0m-4 1h0m10 1h0m1 1h0m-8 1h0m4 0h0m-9 2h0m8 4h0m2 1h0m-17 1h0m1 0h0m2 0h0m8 3h0m6 3h0m-13 2h0m-5 4h0m7 0h0m11 2h0m-8 1h0m-5 0h0m6 1h0m0 3h0m3 1h0m-4 3h0m3 0h0m1 2h0m3 6h0m-15 5h0m-1 6h0m-1 2h0m9 1h0m-7 0h0m12 17h0m-11 10h0m11 2h0m1 16h0m-5 51h0m7 38h0m-1 6h0m0 24h0m26 1h0m-1-9h0m-13-7h0m11-4h0m-1 0h0m-12-8h0m4-3h0m3-32h0m6-9h0m4-28h0m-16-42h0m7-1h0m12-2h0m-4 0h0m5-3h0m-20-5h0m-3-8h0m6-4h0m7-6h0m-6-1h0m16-1h0m-17-2h0m5 0h0m8-1h0m-6-3h0m-5-2h0m-2 0h0m-3-1h0m8-2h0m-3-1h0m4-3h0m-3-3h0m13 0h0m-9-1h0m8 0h0m-9-2h0m8-1h0m-10-1h0m0-2h0m-9 0h0m11-2h0m-12-9h0m11 0h0m-10 0h0m20-2h0m-18-3h0m-3 0h0m12-2h0m-4-2h0m12 0h0m-4-1h0m-1-2h0m3-1h0m-8 0h0m-2 0h0m8-3h0m-10 0h0m-3 0h0m3-3h0m7-3h0m-12-3h0m11-2h0m7 0h0m-13-1h0m12 0h0m-16-2h0m-2-1h0m14-2h0m-8-1h0m-6 0h0m16-1h0m-4-3h0m-4 0h0m3 0h0m-4-2h0m-3-1h0m19-1h0m-21-1h0m11 0h0m-5-1h0m10-2h0m-14 0h0m11-1h0m-2-14h0m5-4h0m-15-3h0m19-1h0m-22 0h0m16-1h0m-4-5h0m-5-4h0m7-3h0m9-2h0m-15-3h0m-4-3h0m2-7h0m-5 0h0m10-1h0m-6-1h0m3-1h0m-4-7h0m1-1h0m15-1h0m-19 0h0m14 0h0m6-3h0m-16-7h0m10-4h0m-2 0h0m8-6h0m-10-4h0m-5-1h0m3-1h0m-7-1h0m0 0h0m8 0h0m-3-4h0m-5-1h0m-1-3h0m14-4h0m6-8h0m-9-8h0m0 0h0m2-1h0m0-3h0m3 0h0m-2-3h0m-12-1h0m13-1h0m-12-1h0m4-4h0m11 0h0m-14-3h0m15-1h0m-8-11h0m2-2h0m-11-3h0m1 0h0m13-1h0m4-1h0m-13-2h0m-7-1h0m14 0h0m-5-1h0m4 0h0m-1-2h0m-3-1h0m13-2h0m-4-1h0m-5-1h0m0-3h0m-4-3h0m9-2h0m-6-1h0m0 0h0m-6-1h0m9-1h0m0-3h0m-3 0h0m-10-1h0m0 0h0m11 0h0m1 0h0m-7-2h0m-4-4h0m16-1h0m-16 0h0m-4-4h0m2 0h0m12-1h0m3-1h0m-8-3h0m-9-2h0m14 0h0m-11-1h0m6-1h0m12-5h0m-15 0h0m2-1h0m-5 0h0m15 0h0m-4-1h0m-7-1h0m8 0h0m-7-2h0m-1-2h0m6-3h0m7-2h0m-14-4h0m-4 0h0m3-5h0m0-4h0m-4-9h0m16-5h0m-9 0h0m15-5h0m-22-4h0m19-1h0m-18-3h0m38 13h0m-13 8h0m-3 0h0m14 2h0m4 17h0m-16 0h0m5 1h0m6 4h0m2 4h0m-10 0h0m2 2h0m-4 1h0m1 4h0m0 2h0m5 5h0m14 7h0m-14 9h0m0 2h0m3 0h0m-12 0h0m14 1h0m-2 0h0m-5 1h0m14 2h0m-3 11h0m-2 2h0m-14 0h0m9 8h0m10 0h0m-2 2h0m-11 5h0m3 6h0m-6 1h0m-4 3h0m20 1h0m-20 2h0m11 7h0m-2 1h0m10 3h0m-10 5h0m7 1h0m-15 7h0m8 0h0m8 2h0m4 3h0m-18 10h0m7 2h0m-8 7h0m10 3h0m-5 3h0m6 7h0m-2 9h0m8 4h0m-17 2h0m2 2h0m14 3h0m4 5h0m-15 1h0m-2 13h0m10 2h0m-15 2h0m4 1h0m16 7h0m-9 3h0m-1 1h0m2 12h0m2 5h0m7 0h0m-5 0h0m-14 3h0m1 0h0m4 0h0m14 2h0m-9 1h0m5 2h0m-8 0h0m4 2h0m-10 1h0m13 1h0m-16 1h0m18 1h0m4 1h0m-7 1h0m-4 2h0m3 0h0m-10 1h0m15 1h0m-20 8h0m4 0h0m2 2h0m14 0h0m-9 1h0m-3 0h0m-8 0h0m10 2h0m-10 3h0m12 2h0m1 2h0m-12 4h0m10 2h0m0 2h0m-11 2h0m16 0h0m-3 0h0m-6 1h0m11 1h0m-7 0h0m8 4h0m4 1h0m-12 0h0m-10 0h0m17 2h0m-9 2h0m-4 0h0m-4 1h0m-1 4h0m1 2h0m12 0h0m-13 3h0m5 29h0m-4 7h0m17 6h0m2 1h0m-15 11h0m16 34h0m-18 17h0m8 1h0m-9 26h0m11 43h0m9 3h0m1 8h0m7 4h0m-2-5h0m6-5h0m-1-5h0m-6-10h0m8-5h0m-3-3h0m-8-12h0m5-24h0m3-4h0m7-7h0m-11 0h0m4-14h0m-8-16h0m4-63h0m3-9h0m-4-5h0m0 0h0m14-2h0m-12-9h0m17-1h0m-17-6h0m18-5h0m-15-1h0m-6-7h0m2-3h0m-1-1h0m19-1h0m1-1h0m-16 0h0m-7-8h0m11 0h0m3-1h0m6-3h0m-18-3h0m0-1h0m20-4h0m-10-2h0m8-1h0m-1-3h0m-6-5h0m4-3h0m-17-3h0m5 0h0m-3 0h0m20-12h0m-13-7h0m-7-9h0m4-2h0m6-14h0m0-1h0m4 0h0m3-1h0m-4-2h0m-10-2h0m8-1h0m-8-3h0m14-4h0m-16-5h0m7-1h0m9-4h0m-2-1h0m-9 0h0m1-1h0m14-2h0m-13-1h0m-2-2h0m9-2h0m6-10h0m-11-2h0m-4 0h0m12-1h0m-2-1h0m-3-7h0m-11-3h0m-2-3h0m8 0h0m-10-1h0m0 0h0m16-18h0m-4-4h0m-5-4h0m10-4h0m-12-1h0m-5-4h0m21-4h0m-15-3h0m-5-4h0m14-14h0m8-2h0m-4-4h0m-14 0h0m12-8h0m-14-1h0m19-2h0m-10-2h0m2-6h0m1-4h0m5-5h0m-4-2h0m-16-6h0m8-5h0m8-2h0m-8-1h0m7-2h0m-8-2h0m1-6h0m2-5h0m-5-12h0m7 0h0m-11-2h0m16-9h0m3-6h0m-17-2h0m22 7h0m18 12h0m-13 6h0m6 0h0m8 1h0m-11 1h0m7 1h0m-14 3h0m2 3h0m12 0h0m7 1h0m-13 2h0m-2 9h0m1 4h0m5 11h0m6 4h0m-4 5h0m-9 1h0m4 5h0m6 9h0m-7 17h0m-7 1h0m2 7h0m1 1h0m15 1h0m0 6h0m-14 6h0m-6 2h0m0 3h0m21 0h0m-3 1h0m-2 1h0m6 5h0m-17 7h0m11 3h0m-7 3h0m6 10h0m-13 2h0m14 1h0m-1 1h0m-1 10h0m-14 9h0m18 2h0m-19 1h0m1 0h0m11 2h0m6 5h0m-3 0h0m-4 7h0m-3 4h0m12 2h0m-7 2h0m-7 1h0m16 2h0m0 11h0m-21 4h0m15 2h0m-6 0h0m-4 7h0m13 0h0m1 3h0m-1 6h0m3 4h0m-10 4h0m-6 0h0m-5 3h0m15 3h0m-15 0h0m6 6h0m-3 4h0m4 1h0m10 1h0m-5 0h0m9 3h0m-18 4h0m-3 0h0m18 2h0m-6 5h0m-10 1h0m2 1h0m2 6h0m-1 0h0m-2 1h0m0 12h0m-2 6h0m12 12h0m-12 5h0m3 13h0m15 11h0m-12 1h0m-5 3h0m17 84h0m1 13h0m-14 13h0m6 4h0m-10 15h0m26 152h0m10-6h0m2 0h0m-8-18h0m6-142h0m2-26h0m-9-22h0m-8-43h0m8-15h0m-8-1h0m21-11h0m-9-8h0m9-14h0m-6-4h0m-10-6h0m5-3h0m1-3h0m-7-4h0m16-1h0m-20-3h0m10-26h0m3-3h0m-9-3h0m-4-12h0m17-4h0m-10-5h0m-1-5h0m3-3h0m2 0h0m-4-2h0m-3-1h0m-1 0h0m1-2h0m-4-5h0m21-1h0m-17-1h0m-1-2h0m7-3h0m7-3h0m-6 0h0m0-2h0m-6-1h0m6-2h0m11-2h0m0-2h0m-20-6h0m6-12h0m-8-3h0m7 0h0m1 0h0m-5-3h0m10-2h0m-11-5h0m17-5h0m-14-2h0m16-2h0m0-1h0m-10-2h0m8-6h0m-9-2h0m-5 0h0m5-7h0m13 0h0m-19-6h0m-2 0h0m1-2h0m-3-2h0m13-6h0m-1-4h0m3 0h0m-2-4h0m-11-1h0m20-8h0m-12-1h0m11-11h0m-12-4h0m-2-2h0m15-1h0m0-1h0m-16 0h0m0 0h0m-6-5h0m13-2h0m3-9h0m5-3h0m-15-3h0m-1-5h0m11-13h0m-16 0h0m4-2h0m10-1h0m0-3h0m-2-1h0m6 0h0m5 0h0m-18-1h0m11-18h0m-5-1h0m-5-4h0m-5-16h0m29 28h0m-2 26h0m6 1h0m-5 24h0m4 3h0m11 5h0m-20 6h0m1 8h0m8 0h0m10 2h0m-12 2h0m3 4h0m11 3h0m-17 5h0m3 4h0m7 2h0m7 2h0m-2 0h0m-6 2h0m7 2h0m-10 2h0m13 5h0m-15 8h0m8 3h0m3 3h0m-1 2h0m2 4h0m-16 1h0m1 5h0m1 12h0m-4 1h0m17 11h0m2 0h0m-9 2h0m2 2h0m9 1h0m-7 4h0m-14 0h0m1 1h0m14 5h0m-12 2h0m11 2h0m-8 11h0m-5 20h0m13 0h0m-14 5h0m20 1h0m-20 0h0m5 3h0m8 2h0m-1 5h0m1 4h0m-13 5h0m15 0h0m-2 12h0m-4 1h0m-11 2h0m11 0h0m-1 2h0m-4 1h0m11 12h0m3 10h0m-2 5h0m-16 6h0m6 3h0m15 6h0m-9 1h0m-11 18h0m4 17h0m10 48h0m-1 49h0m-12 4h0m7 28h0m3 8h0m-5 65h0m-1 18h0m3 4h0m1 4h0m6 23h0m-15 7h0m16 7h0m-2 22h0m-8 2h0m13 0h0m-12 1h0m-5 0h0m12 5h0m5 2h0m16 19h0m0-7h0m4-6h0m4-2h0m-22 0h0m13-20h0m9-5h0m-21-16h0m9-4h0m-7-6h0m2-9h0m17-14h0m-9 0h0m-1-13h0m-8-7h0m10-7h0m-4-21h0m-4-5h0m-4-3h0m3-72h0m-2-49h0m-2-7h0m0-7h0m18-58h0m-15-27h0m5-5h0m1 0h0m-4-6h0m12-1h0m-18-5h0m14-4h0m8-6h0m-16-2h0m-6-1h0m2-7h0m11 0h0m5-2h0m-15-3h0m-1-1h0m17-6h0m0 0h0m-18-1h0m14-1h0m1-3h0m-14-7h0m11-8h0m-1-13h0m4-3h0m-4-6h0m1-3h0m-5-2h0m4-1h0m-12 0h0m14-5h0m6-6h0m-14-12h0m-1-23h0m17 0h0m1-14h0m-13-8h0m-6-9h0m-4-13h0m41-19h0m4 29h0m-15 2h0m1 8h0m15 1h0m-12 5h0m12 1h0m-15 6h0m2 2h0m-2 4h0m-1 7h0m10 1h0m-15 2h0m12 14h0m-13 11h0m4 6h0m11 2h0m8 0h0m-15 10h0m6 1h0m-11 2h0m6 10h0m8 14h0m-15 12h0m7 4h0m12 12h0m-11 2h0m-10 14h0m21 10h0m-14 3h0m8 2h0m-5 20h0m-3 21h0m14 178h0m-11 29h0m-2 5h0m-8 24h0m10 4h0m8 27h0m-6 14h0m-9 1h0m6 18h0m4 8h0m-5 2h0m9 10h0m3 13h0m-3 20h0m30-1h0m-4-3h0m-9-4h0m7-11h0m-5-4h0m-11-20h0m19-1h0m-13-18h0m-1-1h0m6-28h0m-12-5h0m22-17h0m-22-9h0m16-4h0m-13-8h0m16-3h0m4-12h0m-14-18h0m-6-71h0m-3-53h0m16-69h0m-12-21h0m-4-6h0m3-1h0m11-5h0m5-6h0m-5-26h0m5-2h0m1-6h0m2-8h0m-12-3h0m-8-8h0m18-5h0m-4-1h0m-16-20h0m23-2h0m-22-6h0m8-1h0m-7-3h0m16-2h0m-5-5h0m-7 0h0m17-1h0m-4-2h0m-5 0h0m3-9h0m6-3h0m-15-11h0m10-1h0m-11-2h0m13-2h0m-4-3h0m-6-1h0m7-1h0m-2-7h0m-4-1h0m2-5h0m-12 0h0m19-4h0m-2-7h0m-14-4h0m13-5h0m-7-6h0m11-7h0m1-6h0m-7-2h0m2-4h0m2-5h0m-1 0h0m-11-7h0m12-1h0m-11-2h0m31-27h0m1 2h0m-6 4h0m4 1h0m-5 5h0m-6 1h0m19 2h0m-5 1h0m-11 0h0m8 0h0m2 0h0m2 4h0m-6 0h0m1 3h0m-6 1h0m14 6h0m-3 1h0m-4 1h0m-5 5h0m5 1h0m-6 1h0m15 3h0m-2 1h0m-2 9h0m-3 2h0m7 6h0m-1 2h0m-16 1h0m9 3h0m-12 3h0m17 5h0m0 8h0m-3 1h0m6 3h0m-19 4h0m11 1h0m-12 3h0m16 3h0m-18 6h0m7 2h0m8 11h0m-4 0h0m-4 4h0m6 6h0m-13 1h0m0 1h0m0 4h0m5 0h0m16 3h0m-10 12h0m5 4h0m3 0h0m-2 2h0m-1 2h0m-16 1h0m22 3h0m-8 6h0m-7 0h0m-8 9h0m17 1h0m-10 7h0m6 1h0m-8 7h0m-3 0h0m2 4h0m-2 10h0m13 5h0m4 11h0m-6 1h0m-3 5h0m-8 17h0m-1 94h0m12 116h0m-13 0h0m14 1h0m-14 7h0m0 2h0m2 35h0m18 5h0m-17 6h0m19 19h0m-21 32h0m1 3h0m1 4h0m2 2h0m18 17h0m-11 3h0m-9 17h0m-2 4h0m16 1h0m-2 2h0m-10 1h0m8 12h0m27 12h0m-2-15h0m-7-3h0m-4-3h0m1 0h0m17 0h0m0-6h0m-20-15h0m12-12h0m8-8h0m-7-11h0m5-4h0m-2-1h0m-9-2h0m2-3h0m-6-12h0m10-1h0m-2-48h0m1-5h0m7-8h0m0-8h0m3-3h0m-16-5h0m5-8h0m-8-10h0m-2-4h0m3-9h0m9-19h0m-2 0h0m-7-2h0m-3-1h0m7-204h0m-8-40h0m0-1h0m5-29h0m3-2h0m-6-9h0m0-1h0m4-3h0m-4-3h0m13-10h0m-8-7h0m1-4h0m-3 0h0m8 0h0m-2-13h0m-9-8h0m7-2h0m6-4h0m-4-4h0m-8-4h0m2-6h0m7-1h0m-6-7h0m1 0h0m5-3h0m-1-5h0m-12-1h0m5-8h0m4-6h0m-1-13h0m-4-1h0m38 52h0m-14 9h0m12 12h0m-15 7h0m4 29h0m4 194h0m14 174h0m-10 3h0m-7 7h0m2 7h0m-7 8h0m19 1h0m-18 5h0m13 12h0m-6 1h0m12 7h0m-8 38h0m9 30h0m-20 1h0m-1 3h0m8 1h0m-8 0h0m16 17h0m15-9h0m13-25h0m-17-5h0m0-6h0m14-1h0m-2-1h0m2-3h0m1-20h0m-15-20h0m2-7h0m-3-5h0m5-1h0m-8-7h0m13-259h0m-13-17h0m9-10h0m-1-98h0m9-5h0m-1-3h0m5-1h0m1-7h0m-3-1h0m0-1h0m-4-20h0m28 12h0m-2 1h0m-10 1h0m-5 1h0m21 2h0m-18 1h0m9 1h0m-5 2h0m-1 2h0m10 2h0m4 0h0m-16 1h0m7 6h0m10 4h0m-22 4h0m27 451h0m5-5h0m13-448h0m-6-1h0m7 0h0m-15-2h0m12-7h0m-13-1h0m-6 0h0m21-3h0m-4 0h0m-13-4h0m9-3h0m9-4h0m-6 0h0m2-4h0m7 1h0m11 3h0m-8 1h0m2 4h0m10 4h0m-15 30h0m86 191h0m-13-117h0m92 104h0m-12 10h0"/>
<path stroke="#0b0b86" d="M927 1182h0m7 22h0m6-41h0m15-18h0m-4-40h0m29-67h0m-9 26h0m6 10h0m1 33h0m-11 5h0m-3 0h0m-3 32h0m12 20h0m-6 24h0m35 59h0m-12-47h0m13-57h0m0 0h0m-17-5h0m11-15h0m0-9h0m-13-39h0m31-68h0m-6 14h0m6 10h0m-4 10h0m17 69h0m-1 75h0m1 50h0m12 24h0m4-51h0m-11-18h0m9-20h0m11-76h0m-8-55h0m24-44h0m9 5h0m-4 24h0m1 10h0m2 60h0m-5 31h0m-11 43h0m6 19h0m8 37h0m-6 38h0m31 33h0m1-55h0m-2-14h0m-17-69h0m7-46h0m12-32h0m-4 0h0m-12-36h0m11-43h0m-11-23h0m18-17h0m0-5h0m8 119h0m13 72h0m-18 21h0m-2 28h0m20 2h0m-14 6h0m8 5h0m8 16h0m-14 15h0m38-118h0m-22-3h0m21-132h0m2-47h0m3 26h0m5 42h0m1 42h0m4 0h0m-8 26h0m16 6h0m-20 111h0m6 19h0m-5 68h0m45 27h0m-8-364h0m19-1h0m0 16h0m-5 231h0m17 106h0m-16 2h0m-2 4h0m18 25h0m-2 6h0m19 3h0m-12-6h0m4-6h0m2-1h0m-7-2h0m2-3h0m-3-1h0m0-14h0m5-10h0m12-53h0m14-276h0m4 41h0m8 6h0m-11 24h0m10 29h0m-8 24h0m-10 1h0m6 34h0m10 6h0m-10 26h0m8 122h0m-10 21h0m4 6h0m-4 2h0m12 17h0m4 4h0m-12 3h0m9 9h0m-1 0h0m-9 6h0m39 36h0m0-10h0m1-2h0m-1-5h0m-2-14h0m0-7h0m-4-5h0m-9 0h0m8-6h0m4-2h0m-18-6h0m0-2h0m3 0h0m8-4h0m11 0h0m-11-15h0m5 0h0m-9-15h0m15-1h0m-1-4h0m-13-1h0m13-4h0m-18-25h0m0-38h0m14-19h0m-9-29h0m-7-1h0m21-64h0m-6-2h0m-10 0h0m0-2h0m8-12h0m-5-12h0m-6-29h0m13-7h0m-9-2h0m7-13h0m-15-22h0m2-24h0m3-15h0m7-1h0m-10-2h0m17-36h0m11 56h0m13 17h0m-5 28h0m1 19h0m6 5h0m-2 19h0m-17 5h0m18 14h0m-12 8h0m3 8h0m9 50h0m-10 5h0m-1 6h0m6 6h0m8 37h0m-7 38h0m-3 14h0m2 14h0m6 2h0m-17 7h0m19 5h0m-2 2h0m-14 1h0m-1 4h0m3 2h0m10 2h0m-5 4h0m-7 2h0m16 5h0m-5 2h0m4 4h0m-11 1h0m1 0h0m-12 2h0m21 2h0m-13 5h0m6 1h0m4 3h0m-13 4h0m15 4h0m-16 1h0m16 2h0m-16 1h0m-1 1h0m6 4h0m-5 3h0m18 0h0m-5 0h0m-5 2h0m6 4h0m-11 2h0m-5 2h0m19 5h0m-14 2h0m-3 1h0m10 1h0m9 0h0m-20 4h0m12 2h0m4 3h0m-10 2h0m-9 0h0m20 1h0m3 0h0m-1 5h0m-11 1h0m7 0h0m2 0h0m-9 1h0m-9 1h0m7 6h0m13 2h0m-10 2h0m-12 5h0m23 2h0m0 0h0m-19 6h0m9 0h0m6 0h0m2 1h0m-1 2h0m-9 1h0m-2 3h0m3 0h0m27 37h0m5-8h0m0-3h0m2-2h0m0-5h0m-13-6h0m-5-1h0m-3-2h0m3-1h0m9-1h0m-4-1h0m-7-1h0m-1-2h0m21 0h0m-2-4h0m-7 0h0m7-1h0m-7-1h0m4-2h0m-8-2h0m11-1h0m3-5h0m-1 0h0m-1-2h0m-14-1h0m7 0h0m4 0h0m1-1h0m-12-2h0m-5-1h0m10-2h0m0-3h0m-3-1h0m-7-1h0m-1-2h0m9-1h0m0 0h0m-10-1h0m21-1h0m-21 0h0m11-5h0m-1-1h0m1 0h0m-2 0h0m9 0h0m5-1h0m-5 0h0m-18-1h0m12 0h0m-8-2h0m4-1h0m9 0h0m5 0h0m-17-1h0m-1-2h0m-3-2h0m6-1h0m7 0h0m-9-2h0m0-1h0m-2-2h0m14 0h0m6-3h0m-15 0h0m13-5h0m-14-3h0m13-2h0m2 0h0m-14 0h0m-6-1h0m0-6h0m19 0h0m-10-2h0m-1-1h0m-1-6h0m7-5h0m2-1h0m-1-7h0m-5 0h0m2-2h0m-8-3h0m17-3h0m-22-1h0m8-1h0m0-4h0m-1-6h0m2-7h0m7-7h0m2-1h0m-6-4h0m1-6h0m-7-1h0m-7 0h0m21-4h0m2-1h0m-19-5h0m-3-10h0m15-6h0m-2-19h0m-14-9h0m23-7h0m0-10h0m-17-4h0m13-13h0m0-15h0m-9-121h0m-1-32h0m1-29h0m-10-13h0m9-56h0m15-4h0m22 5h0m-15 27h0m1 27h0m4 149h0m-7 51h0m12 22h0m1 16h0m-11 11h0m1 28h0m-5 5h0m1 5h0m-3 6h0m5 10h0m11 8h0m-12 0h0m5 1h0m-10 5h0m10 0h0m3 4h0m-8 2h0m7 1h0m3 9h0m-8 5h0m7 5h0m-6 8h0m1 1h0m-6 8h0m20 0h0m-12 4h0m12 2h0m-10 5h0m-11 1h0m15 1h0m-2 3h0m5 0h0m-6 1h0m2 4h0m7 2h0m-3 1h0m-10 1h0m4 0h0m5 0h0m2 1h0m-16 5h0m16 1h0m-2 0h0m-7 1h0m-11 1h0m6 0h0m-2 2h0m2 1h0m-2 0h0m7 1h0m2 1h0m4 0h0m-11 0h0m10 0h0m-4 1h0m-3 1h0m-9 7h0m7 1h0m14 4h0m-8 0h0m-3 1h0m-3 0h0m14 4h0m-22 8h0m13 1h0m-13 2h0m17 5h0m-11 1h0m7 0h0m-2 0h0m0 2h0m-11 0h0m3 2h0m15 1h0m-8 2h0m-10 3h0m2 1h0m1 4h0m14 1h0m-9 0h0m7 1h0m-1 0h0m-4 1h0m1 1h0m11 2h0m-11 2h0m-8 1h0m8 1h0m12 4h0m-4 1h0m-1 0h0m-5 5h0m10 1h0m-6 3h0m2 5h0m18 4h0m1-2h0m4-1h0m-3-2h0m5-2h0m-13-1h0m7-3h0m-2-2h0m6-3h0m-10-4h0m-5-1h0m14 0h0m-13 0h0m10-2h0m-12-1h0m0-3h0m21-1h0m-6-3h0m-2-5h0m-11 0h0m4-4h0m13-1h0m2-1h0m-8-1h0m4-1h0m-4-2h0m0 0h0m-8-2h0m-2-1h0m13-1h0m-6-1h0m-11-1h0m14 0h0m-4-5h0m-11-1h0m17-1h0m-3-2h0m9-4h0m-14-1h0m0-2h0m-1-3h0m2 0h0m11-1h0m-2 0h0m-16-1h0m11-6h0m8 0h0m-11 0h0m-5-4h0m14-6h0m-19 0h0m11-1h0m3-1h0m5-1h0m-10-1h0m8-1h0m-18 0h0m21-2h0m-1 0h0m-4-1h0m-4 0h0m-1-2h0m7 0h0m-5-1h0m4 0h0m-8-3h0m-1 0h0m9 0h0m3-2h0m-16-1h0m-2-1h0m1 0h0m5-1h0m-7 0h0m21 0h0m-8-1h0m-3-9h0m-5-1h0m-4-2h0m11-1h0m-1-1h0m7 0h0m3-1h0m-2-5h0m-14-1h0m16-3h0m-17 0h0m13-3h0m-12 0h0m14-3h0m-4 0h0m0-1h0m-5-2h0m-9-2h0m11-2h0m-1-13h0m-10-2h0m20-1h0m-13-12h0m9-1h0m-15 0h0m1-6h0m4-6h0m-1-5h0m-4-4h0m9-2h0m-3-28h0m4-18h0m3-2h0m5-108h0m-17-18h0m9-75h0m2-63h0m10 11h0m18 62h0m-4 116h0m-2 4h0m0 78h0m-9 19h0m18 17h0m-13 6h0m-1 3h0m2 10h0m-1 2h0m2 0h0m5 3h0m-1 5h0m7 1h0m-15 7h0m-7 9h0m13 10h0m-8 5h0m5 6h0m-5 3h0m12 3h0m-14 0h0m9 1h0m2 1h0m6 1h0m-7 2h0m-7 1h0m9 0h0m-12 3h0m18 4h0m-13 1h0m6 1h0m-3 0h0m2 1h0m-7 5h0m11 1h0m2 5h0m-2 2h0m5 3h0m-21 0h0m20 1h0m-20 1h0m20 2h0m-3 2h0m1 1h0m-10 1h0m12 1h0m-19 1h0m17 0h0m-14 4h0m-4 0h0m16 1h0m-12 6h0m2 4h0m9 6h0m0 1h0m-5 2h0m5 0h0m6 3h0m-8 0h0m-11 3h0m5 0h0m4 1h0m10 0h0m-12 1h0m6 0h0m7 3h0m-21 2h0m12 0h0m-3 2h0m11 1h0m0 1h0m-3 3h0m-5 2h0m8 1h0m-19 3h0m7 2h0m12 0h0m-17 0h0m4 2h0m7 1h0m-2 3h0m8 2h0m-20 1h0m21 1h0m-16 2h0m16 1h0m-9 2h0m-8 0h0m-6 1h0m16 0h0m-5 5h0m-10 5h0m2 3h0m10 12h0m10 45h0m-1 12h0m25 45h0m-3-2h0m-9-6h0m12-6h0m-5-1h0m-18-1h0m23-16h0m-11-2h0m-4-4h0m15-4h0m-17-2h0m-4-13h0m11-5h0m-5-3h0m-1-5h0m13-10h0m-3-3h0m2-10h0m-3-7h0m-14-14h0m18-1h0m-19 0h0m11-9h0m11 0h0m-18-12h0m5-1h0m-9-9h0m22-1h0m-5-4h0m-7-1h0m-9 0h0m17 0h0m-3-2h0m1-3h0m-13-1h0m14-3h0m-1-2h0m1 0h0m-3-1h0m8 0h0m-2 0h0m-17-2h0m-4-1h0m7 0h0m4-2h0m-2-1h0m9-2h0m4-3h0m-14-1h0m-3 0h0m-5-1h0m13 0h0m-11-2h0m9-1h0m-3-1h0m-3-1h0m6-2h0m-9 0h0m1-2h0m16-1h0m3 0h0m-19-2h0m0-2h0m0-1h0m4 0h0m-4-1h0m-1-2h0m3-1h0m-4 0h0m0-1h0m-1-1h0m9-2h0m10 0h0m-1-5h0m5-1h0m-8-1h0m1 0h0m-7-5h0m9-6h0m2 0h0m-8-3h0m0-5h0m11 0h0m-8-3h0m4-10h0m-6-1h0m6-2h0m0-1h0m-7-1h0m3-5h0m-1 0h0m-13-6h0m5-6h0m9-2h0m0 0h0m-5 0h0m-2-1h0m-3-2h0m2-2h0m-4-1h0m1-12h0m14-4h0m-1-5h0m-11-2h0m-3-5h0m7-2h0m4-3h0m-11 0h0m11-3h0m4-6h0m-12-4h0m3-1h0m-3-1h0m3-16h0m10-5h0m-4-4h0m4-1h0m-2-24h0m4-97h0m-11-75h0m3-20h0m-6-67h0m19 68h0m5 0h0m8 4h0m-11 0h0m10 186h0m-13 30h0m20 7h0m-1 16h0m-18 3h0m10 2h0m-2 6h0m-1 2h0m5 11h0m-6 8h0m12 7h0m-6 0h0m-2 1h0m11 10h0m-23 0h0m10 2h0m11 11h0m-13 0h0m10 2h0m-14 3h0m9 1h0m-9 5h0m19 3h0m-13 2h0m-8 0h0m5 2h0m10 0h0m2 0h0m-16 10h0m14 1h0m3 0h0m-3 3h0m-8 5h0m2 0h0m-9 3h0m5 1h0m11 4h0m-7 6h0m4 8h0m4 1h0m3 1h0m-17 1h0m11 2h0m-14 7h0m-2 2h0m17 0h0m-13 2h0m17 4h0m0 0h0m-11 1h0m3 1h0m7 16h0m-15 1h0m-3 2h0m7 5h0m-4 1h0m2 3h0m16 0h0m-12 1h0m-4 4h0m-5 6h0m0 2h0m21 3h0m-2 6h0m1 5h0m0 2h0m-12 22h0m-8 0h0m14 9h0m-10 3h0m17 3h0m-8 2h0m3 1h0m4 7h0m0 1h0m-20 2h0m-1 4h0m19 3h0m-13 0h0m5 0h0m10 3h0m-15 0h0m6 2h0m-3 2h0m13 0h0m-3 0h0m-11 5h0m-9 11h0m10 3h0m12 0h0m-3 9h0m-13 12h0m9 0h0m-13 3h0m7 1h0m5 0h0m-6 3h0m12 5h0m-7 4h0m-6 3h0m6 0h0m9 6h0m-7 1h0m-5 9h0m37 12h0m-10-1h0m6 0h0m3-1h0m-12-1h0m-2-11h0m-3 0h0m0-2h0m-2-4h0m14-2h0m2-7h0m-1 0h0m-6-2h0m-7-1h0m17-1h0m-5-1h0m-16 0h0m18-3h0m-7-1h0m-1-7h0m-10-5h0m19 0h0m-13 0h0m-6-1h0m0-4h0m15-13h0m1-16h0m-1-1h0m-4-10h0m-11-6h0m11-2h0m-11-2h0m-1-8h0m5-1h0m12-3h0m-10-4h0m2 0h0m-8-3h0m17-2h0m1-5h0m-15-1h0m-1 0h0m19-15h0m-9-10h0m2-4h0m-14-1h0m12-2h0m3-2h0m5-2h0m-12-27h0m0-2h0m-2-4h0m-1 0h0m0-5h0m13 0h0m-16-6h0m-1-7h0m11-1h0m5-5h0m-3-1h0m2 0h0m-6-1h0m8-3h0m-3 0h0m-3-2h0m-1-1h0m-12-1h0m5-3h0m8 0h0m-1-2h0m-4-2h0m1-1h0m3-7h0m-8 0h0m12-2h0m-9-1h0m1 0h0m-8 0h0m16-1h0m-7-3h0m6-5h0m8 0h0m-15-5h0m4-5h0m10-1h0m1-6h0m-5-2h0m-14 0h0m-4-1h0m9-3h0m13-1h0m-7-2h0m-12-4h0m11-2h0m6-2h0m-20-1h0m13-8h0m5-10h0m5-1h0m-20 0h0m14-1h0m-14-1h0m14 0h0m5-3h0m-16-2h0m7-2h0m7-1h0m-13-5h0m7-2h0m3-4h0m-8-2h0m10-1h0m-4-2h0m-11-4h0m16-6h0m-17-2h0m-2-8h0m20-13h0m-19-12h0m7-27h0m13-76h0m-7-20h0m-2-8h0m4 0h0m5-14h0m-2-23h0m20-30h0m6 5h0m-1 6h0m0 4h0m2 1h0m0 6h0m0 17h0m0 5h0m-2 1h0m-18 4h0m16 3h0m-11 8h0m2 1h0m6 1h0m3 3h0m4 8h0m0 1h0m-1 3h0m-10 6h0m-9 5h0m-3 6h0m16 6h0m-4 1h0m4 5h0m-12 88h0m-1 10h0m17 4h0m-6 11h0m-7 2h0m10 12h0m0 12h0m-9 5h0m12 3h0m-7 1h0m-10 2h0m19 0h0m0 4h0m-15 12h0m15 1h0m-2 0h0m-1 1h0m-9 1h0m-3 4h0m2 0h0m-1 1h0m0 1h0m9 1h0m-15 0h0m20 8h0m-2 4h0m3 1h0m-10 6h0m5 1h0m-4 2h0m-10 5h0m6 1h0m1 8h0m-5 2h0m-6 0h0m10 1h0m11 2h0m-1 1h0m-20 0h0m8 1h0m-1 1h0m11 6h0m-13 1h0m-1 3h0m4 0h0m-6 2h0m13 5h0m-11 4h0m9 1h0m-2 8h0m-10 1h0m2 4h0m8 28h0m-4 16h0m3 1h0m2 10h0m6 7h0m5 5h0m-18 15h0m-1 5h0m8 2h0m-8 1h0m-4 14h0m17 2h0m-13 5h0m1 1h0m3 1h0m-2 7h0m-2 2h0m7 1h0m-9 6h0m10 1h0m-11 6h0m15 1h0m7 14h0m-18 6h0m16 2h0m-9 1h0m10 10h0m1 5h0m-4 1h0m-19 8h0m1 0h0m19 3h0m-9 10h0m12 2h0m-5 4h0m-17 7h0m17 1h0m-2 9h0m7 1h0m-10 0h0m2 1h0m4 5h0m3 4h0m-10 3h0m11 13h0m18-6h0m3-5h0m-18-2h0m7 0h0m9-10h0m-9-1h0m-3-2h0m-5-1h0m8-2h0m1-3h0m9 0h0m-3-2h0m-4-3h0m4-4h0m-6-1h0m13 0h0m-13-2h0m12-2h0m-19 0h0m5-2h0m6-2h0m-13 0h0m7-2h0m-8-2h0m22-2h0m-7-1h0m-6-4h0m6-7h0m7-1h0m1-3h0m-15-2h0m-5 0h0m-2-1h0m7 0h0m4-1h0m5 0h0m-7-5h0m-5 0h0m17-1h0m-14-1h0m-3-9h0m16-1h0m-17-11h0m12-2h0m1-1h0m-3 0h0m-13-1h0m12-3h0m5-1h0m-8-9h0m-9-1h0m16-6h0m-17-10h0m14-2h0m0-9h0m-4-2h0m-10-2h0m9-1h0m13-1h0m-4-2h0m-1-1h0m1 0h0m-9-2h0m3-2h0m-2-1h0m1-7h0m11-5h0m-18-3h0m-3-14h0m-1-2h0m9-2h0m2-3h0m-2-3h0m0-1h0m8-2h0m0-11h0m-3-2h0m-8-6h0m-6-42h0m15 0h0m-2 0h0m-12-6h0m0-1h0m5 0h0m12-2h0m-10 0h0m-8-3h0m12 0h0m2 0h0m-2-3h0m-6-4h0m-1-1h0m-3-4h0m19-2h0m-19-2h0m16-3h0m-6-1h0m11-2h0m-15-3h0m-5-1h0m15-5h0m-18-2h0m17-11h0m5-4h0m-13-30h0m0-1h0m-8-1h0m10-3h0m8-2h0m-13-6h0m-4-7h0m11-2h0m-6-2h0m0-15h0m8-17h0m-13-5h0m0-47h0m5-8h0m9-15h0m-5-10h0m-7-2h0m9-3h0m4-3h0m-6-13h0m-5-1h0m9-3h0m-6-8h0m-9-5h0m15-8h0m-3-12h0m-7-10h0m6 0h0m9 0h0m2-3h0m0-4h0m-4-1h0m-15-3h0m3-3h0m13-4h0m-9 0h0m7-1h0m-9-24h0m-7-4h0m22 0h0m0-9h0m-15-5h0m3-15h0m11-4h0m12-4h0m-5 7h0m11 10h0m-15 2h0m7 2h0m7 1h0m-15 11h0m8 14h0m14 1h0m-3 4h0m-1 0h0m-12 12h0m12 5h0m-6 0h0m-10 2h0m14 14h0m-4 6h0m-3 7h0m5 8h0m-11 5h0m20 2h0m-22 0h0m13 1h0m4 3h0m-11 7h0m-6 2h0m20 2h0m-21 2h0m7 0h0m13 1h0m-15 8h0m-4 3h0m22 4h0m-17 13h0m11 8h0m-14 31h0m4 3h0m-1 1h0m3 18h0m-8 12h0m11 2h0m-12 27h0m10 3h0m4 50h0m9 8h0m-21 6h0m13 7h0m-9 0h0m11 9h0m-13 1h0m-4 4h0m3 0h0m12 5h0m-12 1h0m2 1h0m7 0h0m7 1h0m-10 2h0m11 1h0m-8 3h0m4 1h0m1 1h0m3 0h0m-12 5h0m1 0h0m0 0h0m-8 13h0m9 35h0m8 1h0m2 11h0m-9 19h0m12 1h0m-11 2h0m-2 9h0m9 3h0m-19 1h0m13 7h0m-6 1h0m9 0h0m-8 9h0m-7 2h0m6 3h0m-2 2h0m14 3h0m-10 1h0m-6 1h0m1 1h0m17 1h0m-5 3h0m-3 2h0m8 6h0m-7 11h0m-9 6h0m11 2h0m4 13h0m-3 1h0m-9 8h0m-6 2h0m21 12h0m-3 3h0m-6 0h0m-10 2h0m9 1h0m-12 3h0m-1 0h0m16 1h0m-16 3h0m5 4h0m10 5h0m-8 1h0m13 1h0m-9 1h0m5 2h0m5 0h0m-1 1h0m-20 3h0m15 2h0m-9 19h0m7 3h0m8 2h0m-14 2h0m0 3h0m12 1h0m-11 1h0m-1 3h0m-1 2h0m13 2h0m-12 4h0m-2 2h0m0 3h0m13 0h0m-5 3h0m-3 1h0m34 5h0m-17-7h0m-2 0h0m11 0h0m-12-1h0m16-2h0m-15-1h0m2-2h0m0-5h0m-1-1h0m12-2h0m0-7h0m-11-4h0m4-1h0m14-3h0m-7-1h0m7-2h0m2-1h0m-7-1h0m-9-2h0m8-4h0m8-4h0m-10-2h0m-5-8h0m-5-2h0m-1-1h0m2-1h0m-1-1h0m17-4h0m-17-2h0m3-3h0m2-1h0m3-2h0m-3-5h0m15-7h0m0-3h0m0-2h0m-20 0h0m0-12h0m-1-1h0m2-9h0m10-3h0m6-1h0m-4-3h0m4-6h0m0-3h0m-4-3h0m-15-1h0m3-1h0m9-9h0m4-8h0m-5-1h0m9-1h0m-6-6h0m-13-1h0m6 0h0m10-8h0m5 0h0m-14-5h0m4-2h0m-3-5h0m1-10h0m6-2h0m-5 0h0m-4-6h0m-7-6h0m14-2h0m-4-4h0m-8-11h0m10-7h0m-4-6h0m-4 0h0m-3-10h0m20-6h0m-17-7h0m18-20h0m-20-8h0m0-33h0m14-1h0m-14-162h0m0-18h0m8-1h0m2-1h0m-7 0h0m1-2h0m2-13h0m13-1h0m-1-10h0m-7-12h0m7-7h0m-1-1h0m1-3h0m-11-2h0m-10-4h0m18-1h0m-13-4h0m-4-9h0m5-16h0m-4-19h0m11-10h0m-8-4h0m-1-8h0m32 65h0m6 33h0m5 0h0m-3 2h0m-13 5h0m-1 217h0m2 103h0m2 8h0m1 18h0m-10 2h0m17 4h0m-4 3h0m-1 1h0m5 1h0m-12 9h0m9 7h0m-15 6h0m20 1h0m0 3h0m-2 5h0m-3 1h0m-5 2h0m3 5h0m-5 2h0m2 1h0m-10 5h0m8 2h0m12 0h0m2 4h0m-8 2h0m-1 6h0m4 17h0m1 2h0m-17 1h0m17 3h0m-14 0h0m13 5h0m1 1h0m3 1h0m-3 8h0m2 3h0m-5 2h0m-14 2h0m7 1h0m-6 0h0m3 1h0m7 3h0m-8 0h0m7 2h0m0 4h0m11 2h0m-7 3h0m5 0h0m3 2h0m-23 0h0m20 6h0m-20 0h0m8 2h0m-1 1h0m-4 5h0m19 4h0m-15 6h0m-4 2h0m18 0h0m-10 1h0m-10 2h0m3 0h0m-2 3h0m23-3h0m4-20h0m4 0h0m10-3h0m-14-12h0m11-1h0m-15-4h0m10-4h0m1-2h0m-3-3h0m1-1h0m-4-2h0m10-1h0m-3-7h0m2 0h0m-6-1h0m0 0h0m-8-4h0m13-1h0m-10 0h0m6-10h0m2-9h0m0-6h0m-9-5h0m4-1h0m3-2h0m-10-5h0m15-4h0m-5-4h0m-3-2h0m-5-1h0m8-9h0m-3-3h0m-7-1h0m6-8h0m-5-36h0m24-314h0m19 445h0m-3 8h0m-10 2h0m4 6h0m-1 0h0m16-9h0m10-16h0m0-2h0m-6-1h0m17-8h0m-9-1h0m5-4h0m-1-433h0m27 0h0m-14 17h0m0 8h0m-1 14h0m17 3h0m-10 4h0m31 30h0m-1-12h0m-17-3h0m4-9h0m37 34h0m-7 9h0m6 5h0m-1 1h0m3 86h0m-9 7h0m12 1h0m-11 1h0m-5 4h0m8 0h0m-6 2h0m7 3h0m-3 0h0m10 4h0m-17 1h0m13 1h0m-9 15h0m32 45h0m-5-7h0m8-1h0m-7-22h0m1 0h0m1-1h0m-3 0h0m-2-1h0m4-1h0m4-7h0m0-1h0m-1-3h0m-14 0h0m7-4h0m6-3h0m-9-1h0m-3 0h0m-1-1h0m6-1h0m-2-1h0m1-1h0m-6-6h0m2-1h0m-5-3h0m16-1h0m3 0h0m1-5h0m-2-2h0m4-1h0m-22-5h0m14-2h0m2-1h0m5-2h0m-6-7h0m-7-7h0m11-2h0m0 0h0m-4-12h0m6-11h0m-4-25h0m-7-3h0m-2-3h0m-1-1h0m9-3h0m-14-8h0m5-2h0m-3 0h0m1-16h0m1-3h0m32 41h0m-14 5h0m10 1h0m13 2h0m-16 1h0m13 6h0m-7 2h0m3 13h0m4 1h0m-9 14h0m2 1h0m-11 5h0m15 1h0m-16 4h0m21 0h0m-8 1h0m-9 6h0m-3 1h0m5 1h0m12 2h0m-9 1h0m0 6h0m0 0h0m9 7h0m-6 6h0m2 2h0m-2 6h0m-10 2h0m7 0h0m11 1h0m-15 10h0m-2 6h0m11 2h0m-5 8h0m6 1h0m3 1h0m-7 8h0m1 1h0m10 1h0m-6 2h0m-13 0h0m2 5h0m-2 2h0m2 2h0m8 0h0m-9 1h0m14 1h0m-15 0h0m0 6h0m1 0h0m14 5h0m14-7h0m8-10h0m-5-1h0m2-2h0m-13 0h0m17-1h0m1-1h0m-19 0h0m11-2h0m9-4h0m3-2h0m-1-1h0m-3-2h0m-3-5h0m-4 0h0m-7-1h0m-2-1h0m18 0h0m-4-1h0m-16 0h0m4-1h0m16 0h0m-14-1h0m8-1h0m-7 0h0m5-1h0m0-1h0m-3 0h0m-9-1h0m16-2h0m6-2h0m-5-1h0m-3 0h0m-5-2h0m6-3h0m0-6h0m3 0h0m-11-2h0m5 0h0m-11-4h0m14-6h0m-11-1h0m13-1h0m2 0h0m-5-1h0m4-5h0m-6-3h0m7 0h0m-6 0h0m2-1h0m-6 0h0m11-5h0m0-1h0m-13-1h0m9-2h0m-3-5h0m-4-1h0m-7-4h0m18-7h0m-3-1h0m-15-4h0m10-3h0m-5 0h0m3-1h0m-5-2h0m13-1h0m-16-6h0m19-1h0m0 0h0m-3-2h0m-8-2h0m11-1h0m-2 0h0m3 0h0m-9-1h0m5-1h0m-2-2h0m-15-2h0m16 0h0m-12-1h0m3 0h0m12-5h0m-11-1h0m11-1h0m7 8h0m-4 3h0m11 0h0m-7 3h0m1 1h0m-2 5h0m2 1h0m-4 1h0m0 0h0m-1 1h0m5 1h0m8 0h0m6 1h0m-7 2h0m-4 2h0m-2 3h0m7 1h0m4 2h0m5 3h0m-12 1h0m13 2h0m-16 1h0m6 1h0m7 3h0m-5 0h0m-12 3h0m11 4h0m-9 2h0m17 1h0m-17 6h0m2 2h0m-3 2h0m12 2h0m-14 2h0m1 3h0m6 3h0m3 1h0m9 2h0m-15 2h0m-3 0h0m-1 0h0m2 2h0m-3 1h0m0 1h0m5 2h0m-3 1h0m18 2h0m-4 0h0m-8 0h0m10 1h0m-5 0h0m5 1h0m-8 1h0m-9 2h0m2 4h0m10 0h0m-3 6h0m1 0h0m-2 3h0m6 1h0m-3 0h0m-13 4h0m12 6h0m-3 3h0m15-38h0m4-2h0m0-18h0m8-11h0m-12-1h0m0 0h0m8-2h0m-8-10h0m1-1h0m-1-11h0m0-1h0"/>
<path stroke="#eba43e" d="M954 1119h0m15 6h0m-6 66h0m24 17h0m16-48h0m-2-72h0m-17-12h0m57 80h0m-2-112h0m27-79h0m10 70h0m-4 32h0m29 157h0m-14-26h0m12-11h0m-1-18h0m-2-2h0m5-20h0m1-3h0m0 0h0m0-15h0m-2-3h0m3-17h0m-5-6h0m-4-8h0m1-15h0m7-1h0m-13-4h0m1-7h0m5-1h0m7 0h0m-3-1h0m-10-4h0m1 0h0m2-19h0m5-2h0m8 4h0m3 7h0m-4 1h0m4 2h0m4 10h0m5 1h0m-10 6h0m10 9h0m-9 0h0m5 14h0m9 1h0m0 2h0m-11 5h0m1 3h0m7 1h0m-8 0h0m3 10h0m4 0h0m2 2h0m-6 0h0m-4 5h0m14 15h0m-20 2h0m3 6h0m15 4h0m-4 2h0m9 0h0m0 1h0m-17 1h0m3 3h0m-4 0h0m17 1h0m-2 3h0m2 0h0m-8 5h0m5 2h0m0 3h0m2 40h0m-17 14h0m6 3h0m7 0h0m-13 12h0m7 4h0m2 10h0m10 4h0m11 52h0m9-13h0m-18-54h0m15-7h0m4-33h0m-6-15h0m-8-1h0m11-2h0m-13-1h0m16-6h0m-18-2h0m6-1h0m5-1h0m-8-9h0m-5-6h0m2-8h0m-2-8h0m28 42h0m5 3h0m-1 2h0m-3 20h0m-5 44h0m12 25h0m-12 1h0m44 5h0m0-46h0m-12-5h0m1-243h0m16-38h0m0 287h0m11 53h0m7 6h0m18 39h0m9-21h0m-1-35h0m-8-54h0m-10-2h0m7-52h0m36-187h0m-7 212h0m-1 13h0m-8 43h0m-5 10h0m4 31h0m13 15h0m-5 25h0m25-35h0m-3-22h0m-8-15h0m8-82h0m6-13h0m4-20h0m-13-12h0m-7-111h0m7-87h0m0-12h0m32-19h0m6 26h0m-14 25h0m2 97h0m3 18h0m9 179h0m22 157h0m-16-55h0m6-5h0m-6-69h0m4-33h0m-4-249h0m14-12h0m-17-38h0m43 171h0m-7 76h0m-3 41h0m0 27h0m4 21h0m-8 16h0m-4 58h0m37-34h0m-13-267h0m6-81h0m-7-59h0m34 351h0m-6 92h0m0 16h0m-2 49h0m36 40h0m2-26h0m-1-248h0m-16-33h0m18-15h0m-4-2h0m4-14h0m-3-1h0m-1-39h0m27 43h0m-16 14h0m13 4h0m8 7h0m-16 4h0m12 185h0m1 65h0m8-40h0m0-73h0m5-110h0m5-21h0m2-1h0m-5-7h0m6-2h0m-2-1h0m1 0h0m-5-1h0m11-7h0m-13-3h0m13-31h0m-13-2h0m3 0h0m2-16h0m28-81h0m2 54h0m-4 27h0m-1 6h0m2 5h0m-9 8h0m2 4h0m3 2h0m1 1h0m-8 32h0m1 15h0m11 2h0m-8 11h0m10 0h0m-10 2h0m3 2h0m-3 0h0m1 1h0m1 3h0m-9 1h0m5 9h0m14 22h0m-17 6h0m8 115h0m-7 30h0m7 177h0m7 37h0m14-230h0m10-44h0m-6-40h0m-4-14h0m0-50h0m-3-4h0m-1-8h0m-4-29h0m10-4h0m3-24h0m5-15h0m2-16h0m-18-5h0m3-4h0m14-8h0m0-31h0m3-2h0m0-6h0m0-64h0m8 64h0m-1 4h0m6 33h0m-1 10h0m9 17h0m-15 5h0m9 9h0m-14 0h0m2 15h0m16 66h0m4 9h0m-1 14h0m-2 9h0m-5 338h0m30-81h0m0-166h0m2-15h0m-1-6h0m-8-13h0m6-9h0m-2-8h0m-2-1h0m-2-13h0m0-2h0m5-2h0m-2-9h0m-13-7h0m9-3h0m3-3h0m4 0h0m-1-2h0m-4-1h0m-1-2h0m-6-2h0m-2-5h0m0-1h0m0-3h0m-5-2h0m9-1h0m-3-3h0m9 0h0m1-3h0m-4-4h0m-2-1h0m-9-4h0m2-1h0m15-1h0m-16-110h0m0-45h0m21-10h0m-15-27h0m35 192h0m-13 4h0m6 1h0m-11 2h0m17 1h0m-3 7h0m4 7h0m2 0h0m0 1h0m-6 9h0m-1 0h0m8 3h0m1 0h0m-2 5h0m1 1h0m-10 2h0m-3 2h0m-6 4h0m7 1h0m-3 0h0m-7 0h0m21 6h0m-12 9h0m14 1h0m-21 1h0m4 4h0m11 2h0m-13 1h0m12 1h0m-10 1h0m8 1h0m-5 2h0m0 3h0m1 2h0m-6 0h0m18 6h0m-15 8h0m10 6h0m-14 0h0m1 2h0m-4 5h0m15 1h0m0 1h0m6 3h0m2 8h0m-9 3h0m-2 1h0m-2 6h0m-8 244h0m25-81h0m1-172h0m12-7h0m-16-1h0m15 0h0m-5-1h0m-4-9h0m5-1h0m0-6h0m-1-1h0m6-1h0m-13-8h0m6-1h0m-3-1h0m-4-2h0m8-2h0m-9-4h0m6-5h0m-7-8h0m4 0h0m-3-3h0m1-2h0m2-3h0m8-9h0m0 0h0m-5-1h0m-5-3h0m3-1h0m4-4h0m-6-2h0m-1 0h0m9-1h0m8-1h0m-1-1h0m-6-2h0m-5-1h0m6-1h0m-2-1h0m-3-1h0m3-2h0m5-1h0m-16-1h0m0 0h0m1 0h0m4-1h0m15-1h0m-6 0h0m9-1h0m-22-1h0m7 0h0m-5-1h0m-3-1h0m2-2h0m1-7h0m32-121h0m-2 22h0m49 0h0m43 53h0m82 123h0"/>
<path stroke="#4e9a4e" d="M1376 1424h0m44-129h0m8-25h0m76-223h0m2 50h0m17-48h0m18-28h0m17 6h0m-16 11h0m9 4h0m-2 539h0m21-541h0m2-32h0"/>
<path stroke="#7b2a6e" d="M923 1124h0m11 13h0m-12 0h0m13 8h0m-13 2h0m5 1h0m-3 1h0m-8 3h0m5 7h0m9 0h0m-3 0h0m-1 3h0m-2 4h0m-5 6h0m12 4h0m0 6h0m1 1h0m1 1h0m2 2h0m-11 2h0m7 0h0m-5 1h0m3 6h0m24 25h0m-6-15h0m4-7h0m-12-7h0m11-1h0m5 0h0m0 0h0m-12-1h0m16-2h0m-4-3h0m-8-2h0m5-3h0m-9-3h0m13-1h0m-7 0h0m3-1h0m7 0h0m-17-1h0m2-1h0m5-1h0m8-4h0m-5 0h0m-16-1h0m11-2h0m2 0h0m-2-3h0m-2-1h0m-6-4h0m4-4h0m-6-2h0m6-4h0m0 0h0m-7-1h0m11-4h0m-6-3h0m4 0h0m-3-1h0m11 0h0m-3 0h0m-1-2h0m0-1h0m4-2h0m-11-3h0m-5 0h0m18-3h0m-10-1h0m4-1h0m5-4h0m1-2h0m-13 0h0m5 0h0m-3-3h0m10-2h0m-1-1h0m-7 0h0m13-1h0m-14-1h0m1-2h0m12-1h0m-10-1h0m10-3h0m-15-1h0m12-1h0m4-1h0m-8-7h0m3-6h0m3-11h0m2-2h0m-11 0h0m5 0h0m5-4h0m19-39h0m6 3h0m-3 2h0m-7 3h0m10 13h0m-12 3h0m-6 4h0m11 2h0m2 7h0m1 1h0m-10 1h0m-3 1h0m1 1h0m-2 1h0m10 1h0m4 5h0m0 2h0m-13 3h0m0 1h0m5 2h0m8 3h0m-6 1h0m8 1h0m-20 1h0m17 2h0m3 2h0m-14 0h0m-7 0h0m1 1h0m15 4h0m4 0h0m-7 1h0m8 5h0m-8 3h0m3 2h0m-1 0h0m-7 0h0m-3 4h0m-3 1h0m1 0h0m8 2h0m6 2h0m0 1h0m-5 1h0m-4 7h0m12 2h0m1 4h0m-14 1h0m-5 2h0m19 1h0m-19 0h0m6 8h0m-1 0h0m-3 0h0m-2 0h0m18 1h0m-5 1h0m-4 2h0m-3 0h0m8 1h0m-4 3h0m8 2h0m-6 2h0m6 1h0m-13 1h0m2 2h0m7 5h0m-9 2h0m15 2h0m-13 0h0m5 0h0m-10 3h0m13 1h0m-15 1h0m14 0h0m5 5h0m-20 2h0m5 2h0m16 9h0m-10 0h0m8 2h0m-15 0h0m4 1h0m7 4h0m7 1h0m-5 0h0m4 1h0m-5 1h0m6 4h0m-15 4h0m1 4h0m10 1h0m-5 1h0m-7 1h0m-1 1h0m-2 1h0m9 11h0m23 9h0m6-2h0m-3-1h0m-15 0h0m9-6h0m-2-7h0m7-7h0m-2-3h0m3-6h0m3-11h0m0-1h0m3-2h0m-12-1h0m-3-5h0m5-10h0m-10-2h0m3 0h0m4-1h0m13 0h0m-20-8h0m6-2h0m-7 0h0m3 0h0m7-1h0m6-1h0m7-1h0m-15-3h0m-4-3h0m18-3h0m-15-2h0m-2 0h0m14-1h0m-15-2h0m9-1h0m9-1h0m-5-1h0m-4-1h0m-4 0h0m-6-2h0m-1-8h0m3-1h0m5-1h0m3 0h0m0-8h0m5-1h0m-12-1h0m13-1h0m2 0h0m-17-2h0m15 0h0m-1-1h0m-4-1h0m-1-2h0m2-2h0m-12 0h0m1-3h0m-2 0h0m14-5h0m-3 0h0m1-1h0m4 0h0m-12-1h0m2 0h0m-4-3h0m15 0h0m-12-4h0m16-7h0m-13 0h0m-4-1h0m15 0h0m0-1h0m-3 0h0m-1-1h0m-13-2h0m18-3h0m-18 0h0m-1-1h0m-1 0h0m14-4h0m-6-3h0m-9 0h0m13 0h0m-7-2h0m4-2h0m-10-6h0m6 0h0m11-5h0m-1 0h0m-5-2h0m-3-6h0m0 0h0m-5-2h0m-1-3h0m4-2h0m16 0h0m-21-1h0m14-6h0m-10-1h0m9-1h0m1-1h0m-1 0h0m-5-1h0m-7-2h0m8-8h0m9-1h0m-7-4h0m-2-6h0m12-1h0m-18-1h0m8-4h0m10-2h0m-10-3h0m9-6h0m-2-2h0m1-1h0m23-35h0m-6 16h0m-14 6h0m9 7h0m0 12h0m8 2h0m-11 2h0m-6 1h0m17 2h0m-2 3h0m5 1h0m-3 8h0m-10 4h0m1 1h0m14 2h0m-15 6h0m-5 2h0m11 0h0m-2 2h0m-8 2h0m3 1h0m9 1h0m4 0h0m-15 4h0m-2 1h0m18 0h0m-13 0h0m9 2h0m3 6h0m0 1h0m-5 0h0m1 1h0m4 2h0m-11 2h0m9 2h0m-9 0h0m3 1h0m1 0h0m11 4h0m-14 0h0m-4 1h0m9 1h0m-7 3h0m1 2h0m6 4h0m-2 0h0m6 0h0m-8 3h0m6 5h0m-15 1h0m-1 3h0m13 1h0m-4 0h0m0 2h0m5 0h0m-7 2h0m-7 3h0m9 0h0m-6 0h0m2 1h0m4 12h0m0 0h0m-6 2h0m15 2h0m-8 2h0m-5 1h0m-2 2h0m7 5h0m13 1h0m-2 2h0m0 0h0m-21 1h0m14 2h0m-14 2h0m16 1h0m7 3h0m0 8h0m-12 0h0m-11 3h0m16 4h0m-10 1h0m-3 8h0m11 3h0m-7 1h0m10 3h0m3 0h0m-14 1h0m-6 2h0m4 3h0m15 0h0m0 2h0m-6 1h0m7 2h0m-8 2h0m0 3h0m6 3h0m4 0h0m-16 0h0m2 2h0m10 1h0m-5 0h0m-8 2h0m13 2h0m-2 4h0m-15 1h0m17 2h0m-11 2h0m3 4h0m-10 3h0m11 5h0m-8 6h0m10 1h0m-11 4h0m9 6h0m0 0h0m-8 1h0m15 5h0m-16 4h0m12 6h0m-14 1h0m9 5h0m-7 4h0m14 0h0m-7 6h0m25 14h0m6-2h0m1-7h0m2-13h0m-13-3h0m0-1h0m13-1h0m-4-1h0m3-1h0m-5-1h0m-1 0h0m-10-2h0m0-6h0m0-8h0m15-8h0m-16-3h0m20-4h0m-2-4h0m2-4h0m-19 0h0m11 0h0m-7-2h0m14-6h0m1 0h0m-3-1h0m2-1h0m-14 0h0m16-2h0m-15 0h0m2-1h0m9-4h0m-1 0h0m2-1h0m4 0h0m-16-5h0m2-3h0m-6 0h0m10-1h0m-8-2h0m10-15h0m1 0h0m-3-1h0m-2-1h0m-3 0h0m4-2h0m0-6h0m10-1h0m-11-1h0m-7-1h0m7 0h0m12 0h0m-5-1h0m-12-1h0m12-6h0m1-4h0m-9-2h0m8-2h0m-5-1h0m-11 0h0m-2 0h0m17 0h0m-14-1h0m3-1h0m9-4h0m-4-3h0m8-1h0m-13-2h0m0 0h0m8-4h0m4-3h0m0-3h0m-15 0h0m13-9h0m0 0h0m0-1h0m-6 0h0m-9-5h0m2-2h0m16 0h0m-13-1h0m15-1h0m-7-3h0m1-1h0m-6-1h0m12-2h0m-11-1h0m-4-4h0m10-2h0m-9-2h0m2 0h0m-6-2h0m3-1h0m-1-1h0m0-1h0m-5 0h0m14-4h0m-11-4h0m5-2h0m1-3h0m-2-2h0m-5-1h0m10-3h0m-3-9h0m-3-10h0m10-1h0m-1-5h0m8-5h0m-11-4h0m11-7h0m-21-5h0m4 0h0m8-12h0m-4-4h0m-6 0h0m10-8h0m-11-2h0m5-1h0m-6-4h0m-1-5h0m9 0h0m12 0h0m-8-5h0m-9-6h0m6-2h0m3-6h0m9 0h0m-6 0h0m-6-4h0m5-6h0m11 0h0m6 4h0m6 1h0m-4 1h0m-2 0h0m6 1h0m-14 4h0m15 2h0m-12 6h0m3 4h0m-7 1h0m16 0h0m-14 3h0m0 3h0m6 4h0m15 3h0m-6 2h0m-8 5h0m0 1h0m13 2h0m-5 3h0m-1 4h0m-2 2h0m-13 13h0m14 3h0m4 2h0m-8 4h0m9 2h0m-15 8h0m-5 0h0m8 5h0m-6 0h0m1 2h0m10 6h0m-3 1h0m8 2h0m-7 0h0m-8 6h0m17 3h0m-13 0h0m3 6h0m-7 1h0m12 1h0m-3 1h0m-6 0h0m6 1h0m-5 1h0m7 0h0m-10 4h0m8 8h0m-8 2h0m9 1h0m-4 5h0m-8 1h0m11 3h0m-4 7h0m0 1h0m0 3h0m7 0h0m0 1h0m-12 2h0m6 1h0m14 4h0m-6 3h0m2 1h0m-4 1h0m-11 0h0m2 1h0m12 1h0m-7 2h0m4 2h0m-12 2h0m12 1h0m-3 1h0m-11 3h0m1 6h0m18 1h0m2 0h0m-1 1h0m1 1h0m-3 4h0m-4 1h0m-9 2h0m-1 2h0m18 2h0m-6 7h0m-5 3h0m7 3h0m-10 2h0m9 1h0m-2 4h0m-7 1h0m-8 1h0m0 2h0m9 0h0m-8 2h0m8 1h0m-3 3h0m2 4h0m1 0h0m-1 1h0m-9 4h0m10 0h0m9 0h0m-16 2h0m15 2h0m-16 0h0m4 7h0m15 2h0m-8 2h0m10 2h0m-19 2h0m11 4h0m-13 1h0m15 1h0m4 4h0m2 2h0m-15 1h0m-5 3h0m18 2h0m-20 11h0m2 14h0m9 1h0m-6 1h0m8 0h0m8 3h0m-16 0h0m14 1h0m-9 0h0m0 1h0m-2 6h0m10 1h0m-18 1h0m13 3h0m-3 1h0m-3 2h0m10 1h0m-12 2h0m0 2h0m17 14h0m1 3h0m18-1h0m-12-2h0m3-8h0m1 0h0m-3 0h0m16 0h0m-1-3h0m-14-8h0m6-2h0m4 0h0m-2-3h0m-12 0h0m3-6h0m4 0h0m5-2h0m3-1h0m-2 0h0m3-5h0m-20-1h0m17-3h0m-7-3h0m-1-2h0m13-1h0m-1-19h0m2-11h0m-19-2h0m4-2h0m14-4h0m-5-5h0m-6-3h0m-2-6h0m12-2h0m-14-6h0m-6-4h0m19-3h0m-14-1h0m-2-2h0m16-1h0m-4-6h0m2-1h0m2-2h0m3 0h0m-14-1h0m10-2h0m-4-1h0m8-4h0m-1-1h0m-19 0h0m-1-7h0m12-5h0m-13-4h0m15-1h0m0-1h0m-3-2h0m-13-2h0m7 0h0m-3-1h0m-3-2h0m-1-1h0m1-12h0m6-8h0m-5-2h0m11 0h0m0-5h0m-3-5h0m-5-2h0m2-4h0m-6-5h0m0 0h0m2-12h0m3-3h0m-3 0h0m-2-16h0m0-1h0m2 0h0m12-3h0m-3-8h0m-7-2h0m5-4h0m-6-1h0m2-1h0m-2-3h0m14-1h0m-6 0h0m-4-2h0m0-1h0m8-3h0m1-1h0m-17-2h0m4-3h0m8-7h0m-5-1h0m-2 0h0m9-2h0m-5-1h0m7 0h0m-1-6h0m-7-3h0m10-1h0m-14-5h0m8-2h0m-6-1h0m-5-2h0m8 0h0m-9-13h0m17-4h0m-14-1h0m12 0h0m8-2h0m-9 0h0m4-1h0m-15-2h0m18-4h0m-7-5h0m4-3h0m-11-4h0m13-2h0m-13-3h0m13-2h0m-9-1h0m11-2h0m19-9h0m-10 10h0m-3 3h0m-4 3h0m8 3h0m12 3h0m-1 0h0m-14 1h0m-3 1h0m-2 1h0m18 1h0m-15 7h0m15 0h0m1 7h0m-3 0h0m-14 2h0m7 8h0m-4 5h0m-2 1h0m-3 3h0m23 4h0m-14 6h0m13 18h0m-2 0h0m-5 1h0m-3 4h0m-2 1h0m-4 1h0m-1 2h0m2 5h0m-2 0h0m14 2h0m-16 6h0m7 0h0m10 1h0m-20 1h0m16 5h0m6 16h0m-14 13h0m-4 3h0m-2 5h0m15 2h0m2 5h0m-1 7h0m1 4h0m-15 3h0m-2 6h0m1 7h0m7 19h0m9 7h0m-4 10h0m-1 9h0m-13 5h0m12 1h0m10 1h0m-22 2h0m0 8h0m8 3h0m-4 0h0m3 1h0m3 0h0m2 3h0m-3 1h0m1 3h0m11 1h0m-6 3h0m-16 1h0m9 1h0m-9 0h0m16 1h0m-12 5h0m9 3h0m5 5h0m-6 2h0m4 2h0m-6 4h0m3 1h0m-11 0h0m2 3h0m13 3h0m2 13h0m-4 0h0m-13 3h0m5 3h0m16 4h0m-8 1h0m7 7h0m-20 6h0m6 4h0m-1 2h0m15 4h0m-16 1h0m12 0h0m4 1h0m-6 7h0m7 1h0m-15 1h0m-5 0h0m7 5h0m-9 0h0m0 1h0m7 1h0m-3 1h0m3 1h0m11 8h0m3 4h0m-17 2h0m10 0h0m2 5h0m-3 1h0m8 0h0m5-1h0m12-3h0m6-3h0m-19-2h0m10-2h0m6-10h0m-12-9h0m17-8h0m-23-1h0m20-7h0m-15-8h0m3-5h0m9-11h0m-2-4h0m3 0h0m-15-12h0m2-1h0m7 0h0m10-2h0m-8-4h0m0-2h0m-8-1h0m13-1h0m-2-1h0m-6-2h0m-5-2h0m7-1h0m-9-2h0m4-5h0m2 0h0m3-2h0m-13-27h0m19-1h0m1-7h0m3-2h0m-19-5h0m9-11h0m6-2h0m-11-7h0m-6-4h0m2-1h0m0-3h0m12-1h0m5-2h0m-21-4h0m17-1h0m-3-2h0m-14-1h0m7-1h0m1-2h0m6-5h0m4 0h0m-17-5h0m0-2h0m1-8h0m13-1h0m0 0h0m-10-2h0m-3-3h0m1-2h0m16 0h0m3-1h0m0-6h0m-5 0h0m-13-1h0m7-2h0m5-2h0m-4-12h0m-6-2h0m7-6h0m-11-2h0m18-5h0m-20-3h0m18-3h0m-17-3h0m1-3h0m17-1h0m-7 0h0m-8-2h0m5-6h0m-2-1h0m-7-3h0m5-1h0m14-4h0m-13 0h0m14-1h0m-14-11h0m-4-1h0m15-1h0m-14-1h0m0-2h0m8-3h0m11-1h0m-8-4h0m6-1h0m-8-2h0m-1-4h0m8-1h0m-6-8h0m-12-4h0m-1-2h0m6-3h0m-5-3h0m1-3h0m8-10h0m4-1h0m4 0h0m-2-3h0m5-1h0m-9-4h0m-2 0h0m-3-6h0m15-2h0m-18-6h0m34-5h0m-3 9h0m-7 1h0m19 1h0m-21 3h0m5 8h0m10 1h0m2 1h0m-7 2h0m0 1h0m-2 2h0m12 1h0m1 1h0m-5 6h0m-7 2h0m0 3h0m5 2h0m-13 6h0m1 2h0m-4 0h0m4 0h0m2 5h0m-5 2h0m22 0h0m-6 3h0m-5 0h0m1 1h0m-8 0h0m4 1h0m6 2h0m-11 2h0m18 0h0m-18 8h0m9 0h0m-5 1h0m-3 4h0m11 10h0m-10 0h0m6 0h0m-9 2h0m4 6h0m5 0h0m5 1h0m3 0h0m-9 6h0m-7 14h0m1 12h0m3 9h0m-1 15h0m10 1h0m-1 10h0m2 12h0m0 11h0m-17 21h0m0 11h0m12 0h0m9 1h0m-20 7h0m18 2h0m-15 0h0m8 3h0m-13 0h0m20 14h0m-18 34h0m1 7h0m15 2h0m-9 1h0m4 1h0m-7 2h0m14 2h0m-17 1h0m8 1h0m12 1h0m-15 3h0m-4 1h0m7 4h0m11 3h0m-19 5h0m6 1h0m0 1h0m0 3h0m4 3h0m-4 3h0m1 7h0m6 2h0m-12 1h0m9 5h0m-11 10h0m7 2h0m11 0h0m-14 0h0m4 3h0m8 3h0m-6 0h0m-12 17h0m42-1h0m5-16h0m-2-2h0m-4-11h0m4-1h0m-10-18h0m-7-14h0m-4-3h0m15-18h0m-12-4h0m12-2h0m-6-3h0m-1-3h0m14-1h0m-1-8h0m1-13h0m-15-12h0m-4-12h0m19-22h0m-22-5h0m18-27h0m-13-8h0m3-19h0m9-9h0m-2-28h0m0-20h0m-12-3h0m14-5h0m-8-12h0m-7-4h0m1 0h0m8-6h0m-5-2h0m6-5h0m-10-1h0m21-6h0m-5-2h0m1-6h0m1-13h0m-14-2h0m15-4h0m-15-6h0m3-4h0m-1-1h0m-3-2h0m1 0h0m15-1h0m-9-1h0m8-2h0m-20-2h0m1-2h0m11-6h0m22 2h0m-1 1h0m-8 3h0m7 4h0m14 2h0m-18 0h0m-3 7h0m1 1h0m16 4h0m-14 1h0m4 1h0m10 15h0m-18 1h0m2 7h0m14 34h0m-2 13h0m6 17h0m0 1h0m-6 13h0m-1 6h0m-11 11h0m-2 6h0m1 8h0m3 19h0m-2 6h0m19 12h0m-10 4h0m-6 6h0m9 4h0m-3 5h0m0 2h0m3 7h0m-4 3h0m5 3h0m-9 2h0m-2 10h0m17 23h0m-16 0h0m12 16h0m-9 2h0m0 9h0m14 3h0m-19 6h0m14 5h0m2 2h0m3 7h0m-11 5h0m6 7h0m-7 14h0m-5 6h0m1 6h0m-4 7h0m5 6h0m28 31h0m9-11h0m0-9h0m-14-9h0m3-17h0m10-2h0m-8-5h0m-9-1h0m7-12h0m0-2h0m8-9h0m-7-22h0m13-27h0m-14-7h0m-6-1h0m13-16h0m-15-30h0m0-3h0m17 0h0m5-1h0m-17-1h0m-1-5h0m12-5h0m-14-12h0m16-2h0m-15-9h0m-1-5h0m8-10h0m11-3h0m-2-45h0m2-15h0m1-15h0m-8-4h0m-10-14h0m3-16h0m-6-32h0m21-2h0m-14 0h0m12-1h0m1-2h0m-9-6h0m-2-7h0m13-1h0m10 0h0m-4 5h0m14 5h0m-11 9h0m10 7h0m-11 14h0m3 5h0m11 1h0m-6 3h0m5 5h0m1 3h0m-5 2h0m-17 5h0m16 2h0m1 5h0m4 3h0m-2 2h0m-8 3h0m9 5h0m-6 4h0m-7 0h0m9 1h0m3 1h0m-5 1h0m-6 1h0m5 2h0m1 0h0m3 1h0m-7 0h0m9 0h0m-14 1h0m14 1h0m-10 2h0m10 1h0m-15 1h0m7 6h0m3 2h0m4 2h0m2 0h0m-8 5h0m0 3h0m-1 1h0m-11 3h0m20 4h0m-12 0h0m-1 1h0m0 3h0m3 2h0m13 2h0m-1 1h0m-14 0h0m-3 1h0m0 0h0m11 6h0m6 4h0m-10 0h0m-9 0h0m19 2h0m-7 0h0m0 2h0m-6 0h0m5 0h0m-6 1h0m9 1h0m-12 1h0m-3 5h0m6 2h0m7 5h0m-12 1h0m8 0h0m4 7h0m8 0h0m-23 2h0m23 1h0m-6 0h0m-16 3h0m22 3h0m-11 2h0m6 0h0m-3 2h0m-14 1h0m15 1h0m0 1h0m-8 1h0m12 2h0m-16 1h0m19 2h0m-13 0h0m-4 0h0m12 1h0m-8 3h0m12 1h0m-1 3h0m-1 1h0m-17 4h0m17 1h0m-3 1h0m4 1h0m-6 1h0m5 0h0m1 2h0m-4 7h0m-10 0h0m7 1h0m-11 2h0m14 6h0m6 0h0m-20 5h0m16 9h0m-2 31h0m-16 5h0m13 15h0m8 3h0m-16 1h0m13 4h0m3 1h0m-1 11h0m-11 1h0m-4 0h0m8 1h0m-2 9h0m-4 9h0m4 2h0m5 3h0m-9 4h0m12 1h0m-7 18h0m0 5h0m-11 3h0m16 19h0m27-2h0m-18-9h0m15-22h0m-3 0h0m8-3h0m-4-2h0m0-5h0m-4-2h0m5-6h0m-19-2h0m7-2h0m15-5h0m-1-3h0m-8-1h0m9-1h0m-7-14h0m2-2h0m3 0h0m-8-25h0m3-1h0m-8-2h0m8-1h0m6 0h0m-7-2h0m3-4h0m-15 0h0m18-1h0m-1 0h0m-9-2h0m-5 0h0m15-1h0m0-2h0m-4-4h0m-14 0h0m1-1h0m19 0h0m-22-2h0m15-4h0m-2-1h0m-3-5h0m6-4h0m-10 0h0m0-1h0m-3 0h0m16-5h0m-18-1h0m19-3h0m-14 0h0m0-1h0m14-1h0m-16-4h0m7-5h0m-11 0h0m19-5h0m-11-4h0m11 0h0m-1 0h0m-4-1h0m7-2h0m-5-1h0m5-3h0m-17-1h0m3-1h0m3 0h0m2-1h0m-10 0h0m2-1h0m7 0h0m-11-2h0m6-1h0m16 0h0m-1-2h0m-13 0h0m-3-1h0m15-3h0m-2-7h0m-15-2h0m5-5h0m-9-1h0m14-3h0m-3 0h0m-6-3h0m13-2h0m-16-1h0m-2-7h0m21 0h0m-10 0h0m-7-1h0m8-1h0m8-1h0m-10 0h0m-6-10h0m-4-8h0m17-2h0m-13-3h0m-4 0h0m12-3h0m-11 0h0m20-1h0m-13-1h0m10 0h0m-8-1h0m6-3h0m-9-1h0m12-1h0m-10 0h0m-8-1h0m9-2h0m0-1h0m0-3h0m13-2h0m-13-2h0m4 0h0m-7-7h0m-4-4h0m14-2h0m5-1h0m-16-4h0m9-2h0m6-2h0m-8-1h0m-8-3h0m7-1h0m2 0h0m-8 0h0m17-1h0m-21 0h0m14-2h0m3-5h0m-1-3h0m-6-1h0m7-1h0m-4-1h0m-13-1h0m17-3h0m-9-4h0m-9-1h0m4-1h0m12-1h0m4-4h0m1-1h0m0 0h0m-9-2h0m-4-2h0m4-5h0m6 0h0m-19 0h0m12-2h0m-2-2h0m-5 0h0m1-2h0m9 0h0m-5-1h0m13-1h0m-10 0h0m-6-3h0m13-3h0m-7 0h0m2-1h0m8-3h0m-2 0h0m0-1h0m-18-1h0m6 0h0m5-1h0m5-3h0m-3-2h0m-9 0h0m-7-5h0m21-9h0m-11-1h0m-2-3h0m15-7h0m-12-3h0m30-9h0m-7 1h0m13 3h0m-23 3h0m11 2h0m-11 9h0m23 3h0m-6 1h0m3 1h0m-1 2h0m1 1h0m-16 1h0m3 0h0m14 5h0m-3 0h0m-5 1h0m-1 3h0m7 1h0m-14 1h0m7 0h0m-12 1h0m4 0h0m0 0h0m6 2h0m7 4h0m-15 3h0m-1 0h0m-1 2h0m17 1h0m2 4h0m-3 0h0m-12 2h0m-1 6h0m18 4h0m-3 0h0m-2 3h0m-8 2h0m1 2h0m0 3h0m10 1h0m-1 0h0m-14 2h0m17 0h0m-3 2h0m-11 1h0m-2 0h0m-1 0h0m7 5h0m11 0h0m-15 1h0m7 1h0m-9 0h0m5 1h0m-7 1h0m4 1h0m-6 0h0m14 2h0m-3 1h0m-3 0h0m0 0h0m-6 9h0m19 1h0m-7 0h0m-15 0h0m20 1h0m-13 1h0m3 1h0m-5 1h0m17 0h0m-7 1h0m-13 1h0m0 0h0m20 1h0m-3 0h0m0 0h0m0 0h0m-7 1h0m8 0h0m-20 3h0m22 2h0m-8 1h0m6 1h0m-2 1h0m-13 4h0m2 0h0m15 0h0m-22 1h0m19 6h0m-5 0h0m-9 1h0m-5 2h0m21 0h0m-1 1h0m-3 4h0m4 4h0m1 1h0m-3 2h0m-4 1h0m-12 0h0m3 1h0m10 1h0m3 0h0m-17 0h0m17 0h0m4 1h0m-20 3h0m15 1h0m-2 2h0m-1 1h0m3 1h0m-12 1h0m8 0h0m9 0h0m-23 0h0m2 0h0m-1 0h0m18 2h0m4 1h0m0 1h0m-9 2h0m-6 1h0m-6 1h0m9 0h0m-5 1h0m3 0h0m1 0h0m-8 3h0m12 1h0m-10 4h0m4 2h0m1 2h0m-4 0h0m3 1h0m-4 4h0m18 1h0m-6 1h0m-12 1h0m5 1h0m-6 0h0m2 4h0m14 3h0m-13 2h0m17 1h0m-4 4h0m-3 0h0m-13 4h0m16 2h0m-2 0h0m-15 1h0m1 4h0m-2 1h0m0 1h0m20 1h0m-5 2h0m-8 0h0m0 0h0m12 1h0m-9 2h0m-3 6h0m6 2h0m8 0h0m1 1h0m-3 3h0m-8 1h0m6 0h0m1 1h0m3 0h0m-19 3h0m12 0h0m-13 3h0m7 1h0m3 1h0m9 2h0m-20 0h0m15 2h0m-9 2h0m1 3h0m9 1h0m-10 4h0m8 0h0m-11 1h0m-3 1h0m8 0h0m10 1h0m-13 1h0m13 0h0m-9 1h0m-6 5h0m4 1h0m9 1h0m-2 0h0m-2 5h0m-10 1h0m15 1h0m3 4h0m-5 0h0m-11 4h0m3 0h0m-7 0h0m20 1h0m-5 1h0m-9 2h0m9 0h0m1 2h0m-8 0h0m-1 1h0m-3 1h0m-4 3h0m7 0h0m4 1h0m11 1h0m0 2h0m-22 10h0m1 0h0m13 0h0m-14 2h0m6 1h0m8 0h0m-7 1h0m12 2h0m-3 6h0m6 2h0m-12 9h0m-10 0h0m3 4h0m1 3h0m11 2h0m3 4h0m2 9h0m-5 1h0m-14 2h0m19 1h0m-12 0h0m-8 28h0m19 5h0m-18 4h0m0 22h0m17 18h0m-19 7h0m13 39h0m7 4h0m26 45h0m-18-43h0m0-38h0m-3-57h0m7-5h0m4-9h0m4-9h0m-12-9h0m4-2h0m15-7h0m-18-3h0m9-8h0m4-5h0m4 0h0m1-2h0m-19-4h0m9-2h0m-8-3h0m17-2h0m-5-1h0m1 0h0m-1-1h0m-13-1h0m11-1h0m-8-8h0m7-1h0m-5 0h0m0-3h0m7 0h0m-11-1h0m-4-2h0m20 0h0m-4-1h0m1 0h0m-9-1h0m4-1h0m-2 0h0m4-1h0m5 0h0m-10 0h0m6-1h0m-2-1h0m-12 0h0m7 0h0m2 0h0m-8-1h0m3-1h0m4-1h0m12 0h0m-4-3h0m-3-2h0m2-7h0m-7-3h0m-7 0h0m-2-2h0m3-2h0m1 0h0m7-1h0m-7-1h0m12 0h0m-3-1h0m-8-4h0m-5 0h0m15-1h0m7 0h0m-11-4h0m-3-1h0m4 0h0m-6-1h0m-2-2h0m8-2h0m-12 0h0m22-7h0m-23-1h0m11-3h0m1-2h0m0-1h0m-6-3h0m-3-2h0m-3-1h0m20-5h0m3-1h0m-13-1h0m-1-5h0m-2-2h0m-6-1h0m0-3h0m-1-8h0m8-8h0m7-3h0m7-2h0m-14-3h0m13-2h0m-10 0h0m-6-4h0m9-2h0m7-2h0m-11 0h0m-5-2h0m11 0h0m-13-1h0m1 0h0m9-4h0m-12-1h0m10-4h0m-7-1h0m19-1h0m-17-1h0m12-2h0m-3 0h0m-5-1h0m9-1h0m0-2h0m-9-1h0m4 0h0m-7-2h0m-1-1h0m-2-1h0m2-7h0m1-3h0m-2-2h0m12 0h0m-11-5h0m1-1h0m4 0h0m-10 0h0m14-1h0m-5 0h0m-2-1h0m14-8h0m-12-3h0m4 0h0m-10 0h0m15-1h0m-16-7h0m8 0h0m8-3h0m1 0h0m-15 0h0m12-1h0m5-1h0m-21-1h0m9 0h0m11-4h0m-7-2h0m0-1h0m-7 0h0m4-6h0m3-3h0m-14-2h0m1-3h0m11-1h0m4-4h0m7-1h0m-21-3h0m17-1h0m-9-1h0m8-2h0m-14 0h0m10-1h0m-3-2h0m6-3h0m-3 0h0m4-1h0m-4-3h0m3-1h0m2-3h0m-10-6h0m4-1h0m-8-3h0m11 0h0m6-2h0m-20-1h0m1-3h0m4-2h0m-3-4h0m2-1h0m12-1h0m0-1h0m2-4h0m-1-1h0m-7-1h0m11-1h0m-15-1h0m-3 0h0m0-3h0m0-1h0m-3-3h0m9-1h0m-4-1h0m-5-1h0m9-2h0m5-9h0m0-2h0m-8-1h0m-4-7h0m0-2h0m16-3h0m3-1h0m-4-6h0m13 9h0m-1 6h0m6 2h0m7 24h0m-5 5h0m-3 4h0m-4 1h0m-7 2h0m4 2h0m2 2h0m14 0h0m-10 2h0m-5 1h0m-1 7h0m0 1h0m-5 0h0m14 4h0m-13 3h0m2 4h0m12 3h0m-6 8h0m6 3h0m7 2h0m-13 2h0m-3 5h0m-2 8h0m0 2h0m3 0h0m-3 1h0m-1 11h0m19 3h0m-4 2h0m-5 8h0m-5 10h0m6 6h0m8 6h0m-19 1h0m12 2h0m-3 6h0m9 0h0m-12 1h0m-7 3h0m2 2h0m19 7h0m-12 3h0m5 19h0m3 5h0m-2 0h0m-16 1h0m12 4h0m-5 9h0m5 9h0m-13 1h0m16 2h0m-10 1h0m4 0h0m8 1h0m-11 2h0m14 1h0m-5 2h0m-3 10h0m1 2h0m-3 9h0m7 3h0m2 2h0m-9 0h0m-10 2h0m7 3h0m1 1h0m-3 0h0m14 2h0m-16 3h0m-1 1h0m18 2h0m-16 1h0m16 1h0m-5 0h0m-5 0h0m4 3h0m-15 2h0m22 0h0m-13 2h0m8 0h0m-1 1h0m-1 1h0m0 4h0m-1 1h0m-2 0h0m-9 1h0m10 3h0m0 1h0m-3 1h0m12 3h0m-5 1h0m-3 2h0m0 0h0m-8 3h0m14 1h0m-11 4h0m-2 0h0m11 0h0m3 1h0m-5 0h0m-5 1h0m0 1h0m5 4h0m-4 3h0m-8 7h0m14 1h0m-18 0h0m11 2h0m-5 1h0m5 3h0m-6 3h0m5 24h0m8 1h0m-2 4h0m-15 1h0m7 8h0m2 106h0m-3 4h0m-4 10h0m-3 0h0m1 8h0m18 8h0m-17 8h0m7 14h0m32-4h0m-6 0h0m10-3h0m2-10h0m-20-52h0m5-4h0m14 0h0m-6-31h0m-2-37h0m6-38h0m1-15h0m-11-2h0m-3-3h0m3-2h0m5-4h0m6-1h0m-2-2h0m-18-7h0m8-1h0m-8-2h0m5-11h0m-3-1h0m8-1h0m9 0h0m-6 0h0m-11-2h0m13-1h0m-1 0h0m-10-3h0m10 0h0m-13-2h0m4-6h0m13-4h0m-17-5h0m1-1h0m-1-2h0m-1-3h0m0-1h0m18-2h0m-13-2h0m0-1h0m17 0h0m-21-3h0m7-1h0m10-6h0m-1-1h0m0-5h0m5-1h0m-20-14h0m8-4h0m7-2h0m-10-6h0m0-1h0m12-1h0m-1-6h0m-5-10h0m-13 0h0m15-3h0m2-5h0m-9-1h0m-7-5h0m20-7h0m-10-4h0m2-2h0m-11-9h0m5 0h0m-3 0h0m10-3h0m3-2h0m3-4h0m-3-5h0m1-3h0m-9-6h0m-9-1h0m9-2h0m0-13h0m-9 0h0m18-3h0m0-10h0m-15-2h0m11-5h0m-8 0h0m0 0h0m1-1h0m0-7h0m-8-2h0m15-7h0m-2-3h0m-2-1h0m4-1h0m-11-1h0m11-3h0m0-3h0m-1-3h0m-7-16h0m14-5h0m-16-6h0m9-5h0m3-4h0m4-2h0m-15-6h0m5-7h0m-11-5h0m12-4h0m-10-12h0m10-5h0m-11 0h0m8-3h0m22 12h0m2 1h0m-9 6h0m16 1h0m-7 2h0m1 1h0m7 2h0m5 4h0m-10 5h0m2 6h0m-14 8h0m13 0h0m-6 7h0m1 1h0m3 2h0m-4 4h0m-3 8h0m12 1h0m3 0h0m-5 3h0m4 6h0m-10 0h0m-6 2h0m21 9h0m-1 1h0m-16 0h0m6 0h0m-12 2h0m1 1h0m11 1h0m-2 22h0m12 0h0m-15 2h0m2 2h0m-5 7h0m4 7h0m8 7h0m-5 2h0m-3 3h0m-2 12h0m4 2h0m-9 15h0m14 1h0m6 9h0m-16 1h0m-4 0h0m6 1h0m3 5h0m1 1h0m-5 4h0m0 3h0m-4 3h0m7 12h0m1 5h0m4 14h0m-12 1h0m2 1h0m2 0h0m3 1h0m-7 0h0m10 1h0m8 1h0m-3 0h0m2 2h0m-6 2h0m-2 1h0m-3 0h0m15 3h0m-2 4h0m-1 8h0m-8 0h0m2 1h0m-6 1h0m-8 3h0m3 3h0m13 1h0m-7 1h0m11 2h0m3 0h0m-14 0h0m7 0h0m-6 5h0m5 3h0m-8 6h0m15 18h0m-5 4h0m-7 5h0m-7 17h0m15 2h0m-12 16h0m-1 11h0m3 6h0m-2 34h0m2 6h0m11 47h0m2 2h0m0 22h0m-11 1h0m7 1h0m0 21h0m-17 29h0m2 2h0m4 9h0m41 110h0m-3-7h0m-15-14h0m4-1h0m-4-2h0m17-5h0m-12-21h0m-7-18h0m-3-42h0m2-47h0m6-6h0m-6-9h0m21-27h0m-5-73h0m-18-12h0m13-7h0m-2-6h0m-7-12h0m2 0h0m9-1h0m0-3h0m3-2h0m-8-8h0m-7-5h0m-2-1h0m21-8h0m1-5h0m-10-3h0m1 0h0m5-1h0m-1-2h0m-1-14h0m6-7h0m-7-2h0m0-2h0m2 0h0m1-4h0m-18-8h0m3-6h0m5-6h0m6-1h0m2 0h0m-5-5h0m-11-5h0m-1-6h0m2 0h0m9-2h0m-4-2h0m5-1h0m-8-3h0m5-1h0m9-1h0m-18-3h0m11-2h0m-5-2h0m16 0h0m-22-1h0m3-1h0m12-5h0m3-5h0m-18-19h0m22-12h0m-22-6h0m21 0h0m-15-2h0m12-1h0m5-2h0m-2-2h0m-21-4h0m8-2h0m8-1h0m-7 0h0m3-1h0m6-9h0m-7-2h0m-4-4h0m-7-2h0m6-1h0m14-3h0m-14-1h0m0-2h0m11-15h0m-14 0h0m4-1h0m-1-1h0m-4-2h0m15 0h0m-3-6h0m3-11h0m-10-3h0m0-9h0m-7-1h0m3-7h0m16-2h0m-2-7h0m-8-2h0m11-3h0m-10-5h0m0-2h0m12-1h0m0-2h0m-12-9h0m-3-3h0m15 0h0m-16-1h0m-5-4h0m25 27h0m-1 13h0m11 18h0m-11 6h0m6 10h0m-2 3h0m9 0h0m-5 4h0m12 8h0m-1 1h0m-3 3h0m-7 4h0m8 3h0m-4 1h0m-5 5h0m11 13h0m-1 8h0m-19 12h0m17 10h0m-17 3h0m23 4h0m-2 0h0m-21 10h0m5 2h0m8 2h0m-2 3h0m-4 8h0m13 12h0m-17 15h0m13 4h0m-2 6h0m4 8h0m4 3h0m-13 2h0m7 0h0m-5 0h0m1 7h0m2 1h0m-5 2h0m1 0h0m-5 0h0m8 7h0m6 0h0m-15 1h0m5 1h0m7 4h0m-7 6h0m2 4h0m5 1h0m-10 11h0m15 8h0m-12 6h0m12 11h0m-18 7h0m2 0h0m4 4h0m-6 33h0m2 17h0m6 47h0m-11 20h0m14 10h0m-5 85h0m1 11h0m-8 30h0m8 3h0m12 0h0m-9 2h0m5 22h0m-3 4h0m-6 2h0m9 5h0m3 5h0m-6 1h0m-3 9h0m-7 5h0m-4 2h0m-1 1h0m14 2h0m9 4h0m24 29h0m-8-25h0m7-11h0m-16-9h0m17-9h0m-22-4h0m0-10h0m20-7h0m-12-27h0m-2-10h0m-1-23h0m0-29h0m-2-4h0m7-61h0m-8-113h0m-2-27h0m9-5h0m6-1h0m-13-1h0m20-6h0m-9-1h0m-14-1h0m10-1h0m7-15h0m-10-6h0m-6-3h0m0 0h0m14-2h0m-11-5h0m18-5h0m-15-2h0m-7-10h0m20 0h0m0-3h0m-12-5h0m10-8h0m3-21h0m-17-1h0m6-1h0m11-2h0m-21 0h0m10-1h0m-4-3h0m15-3h0m-3-1h0m-10-11h0m14-4h0m-10-13h0m-11-16h0m-1-5h0m5-12h0m4-9h0m-9-14h0m0-16h0m40 11h0m-3 5h0m3 1h0m3 8h0m1 2h0m-1 5h0m-2 9h0m0 1h0m3 9h0m-17 4h0m12 1h0m7 11h0m-5 1h0m5 1h0m-20 19h0m11 7h0m-10 2h0m5 0h0m9 3h0m-15 1h0m0 1h0m-2 0h0m13 2h0m-8 0h0m7 1h0m-5 2h0m-7 5h0m11 7h0m-5 4h0m12 17h0m-6 16h0m5 26h0m-11 6h0m15 22h0m-17 2h0m4 29h0m15 41h0m-19 8h0m-4 130h0m22 3h0m-16 2h0m9 44h0m-4 5h0m5 8h0m-13 2h0m18 10h0m2 13h0m-19 0h0m16 10h0m-2 8h0m-7 6h0m-2 3h0m10 6h0m-7 10h0m2 6h0m-14 10h0m7 16h0m-3 0h0m12 12h0m19 0h0m0-5h0m7-3h0m-10-7h0m-4-9h0m-1-1h0m1-4h0m19-9h0m-22-1h0m18-11h0m2 0h0m0-25h0m-8-18h0m-7-26h0m1-3h0m9-2h0m3-8h0m-2-1h0m-15-1h0m4-9h0m8-2h0m-6 0h0m12-8h0m-14-14h0m13-6h0m-1-13h0m-10-2h0m7-103h0m5-3h0m-9-6h0m11-76h0m-7-19h0m-1-16h0m-7-8h0m-3-1h0m9-5h0m-3-8h0m-1-10h0m-4-10h0m2-4h0m2-5h0m3 0h0m5 0h0m-17-4h0m17-1h0m-16-4h0m15-4h0m5-1h0m-14-2h0m1-8h0m5-5h0m10-3h0m-18 0h0m16-2h0m-15-5h0m4-1h0m5-1h0m-3-1h0m7-3h0m-6-1h0m-4-1h0m11-16h0m-10-6h0m-10-5h0m17-3h0m-15-2h0m1-14h0m17-5h0m-2 0h0m2-2h0m1-5h0m1-3h0m-18-2h0m10-3h0m-12-6h0m14-1h0m-14-1h0m5-7h0m11-2h0m5-2h0m-19-1h0m-3-1h0m16-16h0m-2-2h0m-11-7h0m15-2h0m14-13h0m-1 14h0m11 2h0m-7 3h0m-8 1h0m-1 2h0m3 5h0m-4 3h0m12 4h0m4 1h0m-18 4h0m11 5h0m-10 3h0m17 3h0m-15 1h0m2 1h0m3 2h0m0 13h0m8 0h0m5 1h0m1 3h0m-18 6h0m6 1h0m-2 2h0m8 2h0m-7 2h0m4 1h0m-2 5h0m-8 4h0m14 1h0m-15 0h0m14 7h0m-16 2h0m13 1h0m10 1h0m-19 2h0m-4 2h0m16 0h0m-12 2h0m8 4h0m6 2h0m-5 1h0m-3 2h0m-3 2h0m13 5h0m-5 9h0m-6 4h0m-2 0h0m13 1h0m-14 0h0m12 5h0m3 2h0m-2 12h0m-7 2h0m7 2h0m-12 3h0m5 2h0m4 0h0m-7 6h0m-2 4h0m0 3h0m11 1h0m-15 4h0m20 26h0m-6 4h0m3 5h0m-8 160h0m-12 12h0m14 14h0m-13 14h0m13 1h0m5 27h0m-15 2h0m16 0h0m-8 18h0m10 9h0m0 30h0m-15 15h0m-4 0h0m7 8h0m9 4h0m3 11h0m0 3h0m-7 1h0m-1 6h0m-2 3h0m3 7h0m-10 5h0m16 3h0m0 9h0m-3 2h0m-1 1h0m-4 17h0m-3 1h0m-4 7h0m3 4h0m11 18h0m-7 7h0m14-1h0m-2-5h0m-1-11h0m5-1h0m6-14h0m7-1h0m-15-12h0m12-3h0m-4-3h0m0-22h0m-6-1h0m5-8h0m-9-23h0m10-14h0m4-23h0m0-3h0m0-9h0m0-4h0m6-2h0m-3-37h0m-11-7h0m-4-6h0m15-10h0m-12-27h0m5-59h0m-8-34h0m1-136h0m9-41h0m-13-1h0m2-2h0m-2-2h0m19-1h0m-18-3h0m-1-1h0m4-5h0m8-1h0m-5-4h0m-7-2h0m13 0h0m-11-4h0m9-9h0m-4 0h0m-4-4h0m-2-4h0m19-4h0m-9-3h0m8-7h0m-19-6h0m10-1h0m-5-5h0m1 0h0m1-2h0m-5-2h0m11-1h0m-3-2h0m0 0h0m2-9h0m2-2h0m2-4h0m-16-14h0m44 68h0m-20 3h0m20 7h0m-10 18h0m-10 1h0m12 10h0m9 128h0m2 247h0m-1 6h0m-5 12h0m0 23h0m-10 15h0m5 9h0m11 7h0m-3 5h0m-7 2h0m5 5h0m-16 3h0m0 4h0m5 5h0m-6 7h0m10 7h0m2 12h0m-13 4h0m3 11h0m0 4h0m37-34h0m-4-7h0m-11-8h0m-1-5h0m6-9h0m-6-11h0m15-45h0m-13-4h0m7-236h0m10-143h0m-15-1h0m8-5h0m-7-1h0m4-1h0m4-10h0m6-4h0m-7-10h0m16 8h0m5 2h0m2 1h0m-8 1h0m11 0h0m4 1h0m-8 4h0m-3 0h0m-1 1h0m6 0h0m1 3h0m-5 2h0m-3 3h0m-2 470h0m4 0h0m1 1h0m22-474h0m13-2h0m-9-4h0m2-3h0m11 0h0m-8-1h0m9 3h0m2 2h0m20 6h0m-3 3h0m-17 0h0m17 1h0m-10 4h0m-8 433h0m92-170h0m31-7h0m4-42h0"/>
<path stroke="#0b0b86" d="M921 1165h0m29-48h0m18-22h0m12 10h0m-14 35h0m9 21h0m-2 9h0m-7 16h0m6 15h0m-4 7h0m30-3h0m-9-26h0m7-86h0m5-6h0m-3-71h0m5-21h0m11 7h0m-1 3h0m-4 18h0m3 70h0m19 59h0m17 92h0m-2-21h0m-3-17h0m8-49h0m-18-10h0m21-29h0m0-32h0m-12-7h0m-2-25h0m0-39h0m-2-4h0m38-47h0m2 26h0m1 85h0m-23 22h0m4 17h0m12 10h0m0 79h0m7 82h0m17-47h0m-9-81h0m-6-5h0m20-16h0m0-23h0m-16-4h0m5-16h0m-5-112h0m-4-31h0m32 27h0m1 227h0m23 101h0m13-46h0m-12-7h0m-4-20h0m5-17h0m11-11h0m-8-36h0m1-120h0m-5-29h0m31-71h0m5 53h0m19 299h0m5-18h0m-11-5h0m-1-57h0m13-89h0m-3-141h0m3-39h0m16-28h0m5 176h0m-9 88h0m-7 57h0m16 43h0m1 2h0m-7 7h0m7 8h0m-6 1h0m-13 1h0m-2 12h0m1 2h0m16 13h0m25 5h0m1-1h0m-10-3h0m-2-2h0m15-1h0m-12-8h0m7-1h0m-12-7h0m17-1h0m0 0h0m-3-6h0m-5-1h0m-11-10h0m7-22h0m3-179h0m23-144h0m-4 73h0m4 15h0m-4 47h0m10 12h0m-6 188h0m-8 2h0m9 12h0m-8 11h0m-1 0h0m7 1h0m6 0h0m-12 3h0m5 5h0m10 25h0m-18 5h0m43 12h0m0-8h0m-4-2h0m5-2h0m-18-24h0m0-2h0m5-3h0m2-1h0m3-2h0m0-2h0m-5-4h0m-9 0h0m10-3h0m-9-3h0m7-3h0m6-5h0m-4-3h0m-7-7h0m6-9h0m6-23h0m-4-3h0m5-1h0m-13-19h0m18-34h0m-5-8h0m-5-40h0m11-58h0m1-21h0m-20-8h0m-1-46h0m19-27h0m7 15h0m2 0h0m14 12h0m-17 8h0m15 53h0m1 9h0m-8 78h0m8 60h0m-2 13h0m-8 16h0m-4 4h0m16 1h0m-7 9h0m8 21h0m-2 4h0m-12 3h0m-5 2h0m0 3h0m-2 0h0m21 1h0m-12 1h0m1 10h0m-1 1h0m3 4h0m-8 3h0m-5 1h0m7 4h0m6 4h0m-2 2h0m-2 0h0m-9 3h0m18 3h0m-16 1h0m0 2h0m7 3h0m11 3h0m-11 4h0m-6 1h0m16 2h0m-19 4h0m14 0h0m6 2h0m-10 1h0m-6 0h0m7 4h0m4 1h0m-12 1h0m11 1h0m-1 2h0m2 7h0m-8 1h0m-5 3h0m2 0h0m-2 0h0m16 2h0m4 0h0m-8 2h0m-5 1h0m8 5h0m-14 2h0m1 2h0m-4 1h0m20 1h0m-14 6h0m17 1h0m-20 1h0m9 0h0m8 5h0m27 36h0m-1-6h0m-1 0h0m-8-8h0m-3-4h0m11-2h0m-12-1h0m5-1h0m-2-2h0m1 0h0m8-1h0m-6 0h0m-5 0h0m0-1h0m1-1h0m0 0h0m0-2h0m0-1h0m-4 0h0m8-1h0m3-4h0m-15-3h0m19-1h0m-14-3h0m7-1h0m-5-1h0m2-3h0m7-2h0m-5-1h0m6-1h0m2 0h0m-4-1h0m-9-1h0m-3-2h0m3-2h0m11-1h0m-4-1h0m-12 0h0m4-1h0m-3 0h0m-1-3h0m15-2h0m-17-9h0m19-1h0m-14-1h0m9 0h0m-9-2h0m11-1h0m-13 0h0m-1-2h0m0-7h0m1-2h0m8-2h0m-9-1h0m15 0h0m-17-1h0m8-7h0m-8 0h0m5-2h0m5-1h0m3-2h0m-15-2h0m19 0h0m1-1h0m-11-1h0m1 0h0m6-3h0m5-1h0m-12-7h0m-8-2h0m12-1h0m-4-2h0m11-2h0m2-6h0m-22-5h0m1-2h0m17 0h0m-4-5h0m-5-6h0m9-2h0m-12-2h0m-5-5h0m22-1h0m-8-3h0m4-6h0m2-26h0m-15-13h0m8-28h0m6-102h0m-19-7h0m1-3h0m8-21h0m-10-16h0m8-9h0m4-14h0m8-43h0m25 72h0m-13 121h0m8 0h0m-12 6h0m2 53h0m2 3h0m9 23h0m-1 1h0m-3 2h0m9 1h0m-1 1h0m-12 6h0m-3 1h0m7 0h0m1 6h0m2 0h0m-11 1h0m8 6h0m10 9h0m-7 0h0m-3 13h0m-1 1h0m8 0h0m-2 5h0m-1 2h0m2 0h0m-7 1h0m11 4h0m-3 1h0m-13 2h0m3 4h0m3 3h0m-10 1h0m0 2h0m9 1h0m8 0h0m-7 2h0m-8 2h0m13 1h0m-6 0h0m5 0h0m-1 1h0m-14 0h0m5 1h0m6 0h0m-10 0h0m3 5h0m13 1h0m-12 2h0m7 2h0m6 1h0m1 4h0m-1 4h0m-12 1h0m8 1h0m-8 0h0m-8 1h0m8 1h0m11 2h0m-14 2h0m10 1h0m0 0h0m-8 1h0m-2 0h0m-3 1h0m4 2h0m7 1h0m-11 3h0m9 0h0m-3 1h0m-5 0h0m9 1h0m-4 4h0m14 0h0m-14 2h0m15 1h0m-15 1h0m-2 1h0m7 1h0m2 3h0m2 1h0m-5 1h0m2 4h0m4 1h0m-17 0h0m0 1h0m22 1h0m-20 0h0m8 3h0m5 2h0m7 1h0m-6 2h0m-7 0h0m2 4h0m-9 1h0m14 2h0m1 0h0m-10 0h0m9 1h0m6 1h0m-14 3h0m6 0h0m2 5h0m-7 1h0m-7 1h0m10 0h0m-11 10h0m34 4h0m6 0h0m-6-4h0m-4-1h0m-3-1h0m-1 0h0m18-1h0m-16-1h0m3-1h0m10 0h0m-7 0h0m7-1h0m-12-2h0m11 0h0m-15 0h0m16-5h0m2-1h0m-9-1h0m4 0h0m-16 0h0m18-1h0m5-1h0m-4 0h0m-4-3h0m-14-1h0m9-3h0m0-4h0m-6-2h0m19-1h0m-2 0h0m1-2h0m-16 0h0m11-1h0m3-2h0m-5-1h0m-15-3h0m17-1h0m-14-3h0m12-1h0m-11-1h0m0-1h0m19-1h0m-16-2h0m7-3h0m-12 0h0m3 0h0m4-1h0m11-5h0m1-2h0m-6-3h0m-13-1h0m21 0h0m-8-6h0m2-2h0m-2 0h0m-2-1h0m3-2h0m-7 0h0m1 0h0m-4-2h0m-6-4h0m2 0h0m8-1h0m12 0h0m-22 0h0m22-2h0m-3-3h0m-6-3h0m1 0h0m-13 0h0m1-1h0m4 0h0m8-2h0m3 0h0m-1-1h0m5 0h0m-1-4h0m-14-1h0m0-1h0m-3 0h0m8-6h0m-8 0h0m11 0h0m-9-2h0m-1 0h0m17-2h0m-15 0h0m9-2h0m-8-6h0m8-1h0m-3-4h0m4-6h0m2-3h0m-8 0h0m2-4h0m-9-5h0m-1-13h0m17 0h0m-1-4h0m-4-6h0m4-4h0m0-5h0m0-3h0m-6-7h0m-11 0h0m8-15h0m5-10h0m-2-6h0m-8-6h0m19-93h0m-16-59h0m1-17h0m13-80h0m3-57h0m9 46h0m14 8h0m-19 66h0m17 2h0m-2 48h0m-14 83h0m6 30h0m9 0h0m-13 8h0m0 1h0m14 3h0m-16 10h0m1 5h0m11 6h0m3 4h0m-3 7h0m-7 18h0m8 1h0m-11 1h0m10 4h0m2 2h0m-10 3h0m-7 0h0m15 6h0m-3 1h0m-11 2h0m-1 0h0m4 4h0m13 2h0m-15 3h0m8 5h0m-7 5h0m1 0h0m1 0h0m-7 2h0m12 1h0m-7 6h0m0 0h0m0 2h0m15 0h0m-12 1h0m2 2h0m-6 3h0m18 5h0m-5 1h0m-11 4h0m17 1h0m-16 0h0m11 4h0m-9 0h0m-5 1h0m-2 5h0m20 5h0m-7 0h0m-3 0h0m3 2h0m-4 2h0m-10 1h0m12 1h0m1 2h0m8 2h0m-22 2h0m0 2h0m22 0h0m-21 1h0m13 1h0m-5 3h0m-8 4h0m0 1h0m15 2h0m-4 1h0m-1 0h0m5 0h0m0 0h0m-14 0h0m2 1h0m1 4h0m4 1h0m10 1h0m-3 1h0m-1 1h0m6 5h0m-10 1h0m10 2h0m-15 2h0m12 1h0m-11 0h0m11 2h0m-7 2h0m8 1h0m-9 2h0m10 3h0m-2 3h0m-13 2h0m9 1h0m-14 1h0m18 2h0m-14 0h0m19 1h0m-19 2h0m4 0h0m14 1h0m-4 1h0m-6 2h0m-5 2h0m7 1h0m4 0h0m-3 6h0m-7 0h0m-8 1h0m22 0h0m-11 2h0m10 7h0m-15 1h0m3 0h0m9 2h0m1 2h0m-12 1h0m40 124h0m-1-11h0m0-4h0m-6-2h0m7-1h0m-8-10h0m-9-7h0m10 0h0m-15-3h0m18-6h0m-5-1h0m-11-2h0m2-8h0m4 0h0m-4-4h0m17-17h0m-11-5h0m9-6h0m-10-14h0m10-3h0m-10-5h0m8-7h0m4-1h0m-10-7h0m-3-1h0m-5-8h0m-3-3h0m3-2h0m3-1h0m2-6h0m-9-6h0m4-1h0m15-8h0m-8 0h0m0-1h0m-10-1h0m9-1h0m10-1h0m-15-1h0m4 0h0m-3-1h0m8-2h0m7 0h0m-8-2h0m-7-3h0m-5-4h0m10-1h0m-3 0h0m1-1h0m4 0h0m3 0h0m-4 0h0m1-2h0m-6 0h0m-6-1h0m15-4h0m-12-1h0m4 0h0m9-1h0m-17 0h0m19 0h0m-15-1h0m0 0h0m9-1h0m-1 0h0m2-3h0m-7-4h0m4-2h0m11-1h0m1-4h0m-20 0h0m13-2h0m-14-1h0m6 0h0m-2-1h0m11-3h0m-2 0h0m4-1h0m2-1h0m-6 0h0m-7-5h0m9-7h0m-9 0h0m15-1h0m-12-2h0m6-2h0m-6-11h0m4-1h0m-6-2h0m-6-1h0m13-2h0m-8-8h0m-7-2h0m12-1h0m0-9h0m1-2h0m9 0h0m-20-1h0m0-1h0m8-1h0m-7-5h0m6-3h0m12 0h0m-13-8h0m9-1h0m-18-4h0m8-1h0m-5-1h0m16-1h0m-15-1h0m4-1h0m13-6h0m-20-7h0m12-3h0m7 0h0m-19-6h0m15-2h0m0-32h0m-5-122h0m-2-33h0m-3-19h0m41-7h0m-9 10h0m6 40h0m3 34h0m-15 0h0m5 59h0m-7 9h0m16 4h0m-3 24h0m2 1h0m-4 6h0m-8 6h0m13 10h0m-9 3h0m4 4h0m-7 1h0m-7 15h0m17 0h0m-10 3h0m-7 2h0m1 6h0m1 4h0m7 4h0m-6 4h0m-5 8h0m19 1h0m-19 4h0m20 0h0m-6 5h0m-14 2h0m2 2h0m4 1h0m6 6h0m-7 8h0m-2 1h0m-1 1h0m-1 1h0m9 8h0m10 1h0m-14 4h0m-1 4h0m-3 2h0m0 0h0m-1 4h0m13 4h0m5 6h0m-3 4h0m3 3h0m3 1h0m-1 8h0m-4 1h0m-5 4h0m-13 12h0m19 1h0m-1 1h0m-15 1h0m20 4h0m-10 4h0m-4 10h0m-9 6h0m15 1h0m1 18h0m-16 12h0m0 7h0m21 1h0m-11 1h0m9 2h0m-13 8h0m5 2h0m-7 3h0m19 4h0m-19 1h0m-3 9h0m22 3h0m-7 2h0m-11 6h0m1 6h0m4 7h0m-8 6h0m18 10h0m-2 0h0m-18 1h0m6 11h0m1 1h0m8 6h0m-3 1h0m-2 2h0m-1 3h0m4 7h0m1 1h0m-6 1h0m15 5h0m-19 3h0m1 2h0m3 12h0m6 5h0m5 5h0m12-1h0m5 0h0m1-2h0m-9-3h0m16-1h0m-15-1h0m3-7h0m8-1h0m-10 0h0m-6 0h0m17-1h0m-3-1h0m-10-2h0m5-4h0m10-5h0m2-3h0m0-1h0m-6-4h0m8 0h0m-22-3h0m21-2h0m-5-15h0m-15 0h0m4-11h0m15-5h0m-19-3h0m20-9h0m-12 0h0m-2-2h0m2-3h0m-7-7h0m-3-2h0m13-1h0m2-2h0m-15-2h0m14 0h0m4-4h0m-17-14h0m10-2h0m9-1h0m-9-6h0m-6-2h0m12-13h0m4-18h0m-5-10h0m-14-5h0m11 0h0m-4-6h0m7-12h0m2-12h0m-4-1h0m-10-3h0m8-8h0m4-1h0m-11-13h0m11-4h0m-9 0h0m-5-1h0m21-4h0m-17-6h0m15-6h0m-19-5h0m0 0h0m5-1h0m11-3h0m4-3h0m-4-2h0m-1-1h0m2-2h0m-2-7h0m-16 0h0m20 0h0m-15-1h0m14-1h0m-1-5h0m-8-3h0m5-5h0m6-4h0m-7 0h0m-6-5h0m-1-10h0m1-1h0m-5-1h0m9-8h0m-8-6h0m0-1h0m3-3h0m-5-2h0m0 0h0m7-10h0m-6-7h0m10-11h0m7-10h0m-1 0h0m-9-1h0m-2-116h0m-2-2h0m10-8h0m4-10h0m-14-4h0m11-4h0m3-11h0m17-41h0m-4 16h0m-7 6h0m10 0h0m3 3h0m0 0h0m3 4h0m4 0h0m-4 2h0m-17 6h0m19 10h0m-18 8h0m8 6h0m-6 1h0m8 3h0m4 0h0m-14 7h0m19 0h0m-9 3h0m-4 17h0m8 11h0m-2 11h0m-5 88h0m5 2h0m-13 5h0m13 9h0m-4 0h0m-11 2h0m12 0h0m4 3h0m-15 3h0m4 4h0m-4 2h0m5 14h0m-6 4h0m2 5h0m0 4h0m20 0h0m0 4h0m-10 2h0m8 4h0m-3 5h0m-8 1h0m-1 3h0m10 1h0m-11 2h0m13 5h0m-19 2h0m8 4h0m12 3h0m-3 2h0m-4 0h0m7 2h0m-12 1h0m-5 3h0m-4 6h0m12 7h0m-1 3h0m0 7h0m-4 7h0m5 2h0m-3 4h0m-7 0h0m0 1h0m17 0h0m4 3h0m0 1h0m-11 7h0m3 2h0m-4 2h0m-1 3h0m4 8h0m-2 3h0m-1 41h0m0 1h0m-8 0h0m19 1h0m-9 0h0m-6 3h0m-4 2h0m13 7h0m-7 7h0m14 9h0m-15 4h0m12 2h0m-15 5h0m-2 8h0m9 1h0m-6 2h0m0 2h0m8 1h0m-3 2h0m-9 8h0m2 7h0m1 7h0m4 2h0m1 3h0m0 2h0m-3 2h0m-6 2h0m10 0h0m-10 1h0m8 2h0m-4 2h0m12 3h0m-4 2h0m5 6h0m-5 1h0m-13 3h0m8 2h0m8 1h0m2 0h0m-11 0h0m-5 1h0m7 2h0m-3 1h0m14 2h0m2 1h0m-22 2h0m1 0h0m10 0h0m2 4h0m6 3h0m1 9h0m-3 3h0m-9 9h0m-2 4h0m13 2h0m-7 0h0m-12 1h0m3 2h0m0 7h0m20 6h0m-17 4h0m-4 2h0m19 2h0m-6 3h0m25 3h0m-4-2h0m-7-1h0m12-4h0m-5 0h0m-4-2h0m11-2h0m-3-3h0m1-2h0m-6-2h0m-9-2h0m16 0h0m-16 0h0m13-1h0m-7-1h0m2-1h0m-10 0h0m17-12h0m-8 0h0m-6-4h0m18-1h0m-10-2h0m-3-5h0m5-1h0m8-2h0m-4-3h0m-1-2h0m2-2h0m-6-2h0m-10 0h0m7 0h0m-5-7h0m14-3h0m-13 0h0m12-1h0m-11-9h0m5-1h0m11-3h0m-3-4h0m4-1h0m-17-3h0m11-2h0m-14-1h0m8 0h0m8-2h0m-1-4h0m-9-7h0m-9-4h0m19 0h0m-15-2h0m11-1h0m-6 0h0m-5-6h0m7-1h0m-2-1h0m1-5h0m11-7h0m-13-3h0m-5-1h0m14 0h0m-11-5h0m2-10h0m6-2h0m-9-3h0m-2-3h0m6-7h0m-7-3h0m3-2h0m18-7h0m-6-5h0m1-1h0m-7-1h0m-2-1h0m10-24h0m-14-15h0m2-3h0m5-13h0m-9-6h0m-1-2h0m10-13h0m3-2h0m-9-4h0m11-3h0m2-2h0m-11-1h0m-2-3h0m6-1h0m-10-4h0m14 0h0m-14-2h0m13 0h0m7-2h0m-22-5h0m12-10h0m-3-1h0m-9-7h0m22-4h0m-2-2h0m2-5h0m-5 0h0m-6-20h0m-1-6h0m6-3h0m-6-8h0m10-3h0m-6 0h0m9-4h0m-9-11h0m4-5h0m-4-1h0m-11-4h0m2-2h0m18-90h0m-8-10h0m-9-2h0m15-2h0m-19-11h0m-1-4h0m19-2h0m-6-3h0m7-11h0m-4-1h0m-8 0h0m1-5h0m-4-14h0m10 0h0m0-9h0m-2-2h0m-11 0h0m15-11h0m-1-2h0m-8-1h0m-3-11h0m-4-5h0m12-2h0m2-4h0m-13-4h0m2-1h0m7-4h0m-8-6h0m-2-19h0m16-15h0m21-3h0m3 4h0m-10 18h0m0 12h0m-3 0h0m-4 16h0m8 6h0m8 7h0m-5 4h0m-9 6h0m12 7h0m2 7h0m6 6h0m-22 25h0m14 2h0m0 4h0m8 1h0m-23 2h0m8 6h0m12 11h0m-5 6h0m-3 8h0m9 2h0m-13 13h0m0 62h0m11 11h0m-18 11h0m2 22h0m13 38h0m-8 2h0m4 7h0m-11 0h0m12 12h0m4 2h0m1 3h0m-7 0h0m9 0h0m-15 6h0m12 2h0m1 4h0m-2 6h0m-14 12h0m1 4h0m4 4h0m2 16h0m-2 31h0m4 10h0m-8 2h0m-2 1h0m4 14h0m-1 6h0m1 3h0m5 5h0m-5 2h0m-4 1h0m11 1h0m4 9h0m4 0h0m-1 2h0m-18 2h0m-1 1h0m7 1h0m-1 11h0m0 4h0m-1 1h0m2 1h0m8 2h0m0 1h0m-13 0h0m12 5h0m-5 2h0m7 5h0m-11 5h0m10 0h0m4 3h0m-9 2h0m-2 6h0m0 1h0m6 1h0m-2 4h0m-2 0h0m-2 1h0m9 0h0m-15 12h0m-1 1h0m19 3h0m-15 1h0m16 0h0m-4 1h0m6 0h0m-18 3h0m6 1h0m-4 5h0m12 0h0m-9 2h0m11 3h0m-4 1h0m-7 3h0m-3 8h0m16 2h0m-10 1h0m1 0h0m-13 1h0m17 0h0m0 1h0m-4 5h0m-10 0h0m4 3h0m-2 1h0m-6 2h0m19 5h0m2 3h0m-18 0h0m17 4h0m-7 1h0m-12 2h0m11 0h0m11 5h0m-4 1h0m-7 2h0m1 4h0m0 2h0m-4 0h0m1 3h0m9 2h0m2 1h0m-5 1h0m-15 2h0m36-3h0m4-6h0m3 0h0m-6-1h0m-6-2h0m1 0h0m1-4h0m6-2h0m-2 0h0m-5-5h0m11-3h0m-14 0h0m7-3h0m-3-1h0m10 0h0m-13-1h0m13-1h0m-9-3h0m-5-2h0m-5-5h0m21-3h0m-3 0h0m-7-9h0m3-2h0m-5-1h0m-9-5h0m0 0h0m14-1h0m-8-5h0m14 0h0m-13-1h0m-3 0h0m13-5h0m0-5h0m-3 0h0m-13-3h0m2 0h0m18 0h0m-9-4h0m-1-1h0m11-6h0m-22-8h0m11-2h0m-9-2h0m10-1h0m-7-1h0m-1-6h0m11 0h0m-12-1h0m3-1h0m-3-9h0m12-3h0m-12-1h0m5-5h0m-4-2h0m-5-8h0m15-1h0m-14-6h0m13-12h0m-2-2h0m2-3h0m5-1h0m-17-1h0m7-2h0m-9-32h0m0-3h0m11-4h0m1-5h0m2-1h0m2-12h0m-7-2h0m-1-17h0m7 0h0m-7-24h0m-3-15h0m-5-9h0m5-5h0m0-3h0m4-4h0m-3-20h0m-6-9h0m14-158h0m7-5h0m-15-2h0m-5-1h0m9-2h0m-3-1h0m-7-9h0m10-7h0m5-3h0m-13-1h0m2-1h0m9-4h0m4-3h0m2-4h0m-13-1h0m0-3h0m10-3h0m-12-1h0m10-18h0m-12 0h0m1-5h0m4-4h0m5-6h0m8-2h0m-18-2h0m12-5h0m4-4h0m-2-13h0m-7-4h0m-6 0h0m27 72h0m13 8h0m-5 7h0m3 14h0m-5 2h0m-8 215h0m5 99h0m-7 0h0m-2 12h0m11 6h0m-11 16h0m2 4h0m19 9h0m-7 1h0m-1 3h0m-8 2h0m9 1h0m-1 1h0m-6 2h0m11 1h0m3 5h0m-14 2h0m1 0h0m4 2h0m-10 0h0m4 15h0m13 7h0m-17 4h0m8 7h0m-8 8h0m3 6h0m-4 3h0m19 2h0m-20 2h0m10 1h0m5 0h0m5 3h0m-16 2h0m5 0h0m1 1h0m10 1h0m-9 4h0m5 2h0m-7 1h0m11 0h0m-6 3h0m-14 3h0m6 0h0m10 1h0m-7 1h0m12 0h0m-12 1h0m5 0h0m-1 2h0m-11 1h0m5 3h0m12 0h0m2 4h0m-19 1h0m15 1h0m-3 1h0m-5 0h0m14 0h0m-8 1h0m-6 6h0m-3 1h0m17 0h0m-18 6h0m-4 1h0m12 1h0m-4 2h0m10 0h0m-9 5h0m2 2h0m-2 1h0m-6 1h0m7 2h0m23-29h0m3-3h0m-2-4h0m0-3h0m-5-1h0m1-5h0m2-1h0m3 0h0m-1-11h0m-11-3h0m0-3h0m3-5h0m-3-1h0m5-4h0m1-9h0m7-10h0m1-1h0m-11-14h0m-3-12h0m11-11h0m-11-4h0m6-10h0m0-5h0m13-213h0m-6-25h0m8-95h0m-4-21h0m-16-9h0m14-16h0m-5-4h0m26 37h0m-3 4h0m-5 457h0m5 3h0m9 0h0m3 0h0m19-11h0m2-6h0m-10-2h0m-2-10h0m14-12h0m3-414h0m-11-25h0m13 13h0m4 27h0m5 4h0m3 8h0m1 3h0m0 8h0m32 27h0m1-3h0m-8-5h0m-10-9h0m8-14h0m-6-1h0m20 15h0m13 30h0m-2 2h0m2 1h0m5 7h0m2 1h0m-14 105h0m8 9h0m-6 5h0m11 10h0m-6 10h0m5 0h0m0 3h0m2 3h0m6 26h0m6-8h0m7-3h0m-7-1h0m10-12h0m-17-2h0m10-1h0m-4-1h0m4 0h0m-14-4h0m14-2h0m8-2h0m-9-3h0m-9-9h0m5 0h0m-6-2h0m17-6h0m-7-3h0m7-5h0m-4-2h0m-6 0h0m4-1h0m-14-1h0m13-1h0m-10-4h0m-2-4h0m5 0h0m1-1h0m7 0h0m7-1h0m-9 0h0m6-2h0m-2-1h0m-3-2h0m9-2h0m-2-1h0m0-4h0m-6 0h0m3-4h0m-2-6h0m-1-1h0m6-4h0m-7-7h0m6-5h0m1-8h0m2-37h0m-3 0h0m-1-2h0m-1-10h0m-8-7h0m23 30h0m10 9h0m-4 3h0m9 2h0m-2 2h0m-18 0h0m-3 2h0m20 1h0m-1 0h0m3 3h0m-2 3h0m-3 10h0m-15 4h0m1 5h0m2 4h0m7 1h0m10 5h0m-13 0h0m-3 0h0m3 2h0m3 1h0m-1 4h0m-9 1h0m20 0h0m-1 1h0m-16 0h0m9 2h0m-8 1h0m9 1h0m-3 5h0m-5 0h0m0 0h0m5 3h0m0 0h0m-8 1h0m0 2h0m3 1h0m14 0h0m-18 3h0m17 9h0m-10 2h0m10 0h0m-5 2h0m-11 1h0m19 3h0m-1 3h0m-8 3h0m3 3h0m-5 9h0m-1 2h0m7 8h0m-11 1h0m0 1h0m2 0h0m-5 1h0m4 4h0m-4 0h0m4 5h0m13 9h0m-4 4h0m-17 2h0m9 3h0m10 0h0m-19 1h0m19 6h0m5-8h0m18-11h0m-18-2h0m17-2h0m0-1h0m-11 0h0m17-1h0m-19-3h0m-4-1h0m3-3h0m-3 0h0m15 0h0m1-1h0m0-2h0m7-2h0m-5-4h0m-3-2h0m0-1h0m-3 0h0m-9-1h0m1-1h0m-4-2h0m1 0h0m9-3h0m9-1h0m0-2h0m3-1h0m-1-1h0m-14-5h0m1-1h0m-4-1h0m3-1h0m5-1h0m5-4h0m3-2h0m-10-1h0m5-2h0m3 0h0m-5-2h0m-4 0h0m7-2h0m7-1h0m-19-1h0m17 0h0m-18-3h0m0-3h0m10 0h0m-6 0h0m13-2h0m-8-1h0m-10-2h0m-1-1h0m18-1h0m-5-1h0m3-1h0m-4-2h0m3 0h0m-10-1h0m14-7h0m-6-1h0m-6-5h0m8-1h0m-15-1h0m22-1h0m0-1h0m0-6h0m0-1h0m-20 0h0m17 0h0m-17-2h0m7 0h0m3-3h0m5 0h0m-10-3h0m15-3h0m-2-4h0m-16 0h0m17 0h0m-4-2h0m2-2h0m-5 0h0m2-1h0m-12-1h0m13-2h0m-1-2h0m-5-1h0m0-3h0m11-2h0m-15-2h0m1 0h0m1-1h0m1-6h0m17 14h0m1 2h0m1 4h0m8 0h0m-1 1h0m-9 0h0m6 2h0m-7 3h0m4 0h0m4 6h0m-9 2h0m8 2h0m11 1h0m-5 2h0m-5 3h0m-6 0h0m18 1h0m-11 2h0m11 2h0m-4 1h0m-4 0h0m0 0h0m-3 1h0m-6 2h0m2 2h0m-7 1h0m1 2h0m6 1h0m2 1h0m-6 1h0m4 0h0m14 5h0m-10 2h0m-6 2h0m-6 4h0m6 0h0m7 2h0m6 1h0m-11 0h0m1 2h0m13 0h0m-18 0h0m9 0h0m-5 2h0m-6 4h0m6 1h0m15 1h0m-3 1h0m-9 3h0m-9 2h0m6 1h0m12 3h0m1 0h0m-19 0h0m4 1h0m-3 0h0m11 1h0m-13 0h0m7 3h0m-5 2h0m0 0h0m8 2h0m-10 0h0m6 1h0m10 1h0m-10 0h0m7 2h0m-5 2h0m-9 0h0m8 5h0m-6 0h0m2 1h0m11 1h0m4 1h0m-11 2h0m-5 1h0m11 2h0m-9 1h0m0 13h0m19-29h0m6-7h0m-4-2h0m5-25h0m-3-1h0m4-10h0m-6-4h0m-1 0h0m-1-1h0m5 0h0m2-11h0m-5-9h0m-2-8h0"/>
<path stroke="#eba43e" d="M932 1156h0m44-85h0m-9 57h0m20 48h0m11-92h0m-10-37h0m15-7h0m-5-2h0m8-37h0m24 163h0m0 16h0m15 4h0m25-83h0m6 20h0m-19 9h0m46 93h0m-9-7h0m9-77h0m0-17h0m-6-4h0m2 0h0m1-4h0m-8-11h0m7-6h0m2-5h0m-1-5h0m-7-4h0m7-12h0m-5-1h0m1-1h0m-1-13h0m5-3h0m7-2h0m5 20h0m-1 5h0m-7 4h0m4 1h0m7 4h0m-11 1h0m3 3h0m0 0h0m15 7h0m-5 2h0m-3 2h0m5 2h0m-10 4h0m13 1h0m-3 0h0m-14 2h0m13 13h0m-10 3h0m9 2h0m-11 0h0m-2 1h0m4 3h0m13 0h0m-2 4h0m4 4h0m-13 2h0m-2 9h0m10 3h0m-4 3h0m-1 1h0m5 0h0m-5 1h0m4 2h0m3 3h0m-1 1h0m-4 0h0m4 9h0m2 1h0m3 6h0m-2 37h0m4 2h0m1 17h0m-2 0h0m9 23h0m5-2h0m5-10h0m-12-16h0m17-27h0m-19-11h0m16-3h0m-16-1h0m18 0h0m-1-4h0m-11-2h0m7 0h0m0 0h0m1-5h0m-3-2h0m-12-4h0m13-2h0m-7-1h0m-6-3h0m3-4h0m1-3h0m-4-3h0m0-2h0m0 0h0m9-3h0m-9-39h0m13-127h0m29 64h0m-19 23h0m11 115h0m-10 1h0m0 2h0m4 9h0m12 8h0m-5 0h0m-7 3h0m0 41h0m-1 38h0m42 2h0m-16-68h0m6-7h0m-1-215h0m2-41h0m6-8h0m25-15h0m-16 291h0m0 9h0m15 12h0m3 34h0m-6 15h0m-5 17h0m-1 4h0m34 5h0m-12-14h0m-6-18h0m0-74h0m-1-32h0m2-149h0m39-57h0m-8 37h0m11 72h0m-7 138h0m-5 3h0m14 68h0m3-8h0m2-100h0m3-106h0m-7-31h0m2-80h0m12-35h0m10 3h0m2 25h0m-2 4h0m13 21h0m9 49h0m-16 45h0m-4 43h0m1 50h0m12 241h0m19 17h0m11-148h0m-17-1h0m19-40h0m-7-13h0m6-24h0m-4-8h0m-12-63h0m12-161h0m-3-13h0m4-57h0m21 137h0m5 31h0m-12 104h0m-8 145h0m17 122h0m16-28h0m-6-13h0m7-35h0m-4-183h0m40 55h0m-22 57h0m19 28h0m-12 24h0m11 31h0m26-45h0m-14-92h0m15-107h0m-3-1h0m0-59h0m14-40h0m-3 72h0m12 3h0m-14 4h0m-1 4h0m2 0h0m1 8h0m3 1h0m-1 2h0m4 2h0m9 4h0m-7 7h0m-8 12h0m-4 39h0m11 137h0m34 270h0m-20-306h0m11-37h0m-14-33h0m16-36h0m-4-1h0m-12-5h0m9-1h0m4-3h0m-8-2h0m1-7h0m-3-5h0m11-6h0m5-61h0m22-71h0m-7 22h0m-8 1h0m13 39h0m-9 5h0m13 8h0m-3 19h0m5 1h0m-11 36h0m9 4h0m-7 2h0m-12 16h0m7 3h0m4 10h0m7 1h0m-9 1h0m-1 3h0m1 18h0m0 111h0m-6 116h0m11 126h0m-10 23h0m30-234h0m13-32h0m-7-72h0m-9-15h0m10-33h0m-16-2h0m8-2h0m-9-5h0m20-63h0m-14-13h0m14-3h0m-11-14h0m-5-11h0m14-28h0m-8 0h0m3-12h0m11-37h0m11 41h0m12 9h0m-8 38h0m-13 2h0m16 14h0m-15 8h0m8 7h0m8 86h0m2 4h0m2 5h0m-3 1h0m3 10h0m-20 80h0m-2 224h0m29-90h0m13-123h0m3-1h0m-4-6h0m-1-16h0m2-7h0m-5-3h0m8-4h0m-3-1h0m3 0h0m-2-3h0m0-2h0m2-11h0m-14-19h0m13-14h0m-13-2h0m3 0h0m3-6h0m-7-7h0m-6-2h0m6-6h0m9-1h0m-10-5h0m2-8h0m9-1h0m2-2h0m2-2h0m-9-2h0m-4-1h0m6-12h0m-2-72h0m-12-45h0m1-36h0m2-41h0m30 203h0m-3 8h0m10 2h0m-1 1h0m-13 0h0m-1 7h0m11 0h0m6 1h0m-11 1h0m-2 3h0m18 2h0m-2 1h0m-14 2h0m6 7h0m8 1h0m-13 0h0m-8 1h0m21 2h0m2 0h0m-1 5h0m-10 1h0m4 1h0m-14 1h0m5 0h0m8 3h0m4 1h0m-17 3h0m11 3h0m-8 14h0m3 1h0m-8 3h0m16 1h0m1 2h0m2 1h0m0 3h0m-12 1h0m6 2h0m-10 1h0m7 4h0m-7 4h0m4 0h0m-5 0h0m11 1h0m1 5h0m-9 7h0m-2 1h0m0 1h0m2 1h0m9 1h0m-14 1h0m21 8h0m-8 2h0m-6 5h0m-4 6h0m4 3h0m22 215h0m-3-228h0m8-2h0m-5 0h0m0-11h0m11-8h0m-11-6h0m4-13h0m6-3h0m-7-6h0m-4-3h0m3 0h0m-3-4h0m9-10h0m-7-6h0m3-1h0m-4-2h0m5 0h0m6-2h0m-14 0h0m10-2h0m3 0h0m2-2h0m-8 0h0m7 0h0m-15-3h0m20 0h0m-14 0h0m2-1h0m7-1h0m-3-2h0m-1-2h0m-8 0h0m14-3h0m-8-1h0m-3-1h0m5 0h0m-9-1h0m-2-2h0m14 0h0m-13-2h0m6-4h0m11-139h0m38 41h0m0-19h0m138 272h0m6-74h0"/>
<path stroke="#4e9a4e" d="M1238 1208h0m126 200h0m-20 12h0m24-11h0m45-172h0m9 44h0m95-62h0m-4-168h0m0-5h0m22-24h0m3-21h0m0 24h0m33 3h0"/>
<path stroke="#7b2a6e" d="M930 1129h0m2 5h0m-9 2h0m6 9h0m2 6h0m3 1h0m-1 1h0m-2 3h0m-11 2h0m7 2h0m3 0h0m-2 0h0m-6 1h0m-6 3h0m5 1h0m-5 2h0m12 28h0m31 22h0m-9-4h0m7-6h0m-8-2h0m5-1h0m-2 0h0m-6-4h0m3-4h0m-1 0h0m3-2h0m-8-3h0m8-2h0m-10-5h0m15-2h0m-10-1h0m-1-1h0m3-2h0m9 0h0m-17-2h0m4 0h0m12-2h0m0-1h0m-12-2h0m-8-3h0m23 0h0m-20 0h0m11-1h0m-13 0h0m3-9h0m16-1h0m-19-10h0m4-2h0m-4-1h0m21-2h0m-17 0h0m2-2h0m1-5h0m-8-1h0m4-4h0m18-1h0m-21-2h0m18-3h0m-5-1h0m-3-1h0m6 0h0m-1-1h0m-1-1h0m-15 0h0m19-1h0m4-1h0m-20-1h0m8 0h0m-10-3h0m7-1h0m3-3h0m-8-3h0m18 0h0m-7-1h0m-8 0h0m13 0h0m1-2h0m-4 0h0m-1-1h0m-1-1h0m-4-2h0m8-4h0m-7-1h0m5-1h0m6-3h0m1-13h0m22-36h0m0 6h0m-4 2h0m3 4h0m-10 1h0m13 0h0m-14 1h0m5 6h0m-3 1h0m-6 3h0m8 1h0m-5 0h0m14 0h0m-14 2h0m14 2h0m-2 2h0m-7 1h0m4 0h0m-11 4h0m-5 0h0m5 1h0m1 1h0m1 3h0m8 2h0m-14 1h0m8 4h0m13 1h0m-14 3h0m6 3h0m-10 1h0m1 3h0m16 1h0m-6 2h0m-11 0h0m-4 4h0m7 3h0m-6 0h0m15 3h0m-5 0h0m5 2h0m-9 1h0m-8 2h0m1 4h0m3 1h0m1 1h0m12 7h0m-4 0h0m-4 1h0m-5 1h0m0 1h0m2 3h0m16 5h0m-14 1h0m1 0h0m11 2h0m-17 1h0m15 0h0m-2 1h0m-6 1h0m4 0h0m-8 6h0m16 2h0m-21 0h0m15 0h0m-2 0h0m-4 3h0m-8 3h0m7 2h0m1 0h0m5 1h0m-11 0h0m9 1h0m2 2h0m3 2h0m-18 1h0m4 2h0m10 3h0m-2 1h0m5 1h0m-10 1h0m11 1h0m-15 0h0m2 1h0m9 1h0m9 0h0m-13 1h0m-6 1h0m19 0h0m-11 1h0m11 2h0m-19 1h0m17 2h0m-15 2h0m-4 2h0m19 3h0m-4 1h0m-12 0h0m17 4h0m-14 1h0m9 5h0m-8 2h0m-8 0h0m4 0h0m1 1h0m-5 4h0m17 4h0m-10 6h0m25 12h0m5-5h0m-8-1h0m6-2h0m-10-1h0m12 0h0m9-6h0m-20 0h0m10-5h0m-13-3h0m2-4h0m19-4h0m1-1h0m-14-2h0m3-4h0m10-3h0m-6-2h0m-9-2h0m10 0h0m-14-4h0m9-6h0m0 0h0m6-3h0m1-3h0m-8 0h0m-8 0h0m-2-2h0m19 0h0m-2-2h0m3-2h0m-10-3h0m13 0h0m-21 0h0m20-2h0m-8-1h0m-13-2h0m5-2h0m-2-3h0m18-1h0m-11-1h0m12-4h0m-7-3h0m-4-2h0m8 0h0m-1-4h0m-6-5h0m6-2h0m-11-4h0m-5-1h0m9-2h0m-9-3h0m5-12h0m1-3h0m-2-2h0m-5-2h0m4 0h0m1-8h0m2-1h0m-1 0h0m5-1h0m-12 0h0m10-1h0m-8-3h0m17-3h0m0-1h0m-11-1h0m8-4h0m1-1h0m-16-1h0m6-2h0m6 0h0m0-3h0m3-1h0m-14-1h0m3-1h0m3-2h0m11-2h0m-19-3h0m12-1h0m4 0h0m1 0h0m3-10h0m-2-2h0m1 0h0m-16 0h0m6-1h0m-7-1h0m-2 0h0m15-1h0m4-1h0m-12-2h0m-6-7h0m11-10h0m4-5h0m-15-2h0m16-7h0m4 0h0m-4-1h0m0 0h0m-10-8h0m5-4h0m6-3h0m4-12h0m-5 0h0m2-13h0m23-12h0m-3 4h0m-1 10h0m8 10h0m-1 2h0m-18 2h0m-3 5h0m12 1h0m-12 0h0m17 1h0m-1 10h0m-15 7h0m7 1h0m14 1h0m-14 1h0m12 1h0m-16 1h0m4 2h0m5 0h0m5 1h0m-5 1h0m-3 1h0m7 0h0m-1 2h0m-5 0h0m1 1h0m9 0h0m-22 3h0m22 0h0m-15 2h0m15 3h0m-1 0h0m-3 0h0m-14 1h0m7 0h0m11 1h0m-1 1h0m-1 2h0m1 1h0m-15 2h0m9 2h0m3 1h0m-12 1h0m7 2h0m2 0h0m2 4h0m-17 4h0m10 3h0m12 0h0m1 1h0m-13 1h0m-6 2h0m16 2h0m0 2h0m-17 1h0m20 6h0m-10 4h0m-3 2h0m-1 0h0m12 0h0m-5 1h0m2 1h0m-8 3h0m6 4h0m-2 0h0m2 1h0m-3 0h0m7 1h0m-3 0h0m-16 1h0m19 0h0m-19 3h0m-1 0h0m13 3h0m4 1h0m-2 2h0m-4 3h0m-8 1h0m15 5h0m-11 1h0m-2 0h0m7 1h0m8 1h0m-5 4h0m-3 3h0m2 1h0m6 7h0m-9 1h0m-4 4h0m15 0h0m-16 1h0m15 0h0m0 1h0m-18 1h0m3 1h0m7 1h0m8 3h0m-16 0h0m2 1h0m13 2h0m-20 2h0m7 1h0m16 0h0m-1 5h0m-16 0h0m2 0h0m-7 2h0m0 0h0m20 1h0m-5 5h0m-2 1h0m2 3h0m-14 2h0m0 6h0m13 0h0m5 3h0m2 0h0m-13 2h0m14 0h0m-4 3h0m-13 5h0m14 2h0m-11 9h0m8 2h0m-10 1h0m-5 0h0m13 1h0m-3 4h0m-2 3h0m-5 5h0m-3 4h0m8 3h0m0 1h0m-9 2h0m0 3h0m12 2h0m-6 1h0m-1 5h0m10 3h0m-9 4h0m0 1h0m8 3h0m-11 0h0m19 2h0m0 5h0m-15 2h0m25 8h0m4-4h0m1-7h0m-14-3h0m10 0h0m7-8h0m-3-1h0m-14-8h0m0 0h0m9-3h0m-9-1h0m4 0h0m7-7h0m-9 0h0m14-2h0m-10-1h0m8-5h0m5 0h0m-11-1h0m8-5h0m-7-2h0m5 0h0m-4-3h0m-6-2h0m12-2h0m4-7h0m-17-1h0m10-5h0m7 0h0m-10 0h0m-1-1h0m7-1h0m1 0h0m-8-5h0m3 0h0m5-1h0m-11-1h0m2-1h0m7-3h0m3-1h0m-15-1h0m2-5h0m-3-3h0m17-1h0m2 0h0m-11-2h0m7-1h0m3 0h0m-15-4h0m0-2h0m4-7h0m-6-5h0m5-4h0m12-2h0m2-2h0m-22-1h0m12 0h0m5-10h0m2-2h0m-17 0h0m16-2h0m-1-2h0m1 0h0m-13-1h0m17 0h0m-22-3h0m4 0h0m-4-2h0m16-1h0m-14 0h0m8 0h0m9-1h0m4-1h0m-7-1h0m5 0h0m-15-3h0m9-10h0m-13 0h0m17 0h0m-16-3h0m14-2h0m-12-2h0m16-7h0m-8 0h0m6-4h0m2-2h0m-20 0h0m18-2h0m-14 0h0m0-3h0m-4-1h0m13-1h0m-9-3h0m15-1h0m3-1h0m-9-1h0m5-2h0m-10-2h0m-4-4h0m-4-4h0m0 0h0m16-1h0m-4-1h0m3-1h0m-16-1h0m19-1h0m-19 0h0m11-3h0m-10 0h0m18-2h0m-14-10h0m12-6h0m5-3h0m-3-4h0m-8-2h0m-4-13h0m0-4h0m-7 0h0m3-5h0m1-14h0m7 0h0m-6-9h0m4-12h0m11-2h0m-11-3h0m22-13h0m8 16h0m5 1h0m-17 2h0m2 2h0m16 1h0m-1 0h0m-5 2h0m-4 2h0m-10 0h0m8 2h0m0 3h0m2 4h0m3 9h0m2 0h0m-14 5h0m9 1h0m-2 3h0m-5 1h0m-1 1h0m12 2h0m-3 1h0m1 2h0m-7 4h0m6 2h0m-7 0h0m8 2h0m-7 4h0m-1 1h0m16 3h0m-10 0h0m6 1h0m-1 10h0m-5 1h0m-5 5h0m0 1h0m14 1h0m-14 1h0m-2 1h0m18 1h0m-21 0h0m19 1h0m-9 1h0m-5 1h0m7 2h0m1 0h0m-2 3h0m7 4h0m-1 0h0m-8 2h0m13 2h0m-20 3h0m18 4h0m-9 6h0m5 0h0m3 1h0m-14 0h0m7 1h0m9 1h0m-1 1h0m-13 2h0m2 1h0m-5 2h0m17 1h0m-9 7h0m0 6h0m-5 3h0m9 6h0m-1 0h0m-11 1h0m5 1h0m11 2h0m-5 0h0m0 2h0m2 0h0m-16 1h0m3 1h0m16 1h0m-16 0h0m-5 1h0m11 3h0m-5 2h0m16 3h0m-7 4h0m0 2h0m-7 1h0m-8 2h0m18 0h0m-8 0h0m6 0h0m-10 2h0m7 8h0m-2 1h0m-1 9h0m-4 3h0m11 2h0m-16 1h0m3 1h0m16 0h0m-18 1h0m1 2h0m14 9h0m-3 1h0m-13 5h0m8 1h0m-4 3h0m-1 0h0m15 2h0m2 1h0m-5 1h0m2 5h0m5 3h0m-18 2h0m4 1h0m14 1h0m-6 1h0m4 0h0m-1 1h0m-4 12h0m0 0h0m-3 3h0m5 1h0m-18 0h0m16 3h0m-15 1h0m16 13h0m0 6h0m5 4h0m-5 1h0m-1 0h0m-12 5h0m-4 3h0m5 1h0m-3 7h0m20 2h0m0 1h0m-21 4h0m21 4h0m-2 4h0m1 1h0m-18 0h0m1 1h0m-2 2h0m19 2h0m0 1h0m-17 12h0m31 12h0m-3-2h0m0-3h0m4-2h0m4-1h0m-16-1h0m23-8h0m-15 0h0m0-7h0m14-1h0m-18-2h0m19-4h0m-19-1h0m17-1h0m-9-2h0m9-1h0m-1-7h0m-19-1h0m12-1h0m7-8h0m-7-13h0m4-2h0m-3-8h0m-11-1h0m-2-5h0m22-3h0m-18-1h0m10-2h0m7-3h0m-11-1h0m-3-3h0m-6-2h0m6-3h0m10-2h0m0-2h0m-10-8h0m-8-4h0m3 0h0m17-2h0m0-1h0m-18-6h0m9-2h0m1-2h0m-10-2h0m6-1h0m-8 0h0m8-1h0m-2-1h0m15-3h0m-20-5h0m15-1h0m-15 0h0m2-3h0m16 0h0m-2-2h0m-2-6h0m-3-1h0m3 0h0m-6-2h0m10-2h0m-10 0h0m3-2h0m-10-3h0m21-2h0m-14-4h0m-3-2h0m9-1h0m-2-2h0m-12-1h0m15-2h0m-12-1h0m-1-1h0m-2-1h0m5-2h0m4-1h0m8 0h0m-9-8h0m12-3h0m-1-1h0m-12-2h0m-4 0h0m3-1h0m1-2h0m-7-2h0m7-3h0m6-8h0m-5 0h0m5 0h0m-10-13h0m-2-9h0m6-2h0m4-2h0m-2-3h0m-3-2h0m-3-6h0m12-1h0m-6-4h0m3-1h0m1-12h0m1-10h0m6-4h0m-20-3h0m10-5h0m-9-1h0m3-8h0m2-1h0m11-3h0m0-2h0m-16 0h0m-2-2h0m18 0h0m-4-3h0m-14-7h0m8-2h0m10-3h0m-16-3h0m-2 0h0m9-12h0m12 0h0m-9-6h0m-6 0h0m-6-1h0m0-1h0m8-3h0m-3-8h0m-1 0h0m29-13h0m10 9h0m-4 1h0m2 0h0m-3 2h0m-9 0h0m14 1h0m-1 1h0m-11 7h0m14 0h0m-2 1h0m-19 6h0m18 3h0m-2 2h0m7 1h0m0 3h0m-17 2h0m-1 0h0m15 1h0m-18 7h0m-1 2h0m-1 0h0m18 1h0m-10 2h0m3 2h0m-5 2h0m6 2h0m-6 3h0m-3 0h0m4 2h0m3 0h0m1 0h0m-1 2h0m12 0h0m-21 1h0m22 3h0m-8 4h0m5 2h0m-19 2h0m12 3h0m10 2h0m-23 0h0m6 0h0m3 0h0m4 2h0m9 6h0m-22 0h0m21 0h0m-9 1h0m-1 1h0m7 1h0m-4 0h0m8 0h0m-22 2h0m3 2h0m7 4h0m11 3h0m-14 7h0m16 13h0m-15 2h0m8 0h0m5 3h0m-19 0h0m11 11h0m10 3h0m-11 0h0m6 2h0m-15 3h0m18 2h0m-14 10h0m8 1h0m2 9h0m6 4h0m-21 28h0m-1 21h0m7 2h0m6 1h0m-14 8h0m18 8h0m-18 0h0m3 1h0m-1 2h0m7 0h0m9 3h0m-4 2h0m3 9h0m-5 1h0m-1 3h0m3 0h0m5 1h0m-8 13h0m8 13h0m-14 18h0m6 4h0m-6 4h0m0 0h0m17 1h0m-21 4h0m5 5h0m5 3h0m-8 1h0m16 3h0m-7 8h0m6 0h0m-14 8h0m0 4h0m8 0h0m-10 1h0m11 0h0m0 5h0m-8 1h0m14 5h0m-1 2h0m-16 3h0m9 5h0m8 3h0m-12 7h0m19 1h0m-1-1h0m22-8h0m-3-5h0m-18-2h0m8-6h0m5-5h0m4 0h0m-1-4h0m-11-3h0m10-2h0m-12-22h0m1-16h0m10-5h0m3-3h0m-13-6h0m8-6h0m-4-3h0m5 0h0m-10-1h0m7-1h0m9 0h0m0-1h0m-17-1h0m11-1h0m6-9h0m-7-10h0m2-1h0m-15-5h0m-1-8h0m13-8h0m-13-13h0m22-4h0m-14-7h0m-1-2h0m3-3h0m-4-6h0m-4-1h0m15-6h0m-11-17h0m-6-4h0m15-7h0m-15-4h0m13-6h0m8-1h0m-14-1h0m15-1h0m-3-2h0m-3-20h0m-4-1h0m0-5h0m4-1h0m1 0h0m0-8h0m-5-2h0m7-1h0m-17-9h0m10-2h0m10-8h0m-16-2h0m-3-4h0m10-2h0m10 0h0m-9 0h0m-8-1h0m11-3h0m-13-2h0m3-6h0m4-2h0m0-11h0m-7-3h0m-3 0h0m1-4h0m5-3h0m-5-3h0m20-9h0m-12-4h0m-1-10h0m11-1h0m-16-11h0m9-2h0m-10-1h0m20-2h0m-1-1h0m-18 0h0m-4-3h0m13-6h0m7-1h0m-1-2h0m27-1h0m-2 2h0m-11 0h0m11 0h0m-4 4h0m6 3h0m-9 0h0m-1 1h0m8 0h0m1 3h0m-18 0h0m9 6h0m-8 4h0m8 2h0m-9 0h0m-3 5h0m23 1h0m-1 5h0m-15 1h0m14 5h0m-19 2h0m1 1h0m2 1h0m17 3h0m-12 2h0m-3 2h0m-7 1h0m16 7h0m-12 6h0m5 6h0m5 0h0m-12 1h0m1 4h0m13 3h0m-10 9h0m-6 3h0m9 0h0m12 2h0m-18 7h0m0 5h0m6 4h0m6 4h0m-2 1h0m-12 2h0m0 4h0m7 7h0m-8 19h0m17 11h0m-4 9h0m8 2h0m-5 3h0m-12 3h0m1 5h0m7 2h0m4 3h0m-12 6h0m-4 11h0m8 9h0m-7 25h0m-1 0h0m6 1h0m-6 34h0m17 17h0m-7 5h0m13 0h0m-15 2h0m-2 1h0m11 1h0m-17 3h0m15 3h0m5 2h0m-5 4h0m-4 1h0m-6 7h0m13 6h0m-1 4h0m1 5h0m-14 5h0m-4 1h0m9 8h0m-2 0h0m-3 7h0m6 9h0m5 1h0m0 0h0m-8 2h0m-4 0h0m42-1h0m-1-2h0m-10-9h0m3-47h0m-6-8h0m9-3h0m-4-9h0m-5-9h0m2-30h0m-7-2h0m15-7h0m6-31h0m-8-14h0m-2-5h0m-4-5h0m5-2h0m-5-16h0m-6-1h0m15-14h0m-11-3h0m12-2h0m-1-16h0m-2-14h0m-16-2h0m21-11h0m-9-4h0m-11-4h0m6-10h0m-3-11h0m11-5h0m8-1h0m-13-2h0m-4-2h0m6-6h0m-3-2h0m4-4h0m10-13h0m-9-1h0m5 0h0m3-3h0m-14-1h0m3-1h0m6 0h0m0-15h0m-5-1h0m2-3h0m-2-1h0m6-1h0m-3 0h0m-15-1h0m15 0h0m-11-1h0m-1-7h0m16-2h0m-14 0h0m13-1h0m-18-1h0m2-9h0m30 0h0m15 2h0m-22 1h0m18 5h0m2 1h0m-9 2h0m-9 7h0m20 11h0m-14 1h0m-2 3h0m-5 4h0m19 19h0m1 14h0m-1 1h0m-19 16h0m1 1h0m7 0h0m11 10h0m-12 13h0m5 1h0m-14 9h0m20 15h0m2 1h0m-21 4h0m8 0h0m-7 19h0m21 6h0m-17 7h0m-1 22h0m15 18h0m-7 11h0m-8 7h0m-4 6h0m3 3h0m7 10h0m1 1h0m10 12h0m-20 5h0m13 6h0m-14 1h0m18 13h0m0 2h0m-9 4h0m-1 2h0m12 4h0m-5 1h0m-7 6h0m1 6h0m6 12h0m1 2h0m-6 1h0m-7 3h0m-3 4h0m13 21h0m0 5h0m-13 0h0m13 3h0m7 11h0m-6 43h0m23-14h0m9-22h0m-9-9h0m-4-6h0m-9-4h0m7-6h0m6-4h0m-12-1h0m7-5h0m12-22h0m-10-1h0m4-3h0m8-10h0m-8-9h0m-11-4h0m15-1h0m4-2h0m-22 0h0m3-5h0m10-8h0m-13-3h0m15-8h0m-6-1h0m3-6h0m-12-36h0m10-1h0m-10-2h0m1-5h0m20-6h0m1-10h0m-8-14h0m-11-2h0m-2-6h0m0-5h0m18-4h0m-13-2h0m-6-4h0m22-31h0m-15-14h0m1-18h0m-6-23h0m-1-3h0m16-22h0m-9-13h0m0-13h0m5-8h0m-4-2h0m4-1h0m3-3h0m-1-2h0m2-1h0m-12-5h0m8-5h0m-2-3h0m2-4h0m1-1h0m13 5h0m12 14h0m-16 1h0m0 1h0m12 2h0m-1 1h0m11 8h0m-7 2h0m5 2h0m-3 1h0m5 10h0m-6 1h0m4 2h0m-6 5h0m8 9h0m-7 0h0m-5 0h0m11 9h0m-9 8h0m-1 3h0m-5 4h0m-3 1h0m3 0h0m9 1h0m1 6h0m7 2h0m-3 3h0m-4 2h0m6 0h0m-4 0h0m-9 0h0m10 4h0m-7 4h0m-2 5h0m-4 2h0m16 5h0m-2 0h0m-11 1h0m2 1h0m4 5h0m-8 4h0m-2 3h0m10 2h0m-6 8h0m9 0h0m-13 3h0m-2 2h0m13 1h0m3 1h0m-17 0h0m8 0h0m-8 1h0m0 2h0m8 2h0m0 0h0m-4 2h0m10 5h0m5 1h0m-16 4h0m0 1h0m8 0h0m2 2h0m4 6h0m-14 2h0m18 0h0m-10 0h0m1 3h0m3 0h0m-10 3h0m-5 0h0m16 1h0m-7 1h0m-2 1h0m7 1h0m1 1h0m-16 0h0m8 3h0m-5 1h0m5 4h0m-5 2h0m-1 0h0m-2 2h0m20 2h0m-14 1h0m12 3h0m-12 0h0m8 1h0m7 0h0m-16 1h0m3 0h0m13 1h0m-12 0h0m-7 0h0m18 3h0m1 2h0m-12 2h0m4 1h0m-3 1h0m8 2h0m-9 0h0m7 0h0m-4 0h0m7 2h0m-1 1h0m1 2h0m-5 0h0m4 2h0m4 2h0m-3 0h0m-3 6h0m2 3h0m-7 2h0m-6 0h0m1 1h0m2 1h0m10 0h0m-2 16h0m-17 12h0m7 14h0m15 4h0m-20 4h0m4 16h0m0 12h0m-4 1h0m14 11h0m-7 0h0m8 5h0m-5 5h0m-4 0h0m12 3h0m-5 15h0m5 17h0m-12 20h0m0 1h0m28 21h0m4-8h0m2-7h0m5-30h0m-22-10h0m4-7h0m5-1h0m-5-10h0m13 0h0m-16-5h0m-1-3h0m10-2h0m-3-3h0m4-3h0m-1-2h0m6-1h0m0-2h0m-6-8h0m7-2h0m0-2h0m5 0h0m-22-9h0m0-2h0m16-2h0m-7-2h0m12 0h0m-21-3h0m22-2h0m-1-2h0m-17-2h0m8-5h0m2-4h0m8-4h0m-10-7h0m9 0h0m0-2h0m-1 0h0m-17 0h0m3-4h0m15-6h0m-19-6h0m9-5h0m-2 0h0m6 0h0m0-2h0m-10 0h0m2-1h0m4-4h0m-5 0h0m0 0h0m-4-7h0m6-1h0m-2-2h0m5-1h0m-12-3h0m14-5h0m-6-2h0m3 0h0m8-1h0m-14-2h0m17-4h0m-1 0h0m-11-1h0m-9 0h0m10-3h0m-5 0h0m3-1h0m5-2h0m1-1h0m-3-1h0m6-2h0m-8-6h0m-10 0h0m9-5h0m13-3h0m-10-2h0m3-2h0m6-2h0m-11-2h0m-4 0h0m-5-3h0m8-2h0m5-2h0m-10-4h0m14-1h0m-6-1h0m-11-1h0m12-7h0m5-1h0m-1-3h0m0-2h0m-14-2h0m-3-2h0m11 0h0m-6 0h0m8 0h0m8-1h0m-19 0h0m13-3h0m7-1h0m-3-4h0m-13-3h0m1-1h0m-6-1h0m9 0h0m-2-2h0m9-1h0m0-1h0m-5-1h0m8 0h0m0-2h0m-10-3h0m-5 0h0m0-1h0m12 0h0m-16 0h0m18 0h0m-18-2h0m16-3h0m-11-2h0m15-1h0m1-1h0m-18-1h0m5-1h0m-2 0h0m6-3h0m-3-2h0m8-1h0m-5-5h0m-13-1h0m15 0h0m-3-4h0m-8 0h0m11-1h0m-15-2h0m10-1h0m4-1h0m2-6h0m-11 0h0m17-2h0m-8-1h0m4-1h0m3 0h0m-9-1h0m10-3h0m-20 0h0m18-3h0m-6-1h0m-7 0h0m7-3h0m7-5h0m1 0h0m-16 0h0m8-1h0m-9-1h0m12-2h0m-17-2h0m5-2h0m10-1h0m-13-1h0m20-1h0m-19-1h0m13-14h0m5-3h0m-1-5h0m0-2h0m1-8h0m-4-5h0m-16-3h0m21-15h0m25-9h0m-4 10h0m-11 1h0m8 7h0m2 1h0m-11 4h0m15 5h0m-19 0h0m0 1h0m9 5h0m5 0h0m-6 4h0m2 2h0m2 4h0m-2 1h0m2 0h0m-9 3h0m11 4h0m2 3h0m0 2h0m2 1h0m-6 0h0m-14 4h0m1 1h0m-2 1h0m19 4h0m-2 0h0m5 3h0m1 1h0m-16 3h0m7 4h0m6 3h0m-4 0h0m-7 2h0m9 0h0m3 0h0m-20 1h0m17 2h0m-7 0h0m4 1h0m7 2h0m-9 0h0m3 1h0m-8 0h0m-2 3h0m-5 2h0m3 0h0m9 1h0m-1 1h0m3 1h0m6 1h0m-18 0h0m4 1h0m12 5h0m-15 0h0m3 0h0m14 2h0m-6 1h0m7 1h0m-6 0h0m-9 2h0m-7 1h0m9 3h0m-6 2h0m5 3h0m9 1h0m4 0h0m-10 0h0m9 0h0m-5 4h0m-9 3h0m3 1h0m13 0h0m-17 0h0m9 2h0m-8 2h0m16 1h0m-4 1h0m-9 1h0m13 0h0m0 1h0m-21 0h0m0 2h0m0 0h0m0 2h0m8 2h0m12 0h0m-19 0h0m15 2h0m-13 3h0m-2 1h0m8 3h0m-3 0h0m0 1h0m-2 2h0m11 0h0m-1 1h0m6 2h0m-11 1h0m0 1h0m4 4h0m-9 1h0m2 5h0m4 3h0m8 0h0m-1 4h0m3 1h0m-16 4h0m10 0h0m8 1h0m-8 2h0m4 1h0m1 3h0m-2 0h0m-1 4h0m-9 1h0m4 1h0m6 1h0m-7 0h0m-8 0h0m20 1h0m-10 2h0m-9 2h0m1 1h0m-1 1h0m2 0h0m1 0h0m12 3h0m-1 3h0m-17 0h0m22 1h0m-12 0h0m-5 0h0m6 2h0m-9 1h0m20 2h0m-23 3h0m15 2h0m0 0h0m6 1h0m-17 1h0m6 1h0m-4 0h0m3 1h0m-6 0h0m10 1h0m-5 3h0m6 0h0m-10 1h0m10 0h0m-5 1h0m12 5h0m-3 3h0m5 2h0m-21 0h0m6 0h0m2 2h0m11 3h0m-20 1h0m-1 1h0m7 5h0m-6 0h0m0 1h0m4 4h0m-1 2h0m1 1h0m13 5h0m-11 1h0m-4 2h0m19 0h0m-19 3h0m17 1h0m-12 1h0m9 0h0m-11 1h0m2 2h0m6 0h0m-7 1h0m10 4h0m1 4h0m-13 2h0m5 0h0m11 1h0m-18 0h0m-1 0h0m8 4h0m-8 0h0m2 0h0m9 0h0m-7 2h0m5 1h0m9 2h0m1 6h0m-15 0h0m2 1h0m0 1h0m-7 2h0m10 0h0m8 1h0m-7 0h0m0 2h0m-7 1h0m3 2h0m1 0h0m5 0h0m3 2h0m-15 1h0m9 0h0m-9 1h0m5 1h0m3 2h0m-9 0h0m12 1h0m6 2h0m0 2h0m1 1h0m-1 2h0m-4 0h0m8 2h0m-8 2h0m8 0h0m0 3h0m-16 3h0m2 1h0m4 0h0m-9 1h0m-4 2h0m10 6h0m0 0h0m7 2h0m-3 0h0m-3 5h0m4 7h0m-13 3h0m7 7h0m-7 10h0m17 9h0m-12 36h0m2 38h0m31 54h0m-5-15h0m12-9h0m-2-11h0m-5-2h0m5-12h0m-9-13h0m-7-45h0m-5-8h0m21-1h0m-21-16h0m8-5h0m-4-1h0m-3-6h0m-1-4h0m14-4h0m6-4h0m-2-6h0m-7-2h0m12-6h0m-3-4h0m-16-1h0m5-11h0m3-1h0m4-3h0m-12-3h0m17-1h0m-6 0h0m1-2h0m2-1h0m-17 0h0m4-1h0m12-2h0m-2 0h0m-3-2h0m-3 0h0m0-1h0m3-1h0m6-1h0m-11 0h0m-1 0h0m15-2h0m-16-1h0m6-1h0m-6 0h0m15-3h0m-15-1h0m-2-1h0m-2-1h0m22-2h0m-19-3h0m-4-5h0m23-4h0m-5-1h0m-1 0h0m-3-2h0m4-3h0m-5-2h0m-3 0h0m-2-3h0m0-1h0m7-3h0m-2 0h0m-4-1h0m14-2h0m-23-3h0m8 0h0m2-1h0m11-1h0m0-2h0m-4-1h0m-1-2h0m7-7h0m-20-2h0m0-2h0m4-6h0m9-1h0m0-1h0m3-1h0m-9-1h0m9-3h0m-15 0h0m4-1h0m-5 0h0m7-1h0m-10-7h0m12-2h0m-12 0h0m12-3h0m-7-2h0m9-1h0m9-4h0m0-1h0m-21-2h0m5 0h0m0-6h0m10-2h0m-17-2h0m13-1h0m0 0h0m4-2h0m-12-1h0m7 0h0m-9-1h0m13-3h0m0-1h0m-16-2h0m18 0h0m-4-3h0m-14 0h0m11-3h0m5-1h0m-1 0h0m-15-2h0m4-2h0m-1-4h0m12-1h0m-8-1h0m6-2h0m-11-2h0m2-1h0m-3-1h0m15-4h0m-6-2h0m4-4h0m0-1h0m-12 0h0m4-1h0m7-1h0m-3-1h0m-6-5h0m14-1h0m-18-5h0m15-1h0m-13 0h0m21-7h0m-20-1h0m20-5h0m-22 0h0m11-2h0m3-2h0m-3-2h0m-7 0h0m4-1h0m-3-1h0m10 0h0m3-1h0m-18-1h0m7 0h0m-4 0h0m3-2h0m9-1h0m-15-1h0m15-2h0m-10 0h0m16-2h0m-4-3h0m0-1h0m-7-1h0m-1-1h0m-5-1h0m-4-1h0m13-2h0m4-3h0m3 0h0m-7-1h0m-6-1h0m-8-2h0m10-3h0m13-1h0m-21 0h0m20 0h0m-12-1h0m3 0h0m2-2h0m2-3h0m-8-1h0m10-1h0m-3 0h0m-14-4h0m17-5h0m-12 0h0m4 0h0m-11-1h0m6 0h0m4-1h0m8-1h0m5-2h0m-12-2h0m12 0h0m-7-1h0m-11-3h0m16 0h0m-7 0h0m-8-5h0m-4-1h0m-1 0h0m5 0h0m-5-2h0m9-2h0m12-3h0m-5 0h0m-2-1h0m3-1h0m-16-5h0m21-1h0m0-2h0m0 0h0m-19-5h0m7 0h0m2-2h0m-7-3h0m16-20h0m-11-2h0m27-2h0m5 1h0m-6 0h0m6 3h0m-19 2h0m20 3h0m3 4h0m0 4h0m-12 1h0m-1 1h0m9 6h0m3 8h0m-19 0h0m11 9h0m-2 0h0m2 2h0m9 6h0m-1 2h0m-12 9h0m8 3h0m-11 1h0m-6 3h0m16 0h0m-16 16h0m-1 3h0m13 2h0m-1 11h0m7 6h0m-15 4h0m18 8h0m-6 3h0m-10 1h0m-2 0h0m18 1h0m-12 0h0m-5 7h0m7 1h0m1 5h0m-13 7h0m20 6h0m-13 0h0m13 2h0m-17 3h0m0 6h0m14 0h0m5 4h0m-15 3h0m-2 2h0m9 7h0m-11 2h0m6 2h0m12 10h0m-13 2h0m9 9h0m-3 4h0m-1 2h0m-2 6h0m2 3h0m-9 3h0m-2 5h0m1 2h0m12 13h0m2 6h0m-8 1h0m10 7h0m-2 2h0m-11 3h0m-6 3h0m0 1h0m21 5h0m-18 0h0m5 5h0m8 4h0m7 1h0m0 0h0m-12 1h0m-10 1h0m11 1h0m-1 0h0m4 1h0m-1 0h0m1 2h0m-15 0h0m23 1h0m-1 0h0m-10 1h0m4 0h0m-11 1h0m-3 1h0m11 1h0m10 1h0m-15 1h0m13 0h0m-21 1h0m11 1h0m-9 0h0m12 2h0m-7 3h0m16 0h0m-15 2h0m4 3h0m7 1h0m-1 1h0m-17 0h0m2 1h0m1 1h0m-3 0h0m11 1h0m-4 3h0m0 0h0m-2 1h0m0 2h0m1 0h0m-4 13h0m20 4h0m-17 3h0m6 0h0m-10 2h0m8 6h0m-6 1h0m13 0h0m-15 4h0m12 11h0m-12 11h0m2 4h0m-2 11h0m1 14h0m20 13h0m-23 40h0m18 12h0m-7 8h0m4 12h0m5 35h0m-16 17h0m28-41h0m-6-16h0m19-5h0m0-54h0m-21-23h0m21-19h0m1-2h0m-21-6h0m18-4h0m-8-8h0m11-2h0m-10-12h0m-5-4h0m15-5h0m-15-9h0m16-2h0m-9-9h0m8-7h0m-9-1h0m-13-2h0m18 0h0m-10-9h0m-8-2h0m3-5h0m13-4h0m-11-1h0m9-1h0m-11-3h0m14-2h0m-1-3h0m6-1h0m-19-1h0m10-1h0m5-3h0m-3-7h0m-8-1h0m3-6h0m-10-1h0m22-7h0m1-4h0m-16 0h0m7-1h0m6-2h0m-2-3h0m-15-7h0m8-1h0m-2-15h0m9-6h0m2-2h0m2-8h0m-14-1h0m15-9h0m-16-1h0m0 0h0m4-15h0m9-10h0m-7-2h0m-2-1h0m-5-14h0m-3-6h0m16-2h0m-13-3h0m3-7h0m-8-6h0m11-3h0m-6-5h0m1-7h0m9-2h0m-16-3h0m9-4h0m5-3h0m8-5h0m-14-1h0m1-1h0m5-30h0m-10-1h0m12-2h0m6-5h0m-1-1h0m-12-10h0m-5 0h0m-4-9h0m16-8h0m-3-6h0m9-8h0m-22 0h0m19-1h0m10 2h0m1 10h0m-5 0h0m11 2h0m7 8h0m-8 3h0m-6 1h0m4 4h0m11 1h0m-4 11h0m2 6h0m-6 8h0m6 1h0m3 1h0m-4 2h0m-5 3h0m4 0h0m-13 1h0m8 9h0m4 2h0m4 1h0m-2 2h0m-11 7h0m15 1h0m-8 0h0m-13 1h0m22 11h0m-18 4h0m14 1h0m-6 3h0m-6 1h0m16 7h0m-16 3h0m3 1h0m2 5h0m8 5h0m-9 3h0m-3 1h0m16 7h0m-1 3h0m-15 9h0m7 8h0m7 3h0m-6 1h0m5 1h0m-20 0h0m17 1h0m-5 2h0m8 2h0m-11 2h0m4 4h0m0 2h0m5 8h0m-8 2h0m3 0h0m1 0h0m-5 2h0m1 1h0m11 5h0m-1 5h0m-18 4h0m20 1h0m-8 4h0m5 1h0m3 1h0m-16 1h0m11 1h0m-8 2h0m10 0h0m-19 3h0m14 3h0m-7 4h0m15 0h0m-12 2h0m8 3h0m-5 2h0m4 6h0m6 6h0m-9 4h0m2 1h0m3 8h0m-18 2h0m-1 0h0m16 5h0m6 1h0m-8 1h0m-9 1h0m-4 2h0m18 3h0m-12 1h0m-4 2h0m17 5h0m-20 4h0m14 3h0m-2 3h0m3 1h0m3 2h0m-18 5h0m13 0h0m-10 3h0m0 10h0m7 4h0m7 9h0m-7 9h0m10 1h0m2 1h0m-12 6h0m-7 10h0m1 3h0m12 1h0m-13 68h0m18 7h0m-17 4h0m-3 14h0m14 15h0m7 3h0m-5 17h0m-13 12h0m2 8h0m-3 5h0m18 114h0m25 14h0m-3-10h0m-7-1h0m4-14h0m-9-6h0m13-72h0m-9-11h0m-6-67h0m9-10h0m1-52h0m-11-26h0m17-7h0m-18-28h0m13-13h0m-7-2h0m13-4h0m-22-10h0m22-1h0m-13-4h0m-6-20h0m20-1h0m-2 0h0m-18-2h0m5-2h0m-2 0h0m6-1h0m-2-2h0m-8-7h0m13-1h0m-11-1h0m0 0h0m13-2h0m0-3h0m-14-2h0m20-10h0m-20-5h0m-3-1h0m0-2h0m0-6h0m9-2h0m0-6h0m-5-6h0m-3-1h0m2-6h0m9 0h0m11-3h0m-6-1h0m-14-10h0m2-3h0m0-6h0m3-1h0m-1-4h0m-4-9h0m7-11h0m-8-7h0m9-3h0m6-3h0m1-5h0m0-12h0m-15-7h0m9-13h0m8-6h0m-16 0h0m6-2h0m-6-10h0m3-3h0m-3 0h0m0-2h0m15-17h0m-19-9h0m17-2h0m-11-5h0m11-3h0m-5-2h0m-2-5h0m13-2h0m-9-4h0m-2-4h0m-7-17h0m20 36h0m9 3h0m-9 2h0m0 1h0m10 12h0m-9 6h0m0 2h0m-1 1h0m3 2h0m16 0h0m-3 4h0m-17 13h0m6 3h0m-1 2h0m11 3h0m-2 1h0m-12 6h0m18 6h0m-14 12h0m7 2h0m9 0h0m-4 5h0m-11 1h0m5 4h0m-11 3h0m13 1h0m-4 0h0m-9 2h0m2 4h0m-1 7h0m8 1h0m10 3h0m-15 1h0m14 3h0m-11 6h0m-8 7h0m13 0h0m3 1h0m-6 8h0m-5 4h0m0 3h0m12 2h0m-14 2h0m4 4h0m-2 0h0m11 1h0m-12 4h0m-1 8h0m-1 1h0m5 7h0m-6 5h0m5 6h0m1 4h0m7 14h0m-13 1h0m19 4h0m-16 6h0m9 5h0m-3 2h0m-1 11h0m-6 0h0m14 1h0m-10 2h0m-7 16h0m7 5h0m-6 6h0m3 1h0m11 5h0m4 10h0m-5 4h0m3 31h0m3 25h0m-18 0h0m13 23h0m0 25h0m7 15h0m-13 8h0m-6 22h0m11 2h0m-13 63h0m7 9h0m10 15h0m-9 8h0m-8 1h0m6 2h0m14 4h0m-3 19h0m-8 30h0m5 3h0m6 3h0m-21 0h0m15 5h0m30 31h0m1-1h0m-1-6h0m2-2h0m-15-1h0m9-9h0m-16-6h0m0-18h0m10-1h0m3-5h0m7-9h0m-9-19h0m7-25h0m4-2h0m-7-2h0m5-5h0m-15-2h0m14-3h0m0-14h0m-20-23h0m7-54h0m8-85h0m2-10h0m-17-29h0m16-19h0m-13-3h0m10-22h0m6 0h0m3-2h0m1-2h0m-18-14h0m7-7h0m-7-4h0m0-1h0m18-5h0m-20-11h0m7-1h0m-9-6h0m4-8h0m7-1h0m4-2h0m-3-16h0m0-8h0m1-6h0m-10-4h0m11 0h0m1-2h0m-2-2h0m-8-1h0m-1-11h0m16 0h0m-21-7h0m3-2h0m2-8h0m-5-1h0m6-25h0m-6-19h0m22-7h0m18 1h0m-6 18h0m11 4h0m-2 0h0m3 1h0m-10 1h0m0 1h0m-1 0h0m-4 0h0m6 8h0m5 1h0m3 9h0m1 0h0m-8 3h0m-9 0h0m9 1h0m4 0h0m3 10h0m-11 7h0m3 16h0m-9 4h0m18 1h0m0 7h0m0 5h0m-15 3h0m5 14h0m-1 0h0m2 2h0m-12 5h0m15 0h0m-10 6h0m7 6h0m-6 4h0m15 2h0m-18 12h0m11 4h0m-6 1h0m-5 1h0m0 9h0m7 0h0m-4 14h0m5 1h0m-7 0h0m14 8h0m0 8h0m-8 21h0m-3 23h0m7 95h0m0 31h0m-10 22h0m2 22h0m3 20h0m-8 21h0m14 14h0m-16 14h0m0 15h0m0 12h0m14 2h0m-5 10h0m-9 8h0m23 10h0m-7 4h0m-10 12h0m16 13h0m25 9h0m-12-3h0m-8-2h0m4-23h0m11-4h0m-18-1h0m16-8h0m-6-20h0m-8-16h0m16-1h0m3-9h0m-7-3h0m0-16h0m8-11h0m-20-4h0m1-35h0m4-27h0m4-6h0m-10-37h0m10-8h0m2-26h0m-8-9h0m3-31h0m8-1h0m-12-36h0m14-31h0m-10-7h0m-6 0h0m19-4h0m-17-6h0m-4-3h0m22-4h0m-6-1h0m-10-2h0m17-9h0m0-5h0m-1-2h0m-16-2h0m9-15h0m-6-2h0m-4-1h0m4-2h0m6-7h0m4 0h0m-7-9h0m-6-3h0m6-1h0m-2-3h0m0-3h0m8-6h0m-3-5h0m-13-1h0m14-1h0m-14-1h0m-2-4h0m17-2h0m-10-3h0m-1-4h0m12-3h0m-1-2h0m-8-4h0m-7-3h0m19-3h0m-3-7h0m-4-9h0m5-5h0m-8-5h0m9-2h0m-17-3h0m13-6h0m-13-5h0m9-3h0m-6-2h0m-5-6h0m17-5h0m-16-18h0m12-1h0m6-8h0m3-7h0m-4-3h0m-1-11h0m2-1h0m-7-1h0m-1-2h0m10-1h0m-7-2h0m13-22h0m-1 1h0m8 7h0m-6 5h0m11 1h0m-2 2h0m2 3h0m-9 4h0m15 0h0m-4 4h0m-12 7h0m10 2h0m-5 2h0m5 2h0m3 5h0m-10 8h0m0 4h0m-3 0h0m-3 1h0m15 5h0m-10 4h0m-1 4h0m-2 7h0m2 5h0m3 6h0m-5 0h0m1 1h0m12 3h0m4 0h0m-7 4h0m-2 4h0m9 5h0m-19 1h0m9 4h0m-11 9h0m7 0h0m8 2h0m-12 6h0m14 7h0m-8 7h0m1 2h0m-11 5h0m7 10h0m-3 3h0m-3 12h0m-1 0h0m14 2h0m-5 2h0m6 2h0m2 4h0m-1 1h0m-15 39h0m14 5h0m-6 6h0m11 1h0m-15 7h0m3 10h0m-7 1h0m12 109h0m-8 76h0m9 23h0m3 5h0m3 26h0m-8 7h0m-1 61h0m-3 5h0m11 12h0m-11 1h0m12 0h0m1 4h0m-10 27h0m-8 11h0m29 19h0m5-17h0m-1-29h0m9-13h0m-1 0h0m-3-1h0m4-1h0m-18-4h0m1-5h0m12-18h0m-8-20h0m7-9h0m4-10h0m0-2h0m-3-41h0m-7 0h0m-8-15h0m0-12h0m8-20h0m8-13h0m-11-79h0m-4-30h0m3-136h0m10-2h0m-14-3h0m4 0h0m3-1h0m-5-5h0m8-1h0m-6-16h0m1-7h0m8-1h0m-12-4h0m2-2h0m8-8h0m7 0h0m-9-3h0m-2-4h0m-8 0h0m22-1h0m-22-2h0m2-1h0m-1-22h0m14-2h0m3-1h0m-13-3h0m5-5h0m-8-1h0m9-1h0m-7-5h0m0-19h0m10-11h0m-10-1h0m6-7h0m-5-1h0m23 41h0m3 2h0m-4 0h0m4 22h0m7 34h0m2 1h0m-10 341h0m-2 13h0m11 16h0m7 1h0m-21 4h0m10 26h0m-2 17h0m10 37h0m-13 5h0m10 1h0m4 1h0m-2 1h0m-18 1h0m20 3h0m-12 2h0m12 19h0m-7 2h0m2 7h0m-1 1h0m-9 7h0m23-20h0m1-10h0m-2 0h0m-2-25h0m8-12h0m-1-20h0m2-21h0m9-257h0m-10-124h0m3-6h0m7-1h0m-5 0h0m9-1h0m0-4h0m-2-23h0m-5-19h0m2 0h0m23 33h0m3 1h0m-8 3h0m-7 1h0m9 0h0m-2 3h0m2 3h0m9 1h0m-2 4h0m-2 1h0m-12 5h0m13 2h0m-13 8h0m35-5h0m-5-7h0m-4-1h0m-8-1h0m8-3h0m11-3h0m-20-7h0m23-2h0m-3-1h0m-19-7h0m36 6h0m2 2h0m-1 5h0m-6 1h0m1 3h0m-2 5h0m-2 6h0m102 166h0m3 47h0m54-27h0m-18 37h0"/>
<path stroke="#0b0b86" d="M935 1192h0m20 32h0m-12-73h0m15-4h0m-3-21h0m-11-14h0m27-74h0m-9 20h0m19 99h0m5 55h0m15-2h0m-8-19h0m-8-43h0m17-22h0m-6-34h0m32-129h0m-15 53h0m-5 39h0m12 31h0m-3 19h0m0 21h0m-2 27h0m5 0h0m11 3h0m-1 36h0m-18 60h0m20 8h0m21-68h0m-9-17h0m-10-17h0m13-24h0m8-159h0m-23-9h0m10-11h0m22 35h0m12 19h0m-15 47h0m10 26h0m-13 6h0m3 44h0m11 26h0m-9 35h0m-7 20h0m3 29h0m9 2h0m2 30h0m9 15h0m8-45h0m14-75h0m-5-14h0m-16-11h0m2-43h0m12-21h0m-14-43h0m22-10h0m5 76h0m4 52h0m0 25h0m1 2h0m4 35h0m11 19h0m-13 67h0m33-86h0m-10-33h0m7-37h0m0-28h0m11-139h0m44 327h0m0-7h0m-17-63h0m-3-73h0m15-233h0m4-7h0m22 301h0m-3 48h0m-10 19h0m-6 5h0m15 2h0m-15 2h0m16 8h0m6 0h0m0 2h0m-18 6h0m2 5h0m16 6h0m-7 8h0m14-2h0m-2-5h0m-1-22h0m-3-5h0m20-18h0m-14-14h0m-2-1h0m13-143h0m0-185h0m14 89h0m4 240h0m-1 5h0m8 23h0m-13 5h0m-3 0h0m4 12h0m15 0h0m-4 1h0m-3 6h0m-12 25h0m44 38h0m1-11h0m-1-5h0m-6-6h0m2-11h0m4-9h0m-8-4h0m2 0h0m1-1h0m-5-2h0m0-4h0m-4-1h0m6-2h0m2 0h0m-4-3h0m2-2h0m-8-8h0m-6-7h0m15-1h0m-7-2h0m15-6h0m-19-1h0m-1-3h0m12 0h0m5-6h0m-12-7h0m14-7h0m-2-6h0m3-57h0m-20-2h0m5-4h0m3-10h0m12-11h0m-4-34h0m-5-38h0m3-12h0m-1-25h0m-8-2h0m15-31h0m0 0h0m-3-10h0m-11-21h0m-1-25h0m2-33h0m8-5h0m0-31h0m11 75h0m-4 14h0m9 0h0m-5 13h0m2 9h0m13 1h0m-12 24h0m6 49h0m-2 111h0m1 45h0m-2 12h0m-2 8h0m8 1h0m1 0h0m4 7h0m-16 9h0m4 1h0m5 1h0m-14 2h0m9 1h0m5 1h0m2 12h0m-10 2h0m14 4h0m-18 3h0m10 2h0m3 4h0m4 1h0m-20 1h0m3 5h0m5 0h0m1 3h0m14 1h0m-1 1h0m0 0h0m-16 5h0m-6 5h0m4 0h0m10 2h0m-1 0h0m2 1h0m-3 2h0m4 0h0m-11 8h0m11 1h0m-3 4h0m6 1h0m0 3h0m-7 2h0m-4 5h0m5 1h0m6 2h0m-9 0h0m-9 3h0m0 1h0m12 1h0m2 3h0m-2 1h0m9 2h0m-4 11h0m-3 0h0m0 11h0m1 1h0m29 34h0m-4-3h0m-6-1h0m-2-3h0m7-1h0m1-7h0m4-3h0m-17-6h0m-3-3h0m13-2h0m-9 0h0m18-3h0m0-6h0m-2 0h0m-2 0h0m-12-1h0m1-8h0m2-1h0m-9-13h0m14-1h0m-7 0h0m-6-3h0m17-2h0m-15-2h0m17-2h0m-6 0h0m8 0h0m-9-3h0m-3-1h0m8-3h0m-14 0h0m-2 0h0m-1-2h0m0-2h0m20-2h0m-14-1h0m2-1h0m-2-1h0m2-2h0m-9 0h0m17 0h0m1-3h0m-4 0h0m-12 0h0m1-1h0m7 0h0m6-2h0m-10-1h0m13-3h0m2-1h0m-14-3h0m15-1h0m-14-1h0m-6-2h0m13 0h0m-9-16h0m0 0h0m-7-6h0m5-3h0m-3-2h0m16-5h0m2-1h0m-12-4h0m15-10h0m-16-2h0m-2-4h0m4-2h0m7-3h0m-10 0h0m-5-1h0m20-3h0m1-4h0m-12-1h0m-1-3h0m7-10h0m-16-8h0m18-3h0m-1-5h0m-7-7h0m3-5h0m-6-15h0m11-36h0m-15-3h0m7-72h0m-7-5h0m2-10h0m4-31h0m-3-20h0m7 0h0m8-36h0m0-59h0m1-11h0m-1-21h0m-14-1h0m26 17h0m8 1h0m-6 18h0m-9 93h0m21 11h0m0 19h0m-2 11h0m-16 88h0m16 41h0m1 27h0m-20 9h0m10 16h0m9 3h0m-15 1h0m2 2h0m9 2h0m-14 3h0m20 2h0m-20 1h0m2 8h0m-1 2h0m11 1h0m-3 11h0m7 6h0m-13 2h0m4 4h0m13 2h0m-9 1h0m9 1h0m-12 1h0m-7 8h0m12 8h0m-15 2h0m22 2h0m-6 0h0m-8 3h0m-2 1h0m1 1h0m5 1h0m-4 0h0m0 6h0m5 0h0m7 0h0m-19 1h0m2 0h0m14 1h0m-6 1h0m2 4h0m-14 0h0m10 1h0m8 4h0m-7 3h0m-8 1h0m-2 0h0m4 4h0m17 2h0m-12 1h0m7 1h0m6 0h0m-5 5h0m1 0h0m-15 2h0m0 0h0m19 2h0m-14 1h0m14 1h0m-5 0h0m2 0h0m1 0h0m-3 4h0m-2 0h0m-10 1h0m6 1h0m1 0h0m-8 3h0m8 2h0m9 1h0m-4 2h0m5 0h0m-5 3h0m-18 5h0m5 2h0m10 0h0m6 1h0m-8 0h0m7 1h0m3 5h0m-9 3h0m-7 2h0m14 1h0m-11 3h0m-4 0h0m-1 1h0m13 1h0m4 3h0m-4 0h0m-1 4h0m-7 1h0m7 1h0m1 3h0m4 2h0m-15 2h0m6 2h0m-2 0h0m7 7h0m29 5h0m-9-5h0m5-3h0m3-1h0m-20 0h0m8-4h0m-1 0h0m-7-7h0m21 0h0m-7-1h0m-11-4h0m4-2h0m-2 0h0m1-1h0m4-2h0m-3-1h0m-5-1h0m7-1h0m6-1h0m-12-3h0m-5-3h0m12-6h0m-11 0h0m-1-4h0m20 0h0m-11-1h0m-9 0h0m7-1h0m10-1h0m-13 0h0m15-1h0m-15-1h0m3-1h0m-5 0h0m6-1h0m12-1h0m-20-2h0m20-1h0m-13-1h0m-1 0h0m9-2h0m-13-1h0m8-2h0m-7-7h0m16-1h0m2-3h0m-21 0h0m10-2h0m-9-2h0m22-1h0m-2-3h0m-3-1h0m3 0h0m-10 0h0m2-3h0m0-3h0m8-3h0m2-2h0m-14 0h0m1 0h0m-9-1h0m2-2h0m14-6h0m-11 0h0m5-2h0m3-2h0m2 0h0m-6-2h0m6-1h0m-12-3h0m5-1h0m6-2h0m8-3h0m-18-1h0m16-1h0m-5-6h0m-1-1h0m-2-2h0m-6-2h0m-5 0h0m5 0h0m1 0h0m12-1h0m-2-4h0m0-2h0m-15-2h0m20-6h0m-21-2h0m7-6h0m14-7h0m-15-2h0m12-7h0m0-2h0m-1-7h0m-11 0h0m-5-1h0m19 0h0m-2-6h0m-14-6h0m17-8h0m-8-7h0m8-2h0m-13-10h0m8-4h0m-7-2h0m7-12h0m-1-21h0m0-104h0m-11-17h0m7-8h0m-11-137h0m19-4h0m-13 0h0m36 69h0m-19 24h0m15 97h0m6 32h0m-10 38h0m8 18h0m-14 24h0m-3 22h0m17 9h0m-19 3h0m16 0h0m-6 3h0m7 4h0m-13 1h0m9 3h0m-12 10h0m5 1h0m0 10h0m5 2h0m-5 5h0m5 0h0m10 0h0m-2 2h0m-7 3h0m6 0h0m-2 0h0m-10 2h0m8 1h0m6 0h0m-1 0h0m-10 4h0m2 9h0m-2 1h0m8 0h0m-1 1h0m-10 2h0m-6 3h0m0 2h0m12 0h0m1 1h0m7 9h0m-10 3h0m-5 4h0m17 1h0m-21 4h0m21 0h0m-17 0h0m10 2h0m-14 1h0m1 4h0m9 4h0m6 1h0m-1 1h0m-11 1h0m1 1h0m1 1h0m4 0h0m-2 6h0m13 4h0m-16 2h0m15 2h0m-3 3h0m-7 0h0m2 1h0m5 0h0m-12 1h0m12 1h0m-7 1h0m11 0h0m-19 1h0m-3 1h0m1 0h0m6 4h0m-4 1h0m12 1h0m4 0h0m-10 3h0m-6 3h0m11 2h0m6 1h0m-3 0h0m-14 3h0m12 2h0m2 2h0m-15 4h0m-3 1h0m18 1h0m-1 1h0m-8 1h0m13 1h0m-22 0h0m15 2h0m3 3h0m-8 1h0m-9 1h0m18 2h0m-18 1h0m6 1h0m10 4h0m0 0h0m-10 4h0m6 5h0m2 1h0m6 6h0m-12 1h0m-2 14h0m16 35h0m-5 21h0m26 50h0m1-9h0m0-6h0m-5-1h0m7-1h0m0-1h0m-6-1h0m5-2h0m-2 0h0m0-19h0m-14-3h0m5-2h0m-5-1h0m8-5h0m-2 0h0m1-2h0m0-1h0m-12-3h0m2-4h0m-1-2h0m3 0h0m12-3h0m-8-5h0m9-12h0m1-3h0m-6-9h0m6-6h0m4-7h0m-16-24h0m13 0h0m-15-1h0m13-1h0m-18-2h0m12-1h0m-2-3h0m-9 0h0m8-2h0m8-1h0m-5 0h0m-3-1h0m4-5h0m-5-6h0m-1-3h0m-4-3h0m1-1h0m19-2h0m-13-2h0m2 0h0m-3 0h0m-6-2h0m7 0h0m13-1h0m-1-2h0m-14 0h0m9-3h0m-1-2h0m-16-1h0m0-3h0m12-1h0m4-1h0m-9-2h0m12 0h0m-15-1h0m4 0h0m5-1h0m6-7h0m-3-2h0m2-1h0m-12 0h0m10-1h0m-14-3h0m20-1h0m-9 0h0m-4-4h0m0 0h0m1-7h0m7-4h0m-6 0h0m-5-3h0m-6-1h0m13-1h0m1-4h0m-2-2h0m11-1h0m-2-2h0m2-2h0m-5-2h0m-14-1h0m14 0h0m-15-3h0m17-1h0m-4-5h0m-9-10h0m5 0h0m-8-3h0m15-1h0m-15-6h0m0-4h0m12-2h0m-5-3h0m-9-2h0m19-6h0m-15-1h0m-6-1h0m6 0h0m-1-1h0m8-1h0m-11-2h0m1-2h0m7-2h0m-10-1h0m8-2h0m-7 0h0m11-1h0m-8 0h0m16-1h0m-4-1h0m7-1h0m-20-5h0m20 0h0m-12-1h0m4-7h0m-10-8h0m18-7h0m-22-10h0m18-18h0m-1-34h0m1-1h0m-11-13h0m25-174h0m-9 94h0m21 17h0m-4 7h0m-8 96h0m0 10h0m1 0h0m8 1h0m-11 5h0m6 2h0m-5 3h0m3 2h0m10 8h0m-9 7h0m6 11h0m-1 3h0m5 6h0m-17 1h0m13 14h0m-13 5h0m15 0h0m-5 1h0m-12 1h0m14 4h0m-12 1h0m-2 1h0m4 10h0m6 2h0m4 4h0m-8 2h0m-8 3h0m5 0h0m17 2h0m-2 1h0m-17 0h0m2 4h0m-3 2h0m17 4h0m-2 2h0m-14 12h0m0 3h0m7 5h0m8 4h0m-14 5h0m10 1h0m4 1h0m-19 7h0m12 0h0m-12 5h0m20 4h0m-13 3h0m-6 0h0m17 1h0m-17 1h0m9 4h0m12 1h0m-9 6h0m-13 1h0m7 0h0m-5 1h0m4 1h0m11 4h0m1 1h0m-12 1h0m-2 6h0m5 0h0m-6 16h0m7 10h0m11 0h0m-21 25h0m22 8h0m-9 4h0m-6 12h0m-7 7h0m12 8h0m8 10h0m-14 1h0m10 4h0m-10 2h0m-6 5h0m7 4h0m14 2h0m-13 4h0m10 0h0m-2 3h0m-16 2h0m13 3h0m-7 1h0m17 3h0m-5 2h0m-8 2h0m-6 0h0m11 1h0m-9 4h0m15 0h0m-17 3h0m8 0h0m8 1h0m-15 4h0m16 1h0m-1 1h0m-10 2h0m0 0h0m-6 2h0m-2 1h0m10 2h0m32 27h0m-13-2h0m4-4h0m12 0h0m-17-2h0m10-2h0m-9-5h0m14-2h0m-8-1h0m10-3h0m-22-1h0m7-1h0m15-1h0m-11-4h0m-8-4h0m19-3h0m-23 0h0m18-1h0m-17-1h0m3-1h0m6 0h0m-10-2h0m6 0h0m-5-1h0m18-1h0m-19-2h0m9-2h0m13-2h0m-1 0h0m-12-3h0m6-3h0m-5-9h0m6 0h0m-10-12h0m-3-6h0m0-6h0m1-7h0m-2 0h0m7-1h0m-1 0h0m7-10h0m-9-6h0m-4-1h0m9-1h0m3-10h0m7-6h0m-10-1h0m7-2h0m-17 0h0m21-9h0m-16-5h0m12-20h0m0-3h0m5-4h0m-20-19h0m3-6h0m3-1h0m-5-1h0m18-6h0m-7-4h0m-5-1h0m9-14h0m-11-3h0m11-3h0m2-6h0m-13 0h0m-3-8h0m16 0h0m-2-16h0m-12-2h0m12-2h0m-14-5h0m10-6h0m-3-2h0m0-3h0m10-11h0m-8-3h0m5-6h0m-14-6h0m-3-3h0m21-1h0m-22-1h0m13 0h0m8-7h0m-5-14h0m-4-2h0m-3 0h0m-7-1h0m13-2h0m1-1h0m-9-2h0m9-7h0m4-9h0m-10-3h0m7-12h0m-10-9h0m-5-11h0m8-12h0m3-19h0m7-37h0m2-39h0m0-1h0m-5-3h0m4-2h0m-3-4h0m-14-9h0m13-23h0m23-57h0m4 12h0m-18 19h0m16 20h0m-17 14h0m12 0h0m-1 0h0m8 3h0m-19 9h0m16 3h0m0 3h0m-4 1h0m-14 4h0m18 6h0m-14 11h0m8 1h0m-2 8h0m4 4h0m-1 2h0m-1 35h0m6 48h0m-16 8h0m-1 9h0m19 8h0m-20 4h0m14 1h0m-1 1h0m-7 3h0m-4 1h0m18 0h0m-17 2h0m17 2h0m-1 12h0m-16 1h0m2 0h0m18 7h0m-4 2h0m-12 5h0m14 0h0m2 3h0m-19 9h0m2 0h0m11 1h0m1 1h0m-4 2h0m-1 1h0m3 2h0m2 1h0m-10 0h0m-7 12h0m19 7h0m-6 5h0m-9 2h0m11 3h0m-9 5h0m-3 2h0m17 4h0m-9 3h0m8 1h0m-12 0h0m14 1h0m-9 7h0m2 2h0m-13 3h0m-2 5h0m17 1h0m-7 5h0m2 6h0m3 5h0m-14 4h0m5 8h0m-2 1h0m0 1h0m17 0h0m-18 16h0m20 16h0m0 9h0m-9 1h0m-1 3h0m-4 2h0m6 8h0m-5 0h0m10 1h0m2 1h0m-17 2h0m18 9h0m-2 1h0m-1 8h0m-8 15h0m-4 1h0m11 0h0m-4 23h0m-2 5h0m-8 3h0m10 1h0m5 2h0m-16 1h0m18 2h0m-5 19h0m5 2h0m-13 1h0m3 5h0m-10 8h0m5 3h0m12 3h0m-7 1h0m0 7h0m-11 3h0m20 1h0m-1 2h0m-8 3h0m6 3h0m-3 0h0m8 1h0m-1 1h0m-17 1h0m-1 0h0m-4 1h0m23 2h0m-9 2h0m4 0h0m-3 3h0m2 1h0m-8 2h0m4 0h0m7 1h0m-4 2h0m-3 6h0m7 0h0m-20 1h0m5 4h0m7 2h0m7 11h0m14-1h0m4-9h0m3-1h0m2 0h0m-8-8h0m1 0h0m-4 0h0m14-4h0m-10 0h0m-6-5h0m7-5h0m-5 0h0m7 0h0m2-3h0m-16-2h0m3-2h0m0-2h0m0-1h0m2 0h0m13-1h0m-14-6h0m15-3h0m2-1h0m-2-2h0m-3-2h0m2-1h0m-10-2h0m8 0h0m2-1h0m-6-2h0m10-7h0m-19-2h0m2 0h0m14-1h0m-14 0h0m7-1h0m11 0h0m-16 0h0m13-3h0m-10-1h0m11-2h0m-4-1h0m-3-1h0m-13 0h0m14-1h0m-3 0h0m0-11h0m2-8h0m7-6h0m-11 0h0m-1-6h0m-8 0h0m5-11h0m14-1h0m-15-2h0m10-3h0m8-5h0m-19-1h0m13-2h0m-2-9h0m-9 0h0m11-3h0m-15-1h0m15-3h0m-5-1h0m0-2h0m2 0h0m-3-4h0m11-1h0m-4-2h0m3-1h0m-21-8h0m4-8h0m6 0h0m13-7h0m-12-13h0m-2-14h0m14-8h0m-11-6h0m4-13h0m-5-6h0m-11-7h0m11 0h0m-2 0h0m-4-9h0m-1-3h0m17-4h0m-20-5h0m3-2h0m9-5h0m-7-1h0m7-6h0m-3-3h0m10-1h0m1 0h0m-15-1h0m2 0h0m9-1h0m-16-1h0m14-1h0m-2-2h0m9 0h0m1-4h0m-7-1h0m-3-6h0m8-2h0m-17-19h0m9-4h0m4-13h0m-2-3h0m-9-2h0m6-8h0m-10 0h0m7-2h0m-9-2h0m5-2h0m-1-3h0m19-1h0m-23-1h0m10-2h0m10 0h0m-20-23h0m15-24h0m8-51h0m-2-2h0m-11-3h0m4-3h0m-6-5h0m13 0h0m-18-13h0m3-5h0m3-2h0m5-4h0m-5-7h0m-2-1h0m3 0h0m2 0h0m-1-15h0m7-1h0m1-2h0m-7-18h0m-12-4h0m23-5h0m-10-4h0m-12-1h0m-1-2h0m8-1h0m1-10h0m5-1h0m6-7h0m-4 0h0m-9-1h0m8-5h0m-7-16h0m5-1h0m-3-9h0m30-1h0m4 2h0m-4 1h0m-1 0h0m-5 2h0m5 2h0m-12 5h0m7 4h0m4 1h0m-10 1h0m18 0h0m-3 3h0m-1 1h0m-3 0h0m-11 3h0m7 1h0m-9 1h0m1 1h0m10 1h0m5 0h0m1 9h0m-13 11h0m1 10h0m1 1h0m10 2h0m-10 3h0m-1 10h0m-3 9h0m16 6h0m-6 1h0m-9 1h0m12 3h0m4 8h0m-18 0h0m2 5h0m2 17h0m7 2h0m-1 14h0m2 4h0m1 8h0m-4 37h0m3 10h0m-7 6h0m5 23h0m7 68h0m-19 8h0m19 0h0m1 1h0m-19 16h0m14 0h0m-16 12h0m16 3h0m-13 1h0m3 1h0m4 3h0m5 11h0m-8 0h0m2 0h0m-8 1h0m13 6h0m-7 48h0m-2 10h0m0 2h0m5 2h0m-9 9h0m10 7h0m12 8h0m-1 2h0m0 2h0m-14 2h0m0 2h0m-5 3h0m10 3h0m9 1h0m-5 1h0m-5 4h0m-6 1h0m4 0h0m-1 7h0m0 1h0m7 4h0m-4 8h0m-5 9h0m4 4h0m0 2h0m6 0h0m-7 5h0m1 3h0m7 0h0m-13 3h0m15 0h0m3 6h0m-1 10h0m-13 0h0m3 15h0m-4 12h0m14 0h0m-2 0h0m-11 1h0m-5 3h0m-1 1h0m20 2h0m-1 5h0m-21 1h0m11 6h0m1 1h0m-7 2h0m3 1h0m10 5h0m-12 2h0m-3 1h0m17 1h0m-7 3h0m-7 4h0m0 2h0m11 0h0m-16 4h0m6 1h0m-5 1h0m8 2h0m-7 8h0m6 8h0m0 2h0m12 3h0m-3 2h0m-13 0h0m11 1h0m-6 3h0m-10 1h0m36-1h0m6 0h0m-5-3h0m-4-4h0m12 0h0m-17 0h0m17-5h0m-5 0h0m-7-6h0m-2-8h0m7-2h0m-4-2h0m-6-1h0m14-2h0m-19-1h0m22-1h0m-18 0h0m11 0h0m6-2h0m1-2h0m-16-3h0m14-7h0m-5-1h0m-11-1h0m14-3h0m-7 0h0m-9 0h0m-2-3h0m15-2h0m1-2h0m-5-1h0m3-5h0m-7-1h0m5-3h0m7-1h0m-10-3h0m11-1h0m-18-1h0m19-1h0m-17-3h0m1 0h0m6-2h0m-10-2h0m4 0h0m8-3h0m-11 0h0m16-6h0m3-11h0m-16-1h0m17-3h0m-8-1h0m-1 0h0m10-13h0m-10-1h0m-3-6h0m3-18h0m-9-1h0m19-5h0m-8-2h0m7-1h0m-5-3h0m5-1h0m-12-5h0m11-1h0m-20 0h0m18-5h0m-8 0h0m-2-3h0m-1 0h0m0-7h0m2-1h0m-6-2h0m-1-15h0m8-7h0m5-1h0m6-1h0m-16-10h0m7 0h0m-4-1h0m12-3h0m-15-3h0m2-1h0m2 0h0m4-26h0m-7-4h0m-5-36h0m0-4h0m-1-3h0m2-4h0m0-3h0m7-1h0m-9-5h0m6-7h0m1-5h0m-8-2h0m10-11h0m7-47h0m4-7h0m2-11h0m-15-88h0m3-11h0m-6-1h0m-1-16h0m0-1h0m-2-9h0m14-1h0m-14-2h0m8-1h0m11-15h0m-16 0h0m12-1h0m0-11h0m5-4h0m-14-6h0m-8-9h0m0-10h0m21-2h0m-14-2h0m-5-2h0m12-3h0m0-2h0m0 0h0m-8-2h0m-4-1h0m7 0h0m-8-30h0m34 58h0m12 27h0m-4 200h0m-19 4h0m4 136h0m-1 7h0m0 7h0m16 11h0m-13 0h0m-6 5h0m2 1h0m15 3h0m-5 8h0m-8 2h0m3 5h0m-6 4h0m6 3h0m13 2h0m-17 1h0m-1 2h0m5 9h0m14 6h0m-12 0h0m14 0h0m-6 1h0m-13 2h0m18 1h0m-22 7h0m2 1h0m18 2h0m-17 3h0m6 7h0m-4 17h0m10 1h0m-12 6h0m12 2h0m-7 2h0m3 1h0m3 9h0m9 5h0m-10 0h0m2 1h0m-2 11h0m-11 5h0m11 4h0m4 3h0m1 5h0m-6 2h0m-8 1h0m7 2h0m-2 6h0m-7 10h0m17 1h0m2 1h0m-6 2h0m-11 3h0m-1 0h0m8 1h0m-7 7h0m20-22h0m11-11h0m10-5h0m-17-3h0m4-3h0m0-3h0m4-1h0m8-5h0m-3-8h0m-10 0h0m11-1h0m-15-1h0m10-4h0m-1-2h0m-2-3h0m-1-3h0m3-8h0m-5-2h0m1 0h0m-8-2h0m12-6h0m-6-7h0m-2-4h0m-3-5h0m-1-3h0m8-1h0m-8-3h0m15-12h0m-8-6h0m-4-12h0m-2-12h0m2-147h0m-3-202h0m12-13h0m-7-11h0m30 20h0m-11 8h0m22 458h0m-14 7h0m6 2h0m10-8h0m2-6h0m11-7h0m4-8h0m-5-9h0m3 0h0m5-2h0m0-6h0m-3-410h0m13-21h0m0 27h0m4 1h0m-1 3h0m-4 1h0m3 0h0m-2 4h0m4 5h0m6 8h0m1 7h0m4 3h0m-20 374h0m45-354h0m0-3h0m-7-3h0m2-1h0m3 0h0m-7-4h0m4-11h0m10 26h0m1 0h0m19 99h0m-2 14h0m-8 0h0m10 5h0m-8 22h0m7 4h0m-1 3h0m1 5h0m-6 0h0m6 2h0m-4 4h0m1 6h0m24 31h0m0-25h0m-11-3h0m12-1h0m-6-2h0m7-1h0m-21-3h0m21-1h0m1-1h0m-21-2h0m13 0h0m3-4h0m-14-1h0m7-1h0m-8-3h0m16-5h0m-7-1h0m-6-1h0m-5-1h0m13-2h0m-1-4h0m-8-1h0m19-6h0m-19-1h0m10-6h0m-8-4h0m4-3h0m-6 0h0m13-6h0m-17-4h0m15-3h0m-7-2h0m15-14h0m-8-1h0m-3-9h0m7-7h0m4 0h0m-2-1h0m1-14h0m-5-4h0m-10-19h0m3-1h0m4-5h0m-9-7h0m20 28h0m13 1h0m-7 5h0m-1 2h0m11 1h0m-10 1h0m16 4h0m-5 3h0m5 1h0m-7 3h0m-1 0h0m7 1h0m-18 3h0m18 4h0m-15 1h0m0 2h0m8 2h0m7 3h0m-10 1h0m-3 4h0m-6 0h0m18 5h0m-16 2h0m9 1h0m-9 3h0m11 4h0m6 2h0m-13 4h0m5 0h0m8 2h0m-20 1h0m-2 2h0m13 1h0m-6 7h0m5 1h0m10 0h0m-18 3h0m15 3h0m-2 6h0m-17 1h0m2 1h0m6 2h0m-4 4h0m-1 11h0m16 6h0m-4 2h0m-9 4h0m-3 10h0m6 1h0m-6 1h0m12 0h0m-4 0h0m-11 0h0m18 10h0m-9 7h0m-4 6h0m24-12h0m12-1h0m3 0h0m-20 0h0m15-2h0m-3-1h0m9-3h0m-17-2h0m-4-1h0m12-3h0m-8 0h0m4 0h0m2-1h0m2-1h0m-7 0h0m1-1h0m15-2h0m-19-2h0m19-2h0m-1-1h0m2-1h0m-10 0h0m6 0h0m1 0h0m-6-5h0m-4-2h0m-5-2h0m10 0h0m5-3h0m3 0h0m-11-5h0m2-3h0m5 0h0m-5-1h0m-3-1h0m0-2h0m-2-2h0m5 0h0m-1-1h0m-2-1h0m6 0h0m-3-2h0m6-1h0m1-2h0m-12 0h0m-2-1h0m15-5h0m-14 0h0m-7-6h0m2-6h0m21 0h0m-16 0h0m8-3h0m4-3h0m-1 0h0m-3-1h0m4-2h0m-8-1h0m10-1h0m-21-1h0m22-4h0m-14-1h0m11-3h0m-8-11h0m11-1h0m0-1h0m-2-2h0m-16-2h0m16-1h0m1-3h0m-8-1h0m10-1h0m-18-4h0m3 0h0m2-2h0m-3-3h0m9-2h0m-16-1h0m18-4h0m5 0h0m-8-1h0m-8-4h0m27 14h0m1 4h0m7 3h0m-6 2h0m-1 0h0m-7 0h0m10 5h0m-3 0h0m6 6h0m-12 2h0m0 1h0m3 3h0m-7 1h0m12 1h0m-11 3h0m18 2h0m-14 2h0m-5 0h0m21 3h0m-4 4h0m-13 1h0m13 1h0m-6 0h0m5 0h0m-12 1h0m15 0h0m2 1h0m-11 1h0m11 0h0m-3 1h0m0 3h0m-12 1h0m-1 0h0m-1 3h0m10 1h0m1 1h0m2 1h0m-9 0h0m0 1h0m10 1h0m-1 2h0m-8 4h0m1 0h0m10 0h0m-18 1h0m2 0h0m-5 1h0m6 2h0m11 2h0m-9 0h0m10 3h0m-14 2h0m9 4h0m-4 2h0m2 1h0m0 2h0m-9 0h0m0 3h0m21 3h0m-23 1h0m1 1h0m10 0h0m0 3h0m0 1h0m5 0h0m-16 2h0m4 1h0m3 2h0m11 1h0m-8 2h0m-7 0h0m5 9h0m0 0h0m-8 7h0m6 0h0m24-60h0m0-8h0m-5 0h0m-1-3h0m2-2h0m4-1h0m1-3h0m-1-11h0m0-9h0m0 0h0m-2-7h0m-2-1h0"/>
<path stroke="#eba43e" d="M928 1130h0m29 60h0m-11-32h0m11-6h0m6-80h0m-3 36h0m5 70h0m5 14h0m20 42h0m10-115h0m7-13h0m-2-43h0m25-61h0m-11 65h0m-8 87h0m19 12h0m20 29h0m-18-55h0m15-59h0m5-52h0m10 76h0m14 56h0m-15 22h0m29 100h0m13-64h0m-13-11h0m7-95h0m-4-1h0m2-22h0m5-8h0m-19 0h0m21-1h0m-3-6h0m-1-6h0m0-1h0m-4-2h0m2-5h0m-14-1h0m20-1h0m0-2h0m-1-3h0m-1-15h0m24-52h0m-11 73h0m-5 5h0m2 13h0m-4 3h0m-2 4h0m9 1h0m-9 6h0m0 0h0m12 1h0m-12 3h0m8 3h0m4 1h0m4 1h0m4 1h0m-20 4h0m13 3h0m-11 2h0m0 1h0m8 2h0m0 2h0m0 5h0m8 0h0m-17 3h0m18 1h0m-18 1h0m12 0h0m-11 1h0m9 2h0m11 4h0m-13 2h0m5 5h0m-3 2h0m-3 1h0m8 1h0m-5 4h0m8 6h0m-9 2h0m8 2h0m-9 2h0m11 0h0m1 3h0m-7 2h0m-11 8h0m16 4h0m-16 8h0m0 18h0m10 6h0m1 11h0m8 6h0m-5 23h0m-9 36h0m37 6h0m0-23h0m-4-4h0m-3-4h0m7-9h0m-2-3h0m-9-5h0m2-4h0m-1-9h0m10-53h0m-1-2h0m-13-3h0m-3-1h0m12-7h0m-14-11h0m1-1h0m3-8h0m-6-28h0m33 64h0m0 16h0m1 6h0m3 7h0m2 31h0m-8 11h0m-3 13h0m7 8h0m11 15h0m13-48h0m36-29h0m-16 4h0m38 126h0m1-36h0m-16-104h0m3-30h0m-1-243h0m37 57h0m1 45h0m-5 14h0m-8 53h0m1 124h0m-6 16h0m3 26h0m7 82h0m30-52h0m2-9h0m1-7h0m-2-11h0m-1-130h0m0-10h0m3-34h0m-9-48h0m33-113h0m-10 33h0m-2 215h0m-5 19h0m12 31h0m-18 129h0m7 8h0m2 18h0m-4 1h0m33 18h0m-10-9h0m19-73h0m-10-129h0m-11-86h0m2-36h0m-3-17h0m30 7h0m4 15h0m-1 25h0m3 4h0m-1 88h0m2 4h0m7 144h0m0 6h0m-6 28h0m7 9h0m-8 7h0m-12 45h0m0 9h0m7 2h0m19 12h0m15-19h0m-1-40h0m-1-1h0m-5-5h0m-10-292h0m15-62h0m-5-32h0m9-30h0m-3-21h0m18 146h0m6 170h0m-18 25h0m20 37h0m1 25h0m-14 22h0m12 1h0m-7 17h0m14-8h0m11-33h0m10-159h0m-23-62h0m19-4h0m-6-3h0m6-78h0m-7-38h0m34 95h0m-22 4h0m3 3h0m3 2h0m7 5h0m1 4h0m-10 15h0m18 1h0m-11 0h0m4 11h0m-12 202h0m17 205h0m10 36h0m14-298h0m-18-113h0m21-8h0m-9-3h0m-13-13h0m21-1h0m-4-1h0m3-1h0m1-2h0m-13-1h0m-5-5h0m-1-3h0m-3-1h0m22-48h0m0-9h0m22-81h0m-18 69h0m7 13h0m-6 16h0m19 3h0m0 3h0m0 9h0m-7 1h0m-10 12h0m-4 9h0m4 23h0m-5 3h0m19 13h0m-6 1h0m-4 5h0m-7 5h0m4 2h0m2 20h0m5 48h0m-7 92h0m36 188h0m-2-202h0m-5-121h0m-8-16h0m10-1h0m-1-2h0m5-73h0m1-8h0m-2-3h0m-3-1h0m2-16h0m3-13h0m-5-17h0m-6-14h0m15-40h0m-1-3h0m2-22h0m22 21h0m1 6h0m0 8h0m-6 3h0m-9 24h0m-7 1h0m11 1h0m-10 32h0m1 8h0m12 32h0m9 1h0m-16 4h0m13 26h0m1 49h0m1 5h0m1 11h0m-1 109h0m-15 151h0m13 51h0m5 36h0m13-85h0m8-147h0m-10-23h0m6-8h0m-3-12h0m1 0h0m1-4h0m2-2h0m-7-1h0m0-20h0m11-19h0m-7-5h0m-6-7h0m0-1h0m-1-3h0m-4-1h0m15-2h0m-10 0h0m-4-2h0m11-6h0m-2-2h0m3-1h0m-14-3h0m4-3h0m4-2h0m2-3h0m-11-1h0m1-3h0m5 0h0m-7-1h0m14-3h0m-6-71h0m12-64h0m-21-39h0m23 5h0m6 161h0m-1 1h0m1 6h0m-4 1h0m12 7h0m4 3h0m-8 11h0m6 12h0m-9 1h0m13 1h0m-20 12h0m23 0h0m-12 4h0m11 1h0m-17 0h0m-5 1h0m11 3h0m3 0h0m-5 6h0m10 2h0m-11 0h0m9 2h0m6 6h0m-22 5h0m15 9h0m-7 4h0m6 7h0m6 2h0m-7 0h0m-11 3h0m7 1h0m1 1h0m11 5h0m-22 2h0m3 4h0m2 11h0m-2 3h0m21-4h0m12 0h0m9-4h0m-1-4h0m-17-6h0m2-3h0m7-1h0m-10-2h0m8-1h0m-6-3h0m7-21h0m-9 0h0m-1-10h0m0-4h0m8-9h0m9-2h0m-11-4h0m-5 0h0m0-1h0m2 0h0m1 0h0m18-1h0m-9-2h0m-3 0h0m-9-2h0m6 0h0m-8-2h0m12-1h0m-8-2h0m5 0h0m10-1h0m-1-1h0m-8 0h0m8-1h0m1-1h0m-13-1h0m10-1h0m-12 0h0m13-1h0m-7-1h0m-10-5h0m10-1h0m-6-15h0m143 115h0m64-44h0m15 52h0"/>
<path stroke="#4e9a4e" d="M1345 1222h0m49-49h0m0 148h0m71 0h0m55-305h0m-5-11h0m2-11h0m32-9h0m10 93h0m-13 35h0m14 441h0m13-430h0m8-68h0"/>
</g>
<path d="M33.5 731 V822.7 H131" stroke="#000" stroke-width="2.2" fill="none"/>
<text text-anchor="middle" textLength="70.0" lengthAdjust="spacingAndGlyphs" font-size="21.5" transform="translate(23.0,776.5) rotate(-90)">UMAP2</text>
<text x="80.0" y="853.0" text-anchor="middle" textLength="70.0" lengthAdjust="spacingAndGlyphs" font-size="21.5">UMAP1</text>
<text x="147.0" y="825.0" textLength="68.0" lengthAdjust="spacingAndGlyphs" font-size="21.5">Culture</text>
<circle cx="154.5" cy="844" r="4.2" fill="#f8766d"/>
<text x="167.0" y="851.0" textLength="52.0" lengthAdjust="spacingAndGlyphs" font-size="21.5">D1C1</text>
<circle cx="235" cy="844" r="4.2" fill="#7cae00"/>
<text x="247.5" y="851.0" textLength="52.0" lengthAdjust="spacingAndGlyphs" font-size="21.5">D1C2</text>
<circle cx="319.5" cy="844" r="4.2" fill="#00bfc4"/>
<text x="332.0" y="851.0" textLength="52.0" lengthAdjust="spacingAndGlyphs" font-size="21.5">D1C3</text>
<circle cx="402" cy="844" r="4.2" fill="#c77cff"/>
<text x="414.5" y="851.0" textLength="57.0" lengthAdjust="spacingAndGlyphs" font-size="21.5">D1WT</text>
<text x="538.5" y="825.0" textLength="46.0" lengthAdjust="spacingAndGlyphs" font-size="21.5">Time</text>
<circle cx="543.5" cy="844" r="4.2" fill="#4e9a4e"/>
<text x="559.0" y="851.0" textLength="31.0" lengthAdjust="spacingAndGlyphs" font-size="21.5">WT</text>
<circle cx="617.5" cy="844" r="4.2" fill="#eba43e"/>
<text x="633.0" y="851.0" textLength="47.0" lengthAdjust="spacingAndGlyphs" font-size="21.5">Early</text>
<circle cx="709.5" cy="844" r="4.2" fill="#0b0b86"/>
<text x="722.5" y="851.0" textLength="34.0" lengthAdjust="spacingAndGlyphs" font-size="21.5">Mid</text>
<circle cx="782.5" cy="844" r="4.2" fill="#7b2a6e"/>
<text x="799.5" y="851.0" textLength="41.0" lengthAdjust="spacingAndGlyphs" font-size="21.5">Late</text>
<text x="976.0" y="462.0" class="b" stroke="#000" stroke-width="0.7" font-size="34.5">d</text>
<rect x="1104" y="451" width="42" height="9.2" fill="#d5a032"/>
<rect x="1179.1" y="451" width="42.1" height="9.2" fill="#54afe6"/>
<rect x="1243.1" y="451" width="21.9" height="9.2" fill="#b97bb2"/>
<rect x="1290.8" y="451" width="42.3" height="9.2" fill="#ff7f2a"/>
<rect x="1353.9" y="451" width="21.9" height="9.2" fill="#5cb4bf"/>
<rect x="1401" y="451" width="42.4" height="9.2" fill="#b4a43c"/>
<rect x="1474.3" y="451" width="114.5" height="9.2" fill="#5faf8a"/>
<rect x="1623.9" y="451" width="337.3" height="9.2" fill="#000"/>
<rect x="1996.2" y="451" width="114.1" height="9.2" fill="#ff0000"/>
<circle cx="1105.1" cy="481.2" r="9" fill="#d0bfbb"/>
<circle cx="1105.1" cy="508" r="9" fill="#b66354"/>
<circle cx="1105.1" cy="534.7" r="9" fill="#d0bfbb"/>
<circle cx="1105.1" cy="561.5" r="8.8" fill="#d3d3d3"/>
<circle cx="1105.1" cy="588.2" r="9" fill="#cca39c"/>
<circle cx="1105.1" cy="615" r="6.8" fill="#d3d3d3"/>
<circle cx="1105.1" cy="641.8" r="8.5" fill="#d3d3d3"/>
<circle cx="1105.1" cy="668.5" r="8.5" fill="#d3d3d3"/>
<circle cx="1105.1" cy="695.3" r="9" fill="#d0c2bf"/>
<circle cx="1105.1" cy="722" r="9" fill="#c69389"/>
<circle cx="1142.2" cy="481.2" r="8.8" fill="#d3d3d3"/>
<circle cx="1142.2" cy="508" r="8.8" fill="#d3d3d3"/>
<circle cx="1142.2" cy="534.7" r="8.8" fill="#d2cac9"/>
<circle cx="1142.2" cy="561.5" r="9" fill="#d3d3d3"/>
<circle cx="1142.2" cy="588.2" r="9" fill="#ceb1ac"/>
<circle cx="1142.2" cy="615" r="9" fill="#d0bfbb"/>
<circle cx="1142.2" cy="641.8" r="8.8" fill="#d3d3d3"/>
<circle cx="1142.2" cy="668.5" r="9" fill="#d3d3d3"/>
<circle cx="1142.2" cy="695.3" r="9" fill="#c58e84"/>
<circle cx="1142.2" cy="722" r="9" fill="#af5646"/>
<circle cx="1179.4" cy="481.2" r="1" fill="#d3d3d3"/>
<circle cx="1179.4" cy="508" r="1.8" fill="#d3d3d3"/>
<circle cx="1179.4" cy="534.7" r="1" fill="#d3d3d3"/>
<circle cx="1179.4" cy="561.5" r="1.2" fill="#d3d3d3"/>
<circle cx="1179.4" cy="588.2" r="1.8" fill="#d3d3d3"/>
<circle cx="1179.4" cy="615" r="1.5" fill="#d3d3d3"/>
<circle cx="1179.4" cy="641.8" r="1.8" fill="#d3d3d3"/>
<circle cx="1179.4" cy="668.5" r="4.4" fill="#ceb1ac"/>
<circle cx="1179.4" cy="695.3" r="3.4" fill="#d3d3d3"/>
<circle cx="1179.4" cy="722" r="5.8" fill="#8c1008"/>
<circle cx="1216.5" cy="481.2" r="8.5" fill="#d3d3d3"/>
<circle cx="1216.5" cy="508" r="8.8" fill="#d3d3d3"/>
<circle cx="1216.5" cy="534.7" r="8.8" fill="#d1c7c5"/>
<circle cx="1216.5" cy="561.5" r="8.6" fill="#d3d3d3"/>
<circle cx="1216.5" cy="588.2" r="8.8" fill="#d3d3d3"/>
<circle cx="1216.5" cy="615" r="9" fill="#cba098"/>
<circle cx="1216.5" cy="641.8" r="8.6" fill="#d3d3d3"/>
<circle cx="1216.5" cy="668.5" r="8.8" fill="#d3d3d3"/>
<circle cx="1216.5" cy="695.3" r="9" fill="#ceb1ac"/>
<circle cx="1216.5" cy="722" r="9" fill="#9d3021"/>
<circle cx="1253.6" cy="481.2" r="1" fill="#d3d3d3"/>
<circle cx="1253.6" cy="508" r="1.2" fill="#d3d3d3"/>
<circle cx="1253.6" cy="534.7" r="1" fill="#d3d3d3"/>
<circle cx="1253.6" cy="561.5" r="1" fill="#d3d3d3"/>
<circle cx="1253.6" cy="588.2" r="0.9" fill="#d3d3d3"/>
<circle cx="1253.6" cy="615" r="1.2" fill="#d3d3d3"/>
<circle cx="1253.6" cy="641.8" r="1.8" fill="#d0c2bf"/>
<circle cx="1253.6" cy="668.5" r="2.6" fill="#ac4f3e"/>
<circle cx="1253.6" cy="695.3" r="1.9" fill="#c07e73"/>
<circle cx="1253.6" cy="722" r="1.6" fill="#d2cac9"/>
<circle cx="1290.8" cy="481.2" r="1" fill="#d3d3d3"/>
<circle cx="1290.8" cy="508" r="3.2" fill="#d3d3d3"/>
<circle cx="1290.8" cy="534.7" r="6" fill="#d3d3d3"/>
<circle cx="1290.8" cy="561.5" r="1.8" fill="#d3d3d3"/>
<circle cx="1290.8" cy="588.2" r="4.8" fill="#d3d3d3"/>
<circle cx="1290.8" cy="615" r="8.3" fill="#921c11"/>
<circle cx="1290.8" cy="641.8" r="2.6" fill="#d3d3d3"/>
<circle cx="1290.8" cy="668.5" r="2" fill="#d3d3d3"/>
<circle cx="1290.8" cy="695.3" r="6" fill="#d2cccb"/>
<circle cx="1290.8" cy="722" r="7.2" fill="#c69389"/>
<circle cx="1327.9" cy="481.2" r="9" fill="#d3d3d3"/>
<circle cx="1327.9" cy="508" r="9" fill="#d3d3d3"/>
<circle cx="1327.9" cy="534.7" r="9" fill="#d0bfbb"/>
<circle cx="1327.9" cy="561.5" r="9" fill="#d3d3d3"/>
<circle cx="1327.9" cy="588.2" r="9" fill="#d0c2bf"/>
<circle cx="1327.9" cy="615" r="9" fill="#9d3021"/>
<circle cx="1327.9" cy="641.8" r="9" fill="#d3d3d3"/>
<circle cx="1327.9" cy="668.5" r="9" fill="#d3d3d3"/>
<circle cx="1327.9" cy="695.3" r="9" fill="#d3d3d3"/>
<circle cx="1327.9" cy="722" r="9" fill="#cba098"/>
<circle cx="1365" cy="481.2" r="1.4" fill="#d3d3d3"/>
<circle cx="1365" cy="508" r="1" fill="#d3d3d3"/>
<circle cx="1365" cy="534.7" r="0.9" fill="#d3d3d3"/>
<circle cx="1365" cy="561.5" r="0.9" fill="#d3d3d3"/>
<circle cx="1365" cy="588.2" r="0.9" fill="#d3d3d3"/>
<circle cx="1365" cy="615" r="1" fill="#d3d3d3"/>
<circle cx="1365" cy="641.8" r="0.9" fill="#d3d3d3"/>
<circle cx="1365" cy="668.5" r="2" fill="#c07e73"/>
<circle cx="1365" cy="695.3" r="0.9" fill="#d3d3d3"/>
<circle cx="1365" cy="722" r="1.4" fill="#98271a"/>
<circle cx="1402.1" cy="481.2" r="0.9" fill="#d3d3d3"/>
<circle cx="1402.1" cy="508" r="0.9" fill="#d3d3d3"/>
<circle cx="1402.1" cy="534.7" r="0.9" fill="#d3d3d3"/>
<circle cx="1402.1" cy="561.5" r="0.9" fill="#d3d3d3"/>
<circle cx="1402.1" cy="588.2" r="0.9" fill="#d3d3d3"/>
<circle cx="1402.1" cy="615" r="0.9" fill="#d3d3d3"/>
<circle cx="1402.1" cy="641.8" r="2.1" fill="#8c1008"/>
<circle cx="1402.1" cy="668.5" r="0.9" fill="#d3d3d3"/>
<circle cx="1402.1" cy="695.3" r="0.9" fill="#d3d3d3"/>
<circle cx="1402.1" cy="722" r="0.9" fill="#d3d3d3"/>
<circle cx="1439.3" cy="481.2" r="1.5" fill="#d3d3d3"/>
<circle cx="1439.3" cy="508" r="2" fill="#d3d3d3"/>
<circle cx="1439.3" cy="534.7" r="2.2" fill="#d3d3d3"/>
<circle cx="1439.3" cy="561.5" r="2.5" fill="#d3d3d3"/>
<circle cx="1439.3" cy="588.2" r="2.2" fill="#d3d3d3"/>
<circle cx="1439.3" cy="615" r="1.2" fill="#d3d3d3"/>
<circle cx="1439.3" cy="641.8" r="3" fill="#cfbab6"/>
<circle cx="1439.3" cy="668.5" r="2.2" fill="#d3d3d3"/>
<circle cx="1439.3" cy="695.3" r="6" fill="#8c1008"/>
<circle cx="1439.3" cy="722" r="2" fill="#d3d3d3"/>
<circle cx="1476.4" cy="481.2" r="8.8" fill="#d3d3d3"/>
<circle cx="1476.4" cy="508" r="8.8" fill="#d3d3d3"/>
<circle cx="1476.4" cy="534.7" r="7.5" fill="#d3d3d3"/>
<circle cx="1476.4" cy="561.5" r="9" fill="#bc7366"/>
<circle cx="1476.4" cy="588.2" r="9" fill="#c58e84"/>
<circle cx="1476.4" cy="615" r="9" fill="#cca8a2"/>
<circle cx="1476.4" cy="641.8" r="9" fill="#d0c2bf"/>
<circle cx="1476.4" cy="668.5" r="9" fill="#c99c93"/>
<circle cx="1476.4" cy="695.3" r="8" fill="#d3d3d3"/>
<circle cx="1476.4" cy="722" r="9" fill="#d3d3d3"/>
<circle cx="1513.5" cy="481.2" r="9" fill="#921c11"/>
<circle cx="1513.5" cy="508" r="8" fill="#d2d0cf"/>
<circle cx="1513.5" cy="534.7" r="8" fill="#d3d3d3"/>
<circle cx="1513.5" cy="561.5" r="8" fill="#ceb1ac"/>
<circle cx="1513.5" cy="588.2" r="7" fill="#d3d3d3"/>
<circle cx="1513.5" cy="615" r="7.2" fill="#d3d3d3"/>
<circle cx="1513.5" cy="641.8" r="6.4" fill="#ceb1ac"/>
<circle cx="1513.5" cy="668.5" r="8" fill="#d3d3d3"/>
<circle cx="1513.5" cy="695.3" r="2.2" fill="#d3d3d3"/>
<circle cx="1513.5" cy="722" r="7.5" fill="#d3d3d3"/>
<circle cx="1550.7" cy="481.2" r="8.8" fill="#942015"/>
<circle cx="1550.7" cy="508" r="5" fill="#d3d3d3"/>
<circle cx="1550.7" cy="534.7" r="4.2" fill="#d3d3d3"/>
<circle cx="1550.7" cy="561.5" r="8.4" fill="#cba098"/>
<circle cx="1550.7" cy="588.2" r="5.8" fill="#d3d3d3"/>
<circle cx="1550.7" cy="615" r="3.8" fill="#d3d3d3"/>
<circle cx="1550.7" cy="641.8" r="7.2" fill="#ceb1ac"/>
<circle cx="1550.7" cy="668.5" r="3.8" fill="#d3d3d3"/>
<circle cx="1550.7" cy="695.3" r="3" fill="#d3d3d3"/>
<circle cx="1550.7" cy="722" r="5.8" fill="#d3d3d3"/>
<circle cx="1587.8" cy="481.2" r="1.5" fill="#b46051"/>
<circle cx="1587.8" cy="508" r="1" fill="#d3d3d3"/>
<circle cx="1587.8" cy="534.7" r="1" fill="#d3d3d3"/>
<circle cx="1587.8" cy="561.5" r="1" fill="#d3d3d3"/>
<circle cx="1587.8" cy="588.2" r="1" fill="#d3d3d3"/>
<circle cx="1587.8" cy="615" r="1" fill="#d3d3d3"/>
<circle cx="1587.8" cy="641.8" r="2" fill="#8c1008"/>
<circle cx="1587.8" cy="668.5" r="1" fill="#d3d3d3"/>
<circle cx="1587.8" cy="695.3" r="1" fill="#d3d3d3"/>
<circle cx="1587.8" cy="722" r="1" fill="#d3d3d3"/>
<circle cx="1624.9" cy="481.2" r="3" fill="#cba098"/>
<circle cx="1624.9" cy="508" r="1.8" fill="#d3d3d3"/>
<circle cx="1624.9" cy="534.7" r="1.8" fill="#d3d3d3"/>
<circle cx="1624.9" cy="561.5" r="2.8" fill="#d3d3d3"/>
<circle cx="1624.9" cy="588.2" r="2.5" fill="#d3d3d3"/>
<circle cx="1624.9" cy="615" r="2" fill="#d3d3d3"/>
<circle cx="1624.9" cy="641.8" r="4.6" fill="#8c1008"/>
<circle cx="1624.9" cy="668.5" r="1.6" fill="#d3d3d3"/>
<circle cx="1624.9" cy="695.3" r="2.2" fill="#d3d3d3"/>
<circle cx="1624.9" cy="722" r="2.2" fill="#d3d3d3"/>
<circle cx="1662" cy="481.2" r="7.8" fill="#a84635"/>
<circle cx="1662" cy="508" r="2.2" fill="#d3d3d3"/>
<circle cx="1662" cy="534.7" r="1.5" fill="#d3d3d3"/>
<circle cx="1662" cy="561.5" r="2.8" fill="#d3d3d3"/>
<circle cx="1662" cy="588.2" r="2.2" fill="#d3d3d3"/>
<circle cx="1662" cy="615" r="1" fill="#d3d3d3"/>
<circle cx="1662" cy="641.8" r="5.8" fill="#b8685a"/>
<circle cx="1662" cy="668.5" r="1.6" fill="#d3d3d3"/>
<circle cx="1662" cy="695.3" r="2.2" fill="#d3d3d3"/>
<circle cx="1662" cy="722" r="2.8" fill="#d3d3d3"/>
<circle cx="1699.2" cy="481.2" r="4" fill="#cba098"/>
<circle cx="1699.2" cy="508" r="3" fill="#d3d3d3"/>
<circle cx="1699.2" cy="534.7" r="2.8" fill="#d3d3d3"/>
<circle cx="1699.2" cy="561.5" r="4.2" fill="#cba098"/>
<circle cx="1699.2" cy="588.2" r="2.2" fill="#d3d3d3"/>
<circle cx="1699.2" cy="615" r="1.8" fill="#d3d3d3"/>
<circle cx="1699.2" cy="641.8" r="5.2" fill="#a43e2c"/>
<circle cx="1699.2" cy="668.5" r="3.8" fill="#d2cac9"/>
<circle cx="1699.2" cy="695.3" r="3" fill="#d3d3d3"/>
<circle cx="1699.2" cy="722" r="2.2" fill="#d3d3d3"/>
<circle cx="1736.3" cy="481.2" r="9" fill="#d0c2bf"/>
<circle cx="1736.3" cy="508" r="8.8" fill="#d3d3d3"/>
<circle cx="1736.3" cy="534.7" r="8.8" fill="#d3d3d3"/>
<circle cx="1736.3" cy="561.5" r="9" fill="#c2857a"/>
<circle cx="1736.3" cy="588.2" r="9" fill="#d1c5c3"/>
<circle cx="1736.3" cy="615" r="8.4" fill="#d1c9c7"/>
<circle cx="1736.3" cy="641.8" r="9" fill="#cba098"/>
<circle cx="1736.3" cy="668.5" r="9" fill="#bc7366"/>
<circle cx="1736.3" cy="695.3" r="8.6" fill="#d3d3d3"/>
<circle cx="1736.3" cy="722" r="8.4" fill="#d3d3d3"/>
<circle cx="1773.4" cy="481.2" r="8.4" fill="#cdaea8"/>
<circle cx="1773.4" cy="508" r="7.8" fill="#d3d3d3"/>
<circle cx="1773.4" cy="534.7" r="8" fill="#d3d3d3"/>
<circle cx="1773.4" cy="561.5" r="8.4" fill="#cba098"/>
<circle cx="1773.4" cy="588.2" r="8" fill="#d3d3d3"/>
<circle cx="1773.4" cy="615" r="8.4" fill="#bd786b"/>
<circle cx="1773.4" cy="641.8" r="8.4" fill="#b8685a"/>
<circle cx="1773.4" cy="668.5" r="8.2" fill="#d3d3d3"/>
<circle cx="1773.4" cy="695.3" r="7.2" fill="#d3d3d3"/>
<circle cx="1773.4" cy="722" r="7.2" fill="#d3d3d3"/>
<circle cx="1810.6" cy="481.2" r="1.2" fill="#d3d3d3"/>
<circle cx="1810.6" cy="508" r="1.2" fill="#d3d3d3"/>
<circle cx="1810.6" cy="534.7" r="4.4" fill="#9e3323"/>
<circle cx="1810.6" cy="561.5" r="1" fill="#d3d3d3"/>
<circle cx="1810.6" cy="588.2" r="1.2" fill="#d3d3d3"/>
<circle cx="1810.6" cy="615" r="2.6" fill="#d3d3d3"/>
<circle cx="1810.6" cy="641.8" r="1.6" fill="#d3d3d3"/>
<circle cx="1810.6" cy="668.5" r="2" fill="#d3d3d3"/>
<circle cx="1810.6" cy="695.3" r="3.8" fill="#cba098"/>
<circle cx="1810.6" cy="722" r="3.4" fill="#cca8a2"/>
<circle cx="1847.7" cy="481.2" r="1.8" fill="#d3d3d3"/>
<circle cx="1847.7" cy="508" r="1.8" fill="#d3d3d3"/>
<circle cx="1847.7" cy="534.7" r="1" fill="#d3d3d3"/>
<circle cx="1847.7" cy="561.5" r="2.6" fill="#ceb1ac"/>
<circle cx="1847.7" cy="588.2" r="2" fill="#d3d3d3"/>
<circle cx="1847.7" cy="615" r="1" fill="#d3d3d3"/>
<circle cx="1847.7" cy="641.8" r="3.5" fill="#8c1008"/>
<circle cx="1847.7" cy="668.5" r="1.8" fill="#d3d3d3"/>
<circle cx="1847.7" cy="695.3" r="1.8" fill="#d3d3d3"/>
<circle cx="1847.7" cy="722" r="2" fill="#d3d3d3"/>
<circle cx="1884.8" cy="481.2" r="3" fill="#c07e73"/>
<circle cx="1884.8" cy="508" r="3" fill="#c2857a"/>
<circle cx="1884.8" cy="534.7" r="3.3" fill="#ac4f3e"/>
<circle cx="1884.8" cy="561.5" r="1.6" fill="#d3d3d3"/>
<circle cx="1884.8" cy="588.2" r="1.8" fill="#d3d3d3"/>
<circle cx="1884.8" cy="615" r="2" fill="#d3d3d3"/>
<circle cx="1884.8" cy="641.8" r="2.4" fill="#d3d3d3"/>
<circle cx="1884.8" cy="668.5" r="1.6" fill="#d3d3d3"/>
<circle cx="1884.8" cy="695.3" r="1.6" fill="#d3d3d3"/>
<circle cx="1884.8" cy="722" r="1.6" fill="#d3d3d3"/>
<circle cx="1922" cy="481.2" r="2.8" fill="#d3d3d3"/>
<circle cx="1922" cy="508" r="4.2" fill="#d0c2bf"/>
<circle cx="1922" cy="534.7" r="5" fill="#cba098"/>
<circle cx="1922" cy="561.5" r="4" fill="#d1c5c3"/>
<circle cx="1922" cy="588.2" r="3.8" fill="#d3d3d3"/>
<circle cx="1922" cy="615" r="2.2" fill="#d3d3d3"/>
<circle cx="1922" cy="641.8" r="3.8" fill="#d3d3d3"/>
<circle cx="1922" cy="668.5" r="5.4" fill="#b8685a"/>
<circle cx="1922" cy="695.3" r="5" fill="#c58e84"/>
<circle cx="1922" cy="722" r="2.2" fill="#d3d3d3"/>
<circle cx="1959.1" cy="481.2" r="1.2" fill="#ceb1ac"/>
<circle cx="1959.1" cy="508" r="0.9" fill="#d3d3d3"/>
<circle cx="1959.1" cy="534.7" r="0.9" fill="#d3d3d3"/>
<circle cx="1959.1" cy="561.5" r="0.9" fill="#d3d3d3"/>
<circle cx="1959.1" cy="588.2" r="0.9" fill="#d3d3d3"/>
<circle cx="1959.1" cy="615" r="0.9" fill="#d3d3d3"/>
<circle cx="1959.1" cy="641.8" r="2.6" fill="#8c1008"/>
<circle cx="1959.1" cy="668.5" r="1.5" fill="#cca8a2"/>
<circle cx="1959.1" cy="695.3" r="0.9" fill="#d3d3d3"/>
<circle cx="1959.1" cy="722" r="0.9" fill="#d3d3d3"/>
<circle cx="1996.2" cy="481.2" r="2.8" fill="#d3d3d3"/>
<circle cx="1996.2" cy="508" r="4.4" fill="#ac4f3e"/>
<circle cx="1996.2" cy="534.7" r="3.8" fill="#cba098"/>
<circle cx="1996.2" cy="561.5" r="3" fill="#d2cac9"/>
<circle cx="1996.2" cy="588.2" r="3" fill="#ceb1ac"/>
<circle cx="1996.2" cy="615" r="1" fill="#d3d3d3"/>
<circle cx="1996.2" cy="641.8" r="2.8" fill="#d1c5c3"/>
<circle cx="1996.2" cy="668.5" r="2.8" fill="#d3d3d3"/>
<circle cx="1996.2" cy="695.3" r="1.8" fill="#d3d3d3"/>
<circle cx="1996.2" cy="722" r="2.4" fill="#d3d3d3"/>
<circle cx="2033.3" cy="481.2" r="3" fill="#cca39c"/>
<circle cx="2033.3" cy="508" r="2.4" fill="#d3d3d3"/>
<circle cx="2033.3" cy="534.7" r="2.6" fill="#d3d3d3"/>
<circle cx="2033.3" cy="561.5" r="2.4" fill="#d3d3d3"/>
<circle cx="2033.3" cy="588.2" r="2.2" fill="#d3d3d3"/>
<circle cx="2033.3" cy="615" r="1.8" fill="#d3d3d3"/>
<circle cx="2033.3" cy="641.8" r="2.8" fill="#d1c5c3"/>
<circle cx="2033.3" cy="668.5" r="3.6" fill="#b8685a"/>
<circle cx="2033.3" cy="695.3" r="3.5" fill="#b8685a"/>
<circle cx="2033.3" cy="722" r="2" fill="#d3d3d3"/>
<circle cx="2070.5" cy="481.2" r="5.6" fill="#d3d3d3"/>
<circle cx="2070.5" cy="508" r="3.5" fill="#d3d3d3"/>
<circle cx="2070.5" cy="534.7" r="3.8" fill="#d3d3d3"/>
<circle cx="2070.5" cy="561.5" r="7.5" fill="#bc7366"/>
<circle cx="2070.5" cy="588.2" r="7" fill="#c99991"/>
<circle cx="2070.5" cy="615" r="5.8" fill="#d3d3d3"/>
<circle cx="2070.5" cy="641.8" r="6.6" fill="#cba098"/>
<circle cx="2070.5" cy="668.5" r="7.2" fill="#c58e84"/>
<circle cx="2070.5" cy="695.3" r="5.6" fill="#d3d3d3"/>
<circle cx="2070.5" cy="722" r="4.6" fill="#d3d3d3"/>
<circle cx="2107.6" cy="481.2" r="2" fill="#d0bfbb"/>
<circle cx="2107.6" cy="508" r="2.4" fill="#cba098"/>
<circle cx="2107.6" cy="534.7" r="2.8" fill="#b46051"/>
<circle cx="2107.6" cy="561.5" r="2" fill="#d3d3d3"/>
<circle cx="2107.6" cy="588.2" r="2" fill="#d3d3d3"/>
<circle cx="2107.6" cy="615" r="2" fill="#d3d3d3"/>
<circle cx="2107.6" cy="641.8" r="2" fill="#d3d3d3"/>
<circle cx="2107.6" cy="668.5" r="2.4" fill="#cca39c"/>
<circle cx="2107.6" cy="695.3" r="0.9" fill="#d3d3d3"/>
<circle cx="2107.6" cy="722" r="2.4" fill="#cca8a2"/>
<path d="M1082.9 465 V737.8 H2117.6" stroke="#000" stroke-width="2" fill="none"/>
<path d="M1007.8 549 H2117.6" stroke="#000" stroke-width="2"/>
<path d="M1007.8 629.4 H2117.6" stroke="#000" stroke-width="2"/>
<path d="M1007.8 707.7 H2117.6" stroke="#000" stroke-width="2"/>
<text x="1074.3" y="488.1" text-anchor="end" textLength="72.9" lengthAdjust="spacingAndGlyphs" font-size="21.5">C3 Late</text>
<text x="1074.3" y="514.9" text-anchor="end" textLength="65.9" lengthAdjust="spacingAndGlyphs" font-size="21.5">C3 Mid</text>
<text x="1074.3" y="541.6" text-anchor="end" textLength="79.8" lengthAdjust="spacingAndGlyphs" font-size="21.5">C3 Early</text>
<text x="1074.3" y="568.4" text-anchor="end" textLength="72.9" lengthAdjust="spacingAndGlyphs" font-size="21.5">C2 Late</text>
<text x="1074.3" y="595.1" text-anchor="end" textLength="65.9" lengthAdjust="spacingAndGlyphs" font-size="21.5">C2 Mid</text>
<text x="1074.3" y="621.9" text-anchor="end" textLength="79.8" lengthAdjust="spacingAndGlyphs" font-size="21.5">C2 Early</text>
<text x="1074.3" y="648.7" text-anchor="end" textLength="72.9" lengthAdjust="spacingAndGlyphs" font-size="21.5">C1 Late</text>
<text x="1074.3" y="675.4" text-anchor="end" textLength="65.9" lengthAdjust="spacingAndGlyphs" font-size="21.5">C1 Mid</text>
<text x="1074.3" y="702.2" text-anchor="end" textLength="79.8" lengthAdjust="spacingAndGlyphs" font-size="21.5">C1 Early</text>
<text x="1074.3" y="728.9" text-anchor="end" textLength="31.8" lengthAdjust="spacingAndGlyphs" font-size="21.5">WT</text>
<text text-anchor="end" textLength="86.3" lengthAdjust="spacingAndGlyphs" class="i" font-size="21.5" transform="translate(1109.1,758.5) rotate(-45)">MUC5AC</text>
<text text-anchor="end" textLength="48.8" lengthAdjust="spacingAndGlyphs" class="i" font-size="21.5" transform="translate(1146.2,758.5) rotate(-45)">TFF1</text>
<text text-anchor="end" textLength="57.9" lengthAdjust="spacingAndGlyphs" class="i" font-size="21.5" transform="translate(1183.4,758.5) rotate(-45)">MUC6</text>
<text text-anchor="end" textLength="48.8" lengthAdjust="spacingAndGlyphs" class="i" font-size="21.5" transform="translate(1220.5,758.5) rotate(-45)">TFF2</text>
<text text-anchor="end" textLength="59.0" lengthAdjust="spacingAndGlyphs" class="i" font-size="21.5" transform="translate(1257.6,758.5) rotate(-45)">MKI67</text>
<text text-anchor="end" textLength="44.3" lengthAdjust="spacingAndGlyphs" class="i" font-size="21.5" transform="translate(1294.8,758.5) rotate(-45)">PGC</text>
<text text-anchor="end" textLength="35.6" lengthAdjust="spacingAndGlyphs" class="i" font-size="21.5" transform="translate(1331.9,758.5) rotate(-45)">LYZ</text>
<text text-anchor="end" textLength="68.1" lengthAdjust="spacingAndGlyphs" class="i" font-size="21.5" transform="translate(1369.0,758.5) rotate(-45)">OLFM4</text>
<text text-anchor="end" textLength="63.2" lengthAdjust="spacingAndGlyphs" class="i" font-size="21.5" transform="translate(1406.1,758.5) rotate(-45)">FABP1</text>
<text text-anchor="end" textLength="42.0" lengthAdjust="spacingAndGlyphs" class="i" font-size="21.5" transform="translate(1443.3,758.5) rotate(-45)">VIL1</text>
<text text-anchor="end" textLength="48.8" lengthAdjust="spacingAndGlyphs" class="i" font-size="21.5" transform="translate(1482.9,758.5) rotate(-45)">TFF3</text>
<text text-anchor="end" textLength="72.6" lengthAdjust="spacingAndGlyphs" class="i" font-size="21.5" transform="translate(1520.0,758.5) rotate(-45)">WFDC2</text>
<text text-anchor="end" textLength="71.5" lengthAdjust="spacingAndGlyphs" class="i" font-size="21.5" transform="translate(1557.2,758.5) rotate(-45)">MUC5B</text>
<text text-anchor="end" textLength="54.5" lengthAdjust="spacingAndGlyphs" class="i" font-size="21.5" transform="translate(1594.3,758.5) rotate(-45)">CDX2</text>
<text text-anchor="end" textLength="98.7" lengthAdjust="spacingAndGlyphs" class="i" font-size="21.5" transform="translate(1631.4,758.5) rotate(-45)">CEACAM5</text>
<text text-anchor="end" textLength="98.7" lengthAdjust="spacingAndGlyphs" class="i" font-size="21.5" transform="translate(1668.5,758.5) rotate(-45)">CEACAM6</text>
<text text-anchor="end" textLength="67.0" lengthAdjust="spacingAndGlyphs" class="i" font-size="21.5" transform="translate(1705.7,758.5) rotate(-45)">CLDN3</text>
<text text-anchor="end" textLength="67.0" lengthAdjust="spacingAndGlyphs" class="i" font-size="21.5" transform="translate(1742.8,758.5) rotate(-45)">CLDN4</text>
<text text-anchor="end" textLength="67.0" lengthAdjust="spacingAndGlyphs" class="i" font-size="21.5" transform="translate(1779.9,758.5) rotate(-45)">CLDN7</text>
<text text-anchor="end" textLength="55.6" lengthAdjust="spacingAndGlyphs" class="i" font-size="21.5" transform="translate(1817.1,758.5) rotate(-45)">REG4</text>
<text text-anchor="end" textLength="69.2" lengthAdjust="spacingAndGlyphs" class="i" font-size="21.5" transform="translate(1854.2,758.5) rotate(-45)">MUC13</text>
<text text-anchor="end" textLength="43.1" lengthAdjust="spacingAndGlyphs" class="i" font-size="21.5" transform="translate(1891.3,758.5) rotate(-45)">UBD</text>
<text text-anchor="end" textLength="55.6" lengthAdjust="spacingAndGlyphs" class="i" font-size="21.5" transform="translate(1928.5,758.5) rotate(-45)">AOC1</text>
<text text-anchor="end" textLength="67.0" lengthAdjust="spacingAndGlyphs" class="i" font-size="21.5" transform="translate(1965.6,758.5) rotate(-45)">CDH17</text>
<text text-anchor="end" textLength="48.8" lengthAdjust="spacingAndGlyphs" class="i" font-size="21.5" transform="translate(2002.7,758.5) rotate(-45)">TP53</text>
<text text-anchor="end" textLength="42.0" lengthAdjust="spacingAndGlyphs" class="i" font-size="21.5" transform="translate(2039.8,758.5) rotate(-45)">APC</text>
<text text-anchor="end" textLength="82.9" lengthAdjust="spacingAndGlyphs" class="i" font-size="21.5" transform="translate(2077.0,758.5) rotate(-45)">CDKN2A</text>
<text text-anchor="end" textLength="45.4" lengthAdjust="spacingAndGlyphs" class="i" font-size="21.5" transform="translate(2114.1,758.5) rotate(-45)">FHIT</text>
<path d="M1079.2 481.2 H1082.9 M1079.2 508 H1082.9 M1079.2 534.7 H1082.9 M1079.2 561.5 H1082.9 M1079.2 588.2 H1082.9 M1079.2 615 H1082.9 M1079.2 641.8 H1082.9 M1079.2 668.5 H1082.9 M1079.2 695.3 H1082.9 M1079.2 722 H1082.9 M1105.1 737.8 V742 M1142.2 737.8 V742 M1179.4 737.8 V742 M1216.5 737.8 V742 M1253.6 737.8 V742 M1290.8 737.8 V742 M1327.9 737.8 V742 M1365 737.8 V742 M1402.1 737.8 V742 M1439.3 737.8 V742 M1476.4 737.8 V742 M1513.5 737.8 V742 M1550.7 737.8 V742 M1587.8 737.8 V742 M1624.9 737.8 V742 M1662 737.8 V742 M1699.2 737.8 V742 M1736.3 737.8 V742 M1773.4 737.8 V742 M1810.6 737.8 V742 M1847.7 737.8 V742 M1884.8 737.8 V742 M1922 737.8 V742 M1959.1 737.8 V742 M1996.2 737.8 V742 M2033.3 737.8 V742 M2070.5 737.8 V742 M2107.6 737.8 V742" stroke="#000" stroke-width="1.6" fill="none"/>
<text x="1139.3" y="852.6" textLength="182.5" lengthAdjust="spacingAndGlyphs" font-size="21.5">Average expression</text>
<rect x="1338.1" y="837.6" width="125" height="17.8" fill="url(#eg)" stroke="#000" stroke-width="1.2"/>
<path d="M1338.5 837 V844.6 M1382.6 838 V844.6 M1426.9 838 V844.6" stroke="#fff" stroke-width="2.2"/>
<text x="1340.5" y="830.6" text-anchor="middle" font-size="21.5">0</text>
<text x="1382.8" y="830.6" text-anchor="middle" font-size="21.5">1</text>
<text x="1424.9" y="830.6" text-anchor="middle" font-size="21.5">2</text>
<text x="1602.9" y="855.0" textLength="207.5" lengthAdjust="spacingAndGlyphs" font-size="21.5">Percentage expressed</text>
<circle cx="1825.2" cy="849" r="0.9" fill="#000"/>
<text x="1834.0" y="855.0" textLength="11.0" lengthAdjust="spacingAndGlyphs" font-size="21.5">0</text>
<circle cx="1877.8" cy="849" r="2.9" fill="#000"/>
<text x="1886.6" y="855.0" textLength="22.5" lengthAdjust="spacingAndGlyphs" font-size="21.5">25</text>
<circle cx="1939.8" cy="849" r="5.8" fill="#000"/>
<text x="1950.9" y="855.0" textLength="22.5" lengthAdjust="spacingAndGlyphs" font-size="21.5">50</text>
<circle cx="2001.5" cy="849" r="8.4" fill="#000"/>
<text x="2014.4" y="855.0" textLength="22.5" lengthAdjust="spacingAndGlyphs" font-size="21.5">75</text>
<circle cx="2063.5" cy="849" r="10.2" fill="#000"/>
<text x="2077.5" y="855.0" textLength="33.0" lengthAdjust="spacingAndGlyphs" font-size="21.5">100</text>
<text x="-1.0" y="919.5" class="b" stroke="#000" stroke-width="0.7" font-size="34.5">e</text>
<text text-anchor="middle" textLength="164.5" lengthAdjust="spacingAndGlyphs" font-size="21.5" transform="translate(23.5,1027.0) rotate(-90)">Genes per culture</text>
<text x="109.7" y="938.6" textLength="114.0" lengthAdjust="spacingAndGlyphs" font-size="21.5">Upregulated</text>
<path d="M105.5 953 V1095.4" stroke="#000" stroke-width="2"/>
<path d="M97.5 990 H105.5" stroke="#000" stroke-width="2"/>
<text x="90.5" y="997.3" text-anchor="end" textLength="51.1" lengthAdjust="spacingAndGlyphs" font-size="21.5">2,000</text>
<path d="M97.5 1042.7 H105.5" stroke="#000" stroke-width="2"/>
<text x="90.5" y="1050.0" text-anchor="end" textLength="51.1" lengthAdjust="spacingAndGlyphs" font-size="21.5">1,000</text>
<path d="M97.5 1095.4 H105.5" stroke="#000" stroke-width="2"/>
<text x="90.5" y="1102.7" text-anchor="end" font-size="21.5">0</text>
<rect x="105.7" y="1102.2" width="40" height="374.2" fill="#f0f0f0"/>
<rect x="185.8" y="1102.2" width="40" height="374.2" fill="#f0f0f0"/>
<rect x="266" y="1102.2" width="40" height="374.2" fill="#f0f0f0"/>
<rect x="113.5" y="1051.1" width="24.4" height="44.3" fill="#cc2529" stroke="#000" stroke-width="2"/>
<rect x="153.6" y="960" width="24.4" height="135.4" fill="#cc2529" stroke="#000" stroke-width="2"/>
<rect x="193.6" y="1074.8" width="24.4" height="20.6" fill="#cc2529" stroke="#000" stroke-width="2"/>
<rect x="233.7" y="1079.8" width="24.4" height="15.6" fill="#cc2529" stroke="#000" stroke-width="2"/>
<rect x="273.8" y="1062.1" width="24.4" height="33.3" fill="#cc2529" stroke="#000" stroke-width="2"/>
<rect x="313.6" y="1036.4" width="24.4" height="59" fill="#cc2529" stroke="#000" stroke-width="2"/>
<path d="M125.7 1129.6 H325.8" stroke="#000" stroke-width="3.2"/>
<circle cx="125.7" cy="1129.6" r="8.1" fill="#0d9bd2"/>
<circle cx="165.8" cy="1129.6" r="8.1" fill="#0d9bd2"/>
<circle cx="205.8" cy="1129.6" r="8.1" fill="#0d9bd2"/>
<circle cx="245.9" cy="1129.6" r="8.1" fill="#0d9bd2"/>
<circle cx="286" cy="1129.6" r="8.1" fill="#0d9bd2"/>
<circle cx="325.8" cy="1129.6" r="8.1" fill="#0d9bd2"/>
<rect x="352.6" y="1113.4" width="101.8" height="30.6" fill="#ad1f24" stroke="#000" stroke-width="2.1"/>
<circle cx="325.8" cy="1182.6" r="8" fill="#cdcdcd"/>
<path d="M125.7 1182.6 H286" stroke="#000" stroke-width="3.2"/>
<circle cx="125.7" cy="1182.6" r="8.1" fill="#000"/>
<circle cx="165.8" cy="1182.6" r="8.1" fill="#000"/>
<circle cx="205.8" cy="1182.6" r="8.1" fill="#000"/>
<circle cx="245.9" cy="1182.6" r="8.1" fill="#000"/>
<circle cx="286" cy="1182.6" r="8.1" fill="#000"/>
<rect x="352.6" y="1166.4" width="54.8" height="30.6" fill="#b3b1b1" stroke="#000" stroke-width="2.1"/>
<circle cx="286" cy="1236" r="8" fill="#cdcdcd"/>
<path d="M125.7 1236 H325.8" stroke="#000" stroke-width="3.2"/>
<circle cx="125.7" cy="1236" r="8.1" fill="#000"/>
<circle cx="165.8" cy="1236" r="8.1" fill="#000"/>
<circle cx="205.8" cy="1236" r="8.1" fill="#000"/>
<circle cx="245.9" cy="1236" r="8.1" fill="#000"/>
<circle cx="325.8" cy="1236" r="8.1" fill="#000"/>
<rect x="352.6" y="1219.8" width="39.1" height="30.6" fill="#b3b1b1" stroke="#000" stroke-width="2.1"/>
<circle cx="245.9" cy="1289.5" r="8" fill="#cdcdcd"/>
<path d="M125.7 1289.5 H325.8" stroke="#000" stroke-width="3.2"/>
<circle cx="125.7" cy="1289.5" r="8.1" fill="#000"/>
<circle cx="165.8" cy="1289.5" r="8.1" fill="#000"/>
<circle cx="205.8" cy="1289.5" r="8.1" fill="#000"/>
<circle cx="286" cy="1289.5" r="8.1" fill="#000"/>
<circle cx="325.8" cy="1289.5" r="8.1" fill="#000"/>
<rect x="352.6" y="1273.3" width="101.8" height="30.6" fill="#b3b1b1" stroke="#000" stroke-width="2.1"/>
<circle cx="205.8" cy="1343.2" r="8" fill="#cdcdcd"/>
<path d="M125.7 1343.2 H325.8" stroke="#000" stroke-width="3.2"/>
<circle cx="125.7" cy="1343.2" r="8.1" fill="#000"/>
<circle cx="165.8" cy="1343.2" r="8.1" fill="#000"/>
<circle cx="245.9" cy="1343.2" r="8.1" fill="#000"/>
<circle cx="286" cy="1343.2" r="8.1" fill="#000"/>
<circle cx="325.8" cy="1343.2" r="8.1" fill="#000"/>
<rect x="352.6" y="1327" width="203.6" height="30.6" fill="#b3b1b1" stroke="#000" stroke-width="2.1"/>
<circle cx="165.8" cy="1396.6" r="8" fill="#f4f4f4"/>
<path d="M125.7 1396.6 H325.8" stroke="#000" stroke-width="3.2"/>
<circle cx="125.7" cy="1396.6" r="8.1" fill="#000"/>
<circle cx="205.8" cy="1396.6" r="8.1" fill="#000"/>
<circle cx="245.9" cy="1396.6" r="8.1" fill="#000"/>
<circle cx="286" cy="1396.6" r="8.1" fill="#000"/>
<circle cx="325.8" cy="1396.6" r="8.1" fill="#000"/>
<rect x="352.6" y="1380.4" width="39.1" height="30.6" fill="#b3b1b1" stroke="#000" stroke-width="2.1"/>
<circle cx="125.7" cy="1450.2" r="8" fill="#cdcdcd"/>
<path d="M165.8 1450.2 H325.8" stroke="#000" stroke-width="3.2"/>
<circle cx="165.8" cy="1450.2" r="8.1" fill="#000"/>
<circle cx="205.8" cy="1450.2" r="8.1" fill="#000"/>
<circle cx="245.9" cy="1450.2" r="8.1" fill="#000"/>
<circle cx="286" cy="1450.2" r="8.1" fill="#000"/>
<circle cx="325.8" cy="1450.2" r="8.1" fill="#000"/>
<rect x="352.6" y="1434" width="54.8" height="30.6" fill="#b3b1b1" stroke="#000" stroke-width="2.1"/>
<text text-anchor="end" textLength="52.0" lengthAdjust="spacingAndGlyphs" font-size="21.5" transform="translate(133.5,1486.8) rotate(-90)">D1C1</text>
<text text-anchor="end" textLength="52.0" lengthAdjust="spacingAndGlyphs" font-size="21.5" transform="translate(173.6,1486.8) rotate(-90)">D1C2</text>
<text text-anchor="end" textLength="52.0" lengthAdjust="spacingAndGlyphs" font-size="21.5" transform="translate(213.6,1486.8) rotate(-90)">D1C3</text>
<text text-anchor="end" textLength="52.0" lengthAdjust="spacingAndGlyphs" font-size="21.5" transform="translate(253.7,1486.8) rotate(-90)">D2C2</text>
<text text-anchor="end" textLength="52.0" lengthAdjust="spacingAndGlyphs" font-size="21.5" transform="translate(293.8,1486.8) rotate(-90)">D2C3</text>
<text text-anchor="end" textLength="52.0" lengthAdjust="spacingAndGlyphs" font-size="21.5" transform="translate(333.6,1486.8) rotate(-90)">D3C2</text>
<path d="M351.6 1476.4 H567.3" stroke="#000" stroke-width="2" fill="none"/>
<path d="M352.6 1476.4 V1484" stroke="#000" stroke-width="2"/>
<text text-anchor="end" font-size="21.5" transform="translate(360.2,1487.0) rotate(-90)">0</text>
<path d="M430.9 1476.4 V1484" stroke="#000" stroke-width="2"/>
<text text-anchor="end" textLength="22.7" lengthAdjust="spacingAndGlyphs" font-size="21.5" transform="translate(438.5,1487.0) rotate(-90)">10</text>
<path d="M509.2 1476.4 V1484" stroke="#000" stroke-width="2"/>
<text text-anchor="end" textLength="22.7" lengthAdjust="spacingAndGlyphs" font-size="21.5" transform="translate(516.8,1487.0) rotate(-90)">20</text>
<text x="369.5" y="1537.5" textLength="179.7" lengthAdjust="spacingAndGlyphs" font-size="21.5">No. of intersections</text>
<path d="M454.4 1144.8 L461.4 1160" stroke="#000" stroke-width="2"/>
<path d="M464.7 1167.5 L455.4 1159 L461 1159.3 L464.6 1155 Z" fill="#000"/>
<rect x="464.6" y="1168.6" width="103.6" height="103.1" fill="none" stroke="#bdb5b5" stroke-width="2.2" stroke-dasharray="8.6 8.5" stroke-dashoffset="4.3"/>
<text x="478.8" y="1203.0" textLength="68.0" lengthAdjust="spacingAndGlyphs" class="i" font-size="21.5">CLDN4</text>
<text x="478.8" y="1228.7" textLength="78.0" lengthAdjust="spacingAndGlyphs" class="i" font-size="21.5">TM4SF1</text>
<text x="478.8" y="1253.7" textLength="63.0" lengthAdjust="spacingAndGlyphs" class="i" font-size="21.5">ZFAS1</text>
<text x="627.3" y="938.6" textLength="141.0" lengthAdjust="spacingAndGlyphs" font-size="21.5">Downregulated</text>
<path d="M625.2 953 V1095.4" stroke="#000" stroke-width="2"/>
<path d="M617.2 978.6 H625.2" stroke="#000" stroke-width="2"/>
<text x="610.2" y="985.9" text-anchor="end" textLength="51.1" lengthAdjust="spacingAndGlyphs" font-size="21.5">3,000</text>
<path d="M617.2 1017.4 H625.2" stroke="#000" stroke-width="2"/>
<text x="610.2" y="1024.7" text-anchor="end" textLength="51.1" lengthAdjust="spacingAndGlyphs" font-size="21.5">2,000</text>
<path d="M617.2 1056.2 H625.2" stroke="#000" stroke-width="2"/>
<text x="610.2" y="1063.5" text-anchor="end" textLength="51.1" lengthAdjust="spacingAndGlyphs" font-size="21.5">1,000</text>
<path d="M617.2 1095.4 H625.2" stroke="#000" stroke-width="2"/>
<text x="610.2" y="1102.7" text-anchor="end" font-size="21.5">0</text>
<rect x="624.6" y="1102.2" width="40" height="374.2" fill="#f0f0f0"/>
<rect x="704.5" y="1102.2" width="40" height="374.2" fill="#f0f0f0"/>
<rect x="784.5" y="1102.2" width="40" height="374.2" fill="#f0f0f0"/>
<rect x="632.4" y="998.4" width="24.4" height="97" fill="#3472b8" stroke="#000" stroke-width="2"/>
<rect x="672.5" y="1061.7" width="24.4" height="33.7" fill="#3472b8" stroke="#000" stroke-width="2"/>
<rect x="712.3" y="1064.2" width="24.4" height="31.2" fill="#3472b8" stroke="#000" stroke-width="2"/>
<rect x="752.2" y="971.4" width="24.4" height="124" fill="#3472b8" stroke="#000" stroke-width="2"/>
<rect x="792.3" y="960" width="24.4" height="135.4" fill="#3472b8" stroke="#000" stroke-width="2"/>
<rect x="832.4" y="984.1" width="24.4" height="111.3" fill="#3472b8" stroke="#000" stroke-width="2"/>
<path d="M644.6 1129.6 H844.6" stroke="#000" stroke-width="3.2"/>
<circle cx="644.6" cy="1129.6" r="8.1" fill="#0d9bd2"/>
<circle cx="684.7" cy="1129.6" r="8.1" fill="#0d9bd2"/>
<circle cx="724.5" cy="1129.6" r="8.1" fill="#0d9bd2"/>
<circle cx="764.4" cy="1129.6" r="8.1" fill="#0d9bd2"/>
<circle cx="804.5" cy="1129.6" r="8.1" fill="#0d9bd2"/>
<circle cx="844.6" cy="1129.6" r="8.1" fill="#0d9bd2"/>
<rect x="872" y="1113.4" width="168.7" height="30.6" fill="#08589b" stroke="#000" stroke-width="2.1"/>
<circle cx="844.6" cy="1182.6" r="8" fill="#cdcdcd"/>
<path d="M644.6 1182.6 H804.5" stroke="#000" stroke-width="3.2"/>
<circle cx="644.6" cy="1182.6" r="8.1" fill="#000"/>
<circle cx="684.7" cy="1182.6" r="8.1" fill="#000"/>
<circle cx="724.5" cy="1182.6" r="8.1" fill="#000"/>
<circle cx="764.4" cy="1182.6" r="8.1" fill="#000"/>
<circle cx="804.5" cy="1182.6" r="8.1" fill="#000"/>
<rect x="872" y="1166.4" width="71.7" height="30.6" fill="#b3b1b1" stroke="#000" stroke-width="2.1"/>
<circle cx="804.5" cy="1236" r="8" fill="#cdcdcd"/>
<path d="M644.6 1236 H844.6" stroke="#000" stroke-width="3.2"/>
<circle cx="644.6" cy="1236" r="8.1" fill="#000"/>
<circle cx="684.7" cy="1236" r="8.1" fill="#000"/>
<circle cx="724.5" cy="1236" r="8.1" fill="#000"/>
<circle cx="764.4" cy="1236" r="8.1" fill="#000"/>
<circle cx="844.6" cy="1236" r="8.1" fill="#000"/>
<rect x="872" y="1219.8" width="25.3" height="30.6" fill="#b3b1b1" stroke="#000" stroke-width="2.1"/>
<circle cx="764.4" cy="1289.5" r="8" fill="#cdcdcd"/>
<path d="M644.6 1289.5 H844.6" stroke="#000" stroke-width="3.2"/>
<circle cx="644.6" cy="1289.5" r="8.1" fill="#000"/>
<circle cx="684.7" cy="1289.5" r="8.1" fill="#000"/>
<circle cx="724.5" cy="1289.5" r="8.1" fill="#000"/>
<circle cx="804.5" cy="1289.5" r="8.1" fill="#000"/>
<circle cx="844.6" cy="1289.5" r="8.1" fill="#000"/>
<rect x="872" y="1273.3" width="42.2" height="30.6" fill="#b3b1b1" stroke="#000" stroke-width="2.1"/>
<circle cx="724.5" cy="1343.2" r="8" fill="#cdcdcd"/>
<path d="M644.6 1343.2 H844.6" stroke="#000" stroke-width="3.2"/>
<circle cx="644.6" cy="1343.2" r="8.1" fill="#000"/>
<circle cx="684.7" cy="1343.2" r="8.1" fill="#000"/>
<circle cx="764.4" cy="1343.2" r="8.1" fill="#000"/>
<circle cx="804.5" cy="1343.2" r="8.1" fill="#000"/>
<circle cx="844.6" cy="1343.2" r="8.1" fill="#000"/>
<rect x="872" y="1327" width="177.2" height="30.6" fill="#b3b1b1" stroke="#000" stroke-width="2.1"/>
<circle cx="684.7" cy="1396.6" r="8" fill="#cdcdcd"/>
<path d="M644.6 1396.6 H844.6" stroke="#000" stroke-width="3.2"/>
<circle cx="644.6" cy="1396.6" r="8.1" fill="#000"/>
<circle cx="724.5" cy="1396.6" r="8.1" fill="#000"/>
<circle cx="764.4" cy="1396.6" r="8.1" fill="#000"/>
<circle cx="804.5" cy="1396.6" r="8.1" fill="#000"/>
<circle cx="844.6" cy="1396.6" r="8.1" fill="#000"/>
<rect x="872" y="1380.4" width="202.5" height="30.6" fill="#b3b1b1" stroke="#000" stroke-width="2.1"/>
<circle cx="644.6" cy="1450.2" r="8" fill="#cdcdcd"/>
<path d="M684.7 1450.2 H844.6" stroke="#000" stroke-width="3.2"/>
<circle cx="684.7" cy="1450.2" r="8.1" fill="#000"/>
<circle cx="724.5" cy="1450.2" r="8.1" fill="#000"/>
<circle cx="764.4" cy="1450.2" r="8.1" fill="#000"/>
<circle cx="804.5" cy="1450.2" r="8.1" fill="#000"/>
<circle cx="844.6" cy="1450.2" r="8.1" fill="#000"/>
<rect x="872" y="1434" width="105.5" height="30.6" fill="#b3b1b1" stroke="#000" stroke-width="2.1"/>
<text text-anchor="end" textLength="52.0" lengthAdjust="spacingAndGlyphs" font-size="21.5" transform="translate(652.4,1486.8) rotate(-90)">D1C1</text>
<text text-anchor="end" textLength="52.0" lengthAdjust="spacingAndGlyphs" font-size="21.5" transform="translate(692.5,1486.8) rotate(-90)">D1C2</text>
<text text-anchor="end" textLength="52.0" lengthAdjust="spacingAndGlyphs" font-size="21.5" transform="translate(732.3,1486.8) rotate(-90)">D1C3</text>
<text text-anchor="end" textLength="52.0" lengthAdjust="spacingAndGlyphs" font-size="21.5" transform="translate(772.2,1486.8) rotate(-90)">D2C2</text>
<text text-anchor="end" textLength="52.0" lengthAdjust="spacingAndGlyphs" font-size="21.5" transform="translate(812.3,1486.8) rotate(-90)">D2C3</text>
<text text-anchor="end" textLength="52.0" lengthAdjust="spacingAndGlyphs" font-size="21.5" transform="translate(852.4,1486.8) rotate(-90)">D3C2</text>
<path d="M871 1476.4 H1085" stroke="#000" stroke-width="2" fill="none"/>
<path d="M872 1476.4 V1484" stroke="#000" stroke-width="2"/>
<text text-anchor="end" font-size="21.5" transform="translate(879.6,1487.0) rotate(-90)">0</text>
<path d="M956.4 1476.4 V1484" stroke="#000" stroke-width="2"/>
<text text-anchor="end" textLength="22.7" lengthAdjust="spacingAndGlyphs" font-size="21.5" transform="translate(964.0,1487.0) rotate(-90)">20</text>
<path d="M1040.7 1476.4 V1484" stroke="#000" stroke-width="2"/>
<text text-anchor="end" textLength="22.7" lengthAdjust="spacingAndGlyphs" font-size="21.5" transform="translate(1048.3,1487.0) rotate(-90)">40</text>
<text x="887.6" y="1537.5" textLength="179.7" lengthAdjust="spacingAndGlyphs" font-size="21.5">No. of intersections</text>
<path d="M1040.7 1144.8 L1047.7 1160" stroke="#000" stroke-width="2"/>
<path d="M1051 1167.5 L1041.8 1159 L1047.4 1159.3 L1050.9 1155 Z" fill="#000"/>
<rect x="983" y="1172" width="91.9" height="97.6" fill="none" stroke="#bdb5b5" stroke-width="2.2" stroke-dasharray="8.6 8.5" stroke-dashoffset="4.3"/>
<text x="990.5" y="1203.0" textLength="48.0" lengthAdjust="spacingAndGlyphs" class="i" font-size="21.5">TFF2</text>
<text x="990.5" y="1228.7" textLength="37.0" lengthAdjust="spacingAndGlyphs" class="i" font-size="21.5">LYZ</text>
<text x="990.5" y="1253.7" textLength="78.0" lengthAdjust="spacingAndGlyphs" class="i" font-size="21.5">SPTBN1</text>
<text x="1132.5" y="919.0" class="b" stroke="#000" stroke-width="0.7" font-size="34.5">f</text>
<text x="1149.5" y="997.5" textLength="98.0" lengthAdjust="spacingAndGlyphs" font-size="21.5">Time point</text>
<rect x="1152" y="1014.4" width="31.3" height="28.7" fill="#2e2c84" stroke="#000" stroke-width="1.6"/>
<rect x="1152" y="1043.1" width="31.3" height="28.7" fill="#6b2c5c" stroke="#000" stroke-width="1.6"/>
<text x="1188.7" y="1036.8" textLength="34.0" lengthAdjust="spacingAndGlyphs" font-size="21.5">Mid</text>
<text x="1188.7" y="1065.9" textLength="41.0" lengthAdjust="spacingAndGlyphs" font-size="21.5">Late</text>
<text x="1155.0" y="1136.7" textLength="66.6" lengthAdjust="spacingAndGlyphs" font-size="21.5">Culture</text>
<rect x="1157.1" y="1151.5" width="30.8" height="28.65" fill="#bfd730" stroke="#000" stroke-width="1.6"/>
<text x="1194.2" y="1173.5" textLength="52.0" lengthAdjust="spacingAndGlyphs" font-size="21.5">D1C1</text>
<rect x="1157.1" y="1180.2" width="30.8" height="28.65" fill="#00a651" stroke="#000" stroke-width="1.6"/>
<text x="1194.2" y="1202.2" textLength="52.0" lengthAdjust="spacingAndGlyphs" font-size="21.5">D1C2</text>
<rect x="1157.1" y="1208.8" width="30.8" height="28.65" fill="#224b23" stroke="#000" stroke-width="1.6"/>
<text x="1194.2" y="1230.8" textLength="52.0" lengthAdjust="spacingAndGlyphs" font-size="21.5">D1C3</text>
<rect x="1157.1" y="1237.5" width="30.8" height="28.65" fill="#874118" stroke="#000" stroke-width="1.6"/>
<text x="1194.2" y="1259.5" textLength="52.0" lengthAdjust="spacingAndGlyphs" font-size="21.5">D2C2</text>
<rect x="1157.1" y="1266.1" width="30.8" height="28.65" fill="#000000" stroke="#000" stroke-width="1.6"/>
<text x="1194.2" y="1288.1" textLength="52.0" lengthAdjust="spacingAndGlyphs" font-size="21.5">D2C3</text>
<rect x="1157.1" y="1294.8" width="30.8" height="28.65" fill="#808080" stroke="#000" stroke-width="1.6"/>
<text x="1194.2" y="1316.8" textLength="52.0" lengthAdjust="spacingAndGlyphs" font-size="21.5">D3C2</text>
<rect x="1272.2" y="925.5" width="23.4" height="33.3" fill="#2e2c84" stroke="#000" stroke-width="1.6"/>
<rect x="1296.4" y="925.5" width="23.4" height="33.3" fill="#bfd730" stroke="#000" stroke-width="1.6"/>
<rect x="1272.2" y="958.8" width="23.4" height="33.3" fill="#6b2c5c" stroke="#000" stroke-width="1.6"/>
<rect x="1296.4" y="958.8" width="23.4" height="33.3" fill="#bfd730" stroke="#000" stroke-width="1.6"/>
<rect x="1272.2" y="992.1" width="23.4" height="33.3" fill="#2e2c84" stroke="#000" stroke-width="1.6"/>
<rect x="1296.4" y="992.1" width="23.4" height="33.3" fill="#00a651" stroke="#000" stroke-width="1.6"/>
<rect x="1272.2" y="1025.5" width="23.4" height="33.3" fill="#6b2c5c" stroke="#000" stroke-width="1.6"/>
<rect x="1296.4" y="1025.5" width="23.4" height="33.3" fill="#00a651" stroke="#000" stroke-width="1.6"/>
<rect x="1272.2" y="1058.8" width="23.4" height="33.3" fill="#2e2c84" stroke="#000" stroke-width="1.6"/>
<rect x="1296.4" y="1058.8" width="23.4" height="33.3" fill="#224b23" stroke="#000" stroke-width="1.6"/>
<rect x="1272.2" y="1092.1" width="23.4" height="33.3" fill="#6b2c5c" stroke="#000" stroke-width="1.6"/>
<rect x="1296.4" y="1092.1" width="23.4" height="33.3" fill="#224b23" stroke="#000" stroke-width="1.6"/>
<rect x="1272.2" y="1125.5" width="23.4" height="33.3" fill="#2e2c84" stroke="#000" stroke-width="1.6"/>
<rect x="1296.4" y="1125.5" width="23.4" height="33.3" fill="#874118" stroke="#000" stroke-width="1.6"/>
<rect x="1272.2" y="1158.8" width="23.4" height="33.3" fill="#6b2c5c" stroke="#000" stroke-width="1.6"/>
<rect x="1296.4" y="1158.8" width="23.4" height="33.3" fill="#874118" stroke="#000" stroke-width="1.6"/>
<rect x="1272.2" y="1192.1" width="23.4" height="33.3" fill="#2e2c84" stroke="#000" stroke-width="1.6"/>
<rect x="1296.4" y="1192.1" width="23.4" height="33.3" fill="#000000" stroke="#000" stroke-width="1.6"/>
<rect x="1272.2" y="1225.4" width="23.4" height="33.3" fill="#6b2c5c" stroke="#000" stroke-width="1.6"/>
<rect x="1296.4" y="1225.4" width="23.4" height="33.3" fill="#000000" stroke="#000" stroke-width="1.6"/>
<rect x="1272.2" y="1258.8" width="23.4" height="33.3" fill="#2e2c84" stroke="#000" stroke-width="1.6"/>
<rect x="1296.4" y="1258.8" width="23.4" height="33.3" fill="#808080" stroke="#000" stroke-width="1.6"/>
<rect x="1272.2" y="1292.1" width="23.4" height="33.3" fill="#6b2c5c" stroke="#000" stroke-width="1.6"/>
<rect x="1296.4" y="1292.1" width="23.4" height="33.3" fill="#808080" stroke="#000" stroke-width="1.6"/>
<rect x="1350.2" y="926.8" width="66.9" height="30.8" fill="#000"/>
<rect x="1419.5" y="926.8" width="66.9" height="30.8" fill="#000"/>
<rect x="1488.8" y="926.8" width="66.9" height="30.8" fill="#000"/>
<rect x="1696.7" y="926.8" width="66.9" height="30.8" fill="#000"/>
<rect x="1835.3" y="926.8" width="66.9" height="30.8" fill="#f2f2f2"/>
<rect x="1350.2" y="960.1" width="66.9" height="30.8" fill="#000"/>
<rect x="1419.5" y="960.1" width="66.9" height="30.8" fill="#000"/>
<rect x="1488.8" y="960.1" width="66.9" height="30.8" fill="#000"/>
<rect x="1627.4" y="960.1" width="66.9" height="30.8" fill="#000"/>
<rect x="1696.7" y="960.1" width="66.9" height="30.8" fill="#000"/>
<rect x="1766" y="960.1" width="66.9" height="30.8" fill="#e6e6e6"/>
<rect x="1973.9" y="960.1" width="66.9" height="30.8" fill="#f2f2f2"/>
<rect x="2043.2" y="960.1" width="66.9" height="30.8" fill="#b4b4b4"/>
<rect x="1350.2" y="993.4" width="66.9" height="30.8" fill="#f2f2f2"/>
<rect x="1419.5" y="993.4" width="66.9" height="30.8" fill="#b4b4b4"/>
<rect x="1627.4" y="993.4" width="66.9" height="30.8" fill="#e6e6e6"/>
<rect x="1766" y="993.4" width="66.9" height="30.8" fill="#000"/>
<rect x="1904.6" y="993.4" width="66.9" height="30.8" fill="#e6e6e6"/>
<rect x="2043.2" y="993.4" width="66.9" height="30.8" fill="#e6e6e6"/>
<rect x="1766" y="1026.7" width="66.9" height="30.8" fill="#000"/>
<rect x="1350.2" y="1060" width="66.9" height="30.8" fill="#000"/>
<rect x="1488.8" y="1060" width="66.9" height="30.8" fill="#e6e6e6"/>
<rect x="1558.1" y="1060" width="66.9" height="30.8" fill="#000"/>
<rect x="1627.4" y="1060" width="66.9" height="30.8" fill="#000"/>
<rect x="1696.7" y="1060" width="66.9" height="30.8" fill="#f2f2f2"/>
<rect x="1766" y="1060" width="66.9" height="30.8" fill="#000"/>
<rect x="1419.5" y="1093.4" width="66.9" height="30.8" fill="#000"/>
<rect x="1488.8" y="1093.4" width="66.9" height="30.8" fill="#cccccc"/>
<rect x="1558.1" y="1093.4" width="66.9" height="30.8" fill="#000"/>
<rect x="1627.4" y="1093.4" width="66.9" height="30.8" fill="#000"/>
<rect x="1696.7" y="1093.4" width="66.9" height="30.8" fill="#cccccc"/>
<rect x="1350.2" y="1126.7" width="66.9" height="30.8" fill="#000"/>
<rect x="1419.5" y="1126.7" width="66.9" height="30.8" fill="#000"/>
<rect x="1488.8" y="1126.7" width="66.9" height="30.8" fill="#000"/>
<rect x="1627.4" y="1126.7" width="66.9" height="30.8" fill="#cccccc"/>
<rect x="1696.7" y="1126.7" width="66.9" height="30.8" fill="#aaaaaa"/>
<rect x="1766" y="1126.7" width="66.9" height="30.8" fill="#000"/>
<rect x="1835.3" y="1126.7" width="66.9" height="30.8" fill="#000"/>
<rect x="1904.6" y="1126.7" width="66.9" height="30.8" fill="#000"/>
<rect x="1973.9" y="1126.7" width="66.9" height="30.8" fill="#cccccc"/>
<rect x="2043.2" y="1126.7" width="66.9" height="30.8" fill="#000"/>
<rect x="1350.2" y="1160" width="66.9" height="30.8" fill="#000"/>
<rect x="1419.5" y="1160" width="66.9" height="30.8" fill="#000"/>
<rect x="1488.8" y="1160" width="66.9" height="30.8" fill="#000"/>
<rect x="1558.1" y="1160" width="66.9" height="30.8" fill="#cccccc"/>
<rect x="1696.7" y="1160" width="66.9" height="30.8" fill="#000"/>
<rect x="1766" y="1160" width="66.9" height="30.8" fill="#000"/>
<rect x="1350.2" y="1193.4" width="66.9" height="30.8" fill="#000"/>
<rect x="1419.5" y="1193.4" width="66.9" height="30.8" fill="#000"/>
<rect x="1488.8" y="1193.4" width="66.9" height="30.8" fill="#000"/>
<rect x="1696.7" y="1193.4" width="66.9" height="30.8" fill="#000"/>
<rect x="1350.2" y="1226.7" width="66.9" height="30.8" fill="#000"/>
<rect x="1419.5" y="1226.7" width="66.9" height="30.8" fill="#b4b4b4"/>
<rect x="1488.8" y="1226.7" width="66.9" height="30.8" fill="#cccccc"/>
<rect x="1627.4" y="1226.7" width="66.9" height="30.8" fill="#e6e6e6"/>
<rect x="1696.7" y="1226.7" width="66.9" height="30.8" fill="#e6e6e6"/>
<rect x="1835.3" y="1226.7" width="66.9" height="30.8" fill="#000"/>
<rect x="1350.2" y="1260" width="66.9" height="30.8" fill="#000"/>
<rect x="1419.5" y="1260" width="66.9" height="30.8" fill="#000"/>
<rect x="1488.8" y="1260" width="66.9" height="30.8" fill="#000"/>
<rect x="1558.1" y="1260" width="66.9" height="30.8" fill="#e6e6e6"/>
<rect x="1696.7" y="1260" width="66.9" height="30.8" fill="#000"/>
<rect x="1835.3" y="1260" width="66.9" height="30.8" fill="#000"/>
<rect x="1904.6" y="1260" width="66.9" height="30.8" fill="#000"/>
<rect x="2043.2" y="1260" width="66.9" height="30.8" fill="#000"/>
<rect x="1350.2" y="1293.3" width="66.9" height="30.8" fill="#000"/>
<rect x="1419.5" y="1293.3" width="66.9" height="30.8" fill="#000"/>
<rect x="1488.8" y="1293.3" width="66.9" height="30.8" fill="#000"/>
<rect x="1558.1" y="1293.3" width="66.9" height="30.8" fill="#b4b4b4"/>
<rect x="1627.4" y="1293.3" width="66.9" height="30.8" fill="#cccccc"/>
<rect x="1696.7" y="1293.3" width="66.9" height="30.8" fill="#000"/>
<rect x="1766" y="1293.3" width="66.9" height="30.8" fill="#000"/>
<rect x="1904.6" y="1293.3" width="66.9" height="30.8" fill="#e6e6e6"/>
<ellipse cx="1383.7" cy="942.2" rx="11.5" ry="12.6" fill="#cc2529"/>
<ellipse cx="1453" cy="942.2" rx="8.8" ry="9.7" fill="#cc2529"/>
<ellipse cx="1522.2" cy="942.2" rx="9.2" ry="10.1" fill="#cc2529"/>
<ellipse cx="1591.6" cy="942.2" rx="7.5" ry="8.3" fill="#3472b8"/>
<ellipse cx="1660.9" cy="942.2" rx="6.2" ry="6.9" fill="#3472b8"/>
<ellipse cx="1730.2" cy="942.2" rx="8.8" ry="9.7" fill="#cc2529"/>
<ellipse cx="1799.5" cy="942.2" rx="5.8" ry="6.4" fill="#3472b8"/>
<ellipse cx="1868.8" cy="942.2" rx="5.4" ry="6" fill="#cc2529"/>
<ellipse cx="1938.1" cy="942.2" rx="5.4" ry="6" fill="#cc2529"/>
<ellipse cx="2007.3" cy="942.2" rx="4.6" ry="5" fill="#3472b8"/>
<ellipse cx="2076.7" cy="942.2" rx="5.4" ry="6" fill="#cc2529"/>
<ellipse cx="1383.7" cy="975.5" rx="11.5" ry="12.6" fill="#cc2529"/>
<ellipse cx="1453" cy="975.5" rx="8.3" ry="9.2" fill="#cc2529"/>
<ellipse cx="1522.2" cy="975.5" rx="9.2" ry="10.1" fill="#cc2529"/>
<ellipse cx="1591.6" cy="975.5" rx="7.5" ry="8.3" fill="#cc2529"/>
<ellipse cx="1660.9" cy="975.5" rx="7.5" ry="8.3" fill="#cc2529"/>
<ellipse cx="1730.2" cy="975.5" rx="8.3" ry="9.2" fill="#cc2529"/>
<ellipse cx="1799.5" cy="975.5" rx="6.2" ry="6.9" fill="#cc2529"/>
<ellipse cx="1868.8" cy="975.5" rx="5.8" ry="6.4" fill="#cc2529"/>
<ellipse cx="1938.1" cy="975.5" rx="4.6" ry="5" fill="#3472b8"/>
<ellipse cx="2007.3" cy="975.5" rx="6.6" ry="7.3" fill="#cc2529"/>
<ellipse cx="2076.7" cy="975.5" rx="7.1" ry="7.8" fill="#3472b8"/>
<ellipse cx="1383.7" cy="1008.8" rx="5.8" ry="6.4" fill="#3472b8"/>
<ellipse cx="1453" cy="1008.8" rx="7.5" ry="8.3" fill="#3472b8"/>
<ellipse cx="1522.2" cy="1008.8" rx="5.8" ry="6.4" fill="#cc2529"/>
<ellipse cx="1591.6" cy="1008.8" rx="7.1" ry="7.8" fill="#cc2529"/>
<ellipse cx="1660.9" cy="1008.8" rx="6.2" ry="6.9" fill="#3472b8"/>
<ellipse cx="1730.2" cy="1008.8" rx="6.2" ry="6.9" fill="#cc2529"/>
<ellipse cx="1799.5" cy="1008.8" rx="9.6" ry="10.6" fill="#cc2529"/>
<ellipse cx="1868.8" cy="1008.8" rx="5" ry="5.6" fill="#cc2529"/>
<ellipse cx="1938.1" cy="1008.8" rx="7.1" ry="7.8" fill="#3472b8"/>
<ellipse cx="2007.3" cy="1008.8" rx="6.6" ry="7.3" fill="#cc2529"/>
<ellipse cx="2076.7" cy="1008.8" rx="7.1" ry="7.8" fill="#3472b8"/>
<ellipse cx="1383.7" cy="1042.1" rx="6.2" ry="6.9" fill="#cc2529"/>
<ellipse cx="1453" cy="1042.1" rx="5.8" ry="6.4" fill="#cc2529"/>
<ellipse cx="1522.2" cy="1042.1" rx="5.4" ry="6" fill="#cc2529"/>
<ellipse cx="1591.6" cy="1042.1" rx="7.9" ry="8.7" fill="#cc2529"/>
<ellipse cx="1660.9" cy="1042.1" rx="5" ry="5.6" fill="#cc2529"/>
<ellipse cx="1730.2" cy="1042.1" rx="6.2" ry="6.9" fill="#cc2529"/>
<ellipse cx="1799.5" cy="1042.1" rx="10" ry="11" fill="#cc2529"/>
<ellipse cx="1868.8" cy="1042.1" rx="5.8" ry="6.4" fill="#cc2529"/>
<ellipse cx="1938.1" cy="1042.1" rx="5.8" ry="6.4" fill="#3472b8"/>
<ellipse cx="2007.3" cy="1042.1" rx="7.1" ry="7.8" fill="#cc2529"/>
<ellipse cx="2076.7" cy="1042.1" rx="5.8" ry="6.4" fill="#3472b8"/>
<ellipse cx="1383.7" cy="1075.5" rx="8.8" ry="9.7" fill="#cc2529"/>
<ellipse cx="1453" cy="1075.5" rx="5.8" ry="6.4" fill="#cc2529"/>
<ellipse cx="1522.2" cy="1075.5" rx="7.5" ry="8.3" fill="#cc2529"/>
<ellipse cx="1591.6" cy="1075.5" rx="10.4" ry="11.4" fill="#cc2529"/>
<ellipse cx="1660.9" cy="1075.5" rx="9.2" ry="10.1" fill="#cc2529"/>
<ellipse cx="1730.2" cy="1075.5" rx="6.2" ry="6.9" fill="#cc2529"/>
<ellipse cx="1799.5" cy="1075.5" rx="8.3" ry="9.2" fill="#cc2529"/>
<ellipse cx="1868.8" cy="1075.5" rx="4.6" ry="5" fill="#3472b8"/>
<ellipse cx="1938.1" cy="1075.5" rx="6.2" ry="6.9" fill="#3472b8"/>
<ellipse cx="2007.3" cy="1075.5" rx="4.2" ry="4.6" fill="#3472b8"/>
<ellipse cx="2076.7" cy="1075.5" rx="5" ry="5.6" fill="#3472b8"/>
<ellipse cx="1383.7" cy="1108.8" rx="5.4" ry="6" fill="#3472b8"/>
<ellipse cx="1453" cy="1108.8" rx="7.9" ry="8.7" fill="#cc2529"/>
<ellipse cx="1522.2" cy="1108.8" rx="7.5" ry="8.3" fill="#cc2529"/>
<ellipse cx="1591.6" cy="1108.8" rx="10.4" ry="11.4" fill="#cc2529"/>
<ellipse cx="1660.9" cy="1108.8" rx="10.4" ry="11.4" fill="#cc2529"/>
<ellipse cx="1730.2" cy="1108.8" rx="6.6" ry="7.3" fill="#cc2529"/>
<ellipse cx="1799.5" cy="1108.8" rx="5.8" ry="6.4" fill="#cc2529"/>
<ellipse cx="1868.8" cy="1108.8" rx="5" ry="5.6" fill="#3472b8"/>
<ellipse cx="1938.1" cy="1108.8" rx="5.4" ry="6" fill="#3472b8"/>
<ellipse cx="2007.3" cy="1108.8" rx="5.8" ry="6.4" fill="#3472b8"/>
<ellipse cx="2076.7" cy="1108.8" rx="5" ry="5.6" fill="#3472b8"/>
<ellipse cx="1383.7" cy="1142.1" rx="9.2" ry="10.1" fill="#cc2529"/>
<ellipse cx="1453" cy="1142.1" rx="8.8" ry="9.7" fill="#cc2529"/>
<ellipse cx="1522.2" cy="1142.1" rx="6.2" ry="6.9" fill="#cc2529"/>
<ellipse cx="1591.6" cy="1142.1" rx="5.4" ry="6" fill="#3472b8"/>
<ellipse cx="1660.9" cy="1142.1" rx="6.6" ry="7.3" fill="#3472b8"/>
<ellipse cx="1730.2" cy="1142.1" rx="5.8" ry="6.4" fill="#cc2529"/>
<ellipse cx="1799.5" cy="1142.1" rx="7.5" ry="8.3" fill="#3472b8"/>
<ellipse cx="1868.8" cy="1142.1" rx="10" ry="11" fill="#3472b8"/>
<ellipse cx="1938.1" cy="1142.1" rx="9.6" ry="10.6" fill="#3472b8"/>
<ellipse cx="2007.3" cy="1142.1" rx="7.1" ry="7.8" fill="#3472b8"/>
<ellipse cx="2076.7" cy="1142.1" rx="8.8" ry="9.7" fill="#3472b8"/>
<ellipse cx="1383.7" cy="1175.4" rx="7.5" ry="8.3" fill="#cc2529"/>
<ellipse cx="1453" cy="1175.4" rx="7.5" ry="8.3" fill="#cc2529"/>
<ellipse cx="1522.2" cy="1175.4" rx="6.2" ry="6.9" fill="#cc2529"/>
<ellipse cx="1591.6" cy="1175.4" rx="6.6" ry="7.3" fill="#cc2529"/>
<ellipse cx="1660.9" cy="1175.4" rx="5" ry="5.6" fill="#3472b8"/>
<ellipse cx="1730.2" cy="1175.4" rx="5.8" ry="6.4" fill="#cc2529"/>
<ellipse cx="1799.5" cy="1175.4" rx="8.3" ry="9.2" fill="#3472b8"/>
<ellipse cx="1868.8" cy="1175.4" rx="7.1" ry="7.8" fill="#3472b8"/>
<ellipse cx="1938.1" cy="1175.4" rx="6.6" ry="7.3" fill="#3472b8"/>
<ellipse cx="2007.3" cy="1175.4" rx="7.1" ry="7.8" fill="#3472b8"/>
<ellipse cx="2076.7" cy="1175.4" rx="6.6" ry="7.3" fill="#3472b8"/>
<ellipse cx="1383.7" cy="1208.8" rx="9.6" ry="10.6" fill="#cc2529"/>
<ellipse cx="1453" cy="1208.8" rx="10.9" ry="12" fill="#cc2529"/>
<ellipse cx="1522.2" cy="1208.8" rx="7.9" ry="8.7" fill="#cc2529"/>
<ellipse cx="1591.6" cy="1208.8" rx="5.8" ry="6.4" fill="#3472b8"/>
<ellipse cx="1660.9" cy="1208.8" rx="5" ry="5.6" fill="#3472b8"/>
<ellipse cx="1730.2" cy="1208.8" rx="6.2" ry="6.9" fill="#cc2529"/>
<ellipse cx="1799.5" cy="1208.8" rx="6.6" ry="7.3" fill="#3472b8"/>
<ellipse cx="1868.8" cy="1208.8" rx="6.6" ry="7.3" fill="#3472b8"/>
<ellipse cx="1938.1" cy="1208.8" rx="6.2" ry="6.9" fill="#3472b8"/>
<ellipse cx="2007.3" cy="1208.8" rx="7.1" ry="7.8" fill="#3472b8"/>
<ellipse cx="2076.7" cy="1208.8" rx="5.8" ry="6.4" fill="#3472b8"/>
<ellipse cx="1383.7" cy="1242.1" rx="7.5" ry="8.3" fill="#cc2529"/>
<ellipse cx="1453" cy="1242.1" rx="6.2" ry="6.9" fill="#cc2529"/>
<ellipse cx="1522.2" cy="1242.1" rx="6.6" ry="7.3" fill="#cc2529"/>
<ellipse cx="1591.6" cy="1242.1" rx="6.2" ry="6.9" fill="#3472b8"/>
<ellipse cx="1660.9" cy="1242.1" rx="5.8" ry="6.4" fill="#cc2529"/>
<ellipse cx="1730.2" cy="1242.1" rx="5.4" ry="6" fill="#cc2529"/>
<ellipse cx="1799.5" cy="1242.1" rx="6.6" ry="7.3" fill="#3472b8"/>
<ellipse cx="1868.8" cy="1242.1" rx="5.8" ry="6.4" fill="#cc2529"/>
<ellipse cx="1938.1" cy="1242.1" rx="5.4" ry="6" fill="#cc2529"/>
<ellipse cx="2007.3" cy="1242.1" rx="7.5" ry="8.3" fill="#3472b8"/>
<ellipse cx="2076.7" cy="1242.1" rx="5.4" ry="6" fill="#cc2529"/>
<ellipse cx="1383.7" cy="1275.4" rx="11.3" ry="12.4" fill="#cc2529"/>
<ellipse cx="1453" cy="1275.4" rx="7.9" ry="8.7" fill="#cc2529"/>
<ellipse cx="1522.2" cy="1275.4" rx="8.3" ry="9.2" fill="#cc2529"/>
<ellipse cx="1591.6" cy="1275.4" rx="7.5" ry="8.3" fill="#cc2529"/>
<ellipse cx="1660.9" cy="1275.4" rx="5.4" ry="6" fill="#3472b8"/>
<ellipse cx="1730.2" cy="1275.4" rx="8.3" ry="9.2" fill="#cc2529"/>
<ellipse cx="1799.5" cy="1275.4" rx="6.2" ry="6.9" fill="#3472b8"/>
<ellipse cx="1868.8" cy="1275.4" rx="7.9" ry="8.7" fill="#3472b8"/>
<ellipse cx="1938.1" cy="1275.4" rx="10" ry="11" fill="#3472b8"/>
<ellipse cx="2007.3" cy="1275.4" rx="4.2" ry="4.6" fill="#3472b8"/>
<ellipse cx="2076.7" cy="1275.4" rx="8.8" ry="9.7" fill="#3472b8"/>
<ellipse cx="1383.7" cy="1308.7" rx="11.7" ry="12.9" fill="#cc2529"/>
<ellipse cx="1453" cy="1308.7" rx="8.3" ry="9.2" fill="#cc2529"/>
<ellipse cx="1522.2" cy="1308.7" rx="9.2" ry="10.1" fill="#cc2529"/>
<ellipse cx="1591.6" cy="1308.7" rx="9.6" ry="10.6" fill="#cc2529"/>
<ellipse cx="1660.9" cy="1308.7" rx="7.1" ry="7.8" fill="#cc2529"/>
<ellipse cx="1730.2" cy="1308.7" rx="9.2" ry="10.1" fill="#cc2529"/>
<ellipse cx="1799.5" cy="1308.7" rx="7.5" ry="8.3" fill="#3472b8"/>
<ellipse cx="1868.8" cy="1308.7" rx="5" ry="5.6" fill="#cc2529"/>
<ellipse cx="1938.1" cy="1308.7" rx="7.1" ry="7.8" fill="#3472b8"/>
<ellipse cx="2007.3" cy="1308.7" rx="6.6" ry="7.3" fill="#cc2529"/>
<ellipse cx="2076.7" cy="1308.7" rx="6.2" ry="6.9" fill="#3472b8"/>
<rect x="1349.2" y="925.5" width="762.2" height="399.9" fill="none" stroke="#f5a11f" stroke-width="2.3"/>
<text text-anchor="end" textLength="51.8" lengthAdjust="spacingAndGlyphs" class="i" font-size="21.5" transform="translate(1380.2,1347.5) rotate(-45)">TNFA</text>
<text text-anchor="end" textLength="90.8" lengthAdjust="spacingAndGlyphs" class="i" font-size="21.5" transform="translate(1449.5,1347.5) rotate(-45)">HYPOXIA</text>
<text text-anchor="end" textLength="73.0" lengthAdjust="spacingAndGlyphs" class="i" font-size="21.5" transform="translate(1518.8,1347.5) rotate(-45)">APOPT.</text>
<text text-anchor="end" textLength="109.7" lengthAdjust="spacingAndGlyphs" class="i" font-size="21.5" transform="translate(1588.1,1347.5) rotate(-45)">CHOL HOM</text>
<text text-anchor="end" textLength="85.9" lengthAdjust="spacingAndGlyphs" class="i" font-size="21.5" transform="translate(1663.4,1347.5) rotate(-45)">MTORC1</text>
<text text-anchor="end" textLength="36.3" lengthAdjust="spacingAndGlyphs" class="i" font-size="21.5" transform="translate(1735.7,1347.5) rotate(-45)">P53</text>
<text text-anchor="end" textLength="93.1" lengthAdjust="spacingAndGlyphs" class="i" font-size="21.5" transform="translate(1805.0,1347.5) rotate(-45)">OX PHOS</text>
<text text-anchor="end" textLength="76.0" lengthAdjust="spacingAndGlyphs" class="i" font-size="21.5" transform="translate(1874.2,1347.5) rotate(-45)">MYC V1</text>
<text text-anchor="end" textLength="37.5" lengthAdjust="spacingAndGlyphs" class="i" font-size="21.5" transform="translate(1943.6,1347.5) rotate(-45)">E2F</text>
<text text-anchor="end" textLength="90.0" lengthAdjust="spacingAndGlyphs" class="i" font-size="21.5" transform="translate(2012.8,1347.5) rotate(-45)">DNA REP</text>
<text text-anchor="end" textLength="44.3" lengthAdjust="spacingAndGlyphs" class="i" font-size="21.5" transform="translate(2082.2,1347.5) rotate(-45)">G2M</text>
<text x="1227.5" y="1466.8" textLength="112.6" lengthAdjust="spacingAndGlyphs" font-size="21.5">GSEA score</text>
<circle cx="1243.6" cy="1497.3" r="17.3" fill="#cc2529" stroke="#000" stroke-width="2"/>
<text x="1243.6" y="1536.0" text-anchor="middle" textLength="28.4" lengthAdjust="spacingAndGlyphs" font-size="21.5">1.0</text>
<circle cx="1323.7" cy="1497.3" r="9" fill="#cc2529" stroke="#000" stroke-width="2"/>
<text x="1323.7" y="1536.0" text-anchor="middle" textLength="28.4" lengthAdjust="spacingAndGlyphs" font-size="21.5">0.5</text>
<text x="1401.7" y="1536.0" text-anchor="middle" font-size="21.5">0</text>
<circle cx="1485.2" cy="1497.3" r="9" fill="#3472b8" stroke="#000" stroke-width="2"/>
<text x="1485.2" y="1536.0" text-anchor="middle" textLength="39.8" lengthAdjust="spacingAndGlyphs" font-size="21.5">–0.5</text>
<circle cx="1573.4" cy="1497.3" r="17.3" fill="#3472b8" stroke="#000" stroke-width="2"/>
<text x="1573.4" y="1536.0" text-anchor="middle" textLength="39.8" lengthAdjust="spacingAndGlyphs" font-size="21.5">–1.0</text>
<text x="1687.3" y="1455" font-size="21.5" textLength="156.4" lengthAdjust="spacingAndGlyphs">Adjusted <tspan font-style="italic">P</tspan> value</text>
<rect x="1777" y="1468.9" width="14.4" height="25.3" fill="#f4f4f4"/>
<rect x="1790.9" y="1468.9" width="14.4" height="25.3" fill="#e9e9e9"/>
<rect x="1804.8" y="1468.9" width="14.4" height="25.3" fill="#dfdfdf"/>
<rect x="1818.7" y="1468.9" width="14.4" height="25.3" fill="#d4d4d4"/>
<rect x="1832.6" y="1468.9" width="14.4" height="25.3" fill="#cacaca"/>
<rect x="1846.5" y="1468.9" width="14.4" height="25.3" fill="#bfbfbf"/>
<rect x="1860.4" y="1468.9" width="14.4" height="25.3" fill="#b4b4b4"/>
<rect x="1874.3" y="1468.9" width="14.4" height="25.3" fill="#aaaaaa"/>
<rect x="1888.2" y="1468.9" width="14.4" height="25.3" fill="#9f9f9f"/>
<rect x="1902.1" y="1468.9" width="14.4" height="25.3" fill="#959595"/>
<rect x="1916" y="1468.9" width="14.4" height="25.3" fill="#8a8a8a"/>
<rect x="1929.9" y="1468.9" width="14.4" height="25.3" fill="#7f7f7f"/>
<rect x="1943.8" y="1468.9" width="14.4" height="25.3" fill="#757575"/>
<rect x="1957.7" y="1468.9" width="14.4" height="25.3" fill="#6a6a6a"/>
<rect x="1971.6" y="1468.9" width="14.4" height="25.3" fill="#5f5f5f"/>
<rect x="1985.5" y="1468.9" width="14.4" height="25.3" fill="#555555"/>
<rect x="1999.4" y="1468.9" width="14.4" height="25.3" fill="#4a4a4a"/>
<rect x="2013.3" y="1468.9" width="14.4" height="25.3" fill="#404040"/>
<rect x="2027.2" y="1468.9" width="14.4" height="25.3" fill="#353535"/>
<rect x="2041.1" y="1468.9" width="14.4" height="25.3" fill="#2a2a2a"/>
<rect x="2055" y="1468.9" width="14.4" height="25.3" fill="#202020"/>
<rect x="2068.9" y="1468.9" width="14.4" height="25.3" fill="#151515"/>
<rect x="2082.8" y="1468.9" width="14.4" height="25.3" fill="#0b0b0b"/>
<rect x="2096.7" y="1468.9" width="14.4" height="25.3" fill="#000000"/>
<rect x="1687.3" y="1468.9" width="423.3" height="25.3" fill="none" stroke="#000" stroke-width="2"/>
<path d="M1687.3 1494.2 V1503.5" stroke="#000" stroke-width="2"/>
<text x="1686.3" y="1530.0" text-anchor="middle" font-size="21.5">1</text>
<path d="M1826.4 1494.2 V1503.5" stroke="#000" stroke-width="2"/>
<text x="1827.4" y="1530" font-size="21.5" text-anchor="middle">10<tspan dy="-7" font-size="13.5">–2</tspan></text>
<path d="M1964.7 1494.2 V1503.5" stroke="#000" stroke-width="2"/>
<text x="1965.7" y="1530" font-size="21.5" text-anchor="middle">10<tspan dy="-7" font-size="13.5">–4</tspan></text>
<path d="M2102.6 1494.2 V1503.5" stroke="#000" stroke-width="2"/>
<text x="2103.6" y="1530" font-size="21.5" text-anchor="middle">10<tspan dy="-7" font-size="13.5">–6</tspan></text>
</svg>
</body></html>
